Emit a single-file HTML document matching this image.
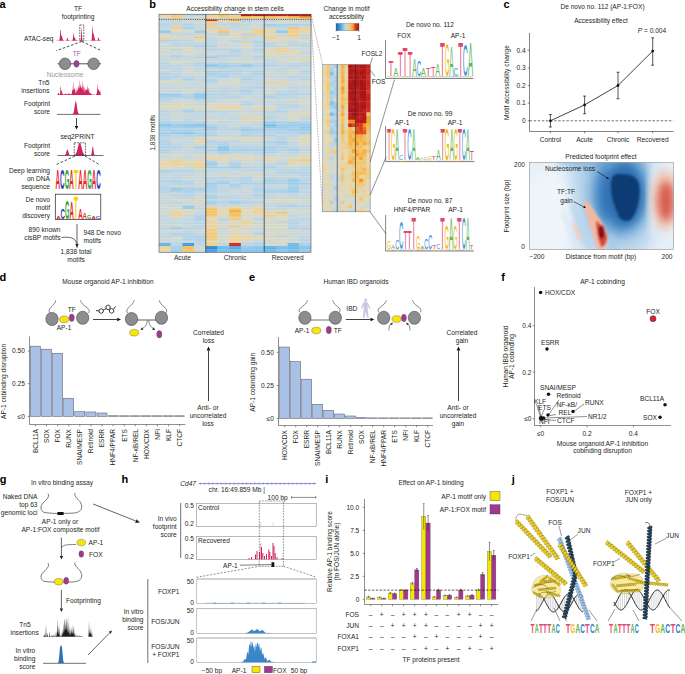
<!DOCTYPE html>
<html><head><meta charset="utf-8"><style>
html,body{margin:0;padding:0;background:#fff;}
body{width:685px;height:674px;overflow:hidden;}
svg{display:block;font-family:"Liberation Sans",sans-serif;}
</style></head><body>
<svg width="685" height="674" viewBox="0 0 685 674" font-size="6.6" fill="#231f20">
<rect width="685" height="674" fill="#fff"/>
<text x="-0.40" y="7.80" font-size="11" fill="#000" font-weight="bold">a</text>
<text x="78.00" y="10.50" text-anchor="middle">TF</text>
<text x="78.00" y="19.00" text-anchor="middle">footprinting</text>
<text x="53.50" y="40.50" text-anchor="end">ATAC-seq</text>
<path d="M56.50,40.80 L56.50,40.72 L56.75,40.29 L57.00,40.34 L57.25,40.65 L57.50,40.50 L57.75,40.53 L58.00,40.41 L58.25,40.33 L58.50,40.74 L58.75,40.77 L59.00,40.25 L59.25,40.30 L59.50,39.37 L59.75,37.93 L60.00,34.33 L60.25,30.51 L60.50,29.16 L60.75,30.38 L61.00,34.06 L61.25,36.02 L61.50,35.78 L61.75,35.71 L62.00,36.12 L62.25,37.35 L62.50,38.38 L62.75,39.07 L63.00,39.92 L63.25,40.21 L63.50,40.32 L63.75,40.41 L64.00,40.62 L64.25,40.65 L64.50,40.66 L64.75,40.52 L65.00,40.63 L65.25,40.79 L65.50,40.30 L65.75,40.47 L66.00,40.41 L66.25,40.64 L66.50,39.97 L66.75,39.48 L67.00,38.91 L67.25,37.80 L67.50,37.46 L67.75,38.33 L68.00,39.26 L68.25,40.23 L68.50,40.23 L68.75,40.39 L69.00,40.62 L69.25,40.45 L69.50,40.27 L69.75,40.29 L70.00,40.50 L70.25,40.45 L70.50,40.78 L70.75,40.65 L71.00,40.32 L71.25,40.55 L71.50,40.70 L71.75,40.47 L72.00,40.36 L72.25,40.31 L72.50,40.20 L72.75,39.28 L73.00,37.41 L73.25,34.79 L73.50,33.17 L73.75,33.47 L74.00,35.45 L74.25,37.94 L74.50,37.77 L74.75,37.54 L75.00,37.81 L75.25,38.62 L75.50,39.33 L75.75,39.95 L76.00,40.09 L76.25,40.01 L76.50,40.25 L76.75,40.44 L77.00,40.27 L77.25,40.66 L77.50,40.49 L77.75,40.23 L78.00,40.45 L78.25,40.52 L78.50,40.64 L78.75,40.47 L79.00,40.23 L79.25,40.80 L79.50,40.33 L79.75,40.31 L80.00,40.27 L80.25,40.35 L80.50,40.22 L80.75,39.78 L81.00,37.36 L81.25,32.36 L81.50,27.81 L81.75,27.96 L82.00,33.43 L82.25,38.27 L82.50,40.00 L82.75,40.45 L83.00,40.58 L83.25,40.59 L83.50,40.48 L83.75,40.43 L84.00,40.43 L84.25,40.53 L84.50,40.78 L84.75,40.66 L85.00,40.69 L85.25,40.45 L85.50,40.28 L85.75,40.32 L86.00,40.32 L86.25,40.31 L86.50,40.65 L86.75,40.29 L87.00,40.40 L87.25,40.75 L87.50,40.79 L87.75,40.79 L88.00,40.35 L88.25,40.65 L88.50,40.73 L88.75,40.43 L89.00,40.59 L89.25,40.76 L89.50,40.70 L89.75,40.48 L90.00,40.70 L90.25,40.64 L90.50,40.37 L90.75,40.52 L91.00,40.58 L91.25,40.44 L91.50,40.44 L91.75,39.00 L92.00,35.68 L92.25,30.46 L92.50,26.20 L92.75,26.28 L93.00,31.40 L93.25,34.05 L93.50,33.44 L93.75,33.69 L94.00,35.18 L94.25,36.54 L94.50,37.83 L94.75,38.62 L95.00,39.76 L95.25,39.92 L95.50,40.19 L95.75,40.40 L96.00,40.64 L96.25,40.21 L96.50,40.32 L96.75,40.49 L97.00,40.66 L97.25,40.38 L97.50,40.41 L97.75,39.85 L98.00,39.00 L98.25,37.54 L98.50,37.26 L98.75,37.74 L99.00,38.62 L99.25,39.67 L99.50,40.46 L99.75,40.26 L100.00,40.61 L100.25,40.24 L100.50,40.35 L100.75,40.55 L101.00,40.65 L101.25,40.79 L101.50,40.27 L101.50,40.80 Z" fill="#d0245a"/>
<rect x="79.80" y="25.00" width="4.00" height="16.00" fill="none" stroke="#222" stroke-width="0.7" stroke-dasharray="1.8,1"/>
<line x1="81.80" y1="41.50" x2="56.20" y2="50.70" stroke="#222" stroke-width="0.8" stroke-dasharray="2.6,1.8"/>
<line x1="81.80" y1="41.50" x2="101.50" y2="50.70" stroke="#222" stroke-width="0.8" stroke-dasharray="2.6,1.8"/>
<text x="76.70" y="56.00" text-anchor="middle" fill="#b24fb0">TF</text>
<line x1="57.50" y1="63.80" x2="101.00" y2="63.80" stroke="#444" stroke-width="0.9"/>
<ellipse cx="65.00" cy="63.80" rx="5.80" ry="5.80" fill="#8b8d91" stroke="#333" stroke-width="0.5"/>
<ellipse cx="93.60" cy="63.80" rx="5.80" ry="5.80" fill="#8b8d91" stroke="#333" stroke-width="0.5"/>
<ellipse cx="76.50" cy="63.80" rx="2.60" ry="3.40" fill="#a0409e" stroke="#333" stroke-width="0.4"/>
<text x="65.00" y="76.50" text-anchor="middle" fill="#9a9a9a">Nucleosome</text>
<text x="49.50" y="85.30" text-anchor="end">Tn5</text>
<text x="49.50" y="93.20" text-anchor="end">insertions</text>
<path d="M57.20,95.00 L57.20,94.04 L57.45,94.05 L57.70,94.89 L57.95,94.54 L58.20,92.94 L58.45,92.29 L58.70,92.74 L58.95,94.06 L59.20,94.27 L59.46,94.38 L59.71,94.37 L59.96,94.42 L60.21,92.24 L60.46,88.12 L60.71,85.28 L60.96,87.80 L61.21,90.49 L61.46,90.46 L61.71,90.79 L61.96,91.75 L62.21,92.98 L62.46,93.87 L62.71,94.02 L62.96,94.48 L63.21,94.55 L63.46,94.09 L63.71,94.44 L63.97,94.32 L64.22,94.47 L64.47,94.41 L64.72,93.82 L64.97,93.87 L65.22,93.58 L65.47,93.36 L65.72,93.97 L65.97,94.67 L66.22,94.06 L66.47,94.19 L66.72,94.26 L66.97,94.09 L67.22,94.23 L67.47,94.20 L67.72,94.60 L67.97,93.87 L68.23,93.68 L68.48,94.15 L68.73,93.21 L68.98,93.09 L69.23,93.46 L69.48,93.71 L69.73,94.10 L69.98,93.90 L70.23,94.44 L70.48,94.15 L70.73,94.64 L70.98,94.11 L71.23,94.07 L71.48,94.34 L71.73,93.64 L71.98,91.90 L72.23,90.26 L72.49,89.52 L72.74,90.57 L72.99,84.96 L73.24,80.45 L73.49,87.60 L73.74,90.33 L73.99,89.98 L74.24,88.44 L74.49,88.69 L74.74,88.34 L74.99,89.45 L75.24,90.81 L75.49,91.98 L75.74,92.83 L75.99,93.40 L76.24,92.78 L76.49,91.19 L76.74,89.22 L77.00,88.07 L77.25,89.06 L77.50,91.26 L77.75,90.63 L78.00,90.18 L78.25,86.71 L78.50,85.81 L78.75,86.85 L79.00,88.94 L79.25,87.92 L79.50,87.14 L79.75,79.56 L80.00,82.95 L80.25,87.44 L80.50,86.98 L80.75,83.27 L81.00,86.04 L81.26,87.70 L81.51,87.33 L81.76,88.16 L82.01,88.29 L82.26,82.22 L82.51,80.98 L82.76,89.47 L83.01,90.30 L83.26,87.66 L83.51,84.05 L83.76,88.12 L84.01,91.93 L84.26,92.52 L84.51,89.03 L84.76,86.23 L85.01,88.20 L85.26,91.50 L85.51,90.96 L85.77,89.56 L86.02,88.96 L86.27,89.12 L86.52,89.85 L86.77,90.11 L87.02,90.18 L87.27,90.47 L87.52,86.55 L87.77,85.27 L88.02,90.27 L88.27,92.05 L88.52,89.05 L88.77,87.25 L89.02,88.27 L89.27,90.62 L89.52,92.88 L89.77,93.61 L90.03,93.34 L90.28,93.17 L90.53,93.28 L90.78,93.05 L91.03,93.82 L91.28,94.45 L91.53,94.37 L91.78,94.07 L92.03,94.86 L92.28,94.41 L92.53,94.61 L92.78,94.49 L93.03,94.86 L93.28,94.04 L93.53,94.74 L93.78,94.39 L94.03,94.58 L94.29,94.98 L94.54,94.44 L94.79,94.86 L95.04,94.94 L95.29,94.96 L95.54,94.83 L95.79,94.89 L96.04,94.32 L96.29,94.38 L96.54,93.77 L96.79,93.56 L97.04,91.77 L97.29,86.28 L97.54,82.73 L97.79,88.71 L98.04,90.16 L98.29,89.54 L98.54,89.21 L98.80,89.62 L99.05,90.78 L99.30,91.53 L99.55,92.35 L99.80,91.01 L100.05,90.03 L100.30,91.55 L100.55,93.95 L100.80,94.13 L100.80,95.00 Z" fill="#d0245a"/>
<text x="50.00" y="106.00" text-anchor="end">Footprint</text>
<text x="50.00" y="114.00" text-anchor="end">score</text>
<line x1="57.00" y1="114.40" x2="100.40" y2="114.40" stroke="#333" stroke-width="0.7"/>
<path d="M70.00,114.20 L70.00,114.20 L70.25,114.20 L70.50,114.20 L70.75,114.20 L71.00,114.20 L71.25,114.20 L71.50,114.19 L71.75,114.19 L72.00,114.17 L72.25,114.13 L72.50,114.06 L72.75,113.92 L73.00,113.69 L73.25,113.31 L73.50,112.74 L73.75,111.91 L74.00,110.79 L74.25,109.38 L74.50,107.73 L74.75,105.96 L75.00,104.22 L75.25,102.73 L75.50,101.67 L75.75,101.21 L76.00,101.41 L76.25,102.24 L76.50,103.58 L76.75,105.25 L77.00,107.03 L77.25,108.75 L77.50,110.26 L77.75,111.50 L78.00,112.44 L78.25,113.11 L78.50,113.56 L78.75,113.84 L79.00,114.01 L79.25,114.10 L79.50,114.15 L79.75,114.18 L80.00,114.19 L80.25,114.20 L80.50,114.20 L80.75,114.20 L81.00,114.20 L81.25,114.20 L81.50,114.20 L81.75,114.20 L82.00,114.20 L82.00,114.20 Z" fill="#d0245a"/>
<line x1="76.50" y1="118.00" x2="76.50" y2="125.90" stroke="#111" stroke-width="0.8"/>
<path d="M76.50,129.50 L74.70,125.90 L78.30,125.90 Z" fill="#111"/>
<text x="77.50" y="138.50" text-anchor="middle">seq2PRINT</text>
<text x="50.00" y="148.00" text-anchor="end">Footprint</text>
<text x="50.00" y="155.70" text-anchor="end">score</text>
<line x1="57.40" y1="155.50" x2="103.50" y2="155.50" stroke="#333" stroke-width="0.7"/>
<path d="M62.00,155.30 L62.00,155.30 L62.25,155.30 L62.50,155.30 L62.75,155.30 L63.00,155.30 L63.25,155.30 L63.50,155.30 L63.75,155.29 L64.00,155.28 L64.25,155.26 L64.50,155.21 L64.75,155.13 L65.00,154.97 L65.25,154.73 L65.50,154.35 L65.75,153.81 L66.00,153.12 L66.25,152.31 L66.50,151.43 L66.75,150.60 L67.00,149.95 L67.25,149.56 L67.50,149.53 L67.75,149.84 L68.00,150.46 L68.25,151.26 L68.50,152.13 L68.75,152.97 L69.00,153.69 L69.25,154.25 L69.50,154.66 L69.75,154.93 L70.00,155.10 L70.25,155.20 L70.50,155.25 L70.75,155.28 L71.00,155.29 L71.25,155.30 L71.50,155.30 L71.75,155.30 L72.00,155.30 L72.25,155.29 L72.50,155.29 L72.75,155.28 L73.00,155.28 L73.25,155.26 L73.50,155.24 L73.75,155.21 L74.00,155.16 L74.25,155.10 L74.50,155.00 L74.75,154.88 L75.00,154.71 L75.25,154.50 L75.50,154.21 L75.75,153.86 L76.00,153.42 L76.25,152.90 L76.50,152.27 L76.75,151.56 L77.00,150.75 L77.25,149.86 L77.50,148.91 L77.75,147.92 L78.00,146.92 L78.25,145.96 L78.50,145.06 L78.75,144.27 L79.00,143.62 L79.25,143.15 L79.50,142.87 L79.75,142.80 L80.00,142.95 L80.25,143.31 L80.50,143.86 L80.75,144.57 L81.00,145.41 L81.25,146.34 L81.50,147.32 L81.75,148.32 L82.00,149.29 L82.25,150.22 L82.50,151.08 L82.75,151.85 L83.00,152.53 L83.25,153.12 L83.50,153.61 L83.75,154.01 L84.00,154.33 L84.25,154.59 L84.50,154.79 L84.75,154.93 L85.00,155.04 L85.25,155.12 L85.50,155.18 L85.75,155.22 L86.00,155.25 L86.25,155.27 L86.50,155.28 L86.75,155.29 L87.00,155.29 L87.25,155.30 L87.50,155.30 L87.75,155.30 L88.00,155.30 L88.25,155.30 L88.50,155.30 L88.75,155.30 L89.00,155.30 L89.25,155.30 L89.50,155.30 L89.75,155.30 L90.00,155.30 L90.25,155.29 L90.50,155.26 L90.75,155.18 L91.00,154.97 L91.25,154.52 L91.50,153.70 L91.75,152.38 L92.00,150.62 L92.25,148.69 L92.50,147.09 L92.75,146.32 L93.00,146.66 L93.25,147.98 L93.50,149.84 L93.75,151.72 L94.00,153.23 L94.25,154.25 L94.50,154.83 L94.75,155.11 L95.00,155.24 L95.25,155.28 L95.50,155.29 L95.75,155.30 L96.00,155.30 L96.25,155.30 L96.50,155.30 L96.75,155.30 L97.00,155.30 L97.25,155.30 L97.50,155.30 L97.75,155.30 L98.00,155.30 L98.00,155.30 Z" fill="#d0245a"/>
<rect x="74.30" y="142.80" width="11.10" height="12.40" fill="none" stroke="#222" stroke-width="0.7" stroke-dasharray="1.8,1"/>
<line x1="75.00" y1="156.00" x2="55.30" y2="165.00" stroke="#222" stroke-width="0.8" stroke-dasharray="2.6,1.8"/>
<line x1="85.00" y1="156.00" x2="100.00" y2="165.00" stroke="#222" stroke-width="0.8" stroke-dasharray="2.6,1.8"/>
<text x="50.00" y="173.00" text-anchor="end">Deep learning</text>
<text x="50.00" y="181.00" text-anchor="end">on DNA</text>
<text x="50.00" y="189.00" text-anchor="end">sequence</text>
<text x="50.00" y="201.50" text-anchor="end">De novo</text>
<text x="50.00" y="209.50" text-anchor="end">motif</text>
<text x="50.00" y="217.50" text-anchor="end">discovery</text>
<text transform="translate(55.60,188.50) scale(0.626,2.723)" font-size="10.0" font-weight="bold" fill="#e8262b">A</text>
<text transform="translate(60.12,188.50) scale(0.626,2.723)" font-size="10.0" font-weight="bold" fill="#2a3bbf">C</text>
<text transform="translate(64.64,188.50) scale(0.581,2.723)" font-size="10.0" font-weight="bold" fill="#2ea836">G</text>
<text transform="translate(69.16,188.50) scale(0.626,2.723)" font-size="10.0" font-weight="bold" fill="#e8262b">A</text>
<text transform="translate(73.68,188.50) scale(0.740,2.723)" font-size="10.0" font-weight="bold" fill="#f4d20a">T</text>
<text transform="translate(78.20,188.50) scale(0.626,2.723)" font-size="10.0" font-weight="bold" fill="#e8262b">A</text>
<text transform="translate(82.72,188.50) scale(0.626,2.723)" font-size="10.0" font-weight="bold" fill="#e8262b">A</text>
<text transform="translate(87.24,188.50) scale(0.581,2.723)" font-size="10.0" font-weight="bold" fill="#2ea836">G</text>
<text transform="translate(91.76,188.50) scale(0.626,2.723)" font-size="10.0" font-weight="bold" fill="#e8262b">A</text>
<text transform="translate(96.28,188.50) scale(0.626,2.723)" font-size="10.0" font-weight="bold" fill="#2a3bbf">C</text>
<rect x="55.30" y="194.20" width="45.50" height="25.30" fill="none" stroke="#222" stroke-width="0.7"/>
<text transform="translate(56.20,219.00) scale(0.609,0.349)" font-size="10.0" font-weight="bold" fill="#e8262b">A</text>
<text transform="translate(60.60,219.00) scale(0.609,1.536)" font-size="10.0" font-weight="bold" fill="#2a3bbf">C</text>
<text transform="translate(65.00,219.00) scale(0.566,2.654)" font-size="10.0" font-weight="bold" fill="#2ea836">G</text>
<text transform="translate(69.40,219.00) scale(0.609,2.374)" font-size="10.0" font-weight="bold" fill="#e8262b">A</text>
<text transform="translate(73.80,219.00) scale(0.720,3.212)" font-size="10.0" font-weight="bold" fill="#f4d20a">T</text>
<text transform="translate(78.20,219.00) scale(0.609,1.536)" font-size="10.0" font-weight="bold" fill="#e8262b">A</text>
<text transform="translate(82.60,219.00) scale(0.609,0.838)" font-size="10.0" font-weight="bold" fill="#e8262b">A</text>
<text transform="translate(87.00,219.00) scale(0.566,0.559)" font-size="10.0" font-weight="bold" fill="#2ea836">G</text>
<text transform="translate(91.40,219.00) scale(0.609,0.419)" font-size="10.0" font-weight="bold" fill="#e8262b">A</text>
<text transform="translate(95.80,219.00) scale(0.609,0.419)" font-size="10.0" font-weight="bold" fill="#2a3bbf">C</text>
<text x="60.50" y="231.50" text-anchor="end">890 known</text>
<text x="60.50" y="239.50" text-anchor="end">cisBP motifs</text>
<text x="83.50" y="234.50">948 De novo</text>
<text x="83.50" y="242.50">motifs</text>
<line x1="77.00" y1="224.00" x2="77.00" y2="244.00" stroke="#222" stroke-width="0.7"/>
<path d="M61.5,237.5 C70,236.5 75.5,238 76.3,243" fill="none" stroke="#222" stroke-width="0.7"/>
<path d="M77,248.5 L75.4,243.8 L78.6,243.8 Z" fill="#222"/>
<text x="76.00" y="253.50" text-anchor="middle">1,838 total</text>
<text x="76.00" y="261.50" text-anchor="middle">motifs</text>
<text x="149.20" y="7.70" font-size="11" fill="#000" font-weight="bold">b</text>
<text x="235.00" y="10.50" text-anchor="middle">Accessibility change in stem cells</text>
<rect x="159.00" y="14.20" width="11.74" height="1.85" fill="#ded8bc"/>
<rect x="170.69" y="14.20" width="11.74" height="1.85" fill="#eece8e"/>
<rect x="182.38" y="14.20" width="11.74" height="1.85" fill="#c8d8de"/>
<rect x="194.08" y="14.20" width="11.74" height="1.85" fill="#b1d3e7"/>
<rect x="205.77" y="14.20" width="11.74" height="1.85" fill="#e7d6ac"/>
<rect x="217.46" y="14.20" width="11.74" height="1.85" fill="#f3c56f"/>
<rect x="229.15" y="14.20" width="11.74" height="1.85" fill="#e7d6ac"/>
<rect x="240.85" y="14.20" width="11.74" height="1.85" fill="#b61b1a"/>
<rect x="252.54" y="14.20" width="11.74" height="1.85" fill="#b61b1a"/>
<rect x="264.23" y="14.20" width="11.74" height="1.85" fill="#c4211c"/>
<rect x="275.92" y="14.20" width="11.74" height="1.85" fill="#c4211c"/>
<rect x="287.62" y="14.20" width="11.74" height="1.85" fill="#b61b1a"/>
<rect x="299.31" y="14.20" width="11.74" height="1.85" fill="#b61b1a"/>
<rect x="159.00" y="16.00" width="11.74" height="1.85" fill="#ded8bc"/>
<rect x="170.69" y="16.00" width="11.74" height="1.85" fill="#f0ca7e"/>
<rect x="182.38" y="16.00" width="11.74" height="1.85" fill="#c1d6e2"/>
<rect x="194.08" y="16.00" width="11.74" height="1.85" fill="#d6d9cc"/>
<rect x="205.77" y="16.00" width="11.74" height="1.85" fill="#ebd39d"/>
<rect x="217.46" y="16.00" width="11.74" height="1.85" fill="#f0ca7e"/>
<rect x="229.15" y="16.00" width="11.74" height="1.85" fill="#eece8e"/>
<rect x="240.85" y="16.00" width="11.74" height="1.85" fill="#f5b850"/>
<rect x="252.54" y="16.00" width="11.74" height="1.85" fill="#f5c060"/>
<rect x="264.23" y="16.00" width="11.74" height="1.85" fill="#f5b850"/>
<rect x="275.92" y="16.00" width="11.74" height="1.85" fill="#f5c060"/>
<rect x="287.62" y="16.00" width="11.74" height="1.85" fill="#f5b040"/>
<rect x="299.31" y="16.00" width="11.74" height="1.85" fill="#ec8220"/>
<rect x="159.00" y="17.80" width="11.74" height="1.65" fill="#d9d8c6"/>
<rect x="170.69" y="17.80" width="11.74" height="1.65" fill="#ebd39d"/>
<rect x="182.38" y="17.80" width="11.74" height="1.65" fill="#cfd8d5"/>
<rect x="194.08" y="17.80" width="11.74" height="1.65" fill="#cfd8d5"/>
<rect x="205.77" y="17.80" width="11.74" height="1.65" fill="#e7d6ac"/>
<rect x="217.46" y="17.80" width="11.74" height="1.65" fill="#ebd39d"/>
<rect x="229.15" y="17.80" width="11.74" height="1.65" fill="#e7d6ac"/>
<rect x="240.85" y="17.80" width="11.74" height="1.65" fill="#ebd39d"/>
<rect x="252.54" y="17.80" width="11.74" height="1.65" fill="#e7d6ac"/>
<rect x="264.23" y="17.80" width="11.74" height="1.65" fill="#eece8e"/>
<rect x="275.92" y="17.80" width="11.74" height="1.65" fill="#e7d6ac"/>
<rect x="287.62" y="17.80" width="11.74" height="1.65" fill="#eece8e"/>
<rect x="299.31" y="17.80" width="11.74" height="1.65" fill="#f0ca7e"/>
<defs><clipPath id="hmc"><rect x="159" y="19.4" width="152" height="232.9"/></clipPath><filter id="vb" x="-5%" y="-5%" width="110%" height="110%"><feGaussianBlur stdDeviation="0.25 0.45"/></filter></defs>
<g clip-path="url(#hmc)"><g filter="url(#vb)">
<rect x="159.00" y="19.40" width="11.99" height="1.85" fill="#c2d7e1"/>
<rect x="170.69" y="19.40" width="11.99" height="1.85" fill="#d8d9c9"/>
<rect x="182.38" y="19.40" width="11.99" height="1.85" fill="#d5d9cd"/>
<rect x="194.08" y="19.40" width="11.99" height="1.85" fill="#d0d9d4"/>
<rect x="205.77" y="19.40" width="11.99" height="1.85" fill="#d2281e"/>
<rect x="217.46" y="19.40" width="11.99" height="1.85" fill="#cfd8d5"/>
<rect x="229.15" y="19.40" width="11.99" height="1.85" fill="#f5a830"/>
<rect x="240.85" y="19.40" width="11.99" height="1.85" fill="#bcd5e5"/>
<rect x="252.54" y="19.40" width="11.99" height="1.85" fill="#c9d8dd"/>
<rect x="264.23" y="19.40" width="11.99" height="1.85" fill="#c5d7e0"/>
<rect x="275.92" y="19.40" width="11.99" height="1.85" fill="#ccd8d9"/>
<rect x="287.62" y="19.40" width="11.99" height="1.85" fill="#cfd9d4"/>
<rect x="299.31" y="19.40" width="11.99" height="1.85" fill="#d4d9ce"/>
<rect x="159.00" y="20.95" width="11.99" height="1.85" fill="#c4d7e0"/>
<rect x="170.69" y="20.95" width="11.99" height="1.85" fill="#bbd5e5"/>
<rect x="182.38" y="20.95" width="11.99" height="1.85" fill="#ccd8d8"/>
<rect x="194.08" y="20.95" width="11.99" height="1.85" fill="#bfd6e3"/>
<rect x="205.77" y="20.95" width="11.99" height="1.85" fill="#eece8e"/>
<rect x="217.46" y="20.95" width="11.99" height="1.85" fill="#cfd8d5"/>
<rect x="229.15" y="20.95" width="11.99" height="1.85" fill="#e7d6ac"/>
<rect x="240.85" y="20.95" width="11.99" height="1.85" fill="#b4d3e7"/>
<rect x="252.54" y="20.95" width="11.99" height="1.85" fill="#c6d8df"/>
<rect x="264.23" y="20.95" width="11.99" height="1.85" fill="#c1d6e2"/>
<rect x="275.92" y="20.95" width="11.99" height="1.85" fill="#d1d9d2"/>
<rect x="287.62" y="20.95" width="11.99" height="1.85" fill="#ced8d7"/>
<rect x="299.31" y="20.95" width="11.99" height="1.85" fill="#bbd5e5"/>
<rect x="159.00" y="22.51" width="11.99" height="1.85" fill="#bbd5e6"/>
<rect x="170.69" y="22.51" width="11.99" height="1.85" fill="#c0d6e3"/>
<rect x="182.38" y="22.51" width="11.99" height="1.85" fill="#bdd6e4"/>
<rect x="194.08" y="22.51" width="11.99" height="1.85" fill="#d4d9cf"/>
<rect x="205.77" y="22.51" width="11.99" height="1.85" fill="#eece8e"/>
<rect x="217.46" y="22.51" width="11.99" height="1.85" fill="#c5d7e0"/>
<rect x="229.15" y="22.51" width="11.99" height="1.85" fill="#b8d5e6"/>
<rect x="240.85" y="22.51" width="11.99" height="1.85" fill="#ced8d6"/>
<rect x="252.54" y="22.51" width="11.99" height="1.85" fill="#d0d9d4"/>
<rect x="264.23" y="22.51" width="11.99" height="1.85" fill="#cfd8d5"/>
<rect x="275.92" y="22.51" width="11.99" height="1.85" fill="#cfd9d5"/>
<rect x="287.62" y="22.51" width="11.99" height="1.85" fill="#c6d8df"/>
<rect x="299.31" y="22.51" width="11.99" height="1.85" fill="#d1d9d3"/>
<rect x="159.00" y="24.06" width="11.99" height="1.85" fill="#b7d4e6"/>
<rect x="170.69" y="24.06" width="11.99" height="1.85" fill="#bfd6e3"/>
<rect x="182.38" y="24.06" width="11.99" height="1.85" fill="#afd2e8"/>
<rect x="194.08" y="24.06" width="11.99" height="1.85" fill="#c2d7e2"/>
<rect x="205.77" y="24.06" width="11.99" height="1.85" fill="#bfd6e3"/>
<rect x="217.46" y="24.06" width="11.99" height="1.85" fill="#b8d5e6"/>
<rect x="229.15" y="24.06" width="11.99" height="1.85" fill="#b9d5e6"/>
<rect x="240.85" y="24.06" width="11.99" height="1.85" fill="#c3d7e1"/>
<rect x="252.54" y="24.06" width="11.99" height="1.85" fill="#c9d8dd"/>
<rect x="264.23" y="24.06" width="11.99" height="1.85" fill="#9ecdea"/>
<rect x="275.92" y="24.06" width="11.99" height="1.85" fill="#a9d1e9"/>
<rect x="287.62" y="24.06" width="11.99" height="1.85" fill="#a5cfe9"/>
<rect x="299.31" y="24.06" width="11.99" height="1.85" fill="#aed2e8"/>
<rect x="159.00" y="25.61" width="11.99" height="1.85" fill="#bdd6e4"/>
<rect x="170.69" y="25.61" width="11.99" height="1.85" fill="#eece8e"/>
<rect x="182.38" y="25.61" width="11.99" height="1.85" fill="#bcd5e5"/>
<rect x="194.08" y="25.61" width="11.99" height="1.85" fill="#c5d7e0"/>
<rect x="205.77" y="25.61" width="11.99" height="1.85" fill="#edd094"/>
<rect x="217.46" y="25.61" width="11.99" height="1.85" fill="#d6d9cd"/>
<rect x="229.15" y="25.61" width="11.99" height="1.85" fill="#bbd5e5"/>
<rect x="240.85" y="25.61" width="11.99" height="1.85" fill="#cad8db"/>
<rect x="252.54" y="25.61" width="11.99" height="1.85" fill="#ced8d6"/>
<rect x="264.23" y="25.61" width="11.99" height="1.85" fill="#aad1e8"/>
<rect x="275.92" y="25.61" width="11.99" height="1.85" fill="#b3d3e7"/>
<rect x="287.62" y="25.61" width="11.99" height="1.85" fill="#c2d7e2"/>
<rect x="299.31" y="25.61" width="11.99" height="1.85" fill="#c4d7e0"/>
<rect x="159.00" y="27.16" width="11.99" height="1.85" fill="#bcd5e5"/>
<rect x="170.69" y="27.16" width="11.99" height="1.85" fill="#eece8e"/>
<rect x="182.38" y="27.16" width="11.99" height="1.85" fill="#a2cfea"/>
<rect x="194.08" y="27.16" width="11.99" height="1.85" fill="#c5d7e0"/>
<rect x="205.77" y="27.16" width="11.99" height="1.85" fill="#edd094"/>
<rect x="217.46" y="27.16" width="11.99" height="1.85" fill="#efcd89"/>
<rect x="229.15" y="27.16" width="11.99" height="1.85" fill="#c5d7e0"/>
<rect x="240.85" y="27.16" width="11.99" height="1.85" fill="#dbd8c3"/>
<rect x="252.54" y="27.16" width="11.99" height="1.85" fill="#ced8d6"/>
<rect x="264.23" y="27.16" width="11.99" height="1.85" fill="#c7d8de"/>
<rect x="275.92" y="27.16" width="11.99" height="1.85" fill="#bad5e6"/>
<rect x="287.62" y="27.16" width="11.99" height="1.85" fill="#f3c56f"/>
<rect x="299.31" y="27.16" width="11.99" height="1.85" fill="#ebd39d"/>
<rect x="159.00" y="28.72" width="11.99" height="1.85" fill="#cfd9d5"/>
<rect x="170.69" y="28.72" width="11.99" height="1.85" fill="#d7d9cb"/>
<rect x="182.38" y="28.72" width="11.99" height="1.85" fill="#c4d7e1"/>
<rect x="194.08" y="28.72" width="11.99" height="1.85" fill="#dcd8c0"/>
<rect x="205.77" y="28.72" width="11.99" height="1.85" fill="#e0d7b9"/>
<rect x="217.46" y="28.72" width="11.99" height="1.85" fill="#c8d8de"/>
<rect x="229.15" y="28.72" width="11.99" height="1.85" fill="#cad8db"/>
<rect x="240.85" y="28.72" width="11.99" height="1.85" fill="#c1d7e2"/>
<rect x="252.54" y="28.72" width="11.99" height="1.85" fill="#edd094"/>
<rect x="264.23" y="28.72" width="11.99" height="1.85" fill="#e6d7ae"/>
<rect x="275.92" y="28.72" width="11.99" height="1.85" fill="#ced8d6"/>
<rect x="287.62" y="28.72" width="11.99" height="1.85" fill="#eece8e"/>
<rect x="299.31" y="28.72" width="11.99" height="1.85" fill="#e0d7b8"/>
<rect x="159.00" y="30.27" width="11.99" height="1.85" fill="#94caea"/>
<rect x="170.69" y="30.27" width="11.99" height="1.85" fill="#e7d6ac"/>
<rect x="182.38" y="30.27" width="11.99" height="1.85" fill="#d1d9d3"/>
<rect x="194.08" y="30.27" width="11.99" height="1.85" fill="#a0ceea"/>
<rect x="205.77" y="30.27" width="11.99" height="1.85" fill="#d8d9c9"/>
<rect x="217.46" y="30.27" width="11.99" height="1.85" fill="#f3c56f"/>
<rect x="229.15" y="30.27" width="11.99" height="1.85" fill="#cbd8da"/>
<rect x="240.85" y="30.27" width="11.99" height="1.85" fill="#cfd9d5"/>
<rect x="252.54" y="30.27" width="11.99" height="1.85" fill="#eece8e"/>
<rect x="264.23" y="30.27" width="11.99" height="1.85" fill="#e9d6a7"/>
<rect x="275.92" y="30.27" width="11.99" height="1.85" fill="#94caea"/>
<rect x="287.62" y="30.27" width="11.99" height="1.85" fill="#eece8e"/>
<rect x="299.31" y="30.27" width="11.99" height="1.85" fill="#ebd49f"/>
<rect x="159.00" y="31.82" width="11.99" height="1.85" fill="#94caea"/>
<rect x="170.69" y="31.82" width="11.99" height="1.85" fill="#c6d8df"/>
<rect x="182.38" y="31.82" width="11.99" height="1.85" fill="#d3d9d0"/>
<rect x="194.08" y="31.82" width="11.99" height="1.85" fill="#a0ceea"/>
<rect x="205.77" y="31.82" width="11.99" height="1.85" fill="#dbd8c3"/>
<rect x="217.46" y="31.82" width="11.99" height="1.85" fill="#f3c56f"/>
<rect x="229.15" y="31.82" width="11.99" height="1.85" fill="#e3d7b3"/>
<rect x="240.85" y="31.82" width="11.99" height="1.85" fill="#e7d7ad"/>
<rect x="252.54" y="31.82" width="11.99" height="1.85" fill="#eece8e"/>
<rect x="264.23" y="31.82" width="11.99" height="1.85" fill="#e7d6ac"/>
<rect x="275.92" y="31.82" width="11.99" height="1.85" fill="#94caea"/>
<rect x="287.62" y="31.82" width="11.99" height="1.85" fill="#eece8d"/>
<rect x="299.31" y="31.82" width="11.99" height="1.85" fill="#e9d6a8"/>
<rect x="159.00" y="33.37" width="11.99" height="1.85" fill="#cad8dc"/>
<rect x="170.69" y="33.37" width="11.99" height="1.85" fill="#b9d5e6"/>
<rect x="182.38" y="33.37" width="11.99" height="1.85" fill="#b6d4e7"/>
<rect x="194.08" y="33.37" width="11.99" height="1.85" fill="#c3d7e1"/>
<rect x="205.77" y="33.37" width="11.99" height="1.85" fill="#bbd5e5"/>
<rect x="217.46" y="33.37" width="11.99" height="1.85" fill="#a9d1e9"/>
<rect x="229.15" y="33.37" width="11.99" height="1.85" fill="#d2d9d1"/>
<rect x="240.85" y="33.37" width="11.99" height="1.85" fill="#b1d3e7"/>
<rect x="252.54" y="33.37" width="11.99" height="1.85" fill="#eece8e"/>
<rect x="264.23" y="33.37" width="11.99" height="1.85" fill="#ded8bd"/>
<rect x="275.92" y="33.37" width="11.99" height="1.85" fill="#d5d9cd"/>
<rect x="287.62" y="33.37" width="11.99" height="1.85" fill="#ebd49f"/>
<rect x="299.31" y="33.37" width="11.99" height="1.85" fill="#c5d7e0"/>
<rect x="159.00" y="34.93" width="11.99" height="1.85" fill="#ddd8be"/>
<rect x="170.69" y="34.93" width="11.99" height="1.85" fill="#ebd39d"/>
<rect x="182.38" y="34.93" width="11.99" height="1.85" fill="#cdd8d8"/>
<rect x="194.08" y="34.93" width="11.99" height="1.85" fill="#e3d7b4"/>
<rect x="205.77" y="34.93" width="11.99" height="1.85" fill="#d1d9d3"/>
<rect x="217.46" y="34.93" width="11.99" height="1.85" fill="#c0d6e3"/>
<rect x="229.15" y="34.93" width="11.99" height="1.85" fill="#e0d7b9"/>
<rect x="240.85" y="34.93" width="11.99" height="1.85" fill="#c4d7e0"/>
<rect x="252.54" y="34.93" width="11.99" height="1.85" fill="#c2d7e1"/>
<rect x="264.23" y="34.93" width="11.99" height="1.85" fill="#ded8bd"/>
<rect x="275.92" y="34.93" width="11.99" height="1.85" fill="#c5d7e0"/>
<rect x="287.62" y="34.93" width="11.99" height="1.85" fill="#f1c879"/>
<rect x="299.31" y="34.93" width="11.99" height="1.85" fill="#c4d7e0"/>
<rect x="159.00" y="36.48" width="11.99" height="1.85" fill="#ebd5a2"/>
<rect x="170.69" y="36.48" width="11.99" height="1.85" fill="#d2d9d1"/>
<rect x="182.38" y="36.48" width="11.99" height="1.85" fill="#ccd8d9"/>
<rect x="194.08" y="36.48" width="11.99" height="1.85" fill="#f0ca7f"/>
<rect x="205.77" y="36.48" width="11.99" height="1.85" fill="#c8d8de"/>
<rect x="217.46" y="36.48" width="11.99" height="1.85" fill="#d8d9c9"/>
<rect x="229.15" y="36.48" width="11.99" height="1.85" fill="#d6d9cc"/>
<rect x="240.85" y="36.48" width="11.99" height="1.85" fill="#edd093"/>
<rect x="252.54" y="36.48" width="11.99" height="1.85" fill="#c2d7e2"/>
<rect x="264.23" y="36.48" width="11.99" height="1.85" fill="#eecf8f"/>
<rect x="275.92" y="36.48" width="11.99" height="1.85" fill="#ead6a5"/>
<rect x="287.62" y="36.48" width="11.99" height="1.85" fill="#e7d6ab"/>
<rect x="299.31" y="36.48" width="11.99" height="1.85" fill="#c4d7e0"/>
<rect x="159.00" y="38.03" width="11.99" height="1.85" fill="#e5d7b0"/>
<rect x="170.69" y="38.03" width="11.99" height="1.85" fill="#d3d9d0"/>
<rect x="182.38" y="38.03" width="11.99" height="1.85" fill="#d5d9cd"/>
<rect x="194.08" y="38.03" width="11.99" height="1.85" fill="#d9d9c6"/>
<rect x="205.77" y="38.03" width="11.99" height="1.85" fill="#c2d7e2"/>
<rect x="217.46" y="38.03" width="11.99" height="1.85" fill="#ccd8d9"/>
<rect x="229.15" y="38.03" width="11.99" height="1.85" fill="#d2d9d1"/>
<rect x="240.85" y="38.03" width="11.99" height="1.85" fill="#cad8dc"/>
<rect x="252.54" y="38.03" width="11.99" height="1.85" fill="#d2d9d1"/>
<rect x="264.23" y="38.03" width="11.99" height="1.85" fill="#ded8bd"/>
<rect x="275.92" y="38.03" width="11.99" height="1.85" fill="#d1d9d3"/>
<rect x="287.62" y="38.03" width="11.99" height="1.85" fill="#c9d8dd"/>
<rect x="299.31" y="38.03" width="11.99" height="1.85" fill="#c7d8de"/>
<rect x="159.00" y="39.58" width="11.99" height="1.85" fill="#acd1e8"/>
<rect x="170.69" y="39.58" width="11.99" height="1.85" fill="#b1d3e7"/>
<rect x="182.38" y="39.58" width="11.99" height="1.85" fill="#b8d4e6"/>
<rect x="194.08" y="39.58" width="11.99" height="1.85" fill="#cfd8d5"/>
<rect x="205.77" y="39.58" width="11.99" height="1.85" fill="#bbd5e6"/>
<rect x="217.46" y="39.58" width="11.99" height="1.85" fill="#d0d9d4"/>
<rect x="229.15" y="39.58" width="11.99" height="1.85" fill="#bed6e4"/>
<rect x="240.85" y="39.58" width="11.99" height="1.85" fill="#c6d8df"/>
<rect x="252.54" y="39.58" width="11.99" height="1.85" fill="#c1d7e2"/>
<rect x="264.23" y="39.58" width="11.99" height="1.85" fill="#e6d7ad"/>
<rect x="275.92" y="39.58" width="11.99" height="1.85" fill="#ead5a3"/>
<rect x="287.62" y="39.58" width="11.99" height="1.85" fill="#d2d9d1"/>
<rect x="299.31" y="39.58" width="11.99" height="1.85" fill="#ded8bd"/>
<rect x="159.00" y="41.14" width="11.99" height="1.85" fill="#bdd6e4"/>
<rect x="170.69" y="41.14" width="11.99" height="1.85" fill="#cad8dc"/>
<rect x="182.38" y="41.14" width="11.99" height="1.85" fill="#c9d8dd"/>
<rect x="194.08" y="41.14" width="11.99" height="1.85" fill="#d9d9c7"/>
<rect x="205.77" y="41.14" width="11.99" height="1.85" fill="#c4d7e0"/>
<rect x="217.46" y="41.14" width="11.99" height="1.85" fill="#d1d9d3"/>
<rect x="229.15" y="41.14" width="11.99" height="1.85" fill="#bfd6e3"/>
<rect x="240.85" y="41.14" width="11.99" height="1.85" fill="#bcd5e5"/>
<rect x="252.54" y="41.14" width="11.99" height="1.85" fill="#add1e8"/>
<rect x="264.23" y="41.14" width="11.99" height="1.85" fill="#d1d9d2"/>
<rect x="275.92" y="41.14" width="11.99" height="1.85" fill="#d0d9d3"/>
<rect x="287.62" y="41.14" width="11.99" height="1.85" fill="#bfd6e3"/>
<rect x="299.31" y="41.14" width="11.99" height="1.85" fill="#d8d9c8"/>
<rect x="159.00" y="42.69" width="11.99" height="1.85" fill="#d2d9d1"/>
<rect x="170.69" y="42.69" width="11.99" height="1.85" fill="#b8d4e6"/>
<rect x="182.38" y="42.69" width="11.99" height="1.85" fill="#c2d7e1"/>
<rect x="194.08" y="42.69" width="11.99" height="1.85" fill="#bcd5e5"/>
<rect x="205.77" y="42.69" width="11.99" height="1.85" fill="#bdd6e4"/>
<rect x="217.46" y="42.69" width="11.99" height="1.85" fill="#d4d9ce"/>
<rect x="229.15" y="42.69" width="11.99" height="1.85" fill="#d9d9c6"/>
<rect x="240.85" y="42.69" width="11.99" height="1.85" fill="#e9d6a8"/>
<rect x="252.54" y="42.69" width="11.99" height="1.85" fill="#bdd6e4"/>
<rect x="264.23" y="42.69" width="11.99" height="1.85" fill="#b7d4e6"/>
<rect x="275.92" y="42.69" width="11.99" height="1.85" fill="#cad8db"/>
<rect x="287.62" y="42.69" width="11.99" height="1.85" fill="#bed6e4"/>
<rect x="299.31" y="42.69" width="11.99" height="1.85" fill="#c3d7e1"/>
<rect x="159.00" y="44.24" width="11.99" height="1.85" fill="#cfd9d5"/>
<rect x="170.69" y="44.24" width="11.99" height="1.85" fill="#b5d4e7"/>
<rect x="182.38" y="44.24" width="11.99" height="1.85" fill="#b1d3e7"/>
<rect x="194.08" y="44.24" width="11.99" height="1.85" fill="#bcd6e5"/>
<rect x="205.77" y="44.24" width="11.99" height="1.85" fill="#bdd6e4"/>
<rect x="217.46" y="44.24" width="11.99" height="1.85" fill="#c2d7e1"/>
<rect x="229.15" y="44.24" width="11.99" height="1.85" fill="#c9d8dd"/>
<rect x="240.85" y="44.24" width="11.99" height="1.85" fill="#dcd8c0"/>
<rect x="252.54" y="44.24" width="11.99" height="1.85" fill="#bbd5e5"/>
<rect x="264.23" y="44.24" width="11.99" height="1.85" fill="#bcd6e5"/>
<rect x="275.92" y="44.24" width="11.99" height="1.85" fill="#ccd8d9"/>
<rect x="287.62" y="44.24" width="11.99" height="1.85" fill="#b2d3e7"/>
<rect x="299.31" y="44.24" width="11.99" height="1.85" fill="#b6d4e7"/>
<rect x="159.00" y="45.80" width="11.99" height="1.85" fill="#c3d7e1"/>
<rect x="170.69" y="45.80" width="11.99" height="1.85" fill="#c8d8de"/>
<rect x="182.38" y="45.80" width="11.99" height="1.85" fill="#cad8db"/>
<rect x="194.08" y="45.80" width="11.99" height="1.85" fill="#aad1e8"/>
<rect x="205.77" y="45.80" width="11.99" height="1.85" fill="#b0d2e8"/>
<rect x="217.46" y="45.80" width="11.99" height="1.85" fill="#dad8c5"/>
<rect x="229.15" y="45.80" width="11.99" height="1.85" fill="#ccd8d9"/>
<rect x="240.85" y="45.80" width="11.99" height="1.85" fill="#d3d9cf"/>
<rect x="252.54" y="45.80" width="11.99" height="1.85" fill="#bcd6e5"/>
<rect x="264.23" y="45.80" width="11.99" height="1.85" fill="#b5d4e7"/>
<rect x="275.92" y="45.80" width="11.99" height="1.85" fill="#c3d7e1"/>
<rect x="287.62" y="45.80" width="11.99" height="1.85" fill="#d0d9d4"/>
<rect x="299.31" y="45.80" width="11.99" height="1.85" fill="#b9d5e6"/>
<rect x="159.00" y="47.35" width="11.99" height="1.85" fill="#ddd8be"/>
<rect x="170.69" y="47.35" width="11.99" height="1.85" fill="#ded8bd"/>
<rect x="182.38" y="47.35" width="11.99" height="1.85" fill="#e2d7b5"/>
<rect x="194.08" y="47.35" width="11.99" height="1.85" fill="#cdd8d8"/>
<rect x="205.77" y="47.35" width="11.99" height="1.85" fill="#c4d7e0"/>
<rect x="217.46" y="47.35" width="11.99" height="1.85" fill="#cdd8d8"/>
<rect x="229.15" y="47.35" width="11.99" height="1.85" fill="#cad8db"/>
<rect x="240.85" y="47.35" width="11.99" height="1.85" fill="#dad8c4"/>
<rect x="252.54" y="47.35" width="11.99" height="1.85" fill="#c9d8dd"/>
<rect x="264.23" y="47.35" width="11.99" height="1.85" fill="#d1d9d3"/>
<rect x="275.92" y="47.35" width="11.99" height="1.85" fill="#ecd39c"/>
<rect x="287.62" y="47.35" width="11.99" height="1.85" fill="#dfd8bc"/>
<rect x="299.31" y="47.35" width="11.99" height="1.85" fill="#d2d9d2"/>
<rect x="159.00" y="48.90" width="11.99" height="1.85" fill="#ccd8d9"/>
<rect x="170.69" y="48.90" width="11.99" height="1.85" fill="#abd1e8"/>
<rect x="182.38" y="48.90" width="11.99" height="1.85" fill="#d7d9ca"/>
<rect x="194.08" y="48.90" width="11.99" height="1.85" fill="#c5d7df"/>
<rect x="205.77" y="48.90" width="11.99" height="1.85" fill="#add2e8"/>
<rect x="217.46" y="48.90" width="11.99" height="1.85" fill="#b1d2e7"/>
<rect x="229.15" y="48.90" width="11.99" height="1.85" fill="#b8d5e6"/>
<rect x="240.85" y="48.90" width="11.99" height="1.85" fill="#c5d7e0"/>
<rect x="252.54" y="48.90" width="11.99" height="1.85" fill="#add2e8"/>
<rect x="264.23" y="48.90" width="11.99" height="1.85" fill="#ddd8be"/>
<rect x="275.92" y="48.90" width="11.99" height="1.85" fill="#e6d7ae"/>
<rect x="287.62" y="48.90" width="11.99" height="1.85" fill="#c7d8df"/>
<rect x="299.31" y="48.90" width="11.99" height="1.85" fill="#c7d8df"/>
<rect x="159.00" y="50.45" width="11.99" height="1.85" fill="#d2d9d1"/>
<rect x="170.69" y="50.45" width="11.99" height="1.85" fill="#cdd8d8"/>
<rect x="182.38" y="50.45" width="11.99" height="1.85" fill="#d8d9c9"/>
<rect x="194.08" y="50.45" width="11.99" height="1.85" fill="#d3d9d0"/>
<rect x="205.77" y="50.45" width="11.99" height="1.85" fill="#c8d8de"/>
<rect x="217.46" y="50.45" width="11.99" height="1.85" fill="#d1d9d3"/>
<rect x="229.15" y="50.45" width="11.99" height="1.85" fill="#acd1e8"/>
<rect x="240.85" y="50.45" width="11.99" height="1.85" fill="#c6d8df"/>
<rect x="252.54" y="50.45" width="11.99" height="1.85" fill="#bdd6e4"/>
<rect x="264.23" y="50.45" width="11.99" height="1.85" fill="#ded8be"/>
<rect x="275.92" y="50.45" width="11.99" height="1.85" fill="#eecf8f"/>
<rect x="287.62" y="50.45" width="11.99" height="1.85" fill="#dfd8bb"/>
<rect x="299.31" y="50.45" width="11.99" height="1.85" fill="#ced8d7"/>
<rect x="159.00" y="52.01" width="11.99" height="1.85" fill="#cdd8d7"/>
<rect x="170.69" y="52.01" width="11.99" height="1.85" fill="#e0d7b8"/>
<rect x="182.38" y="52.01" width="11.99" height="1.85" fill="#d1d9d2"/>
<rect x="194.08" y="52.01" width="11.99" height="1.85" fill="#ddd8be"/>
<rect x="205.77" y="52.01" width="11.99" height="1.85" fill="#cbd8da"/>
<rect x="217.46" y="52.01" width="11.99" height="1.85" fill="#cdd8d8"/>
<rect x="229.15" y="52.01" width="11.99" height="1.85" fill="#c0d6e3"/>
<rect x="240.85" y="52.01" width="11.99" height="1.85" fill="#c8d8de"/>
<rect x="252.54" y="52.01" width="11.99" height="1.85" fill="#c7d8df"/>
<rect x="264.23" y="52.01" width="11.99" height="1.85" fill="#e1d7b6"/>
<rect x="275.92" y="52.01" width="11.99" height="1.85" fill="#dbd8c3"/>
<rect x="287.62" y="52.01" width="11.99" height="1.85" fill="#e7d6ac"/>
<rect x="299.31" y="52.01" width="11.99" height="1.85" fill="#c0d6e2"/>
<rect x="159.00" y="53.56" width="11.99" height="1.85" fill="#d6d9cc"/>
<rect x="170.69" y="53.56" width="11.99" height="1.85" fill="#c8d8de"/>
<rect x="182.38" y="53.56" width="11.99" height="1.85" fill="#d0d9d3"/>
<rect x="194.08" y="53.56" width="11.99" height="1.85" fill="#bad5e6"/>
<rect x="205.77" y="53.56" width="11.99" height="1.85" fill="#d4d9cf"/>
<rect x="217.46" y="53.56" width="11.99" height="1.85" fill="#c1d7e2"/>
<rect x="229.15" y="53.56" width="11.99" height="1.85" fill="#bdd6e4"/>
<rect x="240.85" y="53.56" width="11.99" height="1.85" fill="#d1d9d2"/>
<rect x="252.54" y="53.56" width="11.99" height="1.85" fill="#d0d9d3"/>
<rect x="264.23" y="53.56" width="11.99" height="1.85" fill="#d5d9cd"/>
<rect x="275.92" y="53.56" width="11.99" height="1.85" fill="#cdd8d7"/>
<rect x="287.62" y="53.56" width="11.99" height="1.85" fill="#ddd8bf"/>
<rect x="299.31" y="53.56" width="11.99" height="1.85" fill="#ccd8d9"/>
<rect x="159.00" y="55.11" width="11.99" height="1.85" fill="#c5d7e0"/>
<rect x="170.69" y="55.11" width="11.99" height="1.85" fill="#b3d3e7"/>
<rect x="182.38" y="55.11" width="11.99" height="1.85" fill="#cfd8d6"/>
<rect x="194.08" y="55.11" width="11.99" height="1.85" fill="#cbd8db"/>
<rect x="205.77" y="55.11" width="11.99" height="1.85" fill="#bdd6e4"/>
<rect x="217.46" y="55.11" width="11.99" height="1.85" fill="#b0d2e7"/>
<rect x="229.15" y="55.11" width="11.99" height="1.85" fill="#aed2e8"/>
<rect x="240.85" y="55.11" width="11.99" height="1.85" fill="#cad8db"/>
<rect x="252.54" y="55.11" width="11.99" height="1.85" fill="#bbd5e5"/>
<rect x="264.23" y="55.11" width="11.99" height="1.85" fill="#e5d7b0"/>
<rect x="275.92" y="55.11" width="11.99" height="1.85" fill="#dfd8bb"/>
<rect x="287.62" y="55.11" width="11.99" height="1.85" fill="#ccd8d9"/>
<rect x="299.31" y="55.11" width="11.99" height="1.85" fill="#d6d9cb"/>
<rect x="159.00" y="56.66" width="11.99" height="1.85" fill="#c9d8dc"/>
<rect x="170.69" y="56.66" width="11.99" height="1.85" fill="#b2d3e7"/>
<rect x="182.38" y="56.66" width="11.99" height="1.85" fill="#bfd6e3"/>
<rect x="194.08" y="56.66" width="11.99" height="1.85" fill="#b0d2e8"/>
<rect x="205.77" y="56.66" width="11.99" height="1.85" fill="#98cbea"/>
<rect x="217.46" y="56.66" width="11.99" height="1.85" fill="#c2d7e2"/>
<rect x="229.15" y="56.66" width="11.99" height="1.85" fill="#cfd8d5"/>
<rect x="240.85" y="56.66" width="11.99" height="1.85" fill="#c3d7e1"/>
<rect x="252.54" y="56.66" width="11.99" height="1.85" fill="#b3d3e7"/>
<rect x="264.23" y="56.66" width="11.99" height="1.85" fill="#ccd8d9"/>
<rect x="275.92" y="56.66" width="11.99" height="1.85" fill="#c6d8df"/>
<rect x="287.62" y="56.66" width="11.99" height="1.85" fill="#cdd8d8"/>
<rect x="299.31" y="56.66" width="11.99" height="1.85" fill="#cad8db"/>
<rect x="159.00" y="58.22" width="11.99" height="1.85" fill="#bdd6e4"/>
<rect x="170.69" y="58.22" width="11.99" height="1.85" fill="#ccd8d9"/>
<rect x="182.38" y="58.22" width="11.99" height="1.85" fill="#c8d8dd"/>
<rect x="194.08" y="58.22" width="11.99" height="1.85" fill="#d1d9d2"/>
<rect x="205.77" y="58.22" width="11.99" height="1.85" fill="#c1d7e2"/>
<rect x="217.46" y="58.22" width="11.99" height="1.85" fill="#c1d7e2"/>
<rect x="229.15" y="58.22" width="11.99" height="1.85" fill="#bed6e4"/>
<rect x="240.85" y="58.22" width="11.99" height="1.85" fill="#c9d8dd"/>
<rect x="252.54" y="58.22" width="11.99" height="1.85" fill="#c2d7e2"/>
<rect x="264.23" y="58.22" width="11.99" height="1.85" fill="#c4d7e0"/>
<rect x="275.92" y="58.22" width="11.99" height="1.85" fill="#d9d9c7"/>
<rect x="287.62" y="58.22" width="11.99" height="1.85" fill="#ded8bd"/>
<rect x="299.31" y="58.22" width="11.99" height="1.85" fill="#e9d6a8"/>
<rect x="159.00" y="59.77" width="11.99" height="1.85" fill="#cdd8d7"/>
<rect x="170.69" y="59.77" width="11.99" height="1.85" fill="#cdd8d7"/>
<rect x="182.38" y="59.77" width="11.99" height="1.85" fill="#ced8d6"/>
<rect x="194.08" y="59.77" width="11.99" height="1.85" fill="#dad8c5"/>
<rect x="205.77" y="59.77" width="11.99" height="1.85" fill="#ced8d7"/>
<rect x="217.46" y="59.77" width="11.99" height="1.85" fill="#c5d7e0"/>
<rect x="229.15" y="59.77" width="11.99" height="1.85" fill="#cfd9d5"/>
<rect x="240.85" y="59.77" width="11.99" height="1.85" fill="#c9d8dd"/>
<rect x="252.54" y="59.77" width="11.99" height="1.85" fill="#c8d8de"/>
<rect x="264.23" y="59.77" width="11.99" height="1.85" fill="#c4d7e0"/>
<rect x="275.92" y="59.77" width="11.99" height="1.85" fill="#d0d9d3"/>
<rect x="287.62" y="59.77" width="11.99" height="1.85" fill="#d2d9d2"/>
<rect x="299.31" y="59.77" width="11.99" height="1.85" fill="#e3d7b2"/>
<rect x="159.00" y="61.32" width="11.99" height="1.85" fill="#c4d7e0"/>
<rect x="170.69" y="61.32" width="11.99" height="1.85" fill="#dfd8ba"/>
<rect x="182.38" y="61.32" width="11.99" height="1.85" fill="#d6d9cc"/>
<rect x="194.08" y="61.32" width="11.99" height="1.85" fill="#c6d7df"/>
<rect x="205.77" y="61.32" width="11.99" height="1.85" fill="#cdd8d8"/>
<rect x="217.46" y="61.32" width="11.99" height="1.85" fill="#cbd8da"/>
<rect x="229.15" y="61.32" width="11.99" height="1.85" fill="#dad8c4"/>
<rect x="240.85" y="61.32" width="11.99" height="1.85" fill="#dad8c4"/>
<rect x="252.54" y="61.32" width="11.99" height="1.85" fill="#d2d9d1"/>
<rect x="264.23" y="61.32" width="11.99" height="1.85" fill="#bfd6e3"/>
<rect x="275.92" y="61.32" width="11.99" height="1.85" fill="#c8d8de"/>
<rect x="287.62" y="61.32" width="11.99" height="1.85" fill="#d6d9cc"/>
<rect x="299.31" y="61.32" width="11.99" height="1.85" fill="#c5d7e0"/>
<rect x="159.00" y="62.87" width="11.99" height="1.85" fill="#b9d5e6"/>
<rect x="170.69" y="62.87" width="11.99" height="1.85" fill="#d0d9d4"/>
<rect x="182.38" y="62.87" width="11.99" height="1.85" fill="#c2d7e1"/>
<rect x="194.08" y="62.87" width="11.99" height="1.85" fill="#b6d4e7"/>
<rect x="205.77" y="62.87" width="11.99" height="1.85" fill="#b1d2e7"/>
<rect x="217.46" y="62.87" width="11.99" height="1.85" fill="#b2d3e7"/>
<rect x="229.15" y="62.87" width="11.99" height="1.85" fill="#b7d4e6"/>
<rect x="240.85" y="62.87" width="11.99" height="1.85" fill="#bdd6e4"/>
<rect x="252.54" y="62.87" width="11.99" height="1.85" fill="#bed6e3"/>
<rect x="264.23" y="62.87" width="11.99" height="1.85" fill="#c1d6e2"/>
<rect x="275.92" y="62.87" width="11.99" height="1.85" fill="#cad8db"/>
<rect x="287.62" y="62.87" width="11.99" height="1.85" fill="#c0d6e3"/>
<rect x="299.31" y="62.87" width="11.99" height="1.85" fill="#b8d4e6"/>
<rect x="159.00" y="64.43" width="11.99" height="1.85" fill="#bcd5e5"/>
<rect x="170.69" y="64.43" width="11.99" height="1.85" fill="#bad5e6"/>
<rect x="182.38" y="64.43" width="11.99" height="1.85" fill="#c0d6e2"/>
<rect x="194.08" y="64.43" width="11.99" height="1.85" fill="#b5d4e7"/>
<rect x="205.77" y="64.43" width="11.99" height="1.85" fill="#84c4e9"/>
<rect x="217.46" y="64.43" width="11.99" height="1.85" fill="#a2ceea"/>
<rect x="229.15" y="64.43" width="11.99" height="1.85" fill="#add2e8"/>
<rect x="240.85" y="64.43" width="11.99" height="1.85" fill="#8fc8ea"/>
<rect x="252.54" y="64.43" width="11.99" height="1.85" fill="#aed2e8"/>
<rect x="264.23" y="64.43" width="11.99" height="1.85" fill="#b0d2e8"/>
<rect x="275.92" y="64.43" width="11.99" height="1.85" fill="#b9d5e6"/>
<rect x="287.62" y="64.43" width="11.99" height="1.85" fill="#b1d3e7"/>
<rect x="299.31" y="64.43" width="11.99" height="1.85" fill="#b4d3e7"/>
<rect x="159.00" y="65.98" width="11.99" height="1.85" fill="#bed6e4"/>
<rect x="170.69" y="65.98" width="11.99" height="1.85" fill="#c3d7e1"/>
<rect x="182.38" y="65.98" width="11.99" height="1.85" fill="#d4d9ce"/>
<rect x="194.08" y="65.98" width="11.99" height="1.85" fill="#c4d7e0"/>
<rect x="205.77" y="65.98" width="11.99" height="1.85" fill="#a0ceea"/>
<rect x="217.46" y="65.98" width="11.99" height="1.85" fill="#a3cfea"/>
<rect x="229.15" y="65.98" width="11.99" height="1.85" fill="#add2e8"/>
<rect x="240.85" y="65.98" width="11.99" height="1.85" fill="#a8d0e9"/>
<rect x="252.54" y="65.98" width="11.99" height="1.85" fill="#bed6e4"/>
<rect x="264.23" y="65.98" width="11.99" height="1.85" fill="#c1d7e2"/>
<rect x="275.92" y="65.98" width="11.99" height="1.85" fill="#c6d8df"/>
<rect x="287.62" y="65.98" width="11.99" height="1.85" fill="#bed6e4"/>
<rect x="299.31" y="65.98" width="11.99" height="1.85" fill="#cad8db"/>
<rect x="159.00" y="67.53" width="11.99" height="1.85" fill="#b8d5e6"/>
<rect x="170.69" y="67.53" width="11.99" height="1.85" fill="#b9d5e6"/>
<rect x="182.38" y="67.53" width="11.99" height="1.85" fill="#c6d8df"/>
<rect x="194.08" y="67.53" width="11.99" height="1.85" fill="#c3d7e1"/>
<rect x="205.77" y="67.53" width="11.99" height="1.85" fill="#b8d4e6"/>
<rect x="217.46" y="67.53" width="11.99" height="1.85" fill="#abd1e8"/>
<rect x="229.15" y="67.53" width="11.99" height="1.85" fill="#c0d6e3"/>
<rect x="240.85" y="67.53" width="11.99" height="1.85" fill="#bbd5e5"/>
<rect x="252.54" y="67.53" width="11.99" height="1.85" fill="#bdd6e4"/>
<rect x="264.23" y="67.53" width="11.99" height="1.85" fill="#c7d8df"/>
<rect x="275.92" y="67.53" width="11.99" height="1.85" fill="#c2d7e1"/>
<rect x="287.62" y="67.53" width="11.99" height="1.85" fill="#bcd6e5"/>
<rect x="299.31" y="67.53" width="11.99" height="1.85" fill="#ccd8d8"/>
<rect x="159.00" y="69.09" width="11.99" height="1.85" fill="#d6d9cc"/>
<rect x="170.69" y="69.09" width="11.99" height="1.85" fill="#c1d6e2"/>
<rect x="182.38" y="69.09" width="11.99" height="1.85" fill="#d6d9cd"/>
<rect x="194.08" y="69.09" width="11.99" height="1.85" fill="#c6d7df"/>
<rect x="205.77" y="69.09" width="11.99" height="1.85" fill="#d1d9d2"/>
<rect x="217.46" y="69.09" width="11.99" height="1.85" fill="#d6d9cc"/>
<rect x="229.15" y="69.09" width="11.99" height="1.85" fill="#bcd5e5"/>
<rect x="240.85" y="69.09" width="11.99" height="1.85" fill="#c9d8dc"/>
<rect x="252.54" y="69.09" width="11.99" height="1.85" fill="#d2d9d1"/>
<rect x="264.23" y="69.09" width="11.99" height="1.85" fill="#cbd8da"/>
<rect x="275.92" y="69.09" width="11.99" height="1.85" fill="#c3d7e1"/>
<rect x="287.62" y="69.09" width="11.99" height="1.85" fill="#d6d9cc"/>
<rect x="299.31" y="69.09" width="11.99" height="1.85" fill="#cfd9d4"/>
<rect x="159.00" y="70.64" width="11.99" height="1.85" fill="#c4d7e0"/>
<rect x="170.69" y="70.64" width="11.99" height="1.85" fill="#bdd6e5"/>
<rect x="182.38" y="70.64" width="11.99" height="1.85" fill="#d2d9d2"/>
<rect x="194.08" y="70.64" width="11.99" height="1.85" fill="#bfd6e3"/>
<rect x="205.77" y="70.64" width="11.99" height="1.85" fill="#a6d0e9"/>
<rect x="217.46" y="70.64" width="11.99" height="1.85" fill="#a7d0e9"/>
<rect x="229.15" y="70.64" width="11.99" height="1.85" fill="#afd2e8"/>
<rect x="240.85" y="70.64" width="11.99" height="1.85" fill="#b5d4e7"/>
<rect x="252.54" y="70.64" width="11.99" height="1.85" fill="#acd1e8"/>
<rect x="264.23" y="70.64" width="11.99" height="1.85" fill="#cad8db"/>
<rect x="275.92" y="70.64" width="11.99" height="1.85" fill="#c3d7e1"/>
<rect x="287.62" y="70.64" width="11.99" height="1.85" fill="#cfd9d5"/>
<rect x="299.31" y="70.64" width="11.99" height="1.85" fill="#b4d3e7"/>
<rect x="159.00" y="72.19" width="11.99" height="1.85" fill="#b4d3e7"/>
<rect x="170.69" y="72.19" width="11.99" height="1.85" fill="#c5d7e0"/>
<rect x="182.38" y="72.19" width="11.99" height="1.85" fill="#d4d9ce"/>
<rect x="194.08" y="72.19" width="11.99" height="1.85" fill="#dad8c5"/>
<rect x="205.77" y="72.19" width="11.99" height="1.85" fill="#afd2e8"/>
<rect x="217.46" y="72.19" width="11.99" height="1.85" fill="#b5d4e7"/>
<rect x="229.15" y="72.19" width="11.99" height="1.85" fill="#bdd6e4"/>
<rect x="240.85" y="72.19" width="11.99" height="1.85" fill="#c6d8df"/>
<rect x="252.54" y="72.19" width="11.99" height="1.85" fill="#b7d4e6"/>
<rect x="264.23" y="72.19" width="11.99" height="1.85" fill="#d5d9ce"/>
<rect x="275.92" y="72.19" width="11.99" height="1.85" fill="#c1d7e2"/>
<rect x="287.62" y="72.19" width="11.99" height="1.85" fill="#d1d9d3"/>
<rect x="299.31" y="72.19" width="11.99" height="1.85" fill="#bbd5e5"/>
<rect x="159.00" y="73.74" width="11.99" height="1.85" fill="#bbd5e5"/>
<rect x="170.69" y="73.74" width="11.99" height="1.85" fill="#bed6e4"/>
<rect x="182.38" y="73.74" width="11.99" height="1.85" fill="#cdd8d8"/>
<rect x="194.08" y="73.74" width="11.99" height="1.85" fill="#d6d9cc"/>
<rect x="205.77" y="73.74" width="11.99" height="1.85" fill="#a6d0e9"/>
<rect x="217.46" y="73.74" width="11.99" height="1.85" fill="#b2d3e7"/>
<rect x="229.15" y="73.74" width="11.99" height="1.85" fill="#bcd5e5"/>
<rect x="240.85" y="73.74" width="11.99" height="1.85" fill="#c2d7e2"/>
<rect x="252.54" y="73.74" width="11.99" height="1.85" fill="#b1d2e7"/>
<rect x="264.23" y="73.74" width="11.99" height="1.85" fill="#c7d8df"/>
<rect x="275.92" y="73.74" width="11.99" height="1.85" fill="#d5d9cd"/>
<rect x="287.62" y="73.74" width="11.99" height="1.85" fill="#d7d9c9"/>
<rect x="299.31" y="73.74" width="11.99" height="1.85" fill="#c8d8de"/>
<rect x="159.00" y="75.30" width="11.99" height="1.85" fill="#b9d5e6"/>
<rect x="170.69" y="75.30" width="11.99" height="1.85" fill="#bcd5e5"/>
<rect x="182.38" y="75.30" width="11.99" height="1.85" fill="#c5d7e0"/>
<rect x="194.08" y="75.30" width="11.99" height="1.85" fill="#c6d8df"/>
<rect x="205.77" y="75.30" width="11.99" height="1.85" fill="#b5d4e7"/>
<rect x="217.46" y="75.30" width="11.99" height="1.85" fill="#a9d0e9"/>
<rect x="229.15" y="75.30" width="11.99" height="1.85" fill="#c1d7e2"/>
<rect x="240.85" y="75.30" width="11.99" height="1.85" fill="#b7d4e6"/>
<rect x="252.54" y="75.30" width="11.99" height="1.85" fill="#b9d5e6"/>
<rect x="264.23" y="75.30" width="11.99" height="1.85" fill="#c8d8de"/>
<rect x="275.92" y="75.30" width="11.99" height="1.85" fill="#c7d8de"/>
<rect x="287.62" y="75.30" width="11.99" height="1.85" fill="#c2d7e2"/>
<rect x="299.31" y="75.30" width="11.99" height="1.85" fill="#bed6e4"/>
<rect x="159.00" y="76.85" width="11.99" height="1.85" fill="#afd2e8"/>
<rect x="170.69" y="76.85" width="11.99" height="1.85" fill="#b6d4e7"/>
<rect x="182.38" y="76.85" width="11.99" height="1.85" fill="#c1d7e2"/>
<rect x="194.08" y="76.85" width="11.99" height="1.85" fill="#c2d7e1"/>
<rect x="205.77" y="76.85" width="11.99" height="1.85" fill="#c1d7e2"/>
<rect x="217.46" y="76.85" width="11.99" height="1.85" fill="#b9d5e6"/>
<rect x="229.15" y="76.85" width="11.99" height="1.85" fill="#bfd6e3"/>
<rect x="240.85" y="76.85" width="11.99" height="1.85" fill="#bbd5e5"/>
<rect x="252.54" y="76.85" width="11.99" height="1.85" fill="#bad5e6"/>
<rect x="264.23" y="76.85" width="11.99" height="1.85" fill="#c7d8df"/>
<rect x="275.92" y="76.85" width="11.99" height="1.85" fill="#c8d8de"/>
<rect x="287.62" y="76.85" width="11.99" height="1.85" fill="#b8d4e6"/>
<rect x="299.31" y="76.85" width="11.99" height="1.85" fill="#c1d7e2"/>
<rect x="159.00" y="78.40" width="11.99" height="1.85" fill="#b1d2e7"/>
<rect x="170.69" y="78.40" width="11.99" height="1.85" fill="#c7d8de"/>
<rect x="182.38" y="78.40" width="11.99" height="1.85" fill="#a5cfe9"/>
<rect x="194.08" y="78.40" width="11.99" height="1.85" fill="#bcd6e5"/>
<rect x="205.77" y="78.40" width="11.99" height="1.85" fill="#b4d3e7"/>
<rect x="217.46" y="78.40" width="11.99" height="1.85" fill="#c6d8df"/>
<rect x="229.15" y="78.40" width="11.99" height="1.85" fill="#d6d9cc"/>
<rect x="240.85" y="78.40" width="11.99" height="1.85" fill="#a9d0e9"/>
<rect x="252.54" y="78.40" width="11.99" height="1.85" fill="#c0d6e3"/>
<rect x="264.23" y="78.40" width="11.99" height="1.85" fill="#ced8d7"/>
<rect x="275.92" y="78.40" width="11.99" height="1.85" fill="#c8d8de"/>
<rect x="287.62" y="78.40" width="11.99" height="1.85" fill="#c5d7e0"/>
<rect x="299.31" y="78.40" width="11.99" height="1.85" fill="#b4d3e7"/>
<rect x="159.00" y="79.95" width="11.99" height="1.85" fill="#c9d8dd"/>
<rect x="170.69" y="79.95" width="11.99" height="1.85" fill="#ccd8d8"/>
<rect x="182.38" y="79.95" width="11.99" height="1.85" fill="#c0d6e3"/>
<rect x="194.08" y="79.95" width="11.99" height="1.85" fill="#c6d8df"/>
<rect x="205.77" y="79.95" width="11.99" height="1.85" fill="#afd2e8"/>
<rect x="217.46" y="79.95" width="11.99" height="1.85" fill="#cdd8d8"/>
<rect x="229.15" y="79.95" width="11.99" height="1.85" fill="#d9d9c7"/>
<rect x="240.85" y="79.95" width="11.99" height="1.85" fill="#c3d7e1"/>
<rect x="252.54" y="79.95" width="11.99" height="1.85" fill="#c2d7e1"/>
<rect x="264.23" y="79.95" width="11.99" height="1.85" fill="#cdd8d8"/>
<rect x="275.92" y="79.95" width="11.99" height="1.85" fill="#ced8d6"/>
<rect x="287.62" y="79.95" width="11.99" height="1.85" fill="#c9d8dc"/>
<rect x="299.31" y="79.95" width="11.99" height="1.85" fill="#c8d8de"/>
<rect x="159.00" y="81.51" width="11.99" height="1.85" fill="#ded8bd"/>
<rect x="170.69" y="81.51" width="11.99" height="1.85" fill="#dbd8c2"/>
<rect x="182.38" y="81.51" width="11.99" height="1.85" fill="#d2d9d1"/>
<rect x="194.08" y="81.51" width="11.99" height="1.85" fill="#cbd8db"/>
<rect x="205.77" y="81.51" width="11.99" height="1.85" fill="#b7d4e7"/>
<rect x="217.46" y="81.51" width="11.99" height="1.85" fill="#d4d9cf"/>
<rect x="229.15" y="81.51" width="11.99" height="1.85" fill="#cdd8d8"/>
<rect x="240.85" y="81.51" width="11.99" height="1.85" fill="#b9d5e6"/>
<rect x="252.54" y="81.51" width="11.99" height="1.85" fill="#bfd6e3"/>
<rect x="264.23" y="81.51" width="11.99" height="1.85" fill="#eece8e"/>
<rect x="275.92" y="81.51" width="11.99" height="1.85" fill="#edd196"/>
<rect x="287.62" y="81.51" width="11.99" height="1.85" fill="#d7d9c9"/>
<rect x="299.31" y="81.51" width="11.99" height="1.85" fill="#d6d9cc"/>
<rect x="159.00" y="83.06" width="11.99" height="1.85" fill="#c8d8de"/>
<rect x="170.69" y="83.06" width="11.99" height="1.85" fill="#d9d8c6"/>
<rect x="182.38" y="83.06" width="11.99" height="1.85" fill="#c5d7e0"/>
<rect x="194.08" y="83.06" width="11.99" height="1.85" fill="#c7d8df"/>
<rect x="205.77" y="83.06" width="11.99" height="1.85" fill="#c7d8df"/>
<rect x="217.46" y="83.06" width="11.99" height="1.85" fill="#d6d9cd"/>
<rect x="229.15" y="83.06" width="11.99" height="1.85" fill="#d6d9cb"/>
<rect x="240.85" y="83.06" width="11.99" height="1.85" fill="#c3d7e1"/>
<rect x="252.54" y="83.06" width="11.99" height="1.85" fill="#bdd6e4"/>
<rect x="264.23" y="83.06" width="11.99" height="1.85" fill="#cfd9d4"/>
<rect x="275.92" y="83.06" width="11.99" height="1.85" fill="#d5d9ce"/>
<rect x="287.62" y="83.06" width="11.99" height="1.85" fill="#cbd8db"/>
<rect x="299.31" y="83.06" width="11.99" height="1.85" fill="#d0d9d4"/>
<rect x="159.00" y="84.61" width="11.99" height="1.85" fill="#c5d7e0"/>
<rect x="170.69" y="84.61" width="11.99" height="1.85" fill="#c5d7e0"/>
<rect x="182.38" y="84.61" width="11.99" height="1.85" fill="#c8d8de"/>
<rect x="194.08" y="84.61" width="11.99" height="1.85" fill="#ced8d6"/>
<rect x="205.77" y="84.61" width="11.99" height="1.85" fill="#cbd8da"/>
<rect x="217.46" y="84.61" width="11.99" height="1.85" fill="#cfd8d5"/>
<rect x="229.15" y="84.61" width="11.99" height="1.85" fill="#cfd8d5"/>
<rect x="240.85" y="84.61" width="11.99" height="1.85" fill="#ccd8d9"/>
<rect x="252.54" y="84.61" width="11.99" height="1.85" fill="#c1d7e2"/>
<rect x="264.23" y="84.61" width="11.99" height="1.85" fill="#ccd8d9"/>
<rect x="275.92" y="84.61" width="11.99" height="1.85" fill="#ced8d6"/>
<rect x="287.62" y="84.61" width="11.99" height="1.85" fill="#c5d7e0"/>
<rect x="299.31" y="84.61" width="11.99" height="1.85" fill="#d0d9d3"/>
<rect x="159.00" y="86.16" width="11.99" height="1.85" fill="#cbd8db"/>
<rect x="170.69" y="86.16" width="11.99" height="1.85" fill="#ccd8d9"/>
<rect x="182.38" y="86.16" width="11.99" height="1.85" fill="#c0d6e2"/>
<rect x="194.08" y="86.16" width="11.99" height="1.85" fill="#c8d8de"/>
<rect x="205.77" y="86.16" width="11.99" height="1.85" fill="#c8d8de"/>
<rect x="217.46" y="86.16" width="11.99" height="1.85" fill="#c8d8de"/>
<rect x="229.15" y="86.16" width="11.99" height="1.85" fill="#cbd8db"/>
<rect x="240.85" y="86.16" width="11.99" height="1.85" fill="#b5d4e7"/>
<rect x="252.54" y="86.16" width="11.99" height="1.85" fill="#b3d3e7"/>
<rect x="264.23" y="86.16" width="11.99" height="1.85" fill="#c3d7e1"/>
<rect x="275.92" y="86.16" width="11.99" height="1.85" fill="#ccd8d9"/>
<rect x="287.62" y="86.16" width="11.99" height="1.85" fill="#bdd6e5"/>
<rect x="299.31" y="86.16" width="11.99" height="1.85" fill="#bcd5e5"/>
<rect x="159.00" y="87.72" width="11.99" height="1.85" fill="#bdd6e4"/>
<rect x="170.69" y="87.72" width="11.99" height="1.85" fill="#c3d7e1"/>
<rect x="182.38" y="87.72" width="11.99" height="1.85" fill="#cdd8d8"/>
<rect x="194.08" y="87.72" width="11.99" height="1.85" fill="#cad8dc"/>
<rect x="205.77" y="87.72" width="11.99" height="1.85" fill="#c2d7e1"/>
<rect x="217.46" y="87.72" width="11.99" height="1.85" fill="#bad5e6"/>
<rect x="229.15" y="87.72" width="11.99" height="1.85" fill="#c4d7e0"/>
<rect x="240.85" y="87.72" width="11.99" height="1.85" fill="#c1d6e2"/>
<rect x="252.54" y="87.72" width="11.99" height="1.85" fill="#b8d4e6"/>
<rect x="264.23" y="87.72" width="11.99" height="1.85" fill="#d5d9cd"/>
<rect x="275.92" y="87.72" width="11.99" height="1.85" fill="#d2d9d2"/>
<rect x="287.62" y="87.72" width="11.99" height="1.85" fill="#cbd8da"/>
<rect x="299.31" y="87.72" width="11.99" height="1.85" fill="#c6d7df"/>
<rect x="159.00" y="89.27" width="11.99" height="1.85" fill="#ced8d6"/>
<rect x="170.69" y="89.27" width="11.99" height="1.85" fill="#ccd8d9"/>
<rect x="182.38" y="89.27" width="11.99" height="1.85" fill="#d3d9cf"/>
<rect x="194.08" y="89.27" width="11.99" height="1.85" fill="#dbd8c3"/>
<rect x="205.77" y="89.27" width="11.99" height="1.85" fill="#ced8d7"/>
<rect x="217.46" y="89.27" width="11.99" height="1.85" fill="#bfd6e3"/>
<rect x="229.15" y="89.27" width="11.99" height="1.85" fill="#c2d7e1"/>
<rect x="240.85" y="89.27" width="11.99" height="1.85" fill="#b0d2e8"/>
<rect x="252.54" y="89.27" width="11.99" height="1.85" fill="#c7d8de"/>
<rect x="264.23" y="89.27" width="11.99" height="1.85" fill="#d2d9d1"/>
<rect x="275.92" y="89.27" width="11.99" height="1.85" fill="#cfd9d5"/>
<rect x="287.62" y="89.27" width="11.99" height="1.85" fill="#c3d7e1"/>
<rect x="299.31" y="89.27" width="11.99" height="1.85" fill="#c8d8de"/>
<rect x="159.00" y="90.82" width="11.99" height="1.85" fill="#c5d7e0"/>
<rect x="170.69" y="90.82" width="11.99" height="1.85" fill="#bad5e6"/>
<rect x="182.38" y="90.82" width="11.99" height="1.85" fill="#d1d9d3"/>
<rect x="194.08" y="90.82" width="11.99" height="1.85" fill="#c5d7e0"/>
<rect x="205.77" y="90.82" width="11.99" height="1.85" fill="#b7d4e6"/>
<rect x="217.46" y="90.82" width="11.99" height="1.85" fill="#bbd5e5"/>
<rect x="229.15" y="90.82" width="11.99" height="1.85" fill="#b9d5e6"/>
<rect x="240.85" y="90.82" width="11.99" height="1.85" fill="#aad1e8"/>
<rect x="252.54" y="90.82" width="11.99" height="1.85" fill="#bfd6e3"/>
<rect x="264.23" y="90.82" width="11.99" height="1.85" fill="#c7d8de"/>
<rect x="275.92" y="90.82" width="11.99" height="1.85" fill="#bad5e6"/>
<rect x="287.62" y="90.82" width="11.99" height="1.85" fill="#bbd5e6"/>
<rect x="299.31" y="90.82" width="11.99" height="1.85" fill="#cad8dc"/>
<rect x="159.00" y="92.38" width="11.99" height="1.85" fill="#c9d8dc"/>
<rect x="170.69" y="92.38" width="11.99" height="1.85" fill="#c9d8dc"/>
<rect x="182.38" y="92.38" width="11.99" height="1.85" fill="#d0d9d3"/>
<rect x="194.08" y="92.38" width="11.99" height="1.85" fill="#b7d4e7"/>
<rect x="205.77" y="92.38" width="11.99" height="1.85" fill="#c4d7e0"/>
<rect x="217.46" y="92.38" width="11.99" height="1.85" fill="#bfd6e3"/>
<rect x="229.15" y="92.38" width="11.99" height="1.85" fill="#cad8dc"/>
<rect x="240.85" y="92.38" width="11.99" height="1.85" fill="#b9d5e6"/>
<rect x="252.54" y="92.38" width="11.99" height="1.85" fill="#cad8dc"/>
<rect x="264.23" y="92.38" width="11.99" height="1.85" fill="#ddd8be"/>
<rect x="275.92" y="92.38" width="11.99" height="1.85" fill="#bcd5e5"/>
<rect x="287.62" y="92.38" width="11.99" height="1.85" fill="#bbd5e5"/>
<rect x="299.31" y="92.38" width="11.99" height="1.85" fill="#c2d7e1"/>
<rect x="159.00" y="93.93" width="11.99" height="1.85" fill="#8fc8ea"/>
<rect x="170.69" y="93.93" width="11.99" height="1.85" fill="#94caea"/>
<rect x="182.38" y="93.93" width="11.99" height="1.85" fill="#b1d2e7"/>
<rect x="194.08" y="93.93" width="11.99" height="1.85" fill="#8ac7ea"/>
<rect x="205.77" y="93.93" width="11.99" height="1.85" fill="#b0d2e8"/>
<rect x="217.46" y="93.93" width="11.99" height="1.85" fill="#b3d3e7"/>
<rect x="229.15" y="93.93" width="11.99" height="1.85" fill="#c3d7e1"/>
<rect x="240.85" y="93.93" width="11.99" height="1.85" fill="#bdd6e4"/>
<rect x="252.54" y="93.93" width="11.99" height="1.85" fill="#c0d6e3"/>
<rect x="264.23" y="93.93" width="11.99" height="1.85" fill="#bed6e4"/>
<rect x="275.92" y="93.93" width="11.99" height="1.85" fill="#a7d0e9"/>
<rect x="287.62" y="93.93" width="11.99" height="1.85" fill="#b6d4e7"/>
<rect x="299.31" y="93.93" width="11.99" height="1.85" fill="#b8d4e6"/>
<rect x="159.00" y="95.48" width="11.99" height="1.85" fill="#a7d0e9"/>
<rect x="170.69" y="95.48" width="11.99" height="1.85" fill="#a1ceea"/>
<rect x="182.38" y="95.48" width="11.99" height="1.85" fill="#b8d4e6"/>
<rect x="194.08" y="95.48" width="11.99" height="1.85" fill="#99cbea"/>
<rect x="205.77" y="95.48" width="11.99" height="1.85" fill="#c3d7e1"/>
<rect x="217.46" y="95.48" width="11.99" height="1.85" fill="#c0d6e3"/>
<rect x="229.15" y="95.48" width="11.99" height="1.85" fill="#bbd5e6"/>
<rect x="240.85" y="95.48" width="11.99" height="1.85" fill="#ccd8d9"/>
<rect x="252.54" y="95.48" width="11.99" height="1.85" fill="#c9d8dc"/>
<rect x="264.23" y="95.48" width="11.99" height="1.85" fill="#afd2e8"/>
<rect x="275.92" y="95.48" width="11.99" height="1.85" fill="#c3d7e1"/>
<rect x="287.62" y="95.48" width="11.99" height="1.85" fill="#c2d7e1"/>
<rect x="299.31" y="95.48" width="11.99" height="1.85" fill="#cdd8d8"/>
<rect x="159.00" y="97.03" width="11.99" height="1.85" fill="#afd2e8"/>
<rect x="170.69" y="97.03" width="11.99" height="1.85" fill="#b4d3e7"/>
<rect x="182.38" y="97.03" width="11.99" height="1.85" fill="#aad1e9"/>
<rect x="194.08" y="97.03" width="11.99" height="1.85" fill="#98cbea"/>
<rect x="205.77" y="97.03" width="11.99" height="1.85" fill="#b2d3e7"/>
<rect x="217.46" y="97.03" width="11.99" height="1.85" fill="#b7d4e6"/>
<rect x="229.15" y="97.03" width="11.99" height="1.85" fill="#b3d3e7"/>
<rect x="240.85" y="97.03" width="11.99" height="1.85" fill="#c6d8df"/>
<rect x="252.54" y="97.03" width="11.99" height="1.85" fill="#c4d7e0"/>
<rect x="264.23" y="97.03" width="11.99" height="1.85" fill="#b1d2e7"/>
<rect x="275.92" y="97.03" width="11.99" height="1.85" fill="#b7d4e7"/>
<rect x="287.62" y="97.03" width="11.99" height="1.85" fill="#b8d5e6"/>
<rect x="299.31" y="97.03" width="11.99" height="1.85" fill="#cad8dc"/>
<rect x="159.00" y="98.59" width="11.99" height="1.85" fill="#bcd5e5"/>
<rect x="170.69" y="98.59" width="11.99" height="1.85" fill="#c8d8de"/>
<rect x="182.38" y="98.59" width="11.99" height="1.85" fill="#c7d8df"/>
<rect x="194.08" y="98.59" width="11.99" height="1.85" fill="#b4d3e7"/>
<rect x="205.77" y="98.59" width="11.99" height="1.85" fill="#d1d9d3"/>
<rect x="217.46" y="98.59" width="11.99" height="1.85" fill="#c4d7e0"/>
<rect x="229.15" y="98.59" width="11.99" height="1.85" fill="#d3d9d0"/>
<rect x="240.85" y="98.59" width="11.99" height="1.85" fill="#d7d9ca"/>
<rect x="252.54" y="98.59" width="11.99" height="1.85" fill="#c8d8de"/>
<rect x="264.23" y="98.59" width="11.99" height="1.85" fill="#d0d9d4"/>
<rect x="275.92" y="98.59" width="11.99" height="1.85" fill="#c7d8df"/>
<rect x="287.62" y="98.59" width="11.99" height="1.85" fill="#d9d9c7"/>
<rect x="299.31" y="98.59" width="11.99" height="1.85" fill="#d3d9cf"/>
<rect x="159.00" y="100.14" width="11.99" height="1.85" fill="#bcd6e5"/>
<rect x="170.69" y="100.14" width="11.99" height="1.85" fill="#cdd8d7"/>
<rect x="182.38" y="100.14" width="11.99" height="1.85" fill="#c7d8de"/>
<rect x="194.08" y="100.14" width="11.99" height="1.85" fill="#bed6e4"/>
<rect x="205.77" y="100.14" width="11.99" height="1.85" fill="#b8d4e6"/>
<rect x="217.46" y="100.14" width="11.99" height="1.85" fill="#cfd9d5"/>
<rect x="229.15" y="100.14" width="11.99" height="1.85" fill="#cfd9d5"/>
<rect x="240.85" y="100.14" width="11.99" height="1.85" fill="#c4d7e0"/>
<rect x="252.54" y="100.14" width="11.99" height="1.85" fill="#c9d8dc"/>
<rect x="264.23" y="100.14" width="11.99" height="1.85" fill="#cfd9d4"/>
<rect x="275.92" y="100.14" width="11.99" height="1.85" fill="#cfd8d5"/>
<rect x="287.62" y="100.14" width="11.99" height="1.85" fill="#c9d8dd"/>
<rect x="299.31" y="100.14" width="11.99" height="1.85" fill="#dbd8c3"/>
<rect x="159.00" y="101.69" width="11.99" height="1.85" fill="#cbd8da"/>
<rect x="170.69" y="101.69" width="11.99" height="1.85" fill="#cfd9d4"/>
<rect x="182.38" y="101.69" width="11.99" height="1.85" fill="#ded8bc"/>
<rect x="194.08" y="101.69" width="11.99" height="1.85" fill="#d6d9cc"/>
<rect x="205.77" y="101.69" width="11.99" height="1.85" fill="#ccd8d8"/>
<rect x="217.46" y="101.69" width="11.99" height="1.85" fill="#d5d9ce"/>
<rect x="229.15" y="101.69" width="11.99" height="1.85" fill="#cad8dc"/>
<rect x="240.85" y="101.69" width="11.99" height="1.85" fill="#bad5e6"/>
<rect x="252.54" y="101.69" width="11.99" height="1.85" fill="#c5d7df"/>
<rect x="264.23" y="101.69" width="11.99" height="1.85" fill="#c9d8dc"/>
<rect x="275.92" y="101.69" width="11.99" height="1.85" fill="#c8d8de"/>
<rect x="287.62" y="101.69" width="11.99" height="1.85" fill="#cfd8d5"/>
<rect x="299.31" y="101.69" width="11.99" height="1.85" fill="#d8d9c9"/>
<rect x="159.00" y="103.24" width="11.99" height="1.85" fill="#cdd8d7"/>
<rect x="170.69" y="103.24" width="11.99" height="1.85" fill="#d1d9d2"/>
<rect x="182.38" y="103.24" width="11.99" height="1.85" fill="#cdd8d8"/>
<rect x="194.08" y="103.24" width="11.99" height="1.85" fill="#c2d7e1"/>
<rect x="205.77" y="103.24" width="11.99" height="1.85" fill="#d7d9cb"/>
<rect x="217.46" y="103.24" width="11.99" height="1.85" fill="#d1d9d2"/>
<rect x="229.15" y="103.24" width="11.99" height="1.85" fill="#d2d9d1"/>
<rect x="240.85" y="103.24" width="11.99" height="1.85" fill="#b3d3e7"/>
<rect x="252.54" y="103.24" width="11.99" height="1.85" fill="#c5d7e0"/>
<rect x="264.23" y="103.24" width="11.99" height="1.85" fill="#c7d8de"/>
<rect x="275.92" y="103.24" width="11.99" height="1.85" fill="#bbd5e5"/>
<rect x="287.62" y="103.24" width="11.99" height="1.85" fill="#c6d8df"/>
<rect x="299.31" y="103.24" width="11.99" height="1.85" fill="#d5d9cd"/>
<rect x="159.00" y="104.80" width="11.99" height="1.85" fill="#e2d7b5"/>
<rect x="170.69" y="104.80" width="11.99" height="1.85" fill="#e9d6a8"/>
<rect x="182.38" y="104.80" width="11.99" height="1.85" fill="#dfd8bb"/>
<rect x="194.08" y="104.80" width="11.99" height="1.85" fill="#ccd8d9"/>
<rect x="205.77" y="104.80" width="11.99" height="1.85" fill="#dfd8bb"/>
<rect x="217.46" y="104.80" width="11.99" height="1.85" fill="#dbd8c2"/>
<rect x="229.15" y="104.80" width="11.99" height="1.85" fill="#dad8c5"/>
<rect x="240.85" y="104.80" width="11.99" height="1.85" fill="#bfd6e3"/>
<rect x="252.54" y="104.80" width="11.99" height="1.85" fill="#cfd9d5"/>
<rect x="264.23" y="104.80" width="11.99" height="1.85" fill="#ccd8d9"/>
<rect x="275.92" y="104.80" width="11.99" height="1.85" fill="#bad5e6"/>
<rect x="287.62" y="104.80" width="11.99" height="1.85" fill="#b7d4e7"/>
<rect x="299.31" y="104.80" width="11.99" height="1.85" fill="#d1d9d3"/>
<rect x="159.00" y="106.35" width="11.99" height="1.85" fill="#d8d9c8"/>
<rect x="170.69" y="106.35" width="11.99" height="1.85" fill="#dad8c4"/>
<rect x="182.38" y="106.35" width="11.99" height="1.85" fill="#dcd8c0"/>
<rect x="194.08" y="106.35" width="11.99" height="1.85" fill="#d9d9c7"/>
<rect x="205.77" y="106.35" width="11.99" height="1.85" fill="#e2d7b6"/>
<rect x="217.46" y="106.35" width="11.99" height="1.85" fill="#edd092"/>
<rect x="229.15" y="106.35" width="11.99" height="1.85" fill="#ebd39d"/>
<rect x="240.85" y="106.35" width="11.99" height="1.85" fill="#d6d9cc"/>
<rect x="252.54" y="106.35" width="11.99" height="1.85" fill="#dfd8ba"/>
<rect x="264.23" y="106.35" width="11.99" height="1.85" fill="#d7d9c9"/>
<rect x="275.92" y="106.35" width="11.99" height="1.85" fill="#bed6e4"/>
<rect x="287.62" y="106.35" width="11.99" height="1.85" fill="#bcd5e5"/>
<rect x="299.31" y="106.35" width="11.99" height="1.85" fill="#c4d7e0"/>
<rect x="159.00" y="107.90" width="11.99" height="1.85" fill="#dbd8c2"/>
<rect x="170.69" y="107.90" width="11.99" height="1.85" fill="#e0d8b9"/>
<rect x="182.38" y="107.90" width="11.99" height="1.85" fill="#d3d9d0"/>
<rect x="194.08" y="107.90" width="11.99" height="1.85" fill="#e7d6ab"/>
<rect x="205.77" y="107.90" width="11.99" height="1.85" fill="#dfd8bb"/>
<rect x="217.46" y="107.90" width="11.99" height="1.85" fill="#e4d7b2"/>
<rect x="229.15" y="107.90" width="11.99" height="1.85" fill="#e4d7b2"/>
<rect x="240.85" y="107.90" width="11.99" height="1.85" fill="#d4d9cf"/>
<rect x="252.54" y="107.90" width="11.99" height="1.85" fill="#e9d6a8"/>
<rect x="264.23" y="107.90" width="11.99" height="1.85" fill="#e0d7b8"/>
<rect x="275.92" y="107.90" width="11.99" height="1.85" fill="#bdd6e4"/>
<rect x="287.62" y="107.90" width="11.99" height="1.85" fill="#ced8d7"/>
<rect x="299.31" y="107.90" width="11.99" height="1.85" fill="#d2d9d1"/>
<rect x="159.00" y="109.45" width="11.99" height="1.85" fill="#c6d8df"/>
<rect x="170.69" y="109.45" width="11.99" height="1.85" fill="#c3d7e1"/>
<rect x="182.38" y="109.45" width="11.99" height="1.85" fill="#add1e8"/>
<rect x="194.08" y="109.45" width="11.99" height="1.85" fill="#cbd8da"/>
<rect x="205.77" y="109.45" width="11.99" height="1.85" fill="#c3d7e1"/>
<rect x="217.46" y="109.45" width="11.99" height="1.85" fill="#d9d9c7"/>
<rect x="229.15" y="109.45" width="11.99" height="1.85" fill="#c8d8de"/>
<rect x="240.85" y="109.45" width="11.99" height="1.85" fill="#c4d7e0"/>
<rect x="252.54" y="109.45" width="11.99" height="1.85" fill="#cdd8d7"/>
<rect x="264.23" y="109.45" width="11.99" height="1.85" fill="#c8d8de"/>
<rect x="275.92" y="109.45" width="11.99" height="1.85" fill="#c2d7e2"/>
<rect x="287.62" y="109.45" width="11.99" height="1.85" fill="#c8d8de"/>
<rect x="299.31" y="109.45" width="11.99" height="1.85" fill="#c9d8dd"/>
<rect x="159.00" y="111.01" width="11.99" height="1.85" fill="#b7d4e7"/>
<rect x="170.69" y="111.01" width="11.99" height="1.85" fill="#c1d6e2"/>
<rect x="182.38" y="111.01" width="11.99" height="1.85" fill="#a8d0e9"/>
<rect x="194.08" y="111.01" width="11.99" height="1.85" fill="#bcd6e5"/>
<rect x="205.77" y="111.01" width="11.99" height="1.85" fill="#b3d3e7"/>
<rect x="217.46" y="111.01" width="11.99" height="1.85" fill="#bad5e6"/>
<rect x="229.15" y="111.01" width="11.99" height="1.85" fill="#c4d7e0"/>
<rect x="240.85" y="111.01" width="11.99" height="1.85" fill="#c7d8de"/>
<rect x="252.54" y="111.01" width="11.99" height="1.85" fill="#c4d7e0"/>
<rect x="264.23" y="111.01" width="11.99" height="1.85" fill="#bfd6e3"/>
<rect x="275.92" y="111.01" width="11.99" height="1.85" fill="#abd1e8"/>
<rect x="287.62" y="111.01" width="11.99" height="1.85" fill="#c8d8de"/>
<rect x="299.31" y="111.01" width="11.99" height="1.85" fill="#d0d9d3"/>
<rect x="159.00" y="112.56" width="11.99" height="1.85" fill="#c2d7e1"/>
<rect x="170.69" y="112.56" width="11.99" height="1.85" fill="#d4d9cf"/>
<rect x="182.38" y="112.56" width="11.99" height="1.85" fill="#c5d7e0"/>
<rect x="194.08" y="112.56" width="11.99" height="1.85" fill="#bdd6e4"/>
<rect x="205.77" y="112.56" width="11.99" height="1.85" fill="#c4d7e0"/>
<rect x="217.46" y="112.56" width="11.99" height="1.85" fill="#bfd6e3"/>
<rect x="229.15" y="112.56" width="11.99" height="1.85" fill="#d0d9d4"/>
<rect x="240.85" y="112.56" width="11.99" height="1.85" fill="#d7d9ca"/>
<rect x="252.54" y="112.56" width="11.99" height="1.85" fill="#c8d8de"/>
<rect x="264.23" y="112.56" width="11.99" height="1.85" fill="#bbd5e5"/>
<rect x="275.92" y="112.56" width="11.99" height="1.85" fill="#cbd8da"/>
<rect x="287.62" y="112.56" width="11.99" height="1.85" fill="#d4d9cf"/>
<rect x="299.31" y="112.56" width="11.99" height="1.85" fill="#e3d7b3"/>
<rect x="159.00" y="114.11" width="11.99" height="1.85" fill="#bed6e3"/>
<rect x="170.69" y="114.11" width="11.99" height="1.85" fill="#ccd8d8"/>
<rect x="182.38" y="114.11" width="11.99" height="1.85" fill="#c0d6e2"/>
<rect x="194.08" y="114.11" width="11.99" height="1.85" fill="#c5d7e0"/>
<rect x="205.77" y="114.11" width="11.99" height="1.85" fill="#cfd9d5"/>
<rect x="217.46" y="114.11" width="11.99" height="1.85" fill="#c5d7e0"/>
<rect x="229.15" y="114.11" width="11.99" height="1.85" fill="#c4d7e0"/>
<rect x="240.85" y="114.11" width="11.99" height="1.85" fill="#d9d9c7"/>
<rect x="252.54" y="114.11" width="11.99" height="1.85" fill="#c6d8df"/>
<rect x="264.23" y="114.11" width="11.99" height="1.85" fill="#c7d8df"/>
<rect x="275.92" y="114.11" width="11.99" height="1.85" fill="#cdd8d8"/>
<rect x="287.62" y="114.11" width="11.99" height="1.85" fill="#ded8bd"/>
<rect x="299.31" y="114.11" width="11.99" height="1.85" fill="#e3d7b3"/>
<rect x="159.00" y="115.67" width="11.99" height="1.85" fill="#c4d7e1"/>
<rect x="170.69" y="115.67" width="11.99" height="1.85" fill="#d2d9d1"/>
<rect x="182.38" y="115.67" width="11.99" height="1.85" fill="#cbd8da"/>
<rect x="194.08" y="115.67" width="11.99" height="1.85" fill="#c8d8de"/>
<rect x="205.77" y="115.67" width="11.99" height="1.85" fill="#c9d8dd"/>
<rect x="217.46" y="115.67" width="11.99" height="1.85" fill="#c3d7e1"/>
<rect x="229.15" y="115.67" width="11.99" height="1.85" fill="#ced8d7"/>
<rect x="240.85" y="115.67" width="11.99" height="1.85" fill="#dcd8c0"/>
<rect x="252.54" y="115.67" width="11.99" height="1.85" fill="#e3d7b3"/>
<rect x="264.23" y="115.67" width="11.99" height="1.85" fill="#b8d4e6"/>
<rect x="275.92" y="115.67" width="11.99" height="1.85" fill="#ccd8d9"/>
<rect x="287.62" y="115.67" width="11.99" height="1.85" fill="#d2d9d1"/>
<rect x="299.31" y="115.67" width="11.99" height="1.85" fill="#c2d7e1"/>
<rect x="159.00" y="117.22" width="11.99" height="1.85" fill="#c3d7e1"/>
<rect x="170.69" y="117.22" width="11.99" height="1.85" fill="#c2d7e2"/>
<rect x="182.38" y="117.22" width="11.99" height="1.85" fill="#c7d8de"/>
<rect x="194.08" y="117.22" width="11.99" height="1.85" fill="#bdd6e4"/>
<rect x="205.77" y="117.22" width="11.99" height="1.85" fill="#b9d5e6"/>
<rect x="217.46" y="117.22" width="11.99" height="1.85" fill="#bed6e4"/>
<rect x="229.15" y="117.22" width="11.99" height="1.85" fill="#bcd5e5"/>
<rect x="240.85" y="117.22" width="11.99" height="1.85" fill="#cbd8da"/>
<rect x="252.54" y="117.22" width="11.99" height="1.85" fill="#d9d9c7"/>
<rect x="264.23" y="117.22" width="11.99" height="1.85" fill="#b6d4e7"/>
<rect x="275.92" y="117.22" width="11.99" height="1.85" fill="#c1d7e2"/>
<rect x="287.62" y="117.22" width="11.99" height="1.85" fill="#ccd8d9"/>
<rect x="299.31" y="117.22" width="11.99" height="1.85" fill="#bad5e6"/>
<rect x="159.00" y="118.77" width="11.99" height="1.85" fill="#bfd6e3"/>
<rect x="170.69" y="118.77" width="11.99" height="1.85" fill="#d2d9d2"/>
<rect x="182.38" y="118.77" width="11.99" height="1.85" fill="#c1d6e2"/>
<rect x="194.08" y="118.77" width="11.99" height="1.85" fill="#cfd8d5"/>
<rect x="205.77" y="118.77" width="11.99" height="1.85" fill="#d0d9d4"/>
<rect x="217.46" y="118.77" width="11.99" height="1.85" fill="#d9d8c6"/>
<rect x="229.15" y="118.77" width="11.99" height="1.85" fill="#c5d7e0"/>
<rect x="240.85" y="118.77" width="11.99" height="1.85" fill="#e0d7b9"/>
<rect x="252.54" y="118.77" width="11.99" height="1.85" fill="#ebd5a2"/>
<rect x="264.23" y="118.77" width="11.99" height="1.85" fill="#c2d7e2"/>
<rect x="275.92" y="118.77" width="11.99" height="1.85" fill="#c8d8de"/>
<rect x="287.62" y="118.77" width="11.99" height="1.85" fill="#e4d7b1"/>
<rect x="299.31" y="118.77" width="11.99" height="1.85" fill="#c6d7df"/>
<rect x="159.00" y="120.32" width="11.99" height="1.85" fill="#bcd5e5"/>
<rect x="170.69" y="120.32" width="11.99" height="1.85" fill="#d3d9d0"/>
<rect x="182.38" y="120.32" width="11.99" height="1.85" fill="#b9d5e6"/>
<rect x="194.08" y="120.32" width="11.99" height="1.85" fill="#c8d8de"/>
<rect x="205.77" y="120.32" width="11.99" height="1.85" fill="#d6d9cc"/>
<rect x="217.46" y="120.32" width="11.99" height="1.85" fill="#c9d8dd"/>
<rect x="229.15" y="120.32" width="11.99" height="1.85" fill="#ccd8d8"/>
<rect x="240.85" y="120.32" width="11.99" height="1.85" fill="#e4d7b1"/>
<rect x="252.54" y="120.32" width="11.99" height="1.85" fill="#cfd9d5"/>
<rect x="264.23" y="120.32" width="11.99" height="1.85" fill="#bad5e6"/>
<rect x="275.92" y="120.32" width="11.99" height="1.85" fill="#bed6e4"/>
<rect x="287.62" y="120.32" width="11.99" height="1.85" fill="#c7d8de"/>
<rect x="299.31" y="120.32" width="11.99" height="1.85" fill="#c8d8de"/>
<rect x="159.00" y="121.88" width="11.99" height="1.85" fill="#b1d3e7"/>
<rect x="170.69" y="121.88" width="11.99" height="1.85" fill="#b3d3e7"/>
<rect x="182.38" y="121.88" width="11.99" height="1.85" fill="#bad5e6"/>
<rect x="194.08" y="121.88" width="11.99" height="1.85" fill="#b6d4e7"/>
<rect x="205.77" y="121.88" width="11.99" height="1.85" fill="#c8d8de"/>
<rect x="217.46" y="121.88" width="11.99" height="1.85" fill="#c2d7e1"/>
<rect x="229.15" y="121.88" width="11.99" height="1.85" fill="#c9d8dd"/>
<rect x="240.85" y="121.88" width="11.99" height="1.85" fill="#cfd8d6"/>
<rect x="252.54" y="121.88" width="11.99" height="1.85" fill="#c6d8df"/>
<rect x="264.23" y="121.88" width="11.99" height="1.85" fill="#9bccea"/>
<rect x="275.92" y="121.88" width="11.99" height="1.85" fill="#a6cfe9"/>
<rect x="287.62" y="121.88" width="11.99" height="1.85" fill="#a0ceea"/>
<rect x="299.31" y="121.88" width="11.99" height="1.85" fill="#add1e8"/>
<rect x="159.00" y="123.43" width="11.99" height="1.85" fill="#96cbea"/>
<rect x="170.69" y="123.43" width="11.99" height="1.85" fill="#a9d0e9"/>
<rect x="182.38" y="123.43" width="11.99" height="1.85" fill="#a1ceea"/>
<rect x="194.08" y="123.43" width="11.99" height="1.85" fill="#95caea"/>
<rect x="205.77" y="123.43" width="11.99" height="1.85" fill="#bfd6e3"/>
<rect x="217.46" y="123.43" width="11.99" height="1.85" fill="#c7d8df"/>
<rect x="229.15" y="123.43" width="11.99" height="1.85" fill="#c8d8de"/>
<rect x="240.85" y="123.43" width="11.99" height="1.85" fill="#c8d8de"/>
<rect x="252.54" y="123.43" width="11.99" height="1.85" fill="#bcd5e5"/>
<rect x="264.23" y="123.43" width="11.99" height="1.85" fill="#8ec8ea"/>
<rect x="275.92" y="123.43" width="11.99" height="1.85" fill="#b0d2e7"/>
<rect x="287.62" y="123.43" width="11.99" height="1.85" fill="#a3cfea"/>
<rect x="299.31" y="123.43" width="11.99" height="1.85" fill="#9ecdea"/>
<rect x="159.00" y="124.98" width="11.99" height="1.85" fill="#87c5e9"/>
<rect x="170.69" y="124.98" width="11.99" height="1.85" fill="#98cbea"/>
<rect x="182.38" y="124.98" width="11.99" height="1.85" fill="#8cc7ea"/>
<rect x="194.08" y="124.98" width="11.99" height="1.85" fill="#83c4e9"/>
<rect x="205.77" y="124.98" width="11.99" height="1.85" fill="#b6d4e7"/>
<rect x="217.46" y="124.98" width="11.99" height="1.85" fill="#bed6e4"/>
<rect x="229.15" y="124.98" width="11.99" height="1.85" fill="#d4d9cf"/>
<rect x="240.85" y="124.98" width="11.99" height="1.85" fill="#c1d6e2"/>
<rect x="252.54" y="124.98" width="11.99" height="1.85" fill="#c6d8df"/>
<rect x="264.23" y="124.98" width="11.99" height="1.85" fill="#6ebde9"/>
<rect x="275.92" y="124.98" width="11.99" height="1.85" fill="#9accea"/>
<rect x="287.62" y="124.98" width="11.99" height="1.85" fill="#96cbea"/>
<rect x="299.31" y="124.98" width="11.99" height="1.85" fill="#9dcdea"/>
<rect x="159.00" y="126.53" width="11.99" height="1.85" fill="#a7d0e9"/>
<rect x="170.69" y="126.53" width="11.99" height="1.85" fill="#a1ceea"/>
<rect x="182.38" y="126.53" width="11.99" height="1.85" fill="#9cccea"/>
<rect x="194.08" y="126.53" width="11.99" height="1.85" fill="#a0ceea"/>
<rect x="205.77" y="126.53" width="11.99" height="1.85" fill="#9accea"/>
<rect x="217.46" y="126.53" width="11.99" height="1.85" fill="#bad5e6"/>
<rect x="229.15" y="126.53" width="11.99" height="1.85" fill="#c0d6e2"/>
<rect x="240.85" y="126.53" width="11.99" height="1.85" fill="#afd2e8"/>
<rect x="252.54" y="126.53" width="11.99" height="1.85" fill="#bdd6e4"/>
<rect x="264.23" y="126.53" width="11.99" height="1.85" fill="#90c8ea"/>
<rect x="275.92" y="126.53" width="11.99" height="1.85" fill="#9accea"/>
<rect x="287.62" y="126.53" width="11.99" height="1.85" fill="#aad1e8"/>
<rect x="299.31" y="126.53" width="11.99" height="1.85" fill="#92c9ea"/>
<rect x="159.00" y="128.09" width="11.99" height="1.85" fill="#aed2e8"/>
<rect x="170.69" y="128.09" width="11.99" height="1.85" fill="#bad5e6"/>
<rect x="182.38" y="128.09" width="11.99" height="1.85" fill="#b2d3e7"/>
<rect x="194.08" y="128.09" width="11.99" height="1.85" fill="#b8d4e6"/>
<rect x="205.77" y="128.09" width="11.99" height="1.85" fill="#a5cfe9"/>
<rect x="217.46" y="128.09" width="11.99" height="1.85" fill="#c1d6e2"/>
<rect x="229.15" y="128.09" width="11.99" height="1.85" fill="#b5d4e7"/>
<rect x="240.85" y="128.09" width="11.99" height="1.85" fill="#a7d0e9"/>
<rect x="252.54" y="128.09" width="11.99" height="1.85" fill="#abd1e8"/>
<rect x="264.23" y="128.09" width="11.99" height="1.85" fill="#b2d3e7"/>
<rect x="275.92" y="128.09" width="11.99" height="1.85" fill="#a4cfe9"/>
<rect x="287.62" y="128.09" width="11.99" height="1.85" fill="#a9d1e9"/>
<rect x="299.31" y="128.09" width="11.99" height="1.85" fill="#9ecdea"/>
<rect x="159.00" y="129.64" width="11.99" height="1.85" fill="#a6d0e9"/>
<rect x="170.69" y="129.64" width="11.99" height="1.85" fill="#a9d1e9"/>
<rect x="182.38" y="129.64" width="11.99" height="1.85" fill="#aed2e8"/>
<rect x="194.08" y="129.64" width="11.99" height="1.85" fill="#add2e8"/>
<rect x="205.77" y="129.64" width="11.99" height="1.85" fill="#afd2e8"/>
<rect x="217.46" y="129.64" width="11.99" height="1.85" fill="#c0d6e2"/>
<rect x="229.15" y="129.64" width="11.99" height="1.85" fill="#bbd5e6"/>
<rect x="240.85" y="129.64" width="11.99" height="1.85" fill="#97cbea"/>
<rect x="252.54" y="129.64" width="11.99" height="1.85" fill="#acd1e8"/>
<rect x="264.23" y="129.64" width="11.99" height="1.85" fill="#acd1e8"/>
<rect x="275.92" y="129.64" width="11.99" height="1.85" fill="#b2d3e7"/>
<rect x="287.62" y="129.64" width="11.99" height="1.85" fill="#9fceea"/>
<rect x="299.31" y="129.64" width="11.99" height="1.85" fill="#a1ceea"/>
<rect x="159.00" y="131.19" width="11.99" height="1.85" fill="#b9d5e6"/>
<rect x="170.69" y="131.19" width="11.99" height="1.85" fill="#a4cfe9"/>
<rect x="182.38" y="131.19" width="11.99" height="1.85" fill="#a3cfe9"/>
<rect x="194.08" y="131.19" width="11.99" height="1.85" fill="#bed6e3"/>
<rect x="205.77" y="131.19" width="11.99" height="1.85" fill="#c1d7e2"/>
<rect x="217.46" y="131.19" width="11.99" height="1.85" fill="#cbd8da"/>
<rect x="229.15" y="131.19" width="11.99" height="1.85" fill="#c5d7e0"/>
<rect x="240.85" y="131.19" width="11.99" height="1.85" fill="#b7d4e6"/>
<rect x="252.54" y="131.19" width="11.99" height="1.85" fill="#b2d3e7"/>
<rect x="264.23" y="131.19" width="11.99" height="1.85" fill="#bbd5e5"/>
<rect x="275.92" y="131.19" width="11.99" height="1.85" fill="#b1d3e7"/>
<rect x="287.62" y="131.19" width="11.99" height="1.85" fill="#b4d3e7"/>
<rect x="299.31" y="131.19" width="11.99" height="1.85" fill="#add1e8"/>
<rect x="159.00" y="132.74" width="11.99" height="1.85" fill="#9fceea"/>
<rect x="170.69" y="132.74" width="11.99" height="1.85" fill="#96cbea"/>
<rect x="182.38" y="132.74" width="11.99" height="1.85" fill="#8cc7ea"/>
<rect x="194.08" y="132.74" width="11.99" height="1.85" fill="#a2cfea"/>
<rect x="205.77" y="132.74" width="11.99" height="1.85" fill="#bcd5e5"/>
<rect x="217.46" y="132.74" width="11.99" height="1.85" fill="#c2d7e1"/>
<rect x="229.15" y="132.74" width="11.99" height="1.85" fill="#c9d8dd"/>
<rect x="240.85" y="132.74" width="11.99" height="1.85" fill="#b5d4e7"/>
<rect x="252.54" y="132.74" width="11.99" height="1.85" fill="#c1d7e2"/>
<rect x="264.23" y="132.74" width="11.99" height="1.85" fill="#bed6e4"/>
<rect x="275.92" y="132.74" width="11.99" height="1.85" fill="#b8d4e6"/>
<rect x="287.62" y="132.74" width="11.99" height="1.85" fill="#b4d3e7"/>
<rect x="299.31" y="132.74" width="11.99" height="1.85" fill="#a6d0e9"/>
<rect x="159.00" y="134.30" width="11.99" height="1.85" fill="#acd1e8"/>
<rect x="170.69" y="134.30" width="11.99" height="1.85" fill="#bdd6e4"/>
<rect x="182.38" y="134.30" width="11.99" height="1.85" fill="#afd2e8"/>
<rect x="194.08" y="134.30" width="11.99" height="1.85" fill="#afd2e8"/>
<rect x="205.77" y="134.30" width="11.99" height="1.85" fill="#abd1e8"/>
<rect x="217.46" y="134.30" width="11.99" height="1.85" fill="#c0d6e3"/>
<rect x="229.15" y="134.30" width="11.99" height="1.85" fill="#c1d7e2"/>
<rect x="240.85" y="134.30" width="11.99" height="1.85" fill="#afd2e8"/>
<rect x="252.54" y="134.30" width="11.99" height="1.85" fill="#b7d4e7"/>
<rect x="264.23" y="134.30" width="11.99" height="1.85" fill="#b0d2e8"/>
<rect x="275.92" y="134.30" width="11.99" height="1.85" fill="#c4d7e0"/>
<rect x="287.62" y="134.30" width="11.99" height="1.85" fill="#bdd6e4"/>
<rect x="299.31" y="134.30" width="11.99" height="1.85" fill="#cbd8da"/>
<rect x="159.00" y="135.85" width="11.99" height="1.85" fill="#b9d5e6"/>
<rect x="170.69" y="135.85" width="11.99" height="1.85" fill="#bdd6e4"/>
<rect x="182.38" y="135.85" width="11.99" height="1.85" fill="#b3d3e7"/>
<rect x="194.08" y="135.85" width="11.99" height="1.85" fill="#c5d7e0"/>
<rect x="205.77" y="135.85" width="11.99" height="1.85" fill="#c9d8dd"/>
<rect x="217.46" y="135.85" width="11.99" height="1.85" fill="#d9d8c5"/>
<rect x="229.15" y="135.85" width="11.99" height="1.85" fill="#cad8dc"/>
<rect x="240.85" y="135.85" width="11.99" height="1.85" fill="#c3d7e1"/>
<rect x="252.54" y="135.85" width="11.99" height="1.85" fill="#c0d6e3"/>
<rect x="264.23" y="135.85" width="11.99" height="1.85" fill="#c2d7e1"/>
<rect x="275.92" y="135.85" width="11.99" height="1.85" fill="#bbd5e5"/>
<rect x="287.62" y="135.85" width="11.99" height="1.85" fill="#c6d8df"/>
<rect x="299.31" y="135.85" width="11.99" height="1.85" fill="#d3d9d0"/>
<rect x="159.00" y="137.40" width="11.99" height="1.85" fill="#bed6e4"/>
<rect x="170.69" y="137.40" width="11.99" height="1.85" fill="#bcd5e5"/>
<rect x="182.38" y="137.40" width="11.99" height="1.85" fill="#cad8dc"/>
<rect x="194.08" y="137.40" width="11.99" height="1.85" fill="#d8d9c9"/>
<rect x="205.77" y="137.40" width="11.99" height="1.85" fill="#d4d9ce"/>
<rect x="217.46" y="137.40" width="11.99" height="1.85" fill="#ded8bc"/>
<rect x="229.15" y="137.40" width="11.99" height="1.85" fill="#d7d9c9"/>
<rect x="240.85" y="137.40" width="11.99" height="1.85" fill="#ebd5a2"/>
<rect x="252.54" y="137.40" width="11.99" height="1.85" fill="#dcd8c0"/>
<rect x="264.23" y="137.40" width="11.99" height="1.85" fill="#c6d8df"/>
<rect x="275.92" y="137.40" width="11.99" height="1.85" fill="#b8d4e6"/>
<rect x="287.62" y="137.40" width="11.99" height="1.85" fill="#c8d8de"/>
<rect x="299.31" y="137.40" width="11.99" height="1.85" fill="#dfd8bb"/>
<rect x="159.00" y="138.96" width="11.99" height="1.85" fill="#bfd6e3"/>
<rect x="170.69" y="138.96" width="11.99" height="1.85" fill="#d4d9cf"/>
<rect x="182.38" y="138.96" width="11.99" height="1.85" fill="#cdd8d8"/>
<rect x="194.08" y="138.96" width="11.99" height="1.85" fill="#e8d6a9"/>
<rect x="205.77" y="138.96" width="11.99" height="1.85" fill="#cbd8db"/>
<rect x="217.46" y="138.96" width="11.99" height="1.85" fill="#d3d9d0"/>
<rect x="229.15" y="138.96" width="11.99" height="1.85" fill="#ddd8c0"/>
<rect x="240.85" y="138.96" width="11.99" height="1.85" fill="#e0d8ba"/>
<rect x="252.54" y="138.96" width="11.99" height="1.85" fill="#e4d7b1"/>
<rect x="264.23" y="138.96" width="11.99" height="1.85" fill="#d1d9d2"/>
<rect x="275.92" y="138.96" width="11.99" height="1.85" fill="#c0d6e3"/>
<rect x="287.62" y="138.96" width="11.99" height="1.85" fill="#d7d9ca"/>
<rect x="299.31" y="138.96" width="11.99" height="1.85" fill="#e8d6a9"/>
<rect x="159.00" y="140.51" width="11.99" height="1.85" fill="#add2e8"/>
<rect x="170.69" y="140.51" width="11.99" height="1.85" fill="#c5d7e0"/>
<rect x="182.38" y="140.51" width="11.99" height="1.85" fill="#c3d7e1"/>
<rect x="194.08" y="140.51" width="11.99" height="1.85" fill="#dfd8bc"/>
<rect x="205.77" y="140.51" width="11.99" height="1.85" fill="#afd2e8"/>
<rect x="217.46" y="140.51" width="11.99" height="1.85" fill="#bad5e6"/>
<rect x="229.15" y="140.51" width="11.99" height="1.85" fill="#b6d4e7"/>
<rect x="240.85" y="140.51" width="11.99" height="1.85" fill="#c6d8df"/>
<rect x="252.54" y="140.51" width="11.99" height="1.85" fill="#cdd8d8"/>
<rect x="264.23" y="140.51" width="11.99" height="1.85" fill="#b4d3e7"/>
<rect x="275.92" y="140.51" width="11.99" height="1.85" fill="#b1d3e7"/>
<rect x="287.62" y="140.51" width="11.99" height="1.85" fill="#c9d8dc"/>
<rect x="299.31" y="140.51" width="11.99" height="1.85" fill="#dbd8c2"/>
<rect x="159.00" y="142.06" width="11.99" height="1.85" fill="#b6d4e7"/>
<rect x="170.69" y="142.06" width="11.99" height="1.85" fill="#c9d8dc"/>
<rect x="182.38" y="142.06" width="11.99" height="1.85" fill="#c7d8df"/>
<rect x="194.08" y="142.06" width="11.99" height="1.85" fill="#e6d7ad"/>
<rect x="205.77" y="142.06" width="11.99" height="1.85" fill="#b9d5e6"/>
<rect x="217.46" y="142.06" width="11.99" height="1.85" fill="#b3d3e7"/>
<rect x="229.15" y="142.06" width="11.99" height="1.85" fill="#c6d8df"/>
<rect x="240.85" y="142.06" width="11.99" height="1.85" fill="#cbd8da"/>
<rect x="252.54" y="142.06" width="11.99" height="1.85" fill="#c8d8dd"/>
<rect x="264.23" y="142.06" width="11.99" height="1.85" fill="#b5d4e7"/>
<rect x="275.92" y="142.06" width="11.99" height="1.85" fill="#a8d0e9"/>
<rect x="287.62" y="142.06" width="11.99" height="1.85" fill="#bfd6e3"/>
<rect x="299.31" y="142.06" width="11.99" height="1.85" fill="#d9d9c6"/>
<rect x="159.00" y="143.61" width="11.99" height="1.85" fill="#b1d3e7"/>
<rect x="170.69" y="143.61" width="11.99" height="1.85" fill="#bed6e4"/>
<rect x="182.38" y="143.61" width="11.99" height="1.85" fill="#c3d7e1"/>
<rect x="194.08" y="143.61" width="11.99" height="1.85" fill="#c3d7e1"/>
<rect x="205.77" y="143.61" width="11.99" height="1.85" fill="#c1d6e2"/>
<rect x="217.46" y="143.61" width="11.99" height="1.85" fill="#acd1e8"/>
<rect x="229.15" y="143.61" width="11.99" height="1.85" fill="#c7d8df"/>
<rect x="240.85" y="143.61" width="11.99" height="1.85" fill="#c5d7df"/>
<rect x="252.54" y="143.61" width="11.99" height="1.85" fill="#c4d7e0"/>
<rect x="264.23" y="143.61" width="11.99" height="1.85" fill="#bfd6e3"/>
<rect x="275.92" y="143.61" width="11.99" height="1.85" fill="#afd2e8"/>
<rect x="287.62" y="143.61" width="11.99" height="1.85" fill="#c6d8df"/>
<rect x="299.31" y="143.61" width="11.99" height="1.85" fill="#d3d9cf"/>
<rect x="159.00" y="145.17" width="11.99" height="1.85" fill="#b6d4e7"/>
<rect x="170.69" y="145.17" width="11.99" height="1.85" fill="#bfd6e3"/>
<rect x="182.38" y="145.17" width="11.99" height="1.85" fill="#dad8c5"/>
<rect x="194.08" y="145.17" width="11.99" height="1.85" fill="#c7d8df"/>
<rect x="205.77" y="145.17" width="11.99" height="1.85" fill="#c5d7df"/>
<rect x="217.46" y="145.17" width="11.99" height="1.85" fill="#abd1e8"/>
<rect x="229.15" y="145.17" width="11.99" height="1.85" fill="#bdd6e4"/>
<rect x="240.85" y="145.17" width="11.99" height="1.85" fill="#c0d6e3"/>
<rect x="252.54" y="145.17" width="11.99" height="1.85" fill="#c3d7e1"/>
<rect x="264.23" y="145.17" width="11.99" height="1.85" fill="#b7d4e6"/>
<rect x="275.92" y="145.17" width="11.99" height="1.85" fill="#c4d7e0"/>
<rect x="287.62" y="145.17" width="11.99" height="1.85" fill="#c0d6e3"/>
<rect x="299.31" y="145.17" width="11.99" height="1.85" fill="#d4d9ce"/>
<rect x="159.00" y="146.72" width="11.99" height="1.85" fill="#add2e8"/>
<rect x="170.69" y="146.72" width="11.99" height="1.85" fill="#b1d2e7"/>
<rect x="182.38" y="146.72" width="11.99" height="1.85" fill="#c1d7e2"/>
<rect x="194.08" y="146.72" width="11.99" height="1.85" fill="#a2ceea"/>
<rect x="205.77" y="146.72" width="11.99" height="1.85" fill="#aed2e8"/>
<rect x="217.46" y="146.72" width="11.99" height="1.85" fill="#85c5e9"/>
<rect x="229.15" y="146.72" width="11.99" height="1.85" fill="#b5d4e7"/>
<rect x="240.85" y="146.72" width="11.99" height="1.85" fill="#b3d3e7"/>
<rect x="252.54" y="146.72" width="11.99" height="1.85" fill="#b1d3e7"/>
<rect x="264.23" y="146.72" width="11.99" height="1.85" fill="#a2cfea"/>
<rect x="275.92" y="146.72" width="11.99" height="1.85" fill="#add2e8"/>
<rect x="287.62" y="146.72" width="11.99" height="1.85" fill="#c0d6e3"/>
<rect x="299.31" y="146.72" width="11.99" height="1.85" fill="#cbd8da"/>
<rect x="159.00" y="148.27" width="11.99" height="1.85" fill="#bed6e4"/>
<rect x="170.69" y="148.27" width="11.99" height="1.85" fill="#bcd5e5"/>
<rect x="182.38" y="148.27" width="11.99" height="1.85" fill="#c7d8de"/>
<rect x="194.08" y="148.27" width="11.99" height="1.85" fill="#bdd6e4"/>
<rect x="205.77" y="148.27" width="11.99" height="1.85" fill="#c7d8df"/>
<rect x="217.46" y="148.27" width="11.99" height="1.85" fill="#8dc8ea"/>
<rect x="229.15" y="148.27" width="11.99" height="1.85" fill="#b2d3e7"/>
<rect x="240.85" y="148.27" width="11.99" height="1.85" fill="#b3d3e7"/>
<rect x="252.54" y="148.27" width="11.99" height="1.85" fill="#afd2e8"/>
<rect x="264.23" y="148.27" width="11.99" height="1.85" fill="#acd1e8"/>
<rect x="275.92" y="148.27" width="11.99" height="1.85" fill="#bbd5e6"/>
<rect x="287.62" y="148.27" width="11.99" height="1.85" fill="#aad1e8"/>
<rect x="299.31" y="148.27" width="11.99" height="1.85" fill="#bfd6e3"/>
<rect x="159.00" y="149.82" width="11.99" height="1.85" fill="#add2e8"/>
<rect x="170.69" y="149.82" width="11.99" height="1.85" fill="#c5d7e0"/>
<rect x="182.38" y="149.82" width="11.99" height="1.85" fill="#c9d8dd"/>
<rect x="194.08" y="149.82" width="11.99" height="1.85" fill="#c2d7e2"/>
<rect x="205.77" y="149.82" width="11.99" height="1.85" fill="#a6d0e9"/>
<rect x="217.46" y="149.82" width="11.99" height="1.85" fill="#94caea"/>
<rect x="229.15" y="149.82" width="11.99" height="1.85" fill="#a6d0e9"/>
<rect x="240.85" y="149.82" width="11.99" height="1.85" fill="#a1ceea"/>
<rect x="252.54" y="149.82" width="11.99" height="1.85" fill="#a3cfea"/>
<rect x="264.23" y="149.82" width="11.99" height="1.85" fill="#afd2e8"/>
<rect x="275.92" y="149.82" width="11.99" height="1.85" fill="#b7d4e6"/>
<rect x="287.62" y="149.82" width="11.99" height="1.85" fill="#a7d0e9"/>
<rect x="299.31" y="149.82" width="11.99" height="1.85" fill="#bad5e6"/>
<rect x="159.00" y="151.38" width="11.99" height="1.85" fill="#b2d3e7"/>
<rect x="170.69" y="151.38" width="11.99" height="1.85" fill="#c0d6e3"/>
<rect x="182.38" y="151.38" width="11.99" height="1.85" fill="#c3d7e1"/>
<rect x="194.08" y="151.38" width="11.99" height="1.85" fill="#bad5e6"/>
<rect x="205.77" y="151.38" width="11.99" height="1.85" fill="#c3d7e1"/>
<rect x="217.46" y="151.38" width="11.99" height="1.85" fill="#acd1e8"/>
<rect x="229.15" y="151.38" width="11.99" height="1.85" fill="#b4d3e7"/>
<rect x="240.85" y="151.38" width="11.99" height="1.85" fill="#c1d7e2"/>
<rect x="252.54" y="151.38" width="11.99" height="1.85" fill="#bbd5e5"/>
<rect x="264.23" y="151.38" width="11.99" height="1.85" fill="#abd1e8"/>
<rect x="275.92" y="151.38" width="11.99" height="1.85" fill="#c3d7e1"/>
<rect x="287.62" y="151.38" width="11.99" height="1.85" fill="#bcd5e5"/>
<rect x="299.31" y="151.38" width="11.99" height="1.85" fill="#cdd8d7"/>
<rect x="159.00" y="152.93" width="11.99" height="1.85" fill="#ccd8d8"/>
<rect x="170.69" y="152.93" width="11.99" height="1.85" fill="#d5d9cd"/>
<rect x="182.38" y="152.93" width="11.99" height="1.85" fill="#cbd8da"/>
<rect x="194.08" y="152.93" width="11.99" height="1.85" fill="#cbd8da"/>
<rect x="205.77" y="152.93" width="11.99" height="1.85" fill="#c5d7e0"/>
<rect x="217.46" y="152.93" width="11.99" height="1.85" fill="#bcd5e5"/>
<rect x="229.15" y="152.93" width="11.99" height="1.85" fill="#c2d7e1"/>
<rect x="240.85" y="152.93" width="11.99" height="1.85" fill="#c4d7e0"/>
<rect x="252.54" y="152.93" width="11.99" height="1.85" fill="#b9d5e6"/>
<rect x="264.23" y="152.93" width="11.99" height="1.85" fill="#c6d8df"/>
<rect x="275.92" y="152.93" width="11.99" height="1.85" fill="#d6d9cc"/>
<rect x="287.62" y="152.93" width="11.99" height="1.85" fill="#c5d7e0"/>
<rect x="299.31" y="152.93" width="11.99" height="1.85" fill="#d8d9c8"/>
<rect x="159.00" y="154.48" width="11.99" height="1.85" fill="#d5d9cd"/>
<rect x="170.69" y="154.48" width="11.99" height="1.85" fill="#e0d8ba"/>
<rect x="182.38" y="154.48" width="11.99" height="1.85" fill="#c9d8dc"/>
<rect x="194.08" y="154.48" width="11.99" height="1.85" fill="#e1d7b7"/>
<rect x="205.77" y="154.48" width="11.99" height="1.85" fill="#ddd8be"/>
<rect x="217.46" y="154.48" width="11.99" height="1.85" fill="#d5d9cd"/>
<rect x="229.15" y="154.48" width="11.99" height="1.85" fill="#dad8c3"/>
<rect x="240.85" y="154.48" width="11.99" height="1.85" fill="#d2d9d2"/>
<rect x="252.54" y="154.48" width="11.99" height="1.85" fill="#c3d7e1"/>
<rect x="264.23" y="154.48" width="11.99" height="1.85" fill="#c0d6e2"/>
<rect x="275.92" y="154.48" width="11.99" height="1.85" fill="#c8d8de"/>
<rect x="287.62" y="154.48" width="11.99" height="1.85" fill="#c5d7e0"/>
<rect x="299.31" y="154.48" width="11.99" height="1.85" fill="#cfd9d5"/>
<rect x="159.00" y="156.03" width="11.99" height="1.85" fill="#c7d8df"/>
<rect x="170.69" y="156.03" width="11.99" height="1.85" fill="#d1d9d2"/>
<rect x="182.38" y="156.03" width="11.99" height="1.85" fill="#c3d7e1"/>
<rect x="194.08" y="156.03" width="11.99" height="1.85" fill="#cfd8d5"/>
<rect x="205.77" y="156.03" width="11.99" height="1.85" fill="#e8d6aa"/>
<rect x="217.46" y="156.03" width="11.99" height="1.85" fill="#e4d7b2"/>
<rect x="229.15" y="156.03" width="11.99" height="1.85" fill="#e1d7b7"/>
<rect x="240.85" y="156.03" width="11.99" height="1.85" fill="#e4d7b1"/>
<rect x="252.54" y="156.03" width="11.99" height="1.85" fill="#d8d9c9"/>
<rect x="264.23" y="156.03" width="11.99" height="1.85" fill="#d9d9c6"/>
<rect x="275.92" y="156.03" width="11.99" height="1.85" fill="#d4d9ce"/>
<rect x="287.62" y="156.03" width="11.99" height="1.85" fill="#dad8c5"/>
<rect x="299.31" y="156.03" width="11.99" height="1.85" fill="#e1d7b7"/>
<rect x="159.00" y="157.59" width="11.99" height="1.85" fill="#c9d8dd"/>
<rect x="170.69" y="157.59" width="11.99" height="1.85" fill="#c8d8de"/>
<rect x="182.38" y="157.59" width="11.99" height="1.85" fill="#bed6e3"/>
<rect x="194.08" y="157.59" width="11.99" height="1.85" fill="#c7d8de"/>
<rect x="205.77" y="157.59" width="11.99" height="1.85" fill="#e7d6ab"/>
<rect x="217.46" y="157.59" width="11.99" height="1.85" fill="#ebd5a2"/>
<rect x="229.15" y="157.59" width="11.99" height="1.85" fill="#dbd8c3"/>
<rect x="240.85" y="157.59" width="11.99" height="1.85" fill="#d8d9c8"/>
<rect x="252.54" y="157.59" width="11.99" height="1.85" fill="#dad8c4"/>
<rect x="264.23" y="157.59" width="11.99" height="1.85" fill="#ded8bd"/>
<rect x="275.92" y="157.59" width="11.99" height="1.85" fill="#d1d9d2"/>
<rect x="287.62" y="157.59" width="11.99" height="1.85" fill="#d6d9cc"/>
<rect x="299.31" y="157.59" width="11.99" height="1.85" fill="#e0d7b9"/>
<rect x="159.00" y="159.14" width="11.99" height="1.85" fill="#d8d9c7"/>
<rect x="170.69" y="159.14" width="11.99" height="1.85" fill="#e4d7b2"/>
<rect x="182.38" y="159.14" width="11.99" height="1.85" fill="#dfd8ba"/>
<rect x="194.08" y="159.14" width="11.99" height="1.85" fill="#e2d7b6"/>
<rect x="205.77" y="159.14" width="11.99" height="1.85" fill="#ced8d6"/>
<rect x="217.46" y="159.14" width="11.99" height="1.85" fill="#d9d9c7"/>
<rect x="229.15" y="159.14" width="11.99" height="1.85" fill="#cdd8d7"/>
<rect x="240.85" y="159.14" width="11.99" height="1.85" fill="#d1d9d2"/>
<rect x="252.54" y="159.14" width="11.99" height="1.85" fill="#c9d8dd"/>
<rect x="264.23" y="159.14" width="11.99" height="1.85" fill="#e6d7ae"/>
<rect x="275.92" y="159.14" width="11.99" height="1.85" fill="#c7d8de"/>
<rect x="287.62" y="159.14" width="11.99" height="1.85" fill="#ebd49e"/>
<rect x="299.31" y="159.14" width="11.99" height="1.85" fill="#edcf90"/>
<rect x="159.00" y="160.69" width="11.99" height="1.85" fill="#e8d6a9"/>
<rect x="170.69" y="160.69" width="11.99" height="1.85" fill="#eece8c"/>
<rect x="182.38" y="160.69" width="11.99" height="1.85" fill="#e2d7b5"/>
<rect x="194.08" y="160.69" width="11.99" height="1.85" fill="#ead5a4"/>
<rect x="205.77" y="160.69" width="11.99" height="1.85" fill="#b0d2e7"/>
<rect x="217.46" y="160.69" width="11.99" height="1.85" fill="#e5d7af"/>
<rect x="229.15" y="160.69" width="11.99" height="1.85" fill="#c2d7e1"/>
<rect x="240.85" y="160.69" width="11.99" height="1.85" fill="#d8d9c9"/>
<rect x="252.54" y="160.69" width="11.99" height="1.85" fill="#c9d8dc"/>
<rect x="264.23" y="160.69" width="11.99" height="1.85" fill="#dfd8bb"/>
<rect x="275.92" y="160.69" width="11.99" height="1.85" fill="#d2d9d1"/>
<rect x="287.62" y="160.69" width="11.99" height="1.85" fill="#edd093"/>
<rect x="299.31" y="160.69" width="11.99" height="1.85" fill="#eecf8f"/>
<rect x="159.00" y="162.25" width="11.99" height="1.85" fill="#dbd8c2"/>
<rect x="170.69" y="162.25" width="11.99" height="1.85" fill="#ead5a3"/>
<rect x="182.38" y="162.25" width="11.99" height="1.85" fill="#d4d9ce"/>
<rect x="194.08" y="162.25" width="11.99" height="1.85" fill="#ddd8bf"/>
<rect x="205.77" y="162.25" width="11.99" height="1.85" fill="#a2ceea"/>
<rect x="217.46" y="162.25" width="11.99" height="1.85" fill="#c8d8de"/>
<rect x="229.15" y="162.25" width="11.99" height="1.85" fill="#b0d2e8"/>
<rect x="240.85" y="162.25" width="11.99" height="1.85" fill="#c9d8dd"/>
<rect x="252.54" y="162.25" width="11.99" height="1.85" fill="#c2d7e2"/>
<rect x="264.23" y="162.25" width="11.99" height="1.85" fill="#c3d7e1"/>
<rect x="275.92" y="162.25" width="11.99" height="1.85" fill="#b5d4e7"/>
<rect x="287.62" y="162.25" width="11.99" height="1.85" fill="#d2d9d1"/>
<rect x="299.31" y="162.25" width="11.99" height="1.85" fill="#d5d9cd"/>
<rect x="159.00" y="163.80" width="11.99" height="1.85" fill="#ead5a3"/>
<rect x="170.69" y="163.80" width="11.99" height="1.85" fill="#ecd298"/>
<rect x="182.38" y="163.80" width="11.99" height="1.85" fill="#edcf91"/>
<rect x="194.08" y="163.80" width="11.99" height="1.85" fill="#ecd39b"/>
<rect x="205.77" y="163.80" width="11.99" height="1.85" fill="#9bccea"/>
<rect x="217.46" y="163.80" width="11.99" height="1.85" fill="#c5d7e0"/>
<rect x="229.15" y="163.80" width="11.99" height="1.85" fill="#aed2e8"/>
<rect x="240.85" y="163.80" width="11.99" height="1.85" fill="#c7d8df"/>
<rect x="252.54" y="163.80" width="11.99" height="1.85" fill="#ced8d6"/>
<rect x="264.23" y="163.80" width="11.99" height="1.85" fill="#bcd5e5"/>
<rect x="275.92" y="163.80" width="11.99" height="1.85" fill="#c1d7e2"/>
<rect x="287.62" y="163.80" width="11.99" height="1.85" fill="#d8d9c8"/>
<rect x="299.31" y="163.80" width="11.99" height="1.85" fill="#cfd9d4"/>
<rect x="159.00" y="165.35" width="11.99" height="1.85" fill="#ead5a4"/>
<rect x="170.69" y="165.35" width="11.99" height="1.85" fill="#ddd8bf"/>
<rect x="182.38" y="165.35" width="11.99" height="1.85" fill="#e4d7b1"/>
<rect x="194.08" y="165.35" width="11.99" height="1.85" fill="#ecd197"/>
<rect x="205.77" y="165.35" width="11.99" height="1.85" fill="#aed2e8"/>
<rect x="217.46" y="165.35" width="11.99" height="1.85" fill="#c9d8dd"/>
<rect x="229.15" y="165.35" width="11.99" height="1.85" fill="#a9d0e9"/>
<rect x="240.85" y="165.35" width="11.99" height="1.85" fill="#d2d9d1"/>
<rect x="252.54" y="165.35" width="11.99" height="1.85" fill="#bed6e4"/>
<rect x="264.23" y="165.35" width="11.99" height="1.85" fill="#b7d4e6"/>
<rect x="275.92" y="165.35" width="11.99" height="1.85" fill="#c6d8df"/>
<rect x="287.62" y="165.35" width="11.99" height="1.85" fill="#ddd8be"/>
<rect x="299.31" y="165.35" width="11.99" height="1.85" fill="#cad8db"/>
<rect x="159.00" y="166.90" width="11.99" height="1.85" fill="#e2d7b5"/>
<rect x="170.69" y="166.90" width="11.99" height="1.85" fill="#e1d7b6"/>
<rect x="182.38" y="166.90" width="11.99" height="1.85" fill="#c9d8dd"/>
<rect x="194.08" y="166.90" width="11.99" height="1.85" fill="#ecd29b"/>
<rect x="205.77" y="166.90" width="11.99" height="1.85" fill="#a1ceea"/>
<rect x="217.46" y="166.90" width="11.99" height="1.85" fill="#a6d0e9"/>
<rect x="229.15" y="166.90" width="11.99" height="1.85" fill="#9dcdea"/>
<rect x="240.85" y="166.90" width="11.99" height="1.85" fill="#b0d2e8"/>
<rect x="252.54" y="166.90" width="11.99" height="1.85" fill="#bcd5e5"/>
<rect x="264.23" y="166.90" width="11.99" height="1.85" fill="#aad1e9"/>
<rect x="275.92" y="166.90" width="11.99" height="1.85" fill="#c4d7e1"/>
<rect x="287.62" y="166.90" width="11.99" height="1.85" fill="#c3d7e1"/>
<rect x="299.31" y="166.90" width="11.99" height="1.85" fill="#bdd6e4"/>
<rect x="159.00" y="168.46" width="11.99" height="1.85" fill="#c9d8dd"/>
<rect x="170.69" y="168.46" width="11.99" height="1.85" fill="#c0d6e2"/>
<rect x="182.38" y="168.46" width="11.99" height="1.85" fill="#bfd6e3"/>
<rect x="194.08" y="168.46" width="11.99" height="1.85" fill="#d4d9ce"/>
<rect x="205.77" y="168.46" width="11.99" height="1.85" fill="#c8d8de"/>
<rect x="217.46" y="168.46" width="11.99" height="1.85" fill="#c6d8df"/>
<rect x="229.15" y="168.46" width="11.99" height="1.85" fill="#c4d7e1"/>
<rect x="240.85" y="168.46" width="11.99" height="1.85" fill="#c8d8de"/>
<rect x="252.54" y="168.46" width="11.99" height="1.85" fill="#c0d6e3"/>
<rect x="264.23" y="168.46" width="11.99" height="1.85" fill="#c4d7e1"/>
<rect x="275.92" y="168.46" width="11.99" height="1.85" fill="#bcd6e5"/>
<rect x="287.62" y="168.46" width="11.99" height="1.85" fill="#c0d6e3"/>
<rect x="299.31" y="168.46" width="11.99" height="1.85" fill="#b9d5e6"/>
<rect x="159.00" y="170.01" width="11.99" height="1.85" fill="#acd1e8"/>
<rect x="170.69" y="170.01" width="11.99" height="1.85" fill="#b5d4e7"/>
<rect x="182.38" y="170.01" width="11.99" height="1.85" fill="#b5d4e7"/>
<rect x="194.08" y="170.01" width="11.99" height="1.85" fill="#c3d7e1"/>
<rect x="205.77" y="170.01" width="11.99" height="1.85" fill="#b9d5e6"/>
<rect x="217.46" y="170.01" width="11.99" height="1.85" fill="#bfd6e3"/>
<rect x="229.15" y="170.01" width="11.99" height="1.85" fill="#c5d7e0"/>
<rect x="240.85" y="170.01" width="11.99" height="1.85" fill="#bfd6e3"/>
<rect x="252.54" y="170.01" width="11.99" height="1.85" fill="#b8d5e6"/>
<rect x="264.23" y="170.01" width="11.99" height="1.85" fill="#c7d8df"/>
<rect x="275.92" y="170.01" width="11.99" height="1.85" fill="#c0d6e3"/>
<rect x="287.62" y="170.01" width="11.99" height="1.85" fill="#c1d7e2"/>
<rect x="299.31" y="170.01" width="11.99" height="1.85" fill="#bfd6e3"/>
<rect x="159.00" y="171.56" width="11.99" height="1.85" fill="#b3d3e7"/>
<rect x="170.69" y="171.56" width="11.99" height="1.85" fill="#bcd6e5"/>
<rect x="182.38" y="171.56" width="11.99" height="1.85" fill="#bcd5e5"/>
<rect x="194.08" y="171.56" width="11.99" height="1.85" fill="#bfd6e3"/>
<rect x="205.77" y="171.56" width="11.99" height="1.85" fill="#cbd8db"/>
<rect x="217.46" y="171.56" width="11.99" height="1.85" fill="#c5d7e0"/>
<rect x="229.15" y="171.56" width="11.99" height="1.85" fill="#d0d9d4"/>
<rect x="240.85" y="171.56" width="11.99" height="1.85" fill="#cfd9d5"/>
<rect x="252.54" y="171.56" width="11.99" height="1.85" fill="#c8d8de"/>
<rect x="264.23" y="171.56" width="11.99" height="1.85" fill="#c7d8df"/>
<rect x="275.92" y="171.56" width="11.99" height="1.85" fill="#b2d3e7"/>
<rect x="287.62" y="171.56" width="11.99" height="1.85" fill="#b2d3e7"/>
<rect x="299.31" y="171.56" width="11.99" height="1.85" fill="#b7d4e6"/>
<rect x="159.00" y="173.11" width="11.99" height="1.85" fill="#c2d7e1"/>
<rect x="170.69" y="173.11" width="11.99" height="1.85" fill="#c8d8de"/>
<rect x="182.38" y="173.11" width="11.99" height="1.85" fill="#cbd8da"/>
<rect x="194.08" y="173.11" width="11.99" height="1.85" fill="#d5d9ce"/>
<rect x="205.77" y="173.11" width="11.99" height="1.85" fill="#c6d8df"/>
<rect x="217.46" y="173.11" width="11.99" height="1.85" fill="#cbd8db"/>
<rect x="229.15" y="173.11" width="11.99" height="1.85" fill="#c0d6e3"/>
<rect x="240.85" y="173.11" width="11.99" height="1.85" fill="#ced8d6"/>
<rect x="252.54" y="173.11" width="11.99" height="1.85" fill="#cad8db"/>
<rect x="264.23" y="173.11" width="11.99" height="1.85" fill="#cdd8d7"/>
<rect x="275.92" y="173.11" width="11.99" height="1.85" fill="#c5d7e0"/>
<rect x="287.62" y="173.11" width="11.99" height="1.85" fill="#bdd6e4"/>
<rect x="299.31" y="173.11" width="11.99" height="1.85" fill="#bbd5e5"/>
<rect x="159.00" y="174.67" width="11.99" height="1.85" fill="#c9d8dd"/>
<rect x="170.69" y="174.67" width="11.99" height="1.85" fill="#c1d7e2"/>
<rect x="182.38" y="174.67" width="11.99" height="1.85" fill="#c4d7e0"/>
<rect x="194.08" y="174.67" width="11.99" height="1.85" fill="#cdd8d8"/>
<rect x="205.77" y="174.67" width="11.99" height="1.85" fill="#cfd9d4"/>
<rect x="217.46" y="174.67" width="11.99" height="1.85" fill="#e1d7b8"/>
<rect x="229.15" y="174.67" width="11.99" height="1.85" fill="#d5d9ce"/>
<rect x="240.85" y="174.67" width="11.99" height="1.85" fill="#ced8d6"/>
<rect x="252.54" y="174.67" width="11.99" height="1.85" fill="#ded8be"/>
<rect x="264.23" y="174.67" width="11.99" height="1.85" fill="#c8d8dd"/>
<rect x="275.92" y="174.67" width="11.99" height="1.85" fill="#c3d7e1"/>
<rect x="287.62" y="174.67" width="11.99" height="1.85" fill="#c7d8df"/>
<rect x="299.31" y="174.67" width="11.99" height="1.85" fill="#b5d4e7"/>
<rect x="159.00" y="176.22" width="11.99" height="1.85" fill="#c5d7e0"/>
<rect x="170.69" y="176.22" width="11.99" height="1.85" fill="#c2d7e2"/>
<rect x="182.38" y="176.22" width="11.99" height="1.85" fill="#d1d9d2"/>
<rect x="194.08" y="176.22" width="11.99" height="1.85" fill="#cad8db"/>
<rect x="205.77" y="176.22" width="11.99" height="1.85" fill="#c8d8de"/>
<rect x="217.46" y="176.22" width="11.99" height="1.85" fill="#c6d8df"/>
<rect x="229.15" y="176.22" width="11.99" height="1.85" fill="#cdd8d8"/>
<rect x="240.85" y="176.22" width="11.99" height="1.85" fill="#c0d6e3"/>
<rect x="252.54" y="176.22" width="11.99" height="1.85" fill="#d4d9cf"/>
<rect x="264.23" y="176.22" width="11.99" height="1.85" fill="#c7d8de"/>
<rect x="275.92" y="176.22" width="11.99" height="1.85" fill="#d3d9cf"/>
<rect x="287.62" y="176.22" width="11.99" height="1.85" fill="#d0d9d4"/>
<rect x="299.31" y="176.22" width="11.99" height="1.85" fill="#c9d8dd"/>
<rect x="159.00" y="177.77" width="11.99" height="1.85" fill="#c6d8df"/>
<rect x="170.69" y="177.77" width="11.99" height="1.85" fill="#bcd5e5"/>
<rect x="182.38" y="177.77" width="11.99" height="1.85" fill="#c9d8dc"/>
<rect x="194.08" y="177.77" width="11.99" height="1.85" fill="#ccd8d9"/>
<rect x="205.77" y="177.77" width="11.99" height="1.85" fill="#acd1e8"/>
<rect x="217.46" y="177.77" width="11.99" height="1.85" fill="#b6d4e7"/>
<rect x="229.15" y="177.77" width="11.99" height="1.85" fill="#bcd5e5"/>
<rect x="240.85" y="177.77" width="11.99" height="1.85" fill="#afd2e8"/>
<rect x="252.54" y="177.77" width="11.99" height="1.85" fill="#c8d8de"/>
<rect x="264.23" y="177.77" width="11.99" height="1.85" fill="#b3d3e7"/>
<rect x="275.92" y="177.77" width="11.99" height="1.85" fill="#b6d4e7"/>
<rect x="287.62" y="177.77" width="11.99" height="1.85" fill="#b2d3e7"/>
<rect x="299.31" y="177.77" width="11.99" height="1.85" fill="#bdd6e4"/>
<rect x="159.00" y="179.32" width="11.99" height="1.85" fill="#bcd5e5"/>
<rect x="170.69" y="179.32" width="11.99" height="1.85" fill="#bed6e3"/>
<rect x="182.38" y="179.32" width="11.99" height="1.85" fill="#c9d8dd"/>
<rect x="194.08" y="179.32" width="11.99" height="1.85" fill="#ced8d6"/>
<rect x="205.77" y="179.32" width="11.99" height="1.85" fill="#bcd6e5"/>
<rect x="217.46" y="179.32" width="11.99" height="1.85" fill="#c3d7e1"/>
<rect x="229.15" y="179.32" width="11.99" height="1.85" fill="#bbd5e5"/>
<rect x="240.85" y="179.32" width="11.99" height="1.85" fill="#b5d4e7"/>
<rect x="252.54" y="179.32" width="11.99" height="1.85" fill="#cbd8da"/>
<rect x="264.23" y="179.32" width="11.99" height="1.85" fill="#a4cfe9"/>
<rect x="275.92" y="179.32" width="11.99" height="1.85" fill="#b3d3e7"/>
<rect x="287.62" y="179.32" width="11.99" height="1.85" fill="#94caea"/>
<rect x="299.31" y="179.32" width="11.99" height="1.85" fill="#b4d3e7"/>
<rect x="159.00" y="180.88" width="11.99" height="1.85" fill="#b0d2e7"/>
<rect x="170.69" y="180.88" width="11.99" height="1.85" fill="#a8d0e9"/>
<rect x="182.38" y="180.88" width="11.99" height="1.85" fill="#b6d4e7"/>
<rect x="194.08" y="180.88" width="11.99" height="1.85" fill="#c9d8dd"/>
<rect x="205.77" y="180.88" width="11.99" height="1.85" fill="#bfd6e3"/>
<rect x="217.46" y="180.88" width="11.99" height="1.85" fill="#acd1e8"/>
<rect x="229.15" y="180.88" width="11.99" height="1.85" fill="#bed6e4"/>
<rect x="240.85" y="180.88" width="11.99" height="1.85" fill="#b8d4e6"/>
<rect x="252.54" y="180.88" width="11.99" height="1.85" fill="#cdd8d8"/>
<rect x="264.23" y="180.88" width="11.99" height="1.85" fill="#b1d3e7"/>
<rect x="275.92" y="180.88" width="11.99" height="1.85" fill="#b5d4e7"/>
<rect x="287.62" y="180.88" width="11.99" height="1.85" fill="#a5cfe9"/>
<rect x="299.31" y="180.88" width="11.99" height="1.85" fill="#c6d8df"/>
<rect x="159.00" y="182.43" width="11.99" height="1.85" fill="#c2d7e1"/>
<rect x="170.69" y="182.43" width="11.99" height="1.85" fill="#bcd5e5"/>
<rect x="182.38" y="182.43" width="11.99" height="1.85" fill="#b6d4e7"/>
<rect x="194.08" y="182.43" width="11.99" height="1.85" fill="#cfd9d5"/>
<rect x="205.77" y="182.43" width="11.99" height="1.85" fill="#a0ceea"/>
<rect x="217.46" y="182.43" width="11.99" height="1.85" fill="#9bccea"/>
<rect x="229.15" y="182.43" width="11.99" height="1.85" fill="#bbd5e5"/>
<rect x="240.85" y="182.43" width="11.99" height="1.85" fill="#aad1e8"/>
<rect x="252.54" y="182.43" width="11.99" height="1.85" fill="#afd2e8"/>
<rect x="264.23" y="182.43" width="11.99" height="1.85" fill="#aad1e8"/>
<rect x="275.92" y="182.43" width="11.99" height="1.85" fill="#b0d2e7"/>
<rect x="287.62" y="182.43" width="11.99" height="1.85" fill="#9dcdea"/>
<rect x="299.31" y="182.43" width="11.99" height="1.85" fill="#a2cfea"/>
<rect x="159.00" y="183.98" width="11.99" height="1.85" fill="#c2d7e1"/>
<rect x="170.69" y="183.98" width="11.99" height="1.85" fill="#bdd6e4"/>
<rect x="182.38" y="183.98" width="11.99" height="1.85" fill="#bdd6e5"/>
<rect x="194.08" y="183.98" width="11.99" height="1.85" fill="#d5d9cd"/>
<rect x="205.77" y="183.98" width="11.99" height="1.85" fill="#abd1e8"/>
<rect x="217.46" y="183.98" width="11.99" height="1.85" fill="#bdd6e4"/>
<rect x="229.15" y="183.98" width="11.99" height="1.85" fill="#aad1e8"/>
<rect x="240.85" y="183.98" width="11.99" height="1.85" fill="#c0d6e3"/>
<rect x="252.54" y="183.98" width="11.99" height="1.85" fill="#b7d4e7"/>
<rect x="264.23" y="183.98" width="11.99" height="1.85" fill="#c5d7e0"/>
<rect x="275.92" y="183.98" width="11.99" height="1.85" fill="#cad8dc"/>
<rect x="287.62" y="183.98" width="11.99" height="1.85" fill="#b0d2e7"/>
<rect x="299.31" y="183.98" width="11.99" height="1.85" fill="#bdd6e4"/>
<rect x="159.00" y="185.54" width="11.99" height="1.85" fill="#bad5e6"/>
<rect x="170.69" y="185.54" width="11.99" height="1.85" fill="#dad8c4"/>
<rect x="182.38" y="185.54" width="11.99" height="1.85" fill="#c5d7e0"/>
<rect x="194.08" y="185.54" width="11.99" height="1.85" fill="#d3d9d0"/>
<rect x="205.77" y="185.54" width="11.99" height="1.85" fill="#a4cfe9"/>
<rect x="217.46" y="185.54" width="11.99" height="1.85" fill="#c4d7e0"/>
<rect x="229.15" y="185.54" width="11.99" height="1.85" fill="#add1e8"/>
<rect x="240.85" y="185.54" width="11.99" height="1.85" fill="#cad8dc"/>
<rect x="252.54" y="185.54" width="11.99" height="1.85" fill="#c0d6e3"/>
<rect x="264.23" y="185.54" width="11.99" height="1.85" fill="#c1d7e2"/>
<rect x="275.92" y="185.54" width="11.99" height="1.85" fill="#cad8dc"/>
<rect x="287.62" y="185.54" width="11.99" height="1.85" fill="#aad1e8"/>
<rect x="299.31" y="185.54" width="11.99" height="1.85" fill="#bad5e6"/>
<rect x="159.00" y="187.09" width="11.99" height="1.85" fill="#bdd6e4"/>
<rect x="170.69" y="187.09" width="11.99" height="1.85" fill="#a8d0e9"/>
<rect x="182.38" y="187.09" width="11.99" height="1.85" fill="#b2d3e7"/>
<rect x="194.08" y="187.09" width="11.99" height="1.85" fill="#bad5e6"/>
<rect x="205.77" y="187.09" width="11.99" height="1.85" fill="#a9d0e9"/>
<rect x="217.46" y="187.09" width="11.99" height="1.85" fill="#c4d7e0"/>
<rect x="229.15" y="187.09" width="11.99" height="1.85" fill="#b7d4e6"/>
<rect x="240.85" y="187.09" width="11.99" height="1.85" fill="#c4d7e0"/>
<rect x="252.54" y="187.09" width="11.99" height="1.85" fill="#bbd5e6"/>
<rect x="264.23" y="187.09" width="11.99" height="1.85" fill="#c2d7e1"/>
<rect x="275.92" y="187.09" width="11.99" height="1.85" fill="#c6d8df"/>
<rect x="287.62" y="187.09" width="11.99" height="1.85" fill="#9ecdea"/>
<rect x="299.31" y="187.09" width="11.99" height="1.85" fill="#b7d4e6"/>
<rect x="159.00" y="188.64" width="11.99" height="1.85" fill="#aed2e8"/>
<rect x="170.69" y="188.64" width="11.99" height="1.85" fill="#93caea"/>
<rect x="182.38" y="188.64" width="11.99" height="1.85" fill="#a3cfe9"/>
<rect x="194.08" y="188.64" width="11.99" height="1.85" fill="#a2ceea"/>
<rect x="205.77" y="188.64" width="11.99" height="1.85" fill="#aed2e8"/>
<rect x="217.46" y="188.64" width="11.99" height="1.85" fill="#c1d6e2"/>
<rect x="229.15" y="188.64" width="11.99" height="1.85" fill="#c1d7e2"/>
<rect x="240.85" y="188.64" width="11.99" height="1.85" fill="#c5d7df"/>
<rect x="252.54" y="188.64" width="11.99" height="1.85" fill="#add2e8"/>
<rect x="264.23" y="188.64" width="11.99" height="1.85" fill="#b5d4e7"/>
<rect x="275.92" y="188.64" width="11.99" height="1.85" fill="#b4d3e7"/>
<rect x="287.62" y="188.64" width="11.99" height="1.85" fill="#a6d0e9"/>
<rect x="299.31" y="188.64" width="11.99" height="1.85" fill="#c3d7e1"/>
<rect x="159.00" y="190.19" width="11.99" height="1.85" fill="#b5d4e7"/>
<rect x="170.69" y="190.19" width="11.99" height="1.85" fill="#a2cfea"/>
<rect x="182.38" y="190.19" width="11.99" height="1.85" fill="#acd1e8"/>
<rect x="194.08" y="190.19" width="11.99" height="1.85" fill="#b9d5e6"/>
<rect x="205.77" y="190.19" width="11.99" height="1.85" fill="#afd2e8"/>
<rect x="217.46" y="190.19" width="11.99" height="1.85" fill="#bbd5e6"/>
<rect x="229.15" y="190.19" width="11.99" height="1.85" fill="#d1d9d3"/>
<rect x="240.85" y="190.19" width="11.99" height="1.85" fill="#c7d8df"/>
<rect x="252.54" y="190.19" width="11.99" height="1.85" fill="#afd2e8"/>
<rect x="264.23" y="190.19" width="11.99" height="1.85" fill="#a7d0e9"/>
<rect x="275.92" y="190.19" width="11.99" height="1.85" fill="#abd1e8"/>
<rect x="287.62" y="190.19" width="11.99" height="1.85" fill="#98cbea"/>
<rect x="299.31" y="190.19" width="11.99" height="1.85" fill="#c3d7e1"/>
<rect x="159.00" y="191.75" width="11.99" height="1.85" fill="#bed6e4"/>
<rect x="170.69" y="191.75" width="11.99" height="1.85" fill="#c9d8dc"/>
<rect x="182.38" y="191.75" width="11.99" height="1.85" fill="#b0d2e7"/>
<rect x="194.08" y="191.75" width="11.99" height="1.85" fill="#c7d8de"/>
<rect x="205.77" y="191.75" width="11.99" height="1.85" fill="#b9d5e6"/>
<rect x="217.46" y="191.75" width="11.99" height="1.85" fill="#c4d7e0"/>
<rect x="229.15" y="191.75" width="11.99" height="1.85" fill="#c9d8dc"/>
<rect x="240.85" y="191.75" width="11.99" height="1.85" fill="#cad8db"/>
<rect x="252.54" y="191.75" width="11.99" height="1.85" fill="#c0d6e3"/>
<rect x="264.23" y="191.75" width="11.99" height="1.85" fill="#afd2e8"/>
<rect x="275.92" y="191.75" width="11.99" height="1.85" fill="#aed2e8"/>
<rect x="287.62" y="191.75" width="11.99" height="1.85" fill="#a7d0e9"/>
<rect x="299.31" y="191.75" width="11.99" height="1.85" fill="#b9d5e6"/>
<rect x="159.00" y="193.30" width="11.99" height="1.85" fill="#c8d8de"/>
<rect x="170.69" y="193.30" width="11.99" height="1.85" fill="#c1d7e2"/>
<rect x="182.38" y="193.30" width="11.99" height="1.85" fill="#bbd5e5"/>
<rect x="194.08" y="193.30" width="11.99" height="1.85" fill="#c6d8df"/>
<rect x="205.77" y="193.30" width="11.99" height="1.85" fill="#c4d7e0"/>
<rect x="217.46" y="193.30" width="11.99" height="1.85" fill="#c5d7e0"/>
<rect x="229.15" y="193.30" width="11.99" height="1.85" fill="#cad8db"/>
<rect x="240.85" y="193.30" width="11.99" height="1.85" fill="#c5d7e0"/>
<rect x="252.54" y="193.30" width="11.99" height="1.85" fill="#bcd5e5"/>
<rect x="264.23" y="193.30" width="11.99" height="1.85" fill="#c7d8de"/>
<rect x="275.92" y="193.30" width="11.99" height="1.85" fill="#cad8db"/>
<rect x="287.62" y="193.30" width="11.99" height="1.85" fill="#c2d7e1"/>
<rect x="299.31" y="193.30" width="11.99" height="1.85" fill="#c9d8dd"/>
<rect x="159.00" y="194.85" width="11.99" height="1.85" fill="#c8d8de"/>
<rect x="170.69" y="194.85" width="11.99" height="1.85" fill="#bed6e3"/>
<rect x="182.38" y="194.85" width="11.99" height="1.85" fill="#b7d4e6"/>
<rect x="194.08" y="194.85" width="11.99" height="1.85" fill="#cfd9d5"/>
<rect x="205.77" y="194.85" width="11.99" height="1.85" fill="#abd1e8"/>
<rect x="217.46" y="194.85" width="11.99" height="1.85" fill="#cad8dc"/>
<rect x="229.15" y="194.85" width="11.99" height="1.85" fill="#c4d7e0"/>
<rect x="240.85" y="194.85" width="11.99" height="1.85" fill="#cfd8d6"/>
<rect x="252.54" y="194.85" width="11.99" height="1.85" fill="#afd2e8"/>
<rect x="264.23" y="194.85" width="11.99" height="1.85" fill="#cdd8d8"/>
<rect x="275.92" y="194.85" width="11.99" height="1.85" fill="#cbd8da"/>
<rect x="287.62" y="194.85" width="11.99" height="1.85" fill="#cbd8da"/>
<rect x="299.31" y="194.85" width="11.99" height="1.85" fill="#ccd8d9"/>
<rect x="159.00" y="196.40" width="11.99" height="1.85" fill="#cdd8d8"/>
<rect x="170.69" y="196.40" width="11.99" height="1.85" fill="#bed6e3"/>
<rect x="182.38" y="196.40" width="11.99" height="1.85" fill="#bbd5e5"/>
<rect x="194.08" y="196.40" width="11.99" height="1.85" fill="#cfd9d4"/>
<rect x="205.77" y="196.40" width="11.99" height="1.85" fill="#a7d0e9"/>
<rect x="217.46" y="196.40" width="11.99" height="1.85" fill="#b3d3e7"/>
<rect x="229.15" y="196.40" width="11.99" height="1.85" fill="#bad5e6"/>
<rect x="240.85" y="196.40" width="11.99" height="1.85" fill="#bfd6e3"/>
<rect x="252.54" y="196.40" width="11.99" height="1.85" fill="#bdd6e5"/>
<rect x="264.23" y="196.40" width="11.99" height="1.85" fill="#b8d4e6"/>
<rect x="275.92" y="196.40" width="11.99" height="1.85" fill="#c7d8df"/>
<rect x="287.62" y="196.40" width="11.99" height="1.85" fill="#b9d5e6"/>
<rect x="299.31" y="196.40" width="11.99" height="1.85" fill="#bed6e4"/>
<rect x="159.00" y="197.96" width="11.99" height="1.85" fill="#c4d7e0"/>
<rect x="170.69" y="197.96" width="11.99" height="1.85" fill="#cbd8da"/>
<rect x="182.38" y="197.96" width="11.99" height="1.85" fill="#c6d8df"/>
<rect x="194.08" y="197.96" width="11.99" height="1.85" fill="#d1d9d2"/>
<rect x="205.77" y="197.96" width="11.99" height="1.85" fill="#b2d3e7"/>
<rect x="217.46" y="197.96" width="11.99" height="1.85" fill="#c6d8df"/>
<rect x="229.15" y="197.96" width="11.99" height="1.85" fill="#c2d7e2"/>
<rect x="240.85" y="197.96" width="11.99" height="1.85" fill="#c8d8de"/>
<rect x="252.54" y="197.96" width="11.99" height="1.85" fill="#c2d7e1"/>
<rect x="264.23" y="197.96" width="11.99" height="1.85" fill="#ccd8d9"/>
<rect x="275.92" y="197.96" width="11.99" height="1.85" fill="#d8d9c8"/>
<rect x="287.62" y="197.96" width="11.99" height="1.85" fill="#d0d9d4"/>
<rect x="299.31" y="197.96" width="11.99" height="1.85" fill="#c8d8de"/>
<rect x="159.00" y="199.51" width="11.99" height="1.85" fill="#ccd8d9"/>
<rect x="170.69" y="199.51" width="11.99" height="1.85" fill="#e0d8ba"/>
<rect x="182.38" y="199.51" width="11.99" height="1.85" fill="#ddd8bf"/>
<rect x="194.08" y="199.51" width="11.99" height="1.85" fill="#ebd5a1"/>
<rect x="205.77" y="199.51" width="11.99" height="1.85" fill="#bfd6e3"/>
<rect x="217.46" y="199.51" width="11.99" height="1.85" fill="#c4d7e0"/>
<rect x="229.15" y="199.51" width="11.99" height="1.85" fill="#bfd6e3"/>
<rect x="240.85" y="199.51" width="11.99" height="1.85" fill="#c0d6e3"/>
<rect x="252.54" y="199.51" width="11.99" height="1.85" fill="#ccd8d9"/>
<rect x="264.23" y="199.51" width="11.99" height="1.85" fill="#d9d9c7"/>
<rect x="275.92" y="199.51" width="11.99" height="1.85" fill="#ddd8bf"/>
<rect x="287.62" y="199.51" width="11.99" height="1.85" fill="#e3d7b4"/>
<rect x="299.31" y="199.51" width="11.99" height="1.85" fill="#d2d9d1"/>
<rect x="159.00" y="201.06" width="11.99" height="1.85" fill="#c1d7e2"/>
<rect x="170.69" y="201.06" width="11.99" height="1.85" fill="#c1d7e2"/>
<rect x="182.38" y="201.06" width="11.99" height="1.85" fill="#ced8d6"/>
<rect x="194.08" y="201.06" width="11.99" height="1.85" fill="#d4d9ce"/>
<rect x="205.77" y="201.06" width="11.99" height="1.85" fill="#a5cfe9"/>
<rect x="217.46" y="201.06" width="11.99" height="1.85" fill="#b7d4e7"/>
<rect x="229.15" y="201.06" width="11.99" height="1.85" fill="#a5cfe9"/>
<rect x="240.85" y="201.06" width="11.99" height="1.85" fill="#b7d4e7"/>
<rect x="252.54" y="201.06" width="11.99" height="1.85" fill="#b7d4e7"/>
<rect x="264.23" y="201.06" width="11.99" height="1.85" fill="#d8d9c9"/>
<rect x="275.92" y="201.06" width="11.99" height="1.85" fill="#d5d9ce"/>
<rect x="287.62" y="201.06" width="11.99" height="1.85" fill="#d7d9c9"/>
<rect x="299.31" y="201.06" width="11.99" height="1.85" fill="#d8d9c9"/>
<rect x="159.00" y="202.61" width="11.99" height="1.85" fill="#bed6e4"/>
<rect x="170.69" y="202.61" width="11.99" height="1.85" fill="#b9d5e6"/>
<rect x="182.38" y="202.61" width="11.99" height="1.85" fill="#c1d7e2"/>
<rect x="194.08" y="202.61" width="11.99" height="1.85" fill="#ccd8d9"/>
<rect x="205.77" y="202.61" width="11.99" height="1.85" fill="#a5cfe9"/>
<rect x="217.46" y="202.61" width="11.99" height="1.85" fill="#b7d4e7"/>
<rect x="229.15" y="202.61" width="11.99" height="1.85" fill="#a5cfe9"/>
<rect x="240.85" y="202.61" width="11.99" height="1.85" fill="#b7d4e7"/>
<rect x="252.54" y="202.61" width="11.99" height="1.85" fill="#b7d4e7"/>
<rect x="264.23" y="202.61" width="11.99" height="1.85" fill="#c4d7e0"/>
<rect x="275.92" y="202.61" width="11.99" height="1.85" fill="#bed6e3"/>
<rect x="287.62" y="202.61" width="11.99" height="1.85" fill="#c9d8dd"/>
<rect x="299.31" y="202.61" width="11.99" height="1.85" fill="#c7d8df"/>
<rect x="159.00" y="204.17" width="11.99" height="1.85" fill="#d1d9d3"/>
<rect x="170.69" y="204.17" width="11.99" height="1.85" fill="#c9d8dc"/>
<rect x="182.38" y="204.17" width="11.99" height="1.85" fill="#d5d9cd"/>
<rect x="194.08" y="204.17" width="11.99" height="1.85" fill="#cdd8d7"/>
<rect x="205.77" y="204.17" width="11.99" height="1.85" fill="#bdd6e4"/>
<rect x="217.46" y="204.17" width="11.99" height="1.85" fill="#c9d8dc"/>
<rect x="229.15" y="204.17" width="11.99" height="1.85" fill="#ccd8d9"/>
<rect x="240.85" y="204.17" width="11.99" height="1.85" fill="#c8d8de"/>
<rect x="252.54" y="204.17" width="11.99" height="1.85" fill="#ced8d6"/>
<rect x="264.23" y="204.17" width="11.99" height="1.85" fill="#c2d7e2"/>
<rect x="275.92" y="204.17" width="11.99" height="1.85" fill="#c2d7e1"/>
<rect x="287.62" y="204.17" width="11.99" height="1.85" fill="#bbd5e5"/>
<rect x="299.31" y="204.17" width="11.99" height="1.85" fill="#c3d7e1"/>
<rect x="159.00" y="205.72" width="11.99" height="1.85" fill="#d3d9d0"/>
<rect x="170.69" y="205.72" width="11.99" height="1.85" fill="#ced8d6"/>
<rect x="182.38" y="205.72" width="11.99" height="1.85" fill="#94caea"/>
<rect x="194.08" y="205.72" width="11.99" height="1.85" fill="#cdd8d8"/>
<rect x="205.77" y="205.72" width="11.99" height="1.85" fill="#ded8bc"/>
<rect x="217.46" y="205.72" width="11.99" height="1.85" fill="#c9d8dc"/>
<rect x="229.15" y="205.72" width="11.99" height="1.85" fill="#dcd8c1"/>
<rect x="240.85" y="205.72" width="11.99" height="1.85" fill="#ccd8d9"/>
<rect x="252.54" y="205.72" width="11.99" height="1.85" fill="#dbd8c2"/>
<rect x="264.23" y="205.72" width="11.99" height="1.85" fill="#c1d7e2"/>
<rect x="275.92" y="205.72" width="11.99" height="1.85" fill="#b4d3e7"/>
<rect x="287.62" y="205.72" width="11.99" height="1.85" fill="#aad1e8"/>
<rect x="299.31" y="205.72" width="11.99" height="1.85" fill="#b5d4e7"/>
<rect x="159.00" y="207.27" width="11.99" height="1.85" fill="#d5d9ce"/>
<rect x="170.69" y="207.27" width="11.99" height="1.85" fill="#d7d9ca"/>
<rect x="182.38" y="207.27" width="11.99" height="1.85" fill="#94caea"/>
<rect x="194.08" y="207.27" width="11.99" height="1.85" fill="#c7d8de"/>
<rect x="205.77" y="207.27" width="11.99" height="1.85" fill="#efcc85"/>
<rect x="217.46" y="207.27" width="11.99" height="1.85" fill="#d4d9ce"/>
<rect x="229.15" y="207.27" width="11.99" height="1.85" fill="#ecd39b"/>
<rect x="240.85" y="207.27" width="11.99" height="1.85" fill="#cfd9d5"/>
<rect x="252.54" y="207.27" width="11.99" height="1.85" fill="#e1d7b7"/>
<rect x="264.23" y="207.27" width="11.99" height="1.85" fill="#cad8db"/>
<rect x="275.92" y="207.27" width="11.99" height="1.85" fill="#c1d6e2"/>
<rect x="287.62" y="207.27" width="11.99" height="1.85" fill="#d0d9d4"/>
<rect x="299.31" y="207.27" width="11.99" height="1.85" fill="#ccd8d9"/>
<rect x="159.00" y="208.83" width="11.99" height="1.85" fill="#ccd8d9"/>
<rect x="170.69" y="208.83" width="11.99" height="1.85" fill="#d7d9ca"/>
<rect x="182.38" y="208.83" width="11.99" height="1.85" fill="#d8d9c8"/>
<rect x="194.08" y="208.83" width="11.99" height="1.85" fill="#c1d7e2"/>
<rect x="205.77" y="208.83" width="11.99" height="1.85" fill="#f4c268"/>
<rect x="217.46" y="208.83" width="11.99" height="1.85" fill="#e8d6aa"/>
<rect x="229.15" y="208.83" width="11.99" height="1.85" fill="#f5c060"/>
<rect x="240.85" y="208.83" width="11.99" height="1.85" fill="#e8d6a9"/>
<rect x="252.54" y="208.83" width="11.99" height="1.85" fill="#edd195"/>
<rect x="264.23" y="208.83" width="11.99" height="1.85" fill="#c3d7e1"/>
<rect x="275.92" y="208.83" width="11.99" height="1.85" fill="#c4d7e0"/>
<rect x="287.62" y="208.83" width="11.99" height="1.85" fill="#cfd9d5"/>
<rect x="299.31" y="208.83" width="11.99" height="1.85" fill="#c9d8dc"/>
<rect x="159.00" y="210.38" width="11.99" height="1.85" fill="#d2d9d1"/>
<rect x="170.69" y="210.38" width="11.99" height="1.85" fill="#e7d6ab"/>
<rect x="182.38" y="210.38" width="11.99" height="1.85" fill="#dbd8c2"/>
<rect x="194.08" y="210.38" width="11.99" height="1.85" fill="#d3d9d0"/>
<rect x="205.77" y="210.38" width="11.99" height="1.85" fill="#f3c56f"/>
<rect x="217.46" y="210.38" width="11.99" height="1.85" fill="#ded8bd"/>
<rect x="229.15" y="210.38" width="11.99" height="1.85" fill="#f5a830"/>
<rect x="240.85" y="210.38" width="11.99" height="1.85" fill="#ddd8bf"/>
<rect x="252.54" y="210.38" width="11.99" height="1.85" fill="#ecd29a"/>
<rect x="264.23" y="210.38" width="11.99" height="1.85" fill="#d9d8c6"/>
<rect x="275.92" y="210.38" width="11.99" height="1.85" fill="#e2d7b6"/>
<rect x="287.62" y="210.38" width="11.99" height="1.85" fill="#cfd9d5"/>
<rect x="299.31" y="210.38" width="11.99" height="1.85" fill="#d4d9cf"/>
<rect x="159.00" y="211.93" width="11.99" height="1.85" fill="#ced8d6"/>
<rect x="170.69" y="211.93" width="11.99" height="1.85" fill="#e5d7af"/>
<rect x="182.38" y="211.93" width="11.99" height="1.85" fill="#ced8d7"/>
<rect x="194.08" y="211.93" width="11.99" height="1.85" fill="#c2d7e1"/>
<rect x="205.77" y="211.93" width="11.99" height="1.85" fill="#f3c56f"/>
<rect x="217.46" y="211.93" width="11.99" height="1.85" fill="#dbd8c2"/>
<rect x="229.15" y="211.93" width="11.99" height="1.85" fill="#f3c56e"/>
<rect x="240.85" y="211.93" width="11.99" height="1.85" fill="#ded8bc"/>
<rect x="252.54" y="211.93" width="11.99" height="1.85" fill="#ebd39d"/>
<rect x="264.23" y="211.93" width="11.99" height="1.85" fill="#eece8e"/>
<rect x="275.92" y="211.93" width="11.99" height="1.85" fill="#f4c369"/>
<rect x="287.62" y="211.93" width="11.99" height="1.85" fill="#d4d9cf"/>
<rect x="299.31" y="211.93" width="11.99" height="1.85" fill="#ced8d7"/>
<rect x="159.00" y="213.48" width="11.99" height="1.85" fill="#dfd8bb"/>
<rect x="170.69" y="213.48" width="11.99" height="1.85" fill="#edd094"/>
<rect x="182.38" y="213.48" width="11.99" height="1.85" fill="#ded8bd"/>
<rect x="194.08" y="213.48" width="11.99" height="1.85" fill="#c5d7e0"/>
<rect x="205.77" y="213.48" width="11.99" height="1.85" fill="#f3c56f"/>
<rect x="217.46" y="213.48" width="11.99" height="1.85" fill="#e9d6a9"/>
<rect x="229.15" y="213.48" width="11.99" height="1.85" fill="#f5c060"/>
<rect x="240.85" y="213.48" width="11.99" height="1.85" fill="#ded8bc"/>
<rect x="252.54" y="213.48" width="11.99" height="1.85" fill="#e8d6ab"/>
<rect x="264.23" y="213.48" width="11.99" height="1.85" fill="#e2d7b6"/>
<rect x="275.92" y="213.48" width="11.99" height="1.85" fill="#d2d9d1"/>
<rect x="287.62" y="213.48" width="11.99" height="1.85" fill="#d1d9d3"/>
<rect x="299.31" y="213.48" width="11.99" height="1.85" fill="#c3d7e1"/>
<rect x="159.00" y="215.04" width="11.99" height="1.85" fill="#c2d7e1"/>
<rect x="170.69" y="215.04" width="11.99" height="1.85" fill="#ead6a5"/>
<rect x="182.38" y="215.04" width="11.99" height="1.85" fill="#c2d7e1"/>
<rect x="194.08" y="215.04" width="11.99" height="1.85" fill="#b4d3e7"/>
<rect x="205.77" y="215.04" width="11.99" height="1.85" fill="#f1c879"/>
<rect x="217.46" y="215.04" width="11.99" height="1.85" fill="#dfd8bb"/>
<rect x="229.15" y="215.04" width="11.99" height="1.85" fill="#f5c060"/>
<rect x="240.85" y="215.04" width="11.99" height="1.85" fill="#d2d9d1"/>
<rect x="252.54" y="215.04" width="11.99" height="1.85" fill="#d8d9c8"/>
<rect x="264.23" y="215.04" width="11.99" height="1.85" fill="#eecf8f"/>
<rect x="275.92" y="215.04" width="11.99" height="1.85" fill="#e4d7b1"/>
<rect x="287.62" y="215.04" width="11.99" height="1.85" fill="#c0d6e3"/>
<rect x="299.31" y="215.04" width="11.99" height="1.85" fill="#d2d9d2"/>
<rect x="159.00" y="216.59" width="11.99" height="1.85" fill="#c6d8df"/>
<rect x="170.69" y="216.59" width="11.99" height="1.85" fill="#ddd8bf"/>
<rect x="182.38" y="216.59" width="11.99" height="1.85" fill="#cfd8d6"/>
<rect x="194.08" y="216.59" width="11.99" height="1.85" fill="#b0d2e8"/>
<rect x="205.77" y="216.59" width="11.99" height="1.85" fill="#ebd5a2"/>
<rect x="217.46" y="216.59" width="11.99" height="1.85" fill="#cdd8d7"/>
<rect x="229.15" y="216.59" width="11.99" height="1.85" fill="#ecd39b"/>
<rect x="240.85" y="216.59" width="11.99" height="1.85" fill="#dad8c5"/>
<rect x="252.54" y="216.59" width="11.99" height="1.85" fill="#cad8dc"/>
<rect x="264.23" y="216.59" width="11.99" height="1.85" fill="#d9d8c6"/>
<rect x="275.92" y="216.59" width="11.99" height="1.85" fill="#e2d7b6"/>
<rect x="287.62" y="216.59" width="11.99" height="1.85" fill="#cdd8d8"/>
<rect x="299.31" y="216.59" width="11.99" height="1.85" fill="#c9d8dd"/>
<rect x="159.00" y="218.14" width="11.99" height="1.85" fill="#c4d7e0"/>
<rect x="170.69" y="218.14" width="11.99" height="1.85" fill="#c3d7e1"/>
<rect x="182.38" y="218.14" width="11.99" height="1.85" fill="#bfd6e3"/>
<rect x="194.08" y="218.14" width="11.99" height="1.85" fill="#afd2e8"/>
<rect x="205.77" y="218.14" width="11.99" height="1.85" fill="#ded8bd"/>
<rect x="217.46" y="218.14" width="11.99" height="1.85" fill="#bbd5e5"/>
<rect x="229.15" y="218.14" width="11.99" height="1.85" fill="#f3c56f"/>
<rect x="240.85" y="218.14" width="11.99" height="1.85" fill="#d7d9cb"/>
<rect x="252.54" y="218.14" width="11.99" height="1.85" fill="#bad5e6"/>
<rect x="264.23" y="218.14" width="11.99" height="1.85" fill="#d2d9d1"/>
<rect x="275.92" y="218.14" width="11.99" height="1.85" fill="#d9d8c6"/>
<rect x="287.62" y="218.14" width="11.99" height="1.85" fill="#c6d7df"/>
<rect x="299.31" y="218.14" width="11.99" height="1.85" fill="#b6d4e7"/>
<rect x="159.00" y="219.69" width="11.99" height="1.85" fill="#c1d7e2"/>
<rect x="170.69" y="219.69" width="11.99" height="1.85" fill="#cdd8d8"/>
<rect x="182.38" y="219.69" width="11.99" height="1.85" fill="#c9d8dc"/>
<rect x="194.08" y="219.69" width="11.99" height="1.85" fill="#b5d4e7"/>
<rect x="205.77" y="219.69" width="11.99" height="1.85" fill="#dcd8c1"/>
<rect x="217.46" y="219.69" width="11.99" height="1.85" fill="#bbd5e5"/>
<rect x="229.15" y="219.69" width="11.99" height="1.85" fill="#dad8c4"/>
<rect x="240.85" y="219.69" width="11.99" height="1.85" fill="#e0d7b9"/>
<rect x="252.54" y="219.69" width="11.99" height="1.85" fill="#c5d7e0"/>
<rect x="264.23" y="219.69" width="11.99" height="1.85" fill="#e2d7b6"/>
<rect x="275.92" y="219.69" width="11.99" height="1.85" fill="#d2d9d1"/>
<rect x="287.62" y="219.69" width="11.99" height="1.85" fill="#b8d4e6"/>
<rect x="299.31" y="219.69" width="11.99" height="1.85" fill="#c0d6e2"/>
<rect x="159.00" y="221.25" width="11.99" height="1.85" fill="#c8d8de"/>
<rect x="170.69" y="221.25" width="11.99" height="1.85" fill="#c3d7e1"/>
<rect x="182.38" y="221.25" width="11.99" height="1.85" fill="#c5d7e0"/>
<rect x="194.08" y="221.25" width="11.99" height="1.85" fill="#c0d6e2"/>
<rect x="205.77" y="221.25" width="11.99" height="1.85" fill="#edd093"/>
<rect x="217.46" y="221.25" width="11.99" height="1.85" fill="#d7d9cb"/>
<rect x="229.15" y="221.25" width="11.99" height="1.85" fill="#e8d6a9"/>
<rect x="240.85" y="221.25" width="11.99" height="1.85" fill="#edd092"/>
<rect x="252.54" y="221.25" width="11.99" height="1.85" fill="#e0d7b8"/>
<rect x="264.23" y="221.25" width="11.99" height="1.85" fill="#c4d7e0"/>
<rect x="275.92" y="221.25" width="11.99" height="1.85" fill="#b7d4e6"/>
<rect x="287.62" y="221.25" width="11.99" height="1.85" fill="#b7d4e6"/>
<rect x="299.31" y="221.25" width="11.99" height="1.85" fill="#c1d7e2"/>
<rect x="159.00" y="222.80" width="11.99" height="1.85" fill="#c5d7e0"/>
<rect x="170.69" y="222.80" width="11.99" height="1.85" fill="#c1d7e2"/>
<rect x="182.38" y="222.80" width="11.99" height="1.85" fill="#bad5e6"/>
<rect x="194.08" y="222.80" width="11.99" height="1.85" fill="#b7d4e6"/>
<rect x="205.77" y="222.80" width="11.99" height="1.85" fill="#e3d7b4"/>
<rect x="217.46" y="222.80" width="11.99" height="1.85" fill="#ccd8d9"/>
<rect x="229.15" y="222.80" width="11.99" height="1.85" fill="#cfd9d5"/>
<rect x="240.85" y="222.80" width="11.99" height="1.85" fill="#e1d7b7"/>
<rect x="252.54" y="222.80" width="11.99" height="1.85" fill="#c4d7e0"/>
<rect x="264.23" y="222.80" width="11.99" height="1.85" fill="#d9d8c6"/>
<rect x="275.92" y="222.80" width="11.99" height="1.85" fill="#e2d7b6"/>
<rect x="287.62" y="222.80" width="11.99" height="1.85" fill="#b8d4e6"/>
<rect x="299.31" y="222.80" width="11.99" height="1.85" fill="#ced8d6"/>
<rect x="159.00" y="224.35" width="11.99" height="1.85" fill="#d2d9d1"/>
<rect x="170.69" y="224.35" width="11.99" height="1.85" fill="#d6d9cc"/>
<rect x="182.38" y="224.35" width="11.99" height="1.85" fill="#c5d7df"/>
<rect x="194.08" y="224.35" width="11.99" height="1.85" fill="#c7d8de"/>
<rect x="205.77" y="224.35" width="11.99" height="1.85" fill="#e9d6a8"/>
<rect x="217.46" y="224.35" width="11.99" height="1.85" fill="#d4d9cf"/>
<rect x="229.15" y="224.35" width="11.99" height="1.85" fill="#ded8bd"/>
<rect x="240.85" y="224.35" width="11.99" height="1.85" fill="#e2d7b6"/>
<rect x="252.54" y="224.35" width="11.99" height="1.85" fill="#d6d9cc"/>
<rect x="264.23" y="224.35" width="11.99" height="1.85" fill="#d2d9d1"/>
<rect x="275.92" y="224.35" width="11.99" height="1.85" fill="#d9d8c6"/>
<rect x="287.62" y="224.35" width="11.99" height="1.85" fill="#bcd5e5"/>
<rect x="299.31" y="224.35" width="11.99" height="1.85" fill="#ced8d7"/>
<rect x="159.00" y="225.90" width="11.99" height="1.85" fill="#cbd8da"/>
<rect x="170.69" y="225.90" width="11.99" height="1.85" fill="#c0d6e3"/>
<rect x="182.38" y="225.90" width="11.99" height="1.85" fill="#cad8db"/>
<rect x="194.08" y="225.90" width="11.99" height="1.85" fill="#b6d4e7"/>
<rect x="205.77" y="225.90" width="11.99" height="1.85" fill="#eecf8f"/>
<rect x="217.46" y="225.90" width="11.99" height="1.85" fill="#e3d7b3"/>
<rect x="229.15" y="225.90" width="11.99" height="1.85" fill="#f0ca7e"/>
<rect x="240.85" y="225.90" width="11.99" height="1.85" fill="#ead5a3"/>
<rect x="252.54" y="225.90" width="11.99" height="1.85" fill="#d1d9d2"/>
<rect x="264.23" y="225.90" width="11.99" height="1.85" fill="#e2d7b6"/>
<rect x="275.92" y="225.90" width="11.99" height="1.85" fill="#d2d9d1"/>
<rect x="287.62" y="225.90" width="11.99" height="1.85" fill="#bed6e4"/>
<rect x="299.31" y="225.90" width="11.99" height="1.85" fill="#c2d7e2"/>
<rect x="159.00" y="227.46" width="11.99" height="1.85" fill="#b3d3e7"/>
<rect x="170.69" y="227.46" width="11.99" height="1.85" fill="#9bccea"/>
<rect x="182.38" y="227.46" width="11.99" height="1.85" fill="#b0d2e8"/>
<rect x="194.08" y="227.46" width="11.99" height="1.85" fill="#b7d4e7"/>
<rect x="205.77" y="227.46" width="11.99" height="1.85" fill="#e7d7ac"/>
<rect x="217.46" y="227.46" width="11.99" height="1.85" fill="#c2d7e1"/>
<rect x="229.15" y="227.46" width="11.99" height="1.85" fill="#c8d8de"/>
<rect x="240.85" y="227.46" width="11.99" height="1.85" fill="#ccd8d9"/>
<rect x="252.54" y="227.46" width="11.99" height="1.85" fill="#c3d7e1"/>
<rect x="264.23" y="227.46" width="11.99" height="1.85" fill="#d9d8c6"/>
<rect x="275.92" y="227.46" width="11.99" height="1.85" fill="#e2d7b6"/>
<rect x="287.62" y="227.46" width="11.99" height="1.85" fill="#abd1e8"/>
<rect x="299.31" y="227.46" width="11.99" height="1.85" fill="#aed2e8"/>
<rect x="159.00" y="229.01" width="11.99" height="1.85" fill="#cbd8da"/>
<rect x="170.69" y="229.01" width="11.99" height="1.85" fill="#cfd8d5"/>
<rect x="182.38" y="229.01" width="11.99" height="1.85" fill="#cad8dc"/>
<rect x="194.08" y="229.01" width="11.99" height="1.85" fill="#d3d9d0"/>
<rect x="205.77" y="229.01" width="11.99" height="1.85" fill="#f1c87b"/>
<rect x="217.46" y="229.01" width="11.99" height="1.85" fill="#cfd8d5"/>
<rect x="229.15" y="229.01" width="11.99" height="1.85" fill="#e0d8ba"/>
<rect x="240.85" y="229.01" width="11.99" height="1.85" fill="#cfd8d6"/>
<rect x="252.54" y="229.01" width="11.99" height="1.85" fill="#d8d9c9"/>
<rect x="264.23" y="229.01" width="11.99" height="1.85" fill="#c9d8dd"/>
<rect x="275.92" y="229.01" width="11.99" height="1.85" fill="#c3d7e1"/>
<rect x="287.62" y="229.01" width="11.99" height="1.85" fill="#ced8d6"/>
<rect x="299.31" y="229.01" width="11.99" height="1.85" fill="#bcd6e5"/>
<rect x="159.00" y="230.56" width="11.99" height="1.85" fill="#d6d9cb"/>
<rect x="170.69" y="230.56" width="11.99" height="1.85" fill="#c8d8de"/>
<rect x="182.38" y="230.56" width="11.99" height="1.85" fill="#c1d7e2"/>
<rect x="194.08" y="230.56" width="11.99" height="1.85" fill="#c9d8dc"/>
<rect x="205.77" y="230.56" width="11.99" height="1.85" fill="#eecf8e"/>
<rect x="217.46" y="230.56" width="11.99" height="1.85" fill="#d1d9d2"/>
<rect x="229.15" y="230.56" width="11.99" height="1.85" fill="#dad8c4"/>
<rect x="240.85" y="230.56" width="11.99" height="1.85" fill="#d4d9cf"/>
<rect x="252.54" y="230.56" width="11.99" height="1.85" fill="#cad8db"/>
<rect x="264.23" y="230.56" width="11.99" height="1.85" fill="#d2d9d1"/>
<rect x="275.92" y="230.56" width="11.99" height="1.85" fill="#d9d8c6"/>
<rect x="287.62" y="230.56" width="11.99" height="1.85" fill="#d3d9d0"/>
<rect x="299.31" y="230.56" width="11.99" height="1.85" fill="#d5d9ce"/>
<rect x="159.00" y="232.12" width="11.99" height="1.85" fill="#c3d7e1"/>
<rect x="170.69" y="232.12" width="11.99" height="1.85" fill="#c6d8df"/>
<rect x="182.38" y="232.12" width="11.99" height="1.85" fill="#bbd5e6"/>
<rect x="194.08" y="232.12" width="11.99" height="1.85" fill="#cad8dc"/>
<rect x="205.77" y="232.12" width="11.99" height="1.85" fill="#f0ca7f"/>
<rect x="217.46" y="232.12" width="11.99" height="1.85" fill="#d1d9d2"/>
<rect x="229.15" y="232.12" width="11.99" height="1.85" fill="#e1d7b7"/>
<rect x="240.85" y="232.12" width="11.99" height="1.85" fill="#d4d9cf"/>
<rect x="252.54" y="232.12" width="11.99" height="1.85" fill="#b6d4e7"/>
<rect x="264.23" y="232.12" width="11.99" height="1.85" fill="#e2d7b6"/>
<rect x="275.92" y="232.12" width="11.99" height="1.85" fill="#d2d9d1"/>
<rect x="287.62" y="232.12" width="11.99" height="1.85" fill="#d2d9d1"/>
<rect x="299.31" y="232.12" width="11.99" height="1.85" fill="#cfd8d5"/>
<rect x="159.00" y="233.67" width="11.99" height="1.85" fill="#c8d8de"/>
<rect x="170.69" y="233.67" width="11.99" height="1.85" fill="#a9d1e9"/>
<rect x="182.38" y="233.67" width="11.99" height="1.85" fill="#b4d3e7"/>
<rect x="194.08" y="233.67" width="11.99" height="1.85" fill="#c4d7e0"/>
<rect x="205.77" y="233.67" width="11.99" height="1.85" fill="#eecd8a"/>
<rect x="217.46" y="233.67" width="11.99" height="1.85" fill="#c6d7df"/>
<rect x="229.15" y="233.67" width="11.99" height="1.85" fill="#e1d7b7"/>
<rect x="240.85" y="233.67" width="11.99" height="1.85" fill="#ded8bd"/>
<rect x="252.54" y="233.67" width="11.99" height="1.85" fill="#b8d5e6"/>
<rect x="264.23" y="233.67" width="11.99" height="1.85" fill="#d9d8c6"/>
<rect x="275.92" y="233.67" width="11.99" height="1.85" fill="#e2d7b6"/>
<rect x="287.62" y="233.67" width="11.99" height="1.85" fill="#c3d7e1"/>
<rect x="299.31" y="233.67" width="11.99" height="1.85" fill="#cad8dc"/>
<rect x="159.00" y="235.22" width="11.99" height="1.85" fill="#bbd5e5"/>
<rect x="170.69" y="235.22" width="11.99" height="1.85" fill="#bcd5e5"/>
<rect x="182.38" y="235.22" width="11.99" height="1.85" fill="#b2d3e7"/>
<rect x="194.08" y="235.22" width="11.99" height="1.85" fill="#b2d3e7"/>
<rect x="205.77" y="235.22" width="11.99" height="1.85" fill="#f0cb83"/>
<rect x="217.46" y="235.22" width="11.99" height="1.85" fill="#d1d9d3"/>
<rect x="229.15" y="235.22" width="11.99" height="1.85" fill="#ebd5a3"/>
<rect x="240.85" y="235.22" width="11.99" height="1.85" fill="#e4d7b2"/>
<rect x="252.54" y="235.22" width="11.99" height="1.85" fill="#d5d9cd"/>
<rect x="264.23" y="235.22" width="11.99" height="1.85" fill="#c7d8df"/>
<rect x="275.92" y="235.22" width="11.99" height="1.85" fill="#b7d4e6"/>
<rect x="287.62" y="235.22" width="11.99" height="1.85" fill="#dad8c4"/>
<rect x="299.31" y="235.22" width="11.99" height="1.85" fill="#c2d7e2"/>
<rect x="159.00" y="236.77" width="11.99" height="1.85" fill="#c4d7e0"/>
<rect x="170.69" y="236.77" width="11.99" height="1.85" fill="#d1d9d3"/>
<rect x="182.38" y="236.77" width="11.99" height="1.85" fill="#bdd6e4"/>
<rect x="194.08" y="236.77" width="11.99" height="1.85" fill="#b3d3e7"/>
<rect x="205.77" y="236.77" width="11.99" height="1.85" fill="#f0ca81"/>
<rect x="217.46" y="236.77" width="11.99" height="1.85" fill="#cfd8d6"/>
<rect x="229.15" y="236.77" width="11.99" height="1.85" fill="#ebd49f"/>
<rect x="240.85" y="236.77" width="11.99" height="1.85" fill="#e2d7b5"/>
<rect x="252.54" y="236.77" width="11.99" height="1.85" fill="#dad8c4"/>
<rect x="264.23" y="236.77" width="11.99" height="1.85" fill="#d2d9d1"/>
<rect x="275.92" y="236.77" width="11.99" height="1.85" fill="#d9d8c6"/>
<rect x="287.62" y="236.77" width="11.99" height="1.85" fill="#cfd9d5"/>
<rect x="299.31" y="236.77" width="11.99" height="1.85" fill="#b8d5e6"/>
<rect x="159.00" y="238.33" width="11.99" height="1.85" fill="#ced8d7"/>
<rect x="170.69" y="238.33" width="11.99" height="1.85" fill="#d3d9cf"/>
<rect x="182.38" y="238.33" width="11.99" height="1.85" fill="#afd2e8"/>
<rect x="194.08" y="238.33" width="11.99" height="1.85" fill="#b4d3e7"/>
<rect x="205.77" y="238.33" width="11.99" height="1.85" fill="#efcb84"/>
<rect x="217.46" y="238.33" width="11.99" height="1.85" fill="#dfd8bb"/>
<rect x="229.15" y="238.33" width="11.99" height="1.85" fill="#ead5a3"/>
<rect x="240.85" y="238.33" width="11.99" height="1.85" fill="#e7d6ab"/>
<rect x="252.54" y="238.33" width="11.99" height="1.85" fill="#e4d7b1"/>
<rect x="264.23" y="238.33" width="11.99" height="1.85" fill="#e2d7b6"/>
<rect x="275.92" y="238.33" width="11.99" height="1.85" fill="#d2d9d1"/>
<rect x="287.62" y="238.33" width="11.99" height="1.85" fill="#cad8db"/>
<rect x="299.31" y="238.33" width="11.99" height="1.85" fill="#c0d6e2"/>
<rect x="159.00" y="239.88" width="11.99" height="1.85" fill="#cad8dc"/>
<rect x="170.69" y="239.88" width="11.99" height="1.85" fill="#ced8d6"/>
<rect x="182.38" y="239.88" width="11.99" height="1.85" fill="#c1d6e2"/>
<rect x="194.08" y="239.88" width="11.99" height="1.85" fill="#b2d3e7"/>
<rect x="205.77" y="239.88" width="11.99" height="1.85" fill="#ecd29b"/>
<rect x="217.46" y="239.88" width="11.99" height="1.85" fill="#d6d9cc"/>
<rect x="229.15" y="239.88" width="11.99" height="1.85" fill="#ebd5a2"/>
<rect x="240.85" y="239.88" width="11.99" height="1.85" fill="#dcd8c0"/>
<rect x="252.54" y="239.88" width="11.99" height="1.85" fill="#c8d8de"/>
<rect x="264.23" y="239.88" width="11.99" height="1.85" fill="#d9d8c6"/>
<rect x="275.92" y="239.88" width="11.99" height="1.85" fill="#e2d7b6"/>
<rect x="287.62" y="239.88" width="11.99" height="1.85" fill="#cfd8d5"/>
<rect x="299.31" y="239.88" width="11.99" height="1.85" fill="#b3d3e7"/>
<rect x="159.00" y="241.43" width="11.99" height="1.85" fill="#d0d9d3"/>
<rect x="170.69" y="241.43" width="11.99" height="1.85" fill="#c3d7e1"/>
<rect x="182.38" y="241.43" width="11.99" height="1.85" fill="#c8d8de"/>
<rect x="194.08" y="241.43" width="11.99" height="1.85" fill="#b9d5e6"/>
<rect x="205.77" y="241.43" width="11.99" height="1.85" fill="#e7d6ac"/>
<rect x="217.46" y="241.43" width="11.99" height="1.85" fill="#dcd8c1"/>
<rect x="229.15" y="241.43" width="11.99" height="1.85" fill="#e6d7ae"/>
<rect x="240.85" y="241.43" width="11.99" height="1.85" fill="#ccd8d9"/>
<rect x="252.54" y="241.43" width="11.99" height="1.85" fill="#c4d7e0"/>
<rect x="264.23" y="241.43" width="11.99" height="1.85" fill="#c5d7e0"/>
<rect x="275.92" y="241.43" width="11.99" height="1.85" fill="#d3d9cf"/>
<rect x="287.62" y="241.43" width="11.99" height="1.85" fill="#d3d9d0"/>
<rect x="299.31" y="241.43" width="11.99" height="1.85" fill="#cbd8db"/>
<rect x="159.00" y="242.98" width="11.99" height="1.85" fill="#64b4e6"/>
<rect x="170.69" y="242.98" width="11.99" height="1.85" fill="#bad5e6"/>
<rect x="182.38" y="242.98" width="11.99" height="1.85" fill="#4499db"/>
<rect x="194.08" y="242.98" width="11.99" height="1.85" fill="#c1d6e2"/>
<rect x="205.77" y="242.98" width="11.99" height="1.85" fill="#eece8e"/>
<rect x="217.46" y="242.98" width="11.99" height="1.85" fill="#bad5e6"/>
<rect x="229.15" y="242.98" width="11.99" height="1.85" fill="#d2281e"/>
<rect x="240.85" y="242.98" width="11.99" height="1.85" fill="#bad5e6"/>
<rect x="252.54" y="242.98" width="11.99" height="1.85" fill="#b1d3e7"/>
<rect x="264.23" y="242.98" width="11.99" height="1.85" fill="#d2d9d1"/>
<rect x="275.92" y="242.98" width="11.99" height="1.85" fill="#d9d8c6"/>
<rect x="287.62" y="242.98" width="11.99" height="1.85" fill="#6ebde9"/>
<rect x="299.31" y="242.98" width="11.99" height="1.85" fill="#a9d0e9"/>
<rect x="159.00" y="244.54" width="11.99" height="1.85" fill="#64b4e6"/>
<rect x="170.69" y="244.54" width="11.99" height="1.85" fill="#bad5e6"/>
<rect x="182.38" y="244.54" width="11.99" height="1.85" fill="#4499db"/>
<rect x="194.08" y="244.54" width="11.99" height="1.85" fill="#c1d6e2"/>
<rect x="205.77" y="244.54" width="11.99" height="1.85" fill="#eece8e"/>
<rect x="217.46" y="244.54" width="11.99" height="1.85" fill="#bad5e6"/>
<rect x="229.15" y="244.54" width="11.99" height="1.85" fill="#d2281e"/>
<rect x="240.85" y="244.54" width="11.99" height="1.85" fill="#bad5e6"/>
<rect x="252.54" y="244.54" width="11.99" height="1.85" fill="#b1d3e7"/>
<rect x="264.23" y="244.54" width="11.99" height="1.85" fill="#d6d9cc"/>
<rect x="275.92" y="244.54" width="11.99" height="1.85" fill="#c8d8de"/>
<rect x="287.62" y="244.54" width="11.99" height="1.85" fill="#6ebde9"/>
<rect x="299.31" y="244.54" width="11.99" height="1.85" fill="#a9d0e9"/>
<rect x="159.00" y="246.09" width="11.99" height="1.85" fill="#ebd39d"/>
<rect x="170.69" y="246.09" width="11.99" height="1.85" fill="#a9d0e9"/>
<rect x="182.38" y="246.09" width="11.99" height="1.85" fill="#f5c060"/>
<rect x="194.08" y="246.09" width="11.99" height="1.85" fill="#cfd8d5"/>
<rect x="205.77" y="246.09" width="11.99" height="1.85" fill="#3787d0"/>
<rect x="217.46" y="246.09" width="11.99" height="1.85" fill="#6ebde9"/>
<rect x="229.15" y="246.09" width="11.99" height="1.85" fill="#59abe2"/>
<rect x="240.85" y="246.09" width="11.99" height="1.85" fill="#94caea"/>
<rect x="252.54" y="246.09" width="11.99" height="1.85" fill="#87c6ea"/>
<rect x="264.23" y="246.09" width="11.99" height="1.85" fill="#64b4e6"/>
<rect x="275.92" y="246.09" width="11.99" height="1.85" fill="#7ac1e9"/>
<rect x="287.62" y="246.09" width="11.99" height="1.85" fill="#6ebde9"/>
<rect x="299.31" y="246.09" width="11.99" height="1.85" fill="#87c6ea"/>
<rect x="159.00" y="247.64" width="11.99" height="1.85" fill="#ebd39d"/>
<rect x="170.69" y="247.64" width="11.99" height="1.85" fill="#a9d0e9"/>
<rect x="182.38" y="247.64" width="11.99" height="1.85" fill="#f5c060"/>
<rect x="194.08" y="247.64" width="11.99" height="1.85" fill="#cfd8d5"/>
<rect x="205.77" y="247.64" width="11.99" height="1.85" fill="#3787d0"/>
<rect x="217.46" y="247.64" width="11.99" height="1.85" fill="#6ebde9"/>
<rect x="229.15" y="247.64" width="11.99" height="1.85" fill="#59abe2"/>
<rect x="240.85" y="247.64" width="11.99" height="1.85" fill="#94caea"/>
<rect x="252.54" y="247.64" width="11.99" height="1.85" fill="#87c6ea"/>
<rect x="264.23" y="247.64" width="11.99" height="1.85" fill="#64b4e6"/>
<rect x="275.92" y="247.64" width="11.99" height="1.85" fill="#7ac1e9"/>
<rect x="287.62" y="247.64" width="11.99" height="1.85" fill="#6ebde9"/>
<rect x="299.31" y="247.64" width="11.99" height="1.85" fill="#87c6ea"/>
<rect x="159.00" y="249.19" width="11.99" height="1.85" fill="#e7d6ac"/>
<rect x="170.69" y="249.19" width="11.99" height="1.85" fill="#a0ceea"/>
<rect x="182.38" y="249.19" width="11.99" height="1.85" fill="#f3c56f"/>
<rect x="194.08" y="249.19" width="11.99" height="1.85" fill="#c8d8de"/>
<rect x="205.77" y="249.19" width="11.99" height="1.85" fill="#4fa2df"/>
<rect x="217.46" y="249.19" width="11.99" height="1.85" fill="#7ac1e9"/>
<rect x="229.15" y="249.19" width="11.99" height="1.85" fill="#6ebde9"/>
<rect x="240.85" y="249.19" width="11.99" height="1.85" fill="#87c6ea"/>
<rect x="252.54" y="249.19" width="11.99" height="1.85" fill="#87c6ea"/>
<rect x="264.23" y="249.19" width="11.99" height="1.85" fill="#6ebde9"/>
<rect x="275.92" y="249.19" width="11.99" height="1.85" fill="#87c6ea"/>
<rect x="287.62" y="249.19" width="11.99" height="1.85" fill="#7ac1e9"/>
<rect x="299.31" y="249.19" width="11.99" height="1.85" fill="#94caea"/>
<rect x="159.00" y="250.75" width="11.99" height="1.85" fill="#e7d6ac"/>
<rect x="170.69" y="250.75" width="11.99" height="1.85" fill="#a0ceea"/>
<rect x="182.38" y="250.75" width="11.99" height="1.85" fill="#f3c56f"/>
<rect x="194.08" y="250.75" width="11.99" height="1.85" fill="#c8d8de"/>
<rect x="205.77" y="250.75" width="11.99" height="1.85" fill="#4fa2df"/>
<rect x="217.46" y="250.75" width="11.99" height="1.85" fill="#7ac1e9"/>
<rect x="229.15" y="250.75" width="11.99" height="1.85" fill="#6ebde9"/>
<rect x="240.85" y="250.75" width="11.99" height="1.85" fill="#87c6ea"/>
<rect x="252.54" y="250.75" width="11.99" height="1.85" fill="#87c6ea"/>
<rect x="264.23" y="250.75" width="11.99" height="1.85" fill="#6ebde9"/>
<rect x="275.92" y="250.75" width="11.99" height="1.85" fill="#87c6ea"/>
<rect x="287.62" y="250.75" width="11.99" height="1.85" fill="#7ac1e9"/>
<rect x="299.31" y="250.75" width="11.99" height="1.85" fill="#94caea"/>
</g></g>
<rect x="159.00" y="14.20" width="152.00" height="238.10" fill="none" stroke="#333" stroke-width="0.5"/>
<line x1="205.77" y1="14.20" x2="205.77" y2="252.30" stroke="#222" stroke-width="0.7"/>
<line x1="264.23" y1="14.20" x2="264.23" y2="252.30" stroke="#222" stroke-width="0.7"/>
<line x1="159.00" y1="19.40" x2="311.00" y2="19.40" stroke="#111" stroke-width="0.7" stroke-dasharray="1,0.8"/>
<text x="182.38" y="260.00" text-anchor="middle">Acute</text>
<text x="235.00" y="260.00" text-anchor="middle">Chronic</text>
<text x="287.62" y="260.00" text-anchor="middle">Recovered</text>
<text x="154.80" y="132.80" text-anchor="middle" transform="rotate(-90 154.80 132.80)">1,838 motifs</text>
<line x1="311.00" y1="14.50" x2="322.60" y2="64.50" stroke="#444" stroke-width="0.5" stroke-dasharray="0.8,0.8"/>
<line x1="311.00" y1="19.40" x2="322.60" y2="211.80" stroke="#444" stroke-width="0.5" stroke-dasharray="0.8,0.8"/>
<text x="346.50" y="11.00" text-anchor="middle">Change in motif</text>
<text x="346.50" y="18.50" text-anchor="middle">accessibility</text>
<defs><linearGradient id="cb" x1="0" x2="1" y1="0" y2="0"><stop offset="0.000" stop-color="rgb(42, 92, 170)"/><stop offset="0.150" stop-color="rgb(58, 144, 216)"/><stop offset="0.275" stop-color="rgb(110, 189, 233)"/><stop offset="0.425" stop-color="rgb(205, 214, 216)"/><stop offset="0.600" stop-color="rgb(236, 200, 130)"/><stop offset="0.725" stop-color="rgb(245, 170, 50)"/><stop offset="0.850" stop-color="rgb(225, 50, 35)"/><stop offset="1.000" stop-color="rgb(160, 24, 24)"/></linearGradient></defs>
<rect x="336.00" y="23.40" width="23.00" height="7.30" fill="url(#cb)" stroke="#555" stroke-width="0.3"/>
<line x1="336.00" y1="30.70" x2="336.00" y2="32.00" stroke="#555" stroke-width="0.4"/>
<line x1="359.00" y1="30.70" x2="359.00" y2="32.00" stroke="#555" stroke-width="0.4"/>
<text x="335.80" y="39.50" text-anchor="middle">−1</text>
<text x="359.00" y="39.50" text-anchor="middle">1</text>
<rect x="322.60" y="64.50" width="4.00" height="4.03" fill="#dcd8c0"/>
<rect x="326.25" y="64.50" width="4.00" height="4.03" fill="#f2c674"/>
<rect x="329.91" y="64.50" width="4.00" height="4.03" fill="#bad5e6"/>
<rect x="333.56" y="64.50" width="4.00" height="4.03" fill="#a8d0e9"/>
<rect x="337.22" y="64.50" width="4.00" height="4.03" fill="#ced8d7"/>
<rect x="340.87" y="64.50" width="4.00" height="4.03" fill="#f5b141"/>
<rect x="344.52" y="64.50" width="4.00" height="4.03" fill="#f0cb82"/>
<rect x="348.18" y="64.50" width="4.00" height="4.03" fill="#aa1518"/>
<rect x="351.83" y="64.50" width="4.00" height="4.03" fill="#bd1e1b"/>
<rect x="355.48" y="64.50" width="4.00" height="4.03" fill="#be1f1b"/>
<rect x="359.14" y="64.50" width="4.00" height="4.03" fill="#ad1719"/>
<rect x="362.79" y="64.50" width="4.00" height="4.03" fill="#af1719"/>
<rect x="366.45" y="64.50" width="4.00" height="4.03" fill="#c4211c"/>
<rect x="322.60" y="68.18" width="4.00" height="4.03" fill="#ebd39e"/>
<rect x="326.25" y="68.18" width="4.00" height="4.03" fill="#f0ca7f"/>
<rect x="329.91" y="68.18" width="4.00" height="4.03" fill="#a4cfe9"/>
<rect x="333.56" y="68.18" width="4.00" height="4.03" fill="#d7d9ca"/>
<rect x="337.22" y="68.18" width="4.00" height="4.03" fill="#d6d9cc"/>
<rect x="340.87" y="68.18" width="4.00" height="4.03" fill="#f5ba54"/>
<rect x="344.52" y="68.18" width="4.00" height="4.03" fill="#e8d6ab"/>
<rect x="348.18" y="68.18" width="4.00" height="4.03" fill="#b21919"/>
<rect x="351.83" y="68.18" width="4.00" height="4.03" fill="#b21919"/>
<rect x="355.48" y="68.18" width="4.00" height="4.03" fill="#b61b1a"/>
<rect x="359.14" y="68.18" width="4.00" height="4.03" fill="#b41a1a"/>
<rect x="362.79" y="68.18" width="4.00" height="4.03" fill="#b11819"/>
<rect x="366.45" y="68.18" width="4.00" height="4.03" fill="#cd261d"/>
<rect x="322.60" y="71.86" width="4.00" height="4.03" fill="#ebd39d"/>
<rect x="326.25" y="71.86" width="4.00" height="4.03" fill="#f1c87b"/>
<rect x="329.91" y="71.86" width="4.00" height="4.03" fill="#80c3e9"/>
<rect x="333.56" y="71.86" width="4.00" height="4.03" fill="#bdd6e4"/>
<rect x="337.22" y="71.86" width="4.00" height="4.03" fill="#cdd8d8"/>
<rect x="340.87" y="71.86" width="4.00" height="4.03" fill="#f5b449"/>
<rect x="344.52" y="71.86" width="4.00" height="4.03" fill="#e2d7b4"/>
<rect x="348.18" y="71.86" width="4.00" height="4.03" fill="#b3191a"/>
<rect x="351.83" y="71.86" width="4.00" height="4.03" fill="#ba1c1b"/>
<rect x="355.48" y="71.86" width="4.00" height="4.03" fill="#b11819"/>
<rect x="359.14" y="71.86" width="4.00" height="4.03" fill="#a81418"/>
<rect x="362.79" y="71.86" width="4.00" height="4.03" fill="#b41a1a"/>
<rect x="366.45" y="71.86" width="4.00" height="4.03" fill="#cb251d"/>
<rect x="322.60" y="75.55" width="4.00" height="4.03" fill="#dbd8c3"/>
<rect x="326.25" y="75.55" width="4.00" height="4.03" fill="#efcc86"/>
<rect x="329.91" y="75.55" width="4.00" height="4.03" fill="#b4d3e7"/>
<rect x="333.56" y="75.55" width="4.00" height="4.03" fill="#b0d2e8"/>
<rect x="337.22" y="75.55" width="4.00" height="4.03" fill="#dcd8c0"/>
<rect x="340.87" y="75.55" width="4.00" height="4.03" fill="#f5b345"/>
<rect x="344.52" y="75.55" width="4.00" height="4.03" fill="#e8d6aa"/>
<rect x="348.18" y="75.55" width="4.00" height="4.03" fill="#ae1719"/>
<rect x="351.83" y="75.55" width="4.00" height="4.03" fill="#ba1d1b"/>
<rect x="355.48" y="75.55" width="4.00" height="4.03" fill="#a81418"/>
<rect x="359.14" y="75.55" width="4.00" height="4.03" fill="#b71b1a"/>
<rect x="362.79" y="75.55" width="4.00" height="4.03" fill="#ad1719"/>
<rect x="366.45" y="75.55" width="4.00" height="4.03" fill="#d42e1e"/>
<rect x="322.60" y="79.23" width="4.00" height="4.03" fill="#ebd4a0"/>
<rect x="326.25" y="79.23" width="4.00" height="4.03" fill="#eece8d"/>
<rect x="329.91" y="79.23" width="4.00" height="4.03" fill="#bad5e6"/>
<rect x="333.56" y="79.23" width="4.00" height="4.03" fill="#afd2e8"/>
<rect x="337.22" y="79.23" width="4.00" height="4.03" fill="#e5d7af"/>
<rect x="340.87" y="79.23" width="4.00" height="4.03" fill="#f5ae3c"/>
<rect x="344.52" y="79.23" width="4.00" height="4.03" fill="#eecf8f"/>
<rect x="348.18" y="79.23" width="4.00" height="4.03" fill="#ba1c1b"/>
<rect x="351.83" y="79.23" width="4.00" height="4.03" fill="#ad1619"/>
<rect x="355.48" y="79.23" width="4.00" height="4.03" fill="#af1719"/>
<rect x="359.14" y="79.23" width="4.00" height="4.03" fill="#a81418"/>
<rect x="362.79" y="79.23" width="4.00" height="4.03" fill="#b61b1a"/>
<rect x="366.45" y="79.23" width="4.00" height="4.03" fill="#cf261e"/>
<rect x="322.60" y="82.91" width="4.00" height="4.03" fill="#e9d6a8"/>
<rect x="326.25" y="82.91" width="4.00" height="4.03" fill="#f0ca7f"/>
<rect x="329.91" y="82.91" width="4.00" height="4.03" fill="#acd1e8"/>
<rect x="333.56" y="82.91" width="4.00" height="4.03" fill="#b4d4e7"/>
<rect x="337.22" y="82.91" width="4.00" height="4.03" fill="#d3d9d0"/>
<rect x="340.87" y="82.91" width="4.00" height="4.03" fill="#f5c163"/>
<rect x="344.52" y="82.91" width="4.00" height="4.03" fill="#ebd39d"/>
<rect x="348.18" y="82.91" width="4.00" height="4.03" fill="#ae1719"/>
<rect x="351.83" y="82.91" width="4.00" height="4.03" fill="#a81418"/>
<rect x="355.48" y="82.91" width="4.00" height="4.03" fill="#ab1518"/>
<rect x="359.14" y="82.91" width="4.00" height="4.03" fill="#aa1518"/>
<rect x="362.79" y="82.91" width="4.00" height="4.03" fill="#ad1619"/>
<rect x="366.45" y="82.91" width="4.00" height="4.03" fill="#cd261d"/>
<rect x="322.60" y="86.59" width="4.00" height="4.03" fill="#e6d7ad"/>
<rect x="326.25" y="86.59" width="4.00" height="4.03" fill="#f1c778"/>
<rect x="329.91" y="86.59" width="4.00" height="4.03" fill="#c5d7e0"/>
<rect x="333.56" y="86.59" width="4.00" height="4.03" fill="#acd1e8"/>
<rect x="337.22" y="86.59" width="4.00" height="4.03" fill="#d2d9d1"/>
<rect x="340.87" y="86.59" width="4.00" height="4.03" fill="#f5a123"/>
<rect x="344.52" y="86.59" width="4.00" height="4.03" fill="#eecf8f"/>
<rect x="348.18" y="86.59" width="4.00" height="4.03" fill="#ab1518"/>
<rect x="351.83" y="86.59" width="4.00" height="4.03" fill="#ac1619"/>
<rect x="355.48" y="86.59" width="4.00" height="4.03" fill="#bd1e1b"/>
<rect x="359.14" y="86.59" width="4.00" height="4.03" fill="#a81418"/>
<rect x="362.79" y="86.59" width="4.00" height="4.03" fill="#a81418"/>
<rect x="366.45" y="86.59" width="4.00" height="4.03" fill="#d32a1e"/>
<rect x="322.60" y="90.28" width="4.00" height="4.03" fill="#ead6a5"/>
<rect x="326.25" y="90.28" width="4.00" height="4.03" fill="#efcc85"/>
<rect x="329.91" y="90.28" width="4.00" height="4.03" fill="#96cbea"/>
<rect x="333.56" y="90.28" width="4.00" height="4.03" fill="#afd2e8"/>
<rect x="337.22" y="90.28" width="4.00" height="4.03" fill="#dcd8c1"/>
<rect x="340.87" y="90.28" width="4.00" height="4.03" fill="#f5ac38"/>
<rect x="344.52" y="90.28" width="4.00" height="4.03" fill="#efcb85"/>
<rect x="348.18" y="90.28" width="4.00" height="4.03" fill="#b3191a"/>
<rect x="351.83" y="90.28" width="4.00" height="4.03" fill="#a81418"/>
<rect x="355.48" y="90.28" width="4.00" height="4.03" fill="#ba1c1b"/>
<rect x="359.14" y="90.28" width="4.00" height="4.03" fill="#ad1619"/>
<rect x="362.79" y="90.28" width="4.00" height="4.03" fill="#aa1518"/>
<rect x="366.45" y="90.28" width="4.00" height="4.03" fill="#d6351e"/>
<rect x="322.60" y="93.96" width="4.00" height="4.03" fill="#d5d9cd"/>
<rect x="326.25" y="93.96" width="4.00" height="4.03" fill="#ecd29a"/>
<rect x="329.91" y="93.96" width="4.00" height="4.03" fill="#add1e8"/>
<rect x="333.56" y="93.96" width="4.00" height="4.03" fill="#bad5e6"/>
<rect x="337.22" y="93.96" width="4.00" height="4.03" fill="#e7d6ab"/>
<rect x="340.87" y="93.96" width="4.00" height="4.03" fill="#f3c36a"/>
<rect x="344.52" y="93.96" width="4.00" height="4.03" fill="#ecd197"/>
<rect x="348.18" y="93.96" width="4.00" height="4.03" fill="#ae1719"/>
<rect x="351.83" y="93.96" width="4.00" height="4.03" fill="#b51a1a"/>
<rect x="355.48" y="93.96" width="4.00" height="4.03" fill="#c7231c"/>
<rect x="359.14" y="93.96" width="4.00" height="4.03" fill="#ac1619"/>
<rect x="362.79" y="93.96" width="4.00" height="4.03" fill="#a81418"/>
<rect x="366.45" y="93.96" width="4.00" height="4.03" fill="#ca241d"/>
<rect x="322.60" y="97.64" width="4.00" height="4.03" fill="#dcd8c1"/>
<rect x="326.25" y="97.64" width="4.00" height="4.03" fill="#edd092"/>
<rect x="329.91" y="97.64" width="4.00" height="4.03" fill="#add1e8"/>
<rect x="333.56" y="97.64" width="4.00" height="4.03" fill="#d6d9cc"/>
<rect x="337.22" y="97.64" width="4.00" height="4.03" fill="#ded8be"/>
<rect x="340.87" y="97.64" width="4.00" height="4.03" fill="#f5ba54"/>
<rect x="344.52" y="97.64" width="4.00" height="4.03" fill="#f2c672"/>
<rect x="348.18" y="97.64" width="4.00" height="4.03" fill="#b41a1a"/>
<rect x="351.83" y="97.64" width="4.00" height="4.03" fill="#a81418"/>
<rect x="355.48" y="97.64" width="4.00" height="4.03" fill="#b91c1a"/>
<rect x="359.14" y="97.64" width="4.00" height="4.03" fill="#b71b1a"/>
<rect x="362.79" y="97.64" width="4.00" height="4.03" fill="#ad1619"/>
<rect x="366.45" y="97.64" width="4.00" height="4.03" fill="#c5221c"/>
<rect x="322.60" y="101.33" width="4.00" height="4.03" fill="#e9d6a8"/>
<rect x="326.25" y="101.33" width="4.00" height="4.03" fill="#efcc87"/>
<rect x="329.91" y="101.33" width="4.00" height="4.03" fill="#7fc3e9"/>
<rect x="333.56" y="101.33" width="4.00" height="4.03" fill="#a5cfe9"/>
<rect x="337.22" y="101.33" width="4.00" height="4.03" fill="#d2d9d1"/>
<rect x="340.87" y="101.33" width="4.00" height="4.03" fill="#f4c164"/>
<rect x="344.52" y="101.33" width="4.00" height="4.03" fill="#eece8b"/>
<rect x="348.18" y="101.33" width="4.00" height="4.03" fill="#b61b1a"/>
<rect x="351.83" y="101.33" width="4.00" height="4.03" fill="#ad1619"/>
<rect x="355.48" y="101.33" width="4.00" height="4.03" fill="#b3191a"/>
<rect x="359.14" y="101.33" width="4.00" height="4.03" fill="#b61b1a"/>
<rect x="362.79" y="101.33" width="4.00" height="4.03" fill="#b21919"/>
<rect x="366.45" y="101.33" width="4.00" height="4.03" fill="#d0271e"/>
<rect x="322.60" y="105.01" width="4.00" height="4.03" fill="#ead6a6"/>
<rect x="326.25" y="105.01" width="4.00" height="4.03" fill="#ecd197"/>
<rect x="329.91" y="105.01" width="4.00" height="4.03" fill="#a5cfe9"/>
<rect x="333.56" y="105.01" width="4.00" height="4.03" fill="#97cbea"/>
<rect x="337.22" y="105.01" width="4.00" height="4.03" fill="#e7d6ac"/>
<rect x="340.87" y="105.01" width="4.00" height="4.03" fill="#f5ad3b"/>
<rect x="344.52" y="105.01" width="4.00" height="4.03" fill="#ebd49f"/>
<rect x="348.18" y="105.01" width="4.00" height="4.03" fill="#b71b1a"/>
<rect x="351.83" y="105.01" width="4.00" height="4.03" fill="#be1e1b"/>
<rect x="355.48" y="105.01" width="4.00" height="4.03" fill="#b21919"/>
<rect x="359.14" y="105.01" width="4.00" height="4.03" fill="#b11919"/>
<rect x="362.79" y="105.01" width="4.00" height="4.03" fill="#a81418"/>
<rect x="366.45" y="105.01" width="4.00" height="4.03" fill="#d2281e"/>
<rect x="322.60" y="108.69" width="4.00" height="4.03" fill="#dcd8c0"/>
<rect x="326.25" y="108.69" width="4.00" height="4.03" fill="#ded8be"/>
<rect x="329.91" y="108.69" width="4.00" height="4.03" fill="#c0d6e3"/>
<rect x="333.56" y="108.69" width="4.00" height="4.03" fill="#b5d4e7"/>
<rect x="337.22" y="108.69" width="4.00" height="4.03" fill="#c9d8dd"/>
<rect x="340.87" y="108.69" width="4.00" height="4.03" fill="#f5bd59"/>
<rect x="344.52" y="108.69" width="4.00" height="4.03" fill="#dad8c4"/>
<rect x="348.18" y="108.69" width="4.00" height="4.03" fill="#a81418"/>
<rect x="351.83" y="108.69" width="4.00" height="4.03" fill="#aa1518"/>
<rect x="355.48" y="108.69" width="4.00" height="4.03" fill="#ae1719"/>
<rect x="359.14" y="108.69" width="4.00" height="4.03" fill="#b51a1a"/>
<rect x="362.79" y="108.69" width="4.00" height="4.03" fill="#c5221c"/>
<rect x="366.45" y="108.69" width="4.00" height="4.03" fill="#d5311e"/>
<rect x="322.60" y="112.37" width="4.00" height="4.03" fill="#d5d9cd"/>
<rect x="326.25" y="112.37" width="4.00" height="4.03" fill="#efcc87"/>
<rect x="329.91" y="112.37" width="4.00" height="4.03" fill="#77c0e9"/>
<rect x="333.56" y="112.37" width="4.00" height="4.03" fill="#a2ceea"/>
<rect x="337.22" y="112.37" width="4.00" height="4.03" fill="#e3d7b4"/>
<rect x="340.87" y="112.37" width="4.00" height="4.03" fill="#f5ae3b"/>
<rect x="344.52" y="112.37" width="4.00" height="4.03" fill="#dfd8ba"/>
<rect x="348.18" y="112.37" width="4.00" height="4.03" fill="#c01f1b"/>
<rect x="351.83" y="112.37" width="4.00" height="4.03" fill="#ac1619"/>
<rect x="355.48" y="112.37" width="4.00" height="4.03" fill="#ac1619"/>
<rect x="359.14" y="112.37" width="4.00" height="4.03" fill="#bb1d1b"/>
<rect x="362.79" y="112.37" width="4.00" height="4.03" fill="#b91c1a"/>
<rect x="366.45" y="112.37" width="4.00" height="4.03" fill="#f4c267"/>
<rect x="322.60" y="116.06" width="4.00" height="4.03" fill="#d8d9c8"/>
<rect x="326.25" y="116.06" width="4.00" height="4.03" fill="#ebd4a0"/>
<rect x="329.91" y="116.06" width="4.00" height="4.03" fill="#bed6e4"/>
<rect x="333.56" y="116.06" width="4.00" height="4.03" fill="#bdd6e4"/>
<rect x="337.22" y="116.06" width="4.00" height="4.03" fill="#ead5a4"/>
<rect x="340.87" y="116.06" width="4.00" height="4.03" fill="#f4c164"/>
<rect x="344.52" y="116.06" width="4.00" height="4.03" fill="#ebd5a1"/>
<rect x="348.18" y="116.06" width="4.00" height="4.03" fill="#bb1d1b"/>
<rect x="351.83" y="116.06" width="4.00" height="4.03" fill="#b41a1a"/>
<rect x="355.48" y="116.06" width="4.00" height="4.03" fill="#be1f1b"/>
<rect x="359.14" y="116.06" width="4.00" height="4.03" fill="#c2201c"/>
<rect x="362.79" y="116.06" width="4.00" height="4.03" fill="#ad1719"/>
<rect x="366.45" y="116.06" width="4.00" height="4.03" fill="#f5a427"/>
<rect x="322.60" y="119.74" width="4.00" height="4.03" fill="#e9d6a9"/>
<rect x="326.25" y="119.74" width="4.00" height="4.03" fill="#f0c97d"/>
<rect x="329.91" y="119.74" width="4.00" height="4.03" fill="#add2e8"/>
<rect x="333.56" y="119.74" width="4.00" height="4.03" fill="#a5cfe9"/>
<rect x="337.22" y="119.74" width="4.00" height="4.03" fill="#d7d9ca"/>
<rect x="340.87" y="119.74" width="4.00" height="4.03" fill="#f3c46d"/>
<rect x="344.52" y="119.74" width="4.00" height="4.03" fill="#dfd8bb"/>
<rect x="348.18" y="119.74" width="4.00" height="4.03" fill="#f08f20"/>
<rect x="351.83" y="119.74" width="4.00" height="4.03" fill="#ee8720"/>
<rect x="355.48" y="119.74" width="4.00" height="4.03" fill="#b3191a"/>
<rect x="359.14" y="119.74" width="4.00" height="4.03" fill="#b21919"/>
<rect x="362.79" y="119.74" width="4.00" height="4.03" fill="#b71b1a"/>
<rect x="366.45" y="119.74" width="4.00" height="4.03" fill="#f5a62d"/>
<rect x="322.60" y="123.42" width="4.00" height="4.03" fill="#e3d7b4"/>
<rect x="326.25" y="123.42" width="4.00" height="4.03" fill="#eece8c"/>
<rect x="329.91" y="123.42" width="4.00" height="4.03" fill="#bdd6e4"/>
<rect x="333.56" y="123.42" width="4.00" height="4.03" fill="#a3cfea"/>
<rect x="337.22" y="123.42" width="4.00" height="4.03" fill="#c5d7df"/>
<rect x="340.87" y="123.42" width="4.00" height="4.03" fill="#f5bb57"/>
<rect x="344.52" y="123.42" width="4.00" height="4.03" fill="#e4d7b2"/>
<rect x="348.18" y="123.42" width="4.00" height="4.03" fill="#d0271e"/>
<rect x="351.83" y="123.42" width="4.00" height="4.03" fill="#db461e"/>
<rect x="355.48" y="123.42" width="4.00" height="4.03" fill="#d42e1e"/>
<rect x="359.14" y="123.42" width="4.00" height="4.03" fill="#d6371e"/>
<rect x="362.79" y="123.42" width="4.00" height="4.03" fill="#f49d20"/>
<rect x="366.45" y="123.42" width="4.00" height="4.03" fill="#f5b448"/>
<rect x="322.60" y="127.10" width="4.00" height="4.03" fill="#dbd8c2"/>
<rect x="326.25" y="127.10" width="4.00" height="4.03" fill="#ead6a6"/>
<rect x="329.91" y="127.10" width="4.00" height="4.03" fill="#a1ceea"/>
<rect x="333.56" y="127.10" width="4.00" height="4.03" fill="#bed6e4"/>
<rect x="337.22" y="127.10" width="4.00" height="4.03" fill="#dfd8bc"/>
<rect x="340.87" y="127.10" width="4.00" height="4.03" fill="#f5ba53"/>
<rect x="344.52" y="127.10" width="4.00" height="4.03" fill="#d6d9cb"/>
<rect x="348.18" y="127.10" width="4.00" height="4.03" fill="#f5ba54"/>
<rect x="351.83" y="127.10" width="4.00" height="4.03" fill="#eecd8a"/>
<rect x="355.48" y="127.10" width="4.00" height="4.03" fill="#df561f"/>
<rect x="359.14" y="127.10" width="4.00" height="4.03" fill="#d83c1e"/>
<rect x="362.79" y="127.10" width="4.00" height="4.03" fill="#e66e1f"/>
<rect x="366.45" y="127.10" width="4.00" height="4.03" fill="#f5be5c"/>
<rect x="322.60" y="130.78" width="4.00" height="4.03" fill="#e2d7b4"/>
<rect x="326.25" y="130.78" width="4.00" height="4.03" fill="#efcd88"/>
<rect x="329.91" y="130.78" width="4.00" height="4.03" fill="#98cbea"/>
<rect x="333.56" y="130.78" width="4.00" height="4.03" fill="#a3cfea"/>
<rect x="337.22" y="130.78" width="4.00" height="4.03" fill="#cfd9d5"/>
<rect x="340.87" y="130.78" width="4.00" height="4.03" fill="#f5b345"/>
<rect x="344.52" y="130.78" width="4.00" height="4.03" fill="#efcd88"/>
<rect x="348.18" y="130.78" width="4.00" height="4.03" fill="#f5b54b"/>
<rect x="351.83" y="130.78" width="4.00" height="4.03" fill="#f5b040"/>
<rect x="355.48" y="130.78" width="4.00" height="4.03" fill="#dd4e1f"/>
<rect x="359.14" y="130.78" width="4.00" height="4.03" fill="#dc4b1f"/>
<rect x="362.79" y="130.78" width="4.00" height="4.03" fill="#e05a1f"/>
<rect x="366.45" y="130.78" width="4.00" height="4.03" fill="#f2c673"/>
<rect x="322.60" y="134.47" width="4.00" height="4.03" fill="#d6d9cc"/>
<rect x="326.25" y="134.47" width="4.00" height="4.03" fill="#e9d6a8"/>
<rect x="329.91" y="134.47" width="4.00" height="4.03" fill="#c3d7e1"/>
<rect x="333.56" y="134.47" width="4.00" height="4.03" fill="#bbd5e6"/>
<rect x="337.22" y="134.47" width="4.00" height="4.03" fill="#d6d9cc"/>
<rect x="340.87" y="134.47" width="4.00" height="4.03" fill="#f2c673"/>
<rect x="344.52" y="134.47" width="4.00" height="4.03" fill="#ebd5a2"/>
<rect x="348.18" y="134.47" width="4.00" height="4.03" fill="#f5b142"/>
<rect x="351.83" y="134.47" width="4.00" height="4.03" fill="#f5c062"/>
<rect x="355.48" y="134.47" width="4.00" height="4.03" fill="#f5ad3b"/>
<rect x="359.14" y="134.47" width="4.00" height="4.03" fill="#f5ad39"/>
<rect x="362.79" y="134.47" width="4.00" height="4.03" fill="#f5bc59"/>
<rect x="366.45" y="134.47" width="4.00" height="4.03" fill="#efcc85"/>
<rect x="322.60" y="138.15" width="4.00" height="4.03" fill="#d8d9c9"/>
<rect x="326.25" y="138.15" width="4.00" height="4.03" fill="#e4d7b2"/>
<rect x="329.91" y="138.15" width="4.00" height="4.03" fill="#dfd8ba"/>
<rect x="333.56" y="138.15" width="4.00" height="4.03" fill="#98cbea"/>
<rect x="337.22" y="138.15" width="4.00" height="4.03" fill="#d3d9d0"/>
<rect x="340.87" y="138.15" width="4.00" height="4.03" fill="#f0c97d"/>
<rect x="344.52" y="138.15" width="4.00" height="4.03" fill="#e2d7b5"/>
<rect x="348.18" y="138.15" width="4.00" height="4.03" fill="#f5b850"/>
<rect x="351.83" y="138.15" width="4.00" height="4.03" fill="#f5a72f"/>
<rect x="355.48" y="138.15" width="4.00" height="4.03" fill="#f5b245"/>
<rect x="359.14" y="138.15" width="4.00" height="4.03" fill="#f5b64c"/>
<rect x="362.79" y="138.15" width="4.00" height="4.03" fill="#f5bd5b"/>
<rect x="366.45" y="138.15" width="4.00" height="4.03" fill="#f2c776"/>
<rect x="322.60" y="141.83" width="4.00" height="4.03" fill="#e7d6ac"/>
<rect x="326.25" y="141.83" width="4.00" height="4.03" fill="#ead6a7"/>
<rect x="329.91" y="141.83" width="4.00" height="4.03" fill="#bcd5e5"/>
<rect x="333.56" y="141.83" width="4.00" height="4.03" fill="#b1d3e7"/>
<rect x="337.22" y="141.83" width="4.00" height="4.03" fill="#ccd8d9"/>
<rect x="340.87" y="141.83" width="4.00" height="4.03" fill="#edcf90"/>
<rect x="344.52" y="141.83" width="4.00" height="4.03" fill="#eece8b"/>
<rect x="348.18" y="141.83" width="4.00" height="4.03" fill="#f5b74e"/>
<rect x="351.83" y="141.83" width="4.00" height="4.03" fill="#f5c061"/>
<rect x="355.48" y="141.83" width="4.00" height="4.03" fill="#f49d20"/>
<rect x="359.14" y="141.83" width="4.00" height="4.03" fill="#f5c162"/>
<rect x="362.79" y="141.83" width="4.00" height="4.03" fill="#f5ab35"/>
<rect x="366.45" y="141.83" width="4.00" height="4.03" fill="#f5bf5e"/>
<rect x="322.60" y="145.51" width="4.00" height="4.03" fill="#d3d9d0"/>
<rect x="326.25" y="145.51" width="4.00" height="4.03" fill="#ddd8bf"/>
<rect x="329.91" y="145.51" width="4.00" height="4.03" fill="#bfd6e3"/>
<rect x="333.56" y="145.51" width="4.00" height="4.03" fill="#d7d9c9"/>
<rect x="337.22" y="145.51" width="4.00" height="4.03" fill="#e2d7b6"/>
<rect x="340.87" y="145.51" width="4.00" height="4.03" fill="#eecf8f"/>
<rect x="344.52" y="145.51" width="4.00" height="4.03" fill="#eece8e"/>
<rect x="348.18" y="145.51" width="4.00" height="4.03" fill="#f3c36b"/>
<rect x="351.83" y="145.51" width="4.00" height="4.03" fill="#f3c46b"/>
<rect x="355.48" y="145.51" width="4.00" height="4.03" fill="#f4c265"/>
<rect x="359.14" y="145.51" width="4.00" height="4.03" fill="#f5bf5e"/>
<rect x="362.79" y="145.51" width="4.00" height="4.03" fill="#eece8b"/>
<rect x="366.45" y="145.51" width="4.00" height="4.03" fill="#ecd29a"/>
<rect x="322.60" y="149.20" width="4.00" height="4.03" fill="#d5d9ce"/>
<rect x="326.25" y="149.20" width="4.00" height="4.03" fill="#ecd29a"/>
<rect x="329.91" y="149.20" width="4.00" height="4.03" fill="#eece8d"/>
<rect x="333.56" y="149.20" width="4.00" height="4.03" fill="#efcc85"/>
<rect x="337.22" y="149.20" width="4.00" height="4.03" fill="#d2d9d1"/>
<rect x="340.87" y="149.20" width="4.00" height="4.03" fill="#ecd39c"/>
<rect x="344.52" y="149.20" width="4.00" height="4.03" fill="#e3d7b3"/>
<rect x="348.18" y="149.20" width="4.00" height="4.03" fill="#f0cb82"/>
<rect x="351.83" y="149.20" width="4.00" height="4.03" fill="#f5a326"/>
<rect x="355.48" y="149.20" width="4.00" height="4.03" fill="#f5b447"/>
<rect x="359.14" y="149.20" width="4.00" height="4.03" fill="#f2c570"/>
<rect x="362.79" y="149.20" width="4.00" height="4.03" fill="#f5ae3c"/>
<rect x="366.45" y="149.20" width="4.00" height="4.03" fill="#f3c570"/>
<rect x="322.60" y="152.88" width="4.00" height="4.03" fill="#d2d9d1"/>
<rect x="326.25" y="152.88" width="4.00" height="4.03" fill="#e5d7af"/>
<rect x="329.91" y="152.88" width="4.00" height="4.03" fill="#cbd8da"/>
<rect x="333.56" y="152.88" width="4.00" height="4.03" fill="#c8d8de"/>
<rect x="337.22" y="152.88" width="4.00" height="4.03" fill="#d6d9cd"/>
<rect x="340.87" y="152.88" width="4.00" height="4.03" fill="#f0ca81"/>
<rect x="344.52" y="152.88" width="4.00" height="4.03" fill="#ead6a5"/>
<rect x="348.18" y="152.88" width="4.00" height="4.03" fill="#f0c97d"/>
<rect x="351.83" y="152.88" width="4.00" height="4.03" fill="#efcc86"/>
<rect x="355.48" y="152.88" width="4.00" height="4.03" fill="#f5a82f"/>
<rect x="359.14" y="152.88" width="4.00" height="4.03" fill="#f5ba54"/>
<rect x="362.79" y="152.88" width="4.00" height="4.03" fill="#f5b952"/>
<rect x="366.45" y="152.88" width="4.00" height="4.03" fill="#e2d7b6"/>
<rect x="322.60" y="156.56" width="4.00" height="4.03" fill="#ddd8bf"/>
<rect x="326.25" y="156.56" width="4.00" height="4.03" fill="#ecd197"/>
<rect x="329.91" y="156.56" width="4.00" height="4.03" fill="#b9d5e6"/>
<rect x="333.56" y="156.56" width="4.00" height="4.03" fill="#dbd8c2"/>
<rect x="337.22" y="156.56" width="4.00" height="4.03" fill="#d1d9d2"/>
<rect x="340.87" y="156.56" width="4.00" height="4.03" fill="#f2c674"/>
<rect x="344.52" y="156.56" width="4.00" height="4.03" fill="#e6d7ae"/>
<rect x="348.18" y="156.56" width="4.00" height="4.03" fill="#f3c36a"/>
<rect x="351.83" y="156.56" width="4.00" height="4.03" fill="#f5b64b"/>
<rect x="355.48" y="156.56" width="4.00" height="4.03" fill="#f2c672"/>
<rect x="359.14" y="156.56" width="4.00" height="4.03" fill="#f5aa34"/>
<rect x="362.79" y="156.56" width="4.00" height="4.03" fill="#f0c97d"/>
<rect x="366.45" y="156.56" width="4.00" height="4.03" fill="#ead6a6"/>
<rect x="322.60" y="160.25" width="4.00" height="4.03" fill="#e4d7b2"/>
<rect x="326.25" y="160.25" width="4.00" height="4.03" fill="#ded8bc"/>
<rect x="329.91" y="160.25" width="4.00" height="4.03" fill="#c9d8dd"/>
<rect x="333.56" y="160.25" width="4.00" height="4.03" fill="#d7d9c9"/>
<rect x="337.22" y="160.25" width="4.00" height="4.03" fill="#e0d8b9"/>
<rect x="340.87" y="160.25" width="4.00" height="4.03" fill="#ead5a4"/>
<rect x="344.52" y="160.25" width="4.00" height="4.03" fill="#ebd4a0"/>
<rect x="348.18" y="160.25" width="4.00" height="4.03" fill="#f5ae3c"/>
<rect x="351.83" y="160.25" width="4.00" height="4.03" fill="#f5b952"/>
<rect x="355.48" y="160.25" width="4.00" height="4.03" fill="#f2c673"/>
<rect x="359.14" y="160.25" width="4.00" height="4.03" fill="#f0c97e"/>
<rect x="362.79" y="160.25" width="4.00" height="4.03" fill="#f2c674"/>
<rect x="366.45" y="160.25" width="4.00" height="4.03" fill="#e4d7b2"/>
<rect x="322.60" y="163.93" width="4.00" height="4.03" fill="#dbd8c2"/>
<rect x="326.25" y="163.93" width="4.00" height="4.03" fill="#e6d7ad"/>
<rect x="329.91" y="163.93" width="4.00" height="4.03" fill="#cdd8d8"/>
<rect x="333.56" y="163.93" width="4.00" height="4.03" fill="#ddd8bf"/>
<rect x="337.22" y="163.93" width="4.00" height="4.03" fill="#d2d9d1"/>
<rect x="340.87" y="163.93" width="4.00" height="4.03" fill="#ebd4a0"/>
<rect x="344.52" y="163.93" width="4.00" height="4.03" fill="#edd094"/>
<rect x="348.18" y="163.93" width="4.00" height="4.03" fill="#ebd39d"/>
<rect x="351.83" y="163.93" width="4.00" height="4.03" fill="#eecd8a"/>
<rect x="355.48" y="163.93" width="4.00" height="4.03" fill="#f2c775"/>
<rect x="359.14" y="163.93" width="4.00" height="4.03" fill="#f1c97c"/>
<rect x="362.79" y="163.93" width="4.00" height="4.03" fill="#edcf90"/>
<rect x="366.45" y="163.93" width="4.00" height="4.03" fill="#ecd29b"/>
<rect x="322.60" y="167.61" width="4.00" height="4.03" fill="#ecd39c"/>
<rect x="326.25" y="167.61" width="4.00" height="4.03" fill="#e1d7b7"/>
<rect x="329.91" y="167.61" width="4.00" height="4.03" fill="#cdd8d8"/>
<rect x="333.56" y="167.61" width="4.00" height="4.03" fill="#dcd8c1"/>
<rect x="337.22" y="167.61" width="4.00" height="4.03" fill="#dbd8c3"/>
<rect x="340.87" y="167.61" width="4.00" height="4.03" fill="#f2c673"/>
<rect x="344.52" y="167.61" width="4.00" height="4.03" fill="#ecd299"/>
<rect x="348.18" y="167.61" width="4.00" height="4.03" fill="#ddd8bf"/>
<rect x="351.83" y="167.61" width="4.00" height="4.03" fill="#ebd39d"/>
<rect x="355.48" y="167.61" width="4.00" height="4.03" fill="#f2c673"/>
<rect x="359.14" y="167.61" width="4.00" height="4.03" fill="#f4c268"/>
<rect x="362.79" y="167.61" width="4.00" height="4.03" fill="#f5b74f"/>
<rect x="366.45" y="167.61" width="4.00" height="4.03" fill="#efcd89"/>
<rect x="322.60" y="171.29" width="4.00" height="4.03" fill="#dbd8c3"/>
<rect x="326.25" y="171.29" width="4.00" height="4.03" fill="#e6d7ad"/>
<rect x="329.91" y="171.29" width="4.00" height="4.03" fill="#cbd8da"/>
<rect x="333.56" y="171.29" width="4.00" height="4.03" fill="#ccd8d9"/>
<rect x="337.22" y="171.29" width="4.00" height="4.03" fill="#dad8c5"/>
<rect x="340.87" y="171.29" width="4.00" height="4.03" fill="#eece8d"/>
<rect x="344.52" y="171.29" width="4.00" height="4.03" fill="#dad8c5"/>
<rect x="348.18" y="171.29" width="4.00" height="4.03" fill="#ebd5a2"/>
<rect x="351.83" y="171.29" width="4.00" height="4.03" fill="#f4c267"/>
<rect x="355.48" y="171.29" width="4.00" height="4.03" fill="#f5bb55"/>
<rect x="359.14" y="171.29" width="4.00" height="4.03" fill="#f5bf5f"/>
<rect x="362.79" y="171.29" width="4.00" height="4.03" fill="#f5c163"/>
<rect x="366.45" y="171.29" width="4.00" height="4.03" fill="#f0cb83"/>
<rect x="322.60" y="174.98" width="4.00" height="4.03" fill="#dcd8c0"/>
<rect x="326.25" y="174.98" width="4.00" height="4.03" fill="#ebd5a3"/>
<rect x="329.91" y="174.98" width="4.00" height="4.03" fill="#bdd6e4"/>
<rect x="333.56" y="174.98" width="4.00" height="4.03" fill="#c5d7e0"/>
<rect x="337.22" y="174.98" width="4.00" height="4.03" fill="#cdd8d7"/>
<rect x="340.87" y="174.98" width="4.00" height="4.03" fill="#f1c878"/>
<rect x="344.52" y="174.98" width="4.00" height="4.03" fill="#dcd8c0"/>
<rect x="348.18" y="174.98" width="4.00" height="4.03" fill="#edd092"/>
<rect x="351.83" y="174.98" width="4.00" height="4.03" fill="#f0cb82"/>
<rect x="355.48" y="174.98" width="4.00" height="4.03" fill="#f5bd59"/>
<rect x="359.14" y="174.98" width="4.00" height="4.03" fill="#ecd39b"/>
<rect x="362.79" y="174.98" width="4.00" height="4.03" fill="#ebd49f"/>
<rect x="366.45" y="174.98" width="4.00" height="4.03" fill="#efcd88"/>
<rect x="322.60" y="178.66" width="4.00" height="4.03" fill="#d3d9cf"/>
<rect x="326.25" y="178.66" width="4.00" height="4.03" fill="#e9d6a8"/>
<rect x="329.91" y="178.66" width="4.00" height="4.03" fill="#c5d7df"/>
<rect x="333.56" y="178.66" width="4.00" height="4.03" fill="#c6d8df"/>
<rect x="337.22" y="178.66" width="4.00" height="4.03" fill="#c4d7e0"/>
<rect x="340.87" y="178.66" width="4.00" height="4.03" fill="#f1c87b"/>
<rect x="344.52" y="178.66" width="4.00" height="4.03" fill="#ddd8bf"/>
<rect x="348.18" y="178.66" width="4.00" height="4.03" fill="#e5d7b0"/>
<rect x="351.83" y="178.66" width="4.00" height="4.03" fill="#f5ba54"/>
<rect x="355.48" y="178.66" width="4.00" height="4.03" fill="#f2c673"/>
<rect x="359.14" y="178.66" width="4.00" height="4.03" fill="#f29620"/>
<rect x="362.79" y="178.66" width="4.00" height="4.03" fill="#f1c97c"/>
<rect x="366.45" y="178.66" width="4.00" height="4.03" fill="#e4d7b1"/>
<rect x="322.60" y="182.34" width="4.00" height="4.03" fill="#ddd8bf"/>
<rect x="326.25" y="182.34" width="4.00" height="4.03" fill="#edd195"/>
<rect x="329.91" y="182.34" width="4.00" height="4.03" fill="#cfd8d6"/>
<rect x="333.56" y="182.34" width="4.00" height="4.03" fill="#d0d9d4"/>
<rect x="337.22" y="182.34" width="4.00" height="4.03" fill="#d8d9c9"/>
<rect x="340.87" y="182.34" width="4.00" height="4.03" fill="#ebd4a0"/>
<rect x="344.52" y="182.34" width="4.00" height="4.03" fill="#e5d7b0"/>
<rect x="348.18" y="182.34" width="4.00" height="4.03" fill="#e8d6a9"/>
<rect x="351.83" y="182.34" width="4.00" height="4.03" fill="#dcd8c1"/>
<rect x="355.48" y="182.34" width="4.00" height="4.03" fill="#f2c674"/>
<rect x="359.14" y="182.34" width="4.00" height="4.03" fill="#f1c87a"/>
<rect x="362.79" y="182.34" width="4.00" height="4.03" fill="#eece8c"/>
<rect x="366.45" y="182.34" width="4.00" height="4.03" fill="#d8d9c7"/>
<rect x="322.60" y="186.02" width="4.00" height="4.03" fill="#ccd8d8"/>
<rect x="326.25" y="186.02" width="4.00" height="4.03" fill="#e7d6ab"/>
<rect x="329.91" y="186.02" width="4.00" height="4.03" fill="#cdd8d7"/>
<rect x="333.56" y="186.02" width="4.00" height="4.03" fill="#a8d0e9"/>
<rect x="337.22" y="186.02" width="4.00" height="4.03" fill="#d2d9d1"/>
<rect x="340.87" y="186.02" width="4.00" height="4.03" fill="#e5d7b0"/>
<rect x="344.52" y="186.02" width="4.00" height="4.03" fill="#e2d7b6"/>
<rect x="348.18" y="186.02" width="4.00" height="4.03" fill="#ecd39b"/>
<rect x="351.83" y="186.02" width="4.00" height="4.03" fill="#edd195"/>
<rect x="355.48" y="186.02" width="4.00" height="4.03" fill="#eece8e"/>
<rect x="359.14" y="186.02" width="4.00" height="4.03" fill="#eecf8f"/>
<rect x="362.79" y="186.02" width="4.00" height="4.03" fill="#e1d7b8"/>
<rect x="366.45" y="186.02" width="4.00" height="4.03" fill="#dfd8bc"/>
<rect x="322.60" y="189.70" width="4.00" height="4.03" fill="#d7d9cb"/>
<rect x="326.25" y="189.70" width="4.00" height="4.03" fill="#dfd8bb"/>
<rect x="329.91" y="189.70" width="4.00" height="4.03" fill="#d4d9cf"/>
<rect x="333.56" y="189.70" width="4.00" height="4.03" fill="#d2d9d1"/>
<rect x="337.22" y="189.70" width="4.00" height="4.03" fill="#e2d7b4"/>
<rect x="340.87" y="189.70" width="4.00" height="4.03" fill="#d7d9c9"/>
<rect x="344.52" y="189.70" width="4.00" height="4.03" fill="#e7d6ac"/>
<rect x="348.18" y="189.70" width="4.00" height="4.03" fill="#e7d6ac"/>
<rect x="351.83" y="189.70" width="4.00" height="4.03" fill="#f5c060"/>
<rect x="355.48" y="189.70" width="4.00" height="4.03" fill="#f0c97e"/>
<rect x="359.14" y="189.70" width="4.00" height="4.03" fill="#d5d9cd"/>
<rect x="362.79" y="189.70" width="4.00" height="4.03" fill="#eece8e"/>
<rect x="366.45" y="189.70" width="4.00" height="4.03" fill="#dad8c5"/>
<rect x="322.60" y="193.39" width="4.00" height="4.03" fill="#e3d7b3"/>
<rect x="326.25" y="193.39" width="4.00" height="4.03" fill="#d6d9cc"/>
<rect x="329.91" y="193.39" width="4.00" height="4.03" fill="#cdd8d7"/>
<rect x="333.56" y="193.39" width="4.00" height="4.03" fill="#c6d8df"/>
<rect x="337.22" y="193.39" width="4.00" height="4.03" fill="#d2d9d2"/>
<rect x="340.87" y="193.39" width="4.00" height="4.03" fill="#ebd4a0"/>
<rect x="344.52" y="193.39" width="4.00" height="4.03" fill="#cbd8db"/>
<rect x="348.18" y="193.39" width="4.00" height="4.03" fill="#ebd39d"/>
<rect x="351.83" y="193.39" width="4.00" height="4.03" fill="#eece8d"/>
<rect x="355.48" y="193.39" width="4.00" height="4.03" fill="#ebd5a2"/>
<rect x="359.14" y="193.39" width="4.00" height="4.03" fill="#dcd8c0"/>
<rect x="362.79" y="193.39" width="4.00" height="4.03" fill="#ecd29a"/>
<rect x="366.45" y="193.39" width="4.00" height="4.03" fill="#e9d6a7"/>
<rect x="322.60" y="197.07" width="4.00" height="4.03" fill="#d9d9c7"/>
<rect x="326.25" y="197.07" width="4.00" height="4.03" fill="#dfd8ba"/>
<rect x="329.91" y="197.07" width="4.00" height="4.03" fill="#ead6a6"/>
<rect x="333.56" y="197.07" width="4.00" height="4.03" fill="#b4d3e7"/>
<rect x="337.22" y="197.07" width="4.00" height="4.03" fill="#ced8d7"/>
<rect x="340.87" y="197.07" width="4.00" height="4.03" fill="#ddd8bf"/>
<rect x="344.52" y="197.07" width="4.00" height="4.03" fill="#d7d9ca"/>
<rect x="348.18" y="197.07" width="4.00" height="4.03" fill="#d7d9c9"/>
<rect x="351.83" y="197.07" width="4.00" height="4.03" fill="#d4d9ce"/>
<rect x="355.48" y="197.07" width="4.00" height="4.03" fill="#ded8bc"/>
<rect x="359.14" y="197.07" width="4.00" height="4.03" fill="#f3c56f"/>
<rect x="362.79" y="197.07" width="4.00" height="4.03" fill="#e7d6ac"/>
<rect x="366.45" y="197.07" width="4.00" height="4.03" fill="#dbd8c2"/>
<rect x="322.60" y="200.75" width="4.00" height="4.03" fill="#ebd5a2"/>
<rect x="326.25" y="200.75" width="4.00" height="4.03" fill="#ded8bd"/>
<rect x="329.91" y="200.75" width="4.00" height="4.03" fill="#b0d2e8"/>
<rect x="333.56" y="200.75" width="4.00" height="4.03" fill="#cfd8d5"/>
<rect x="337.22" y="200.75" width="4.00" height="4.03" fill="#cad8db"/>
<rect x="340.87" y="200.75" width="4.00" height="4.03" fill="#f2c775"/>
<rect x="344.52" y="200.75" width="4.00" height="4.03" fill="#d0d9d4"/>
<rect x="348.18" y="200.75" width="4.00" height="4.03" fill="#d7d9ca"/>
<rect x="351.83" y="200.75" width="4.00" height="4.03" fill="#c8d8dd"/>
<rect x="355.48" y="200.75" width="4.00" height="4.03" fill="#e8d6a9"/>
<rect x="359.14" y="200.75" width="4.00" height="4.03" fill="#d6d9cc"/>
<rect x="362.79" y="200.75" width="4.00" height="4.03" fill="#e6d7ae"/>
<rect x="366.45" y="200.75" width="4.00" height="4.03" fill="#d5d9ce"/>
<rect x="322.60" y="204.44" width="4.00" height="4.03" fill="#d5d9ce"/>
<rect x="326.25" y="204.44" width="4.00" height="4.03" fill="#e7d6ac"/>
<rect x="329.91" y="204.44" width="4.00" height="4.03" fill="#e0d7b8"/>
<rect x="333.56" y="204.44" width="4.00" height="4.03" fill="#c9d8dd"/>
<rect x="337.22" y="204.44" width="4.00" height="4.03" fill="#cad8db"/>
<rect x="340.87" y="204.44" width="4.00" height="4.03" fill="#e4d7b2"/>
<rect x="344.52" y="204.44" width="4.00" height="4.03" fill="#e3d7b4"/>
<rect x="348.18" y="204.44" width="4.00" height="4.03" fill="#f2c674"/>
<rect x="351.83" y="204.44" width="4.00" height="4.03" fill="#d6d9cc"/>
<rect x="355.48" y="204.44" width="4.00" height="4.03" fill="#d7d9cb"/>
<rect x="359.14" y="204.44" width="4.00" height="4.03" fill="#d8d9c8"/>
<rect x="362.79" y="204.44" width="4.00" height="4.03" fill="#d2d9d1"/>
<rect x="366.45" y="204.44" width="4.00" height="4.03" fill="#cad8db"/>
<rect x="322.60" y="208.12" width="4.00" height="4.03" fill="#d8d9c9"/>
<rect x="326.25" y="208.12" width="4.00" height="4.03" fill="#ead5a4"/>
<rect x="329.91" y="208.12" width="4.00" height="4.03" fill="#cfd8d5"/>
<rect x="333.56" y="208.12" width="4.00" height="4.03" fill="#bfd6e3"/>
<rect x="337.22" y="208.12" width="4.00" height="4.03" fill="#c4d7e0"/>
<rect x="340.87" y="208.12" width="4.00" height="4.03" fill="#ecd298"/>
<rect x="344.52" y="208.12" width="4.00" height="4.03" fill="#ded8bd"/>
<rect x="348.18" y="208.12" width="4.00" height="4.03" fill="#c8d8de"/>
<rect x="351.83" y="208.12" width="4.00" height="4.03" fill="#cad8db"/>
<rect x="355.48" y="208.12" width="4.00" height="4.03" fill="#e0d8ba"/>
<rect x="359.14" y="208.12" width="4.00" height="4.03" fill="#ecd299"/>
<rect x="362.79" y="208.12" width="4.00" height="4.03" fill="#ead6a4"/>
<rect x="366.45" y="208.12" width="4.00" height="4.03" fill="#d9d9c6"/>
<rect x="322.60" y="64.50" width="47.50" height="147.30" fill="none" stroke="#666" stroke-width="0.4"/>
<line x1="337.22" y1="64.50" x2="337.22" y2="211.80" stroke="#222" stroke-width="0.6"/>
<line x1="355.48" y1="64.50" x2="355.48" y2="211.80" stroke="#222" stroke-width="0.6"/>
<text x="372.00" y="55.50" text-anchor="middle">FOSL2</text>
<line x1="370.10" y1="64.50" x2="372.50" y2="57.50" stroke="#222" stroke-width="0.5"/>
<text x="378.50" y="83.50" text-anchor="middle">FOS</text>
<line x1="370.10" y1="70.00" x2="375.00" y2="76.50" stroke="#222" stroke-width="0.5"/>
<line x1="370.10" y1="162.00" x2="394.50" y2="79.50" stroke="#222" stroke-width="0.5"/>
<line x1="370.10" y1="195.00" x2="386.00" y2="157.50" stroke="#222" stroke-width="0.5"/>
<line x1="370.10" y1="211.80" x2="386.00" y2="233.80" stroke="#222" stroke-width="0.5"/>
<text x="430.00" y="26.50" text-anchor="middle">De novo no. 112</text>
<text x="404.00" y="37.50" text-anchor="middle">FOX</text>
<text x="458.00" y="37.50" text-anchor="middle">AP-1</text>
<line x1="385.50" y1="39.80" x2="385.50" y2="78.50" stroke="#333" stroke-width="0.6"/>
<line x1="385.50" y1="78.50" x2="473.40" y2="78.50" stroke="#333" stroke-width="0.6"/>
<text transform="translate(388.55,75.80) scale(0.801,2.165)" font-size="10.0" fill="#e2466e">T</text>
<text transform="translate(393.45,75.80) scale(0.703,1.159)" font-size="10.0" fill="#5cb85c">A</text>
<text transform="translate(398.00,75.80) scale(0.785,3.492)" font-size="10.0" fill="#e2466e">T</text>
<text transform="translate(402.60,75.80) scale(0.818,4.008)" font-size="10.0" fill="#e2466e">T</text>
<text transform="translate(407.65,75.80) scale(0.768,3.534)" font-size="10.0" fill="#e2466e">T</text>
<text transform="translate(412.31,75.80) scale(0.688,2.374)" font-size="10.0" fill="#5cb85c">A</text>
<text transform="translate(416.86,75.80) scale(0.622,2.277)" font-size="10.0" fill="#3d8fd8">C</text>
<text transform="translate(421.10,75.80) scale(0.719,1.159)" font-size="10.0" fill="#5cb85c">A</text>
<text transform="translate(425.65,75.80) scale(0.835,1.047)" font-size="10.0" fill="#e2466e">T</text>
<text transform="translate(431.06,75.80) scale(0.735,1.369)" font-size="10.0" fill="#e2466e">T</text>
<text transform="translate(435.25,75.80) scale(0.734,1.662)" font-size="10.0" fill="#5cb85c">A</text>
<text transform="translate(440.10,75.80) scale(0.785,4.721)" font-size="10.0" fill="#e2466e">T</text>
<text transform="translate(445.01,75.80) scale(0.564,4.623)" font-size="10.0" fill="#f2b705">G</text>
<text transform="translate(449.26,75.80) scale(0.673,4.302)" font-size="10.0" fill="#5cb85c">A</text>
<text transform="translate(453.50,75.80) scale(0.664,1.047)" font-size="10.0" fill="#3d8fd8">C</text>
<text transform="translate(458.15,75.80) scale(0.801,4.721)" font-size="10.0" fill="#e2466e">T</text>
<text transform="translate(462.85,75.80) scale(0.706,4.511)" font-size="10.0" fill="#3d8fd8">C</text>
<text transform="translate(467.95,75.80) scale(0.765,4.721)" font-size="10.0" fill="#5cb85c">A</text>
<rect x="387.00" y="76.20" width="2.00" height="0.70" fill="#f2b705" opacity="0.55"/>
<rect x="387.00" y="76.90" width="2.00" height="0.60" fill="#5cb85c" opacity="0.45"/>
<rect x="389.20" y="76.20" width="2.00" height="0.70" fill="#f2b705" opacity="0.55"/>
<rect x="389.20" y="76.90" width="2.00" height="0.60" fill="#5cb85c" opacity="0.45"/>
<rect x="391.40" y="76.20" width="2.00" height="0.70" fill="#f2b705" opacity="0.55"/>
<rect x="391.40" y="76.90" width="2.00" height="0.60" fill="#3d8fd8" opacity="0.45"/>
<rect x="393.60" y="76.20" width="2.00" height="0.70" fill="#5cb85c" opacity="0.55"/>
<rect x="393.60" y="76.90" width="2.00" height="0.60" fill="#e2466e" opacity="0.45"/>
<rect x="395.80" y="76.20" width="2.00" height="0.70" fill="#3d8fd8" opacity="0.55"/>
<rect x="395.80" y="76.90" width="2.00" height="0.60" fill="#f2b705" opacity="0.45"/>
<rect x="398.00" y="76.20" width="2.00" height="0.70" fill="#f2b705" opacity="0.55"/>
<rect x="398.00" y="76.90" width="2.00" height="0.60" fill="#f2b705" opacity="0.45"/>
<rect x="400.20" y="76.20" width="2.00" height="0.70" fill="#f2b705" opacity="0.55"/>
<rect x="400.20" y="76.90" width="2.00" height="0.60" fill="#5cb85c" opacity="0.45"/>
<rect x="402.40" y="76.20" width="2.00" height="0.70" fill="#e2466e" opacity="0.55"/>
<rect x="402.40" y="76.90" width="2.00" height="0.60" fill="#3d8fd8" opacity="0.45"/>
<rect x="404.60" y="76.20" width="2.00" height="0.70" fill="#e2466e" opacity="0.55"/>
<rect x="404.60" y="76.90" width="2.00" height="0.60" fill="#5cb85c" opacity="0.45"/>
<rect x="406.80" y="76.20" width="2.00" height="0.70" fill="#e2466e" opacity="0.55"/>
<rect x="406.80" y="76.90" width="2.00" height="0.60" fill="#5cb85c" opacity="0.45"/>
<rect x="409.00" y="76.20" width="2.00" height="0.70" fill="#5cb85c" opacity="0.55"/>
<rect x="409.00" y="76.90" width="2.00" height="0.60" fill="#3d8fd8" opacity="0.45"/>
<rect x="411.20" y="76.20" width="2.00" height="0.70" fill="#3d8fd8" opacity="0.55"/>
<rect x="411.20" y="76.90" width="2.00" height="0.60" fill="#5cb85c" opacity="0.45"/>
<rect x="413.40" y="76.20" width="2.00" height="0.70" fill="#e2466e" opacity="0.55"/>
<rect x="413.40" y="76.90" width="2.00" height="0.60" fill="#f2b705" opacity="0.45"/>
<rect x="415.60" y="76.20" width="2.00" height="0.70" fill="#5cb85c" opacity="0.55"/>
<rect x="415.60" y="76.90" width="2.00" height="0.60" fill="#3d8fd8" opacity="0.45"/>
<rect x="417.80" y="76.20" width="2.00" height="0.70" fill="#f2b705" opacity="0.55"/>
<rect x="417.80" y="76.90" width="2.00" height="0.60" fill="#5cb85c" opacity="0.45"/>
<rect x="420.00" y="76.20" width="2.00" height="0.70" fill="#3d8fd8" opacity="0.55"/>
<rect x="420.00" y="76.90" width="2.00" height="0.60" fill="#f2b705" opacity="0.45"/>
<rect x="422.20" y="76.20" width="2.00" height="0.70" fill="#5cb85c" opacity="0.55"/>
<rect x="422.20" y="76.90" width="2.00" height="0.60" fill="#3d8fd8" opacity="0.45"/>
<rect x="424.40" y="76.20" width="2.00" height="0.70" fill="#e2466e" opacity="0.55"/>
<rect x="424.40" y="76.90" width="2.00" height="0.60" fill="#5cb85c" opacity="0.45"/>
<rect x="426.60" y="76.20" width="2.00" height="0.70" fill="#e2466e" opacity="0.55"/>
<rect x="426.60" y="76.90" width="2.00" height="0.60" fill="#f2b705" opacity="0.45"/>
<rect x="428.80" y="76.20" width="2.00" height="0.70" fill="#e2466e" opacity="0.55"/>
<rect x="428.80" y="76.90" width="2.00" height="0.60" fill="#f2b705" opacity="0.45"/>
<rect x="431.00" y="76.20" width="2.00" height="0.70" fill="#e2466e" opacity="0.55"/>
<rect x="431.00" y="76.90" width="2.00" height="0.60" fill="#5cb85c" opacity="0.45"/>
<rect x="433.20" y="76.20" width="2.00" height="0.70" fill="#3d8fd8" opacity="0.55"/>
<rect x="433.20" y="76.90" width="2.00" height="0.60" fill="#5cb85c" opacity="0.45"/>
<rect x="435.40" y="76.20" width="2.00" height="0.70" fill="#5cb85c" opacity="0.55"/>
<rect x="435.40" y="76.90" width="2.00" height="0.60" fill="#3d8fd8" opacity="0.45"/>
<rect x="437.60" y="76.20" width="2.00" height="0.70" fill="#f2b705" opacity="0.55"/>
<rect x="437.60" y="76.90" width="2.00" height="0.60" fill="#e2466e" opacity="0.45"/>
<rect x="439.80" y="76.20" width="2.00" height="0.70" fill="#5cb85c" opacity="0.55"/>
<rect x="439.80" y="76.90" width="2.00" height="0.60" fill="#e2466e" opacity="0.45"/>
<rect x="442.00" y="76.20" width="2.00" height="0.70" fill="#e2466e" opacity="0.55"/>
<rect x="442.00" y="76.90" width="2.00" height="0.60" fill="#5cb85c" opacity="0.45"/>
<rect x="444.20" y="76.20" width="2.00" height="0.70" fill="#5cb85c" opacity="0.55"/>
<rect x="444.20" y="76.90" width="2.00" height="0.60" fill="#5cb85c" opacity="0.45"/>
<rect x="446.40" y="76.20" width="2.00" height="0.70" fill="#3d8fd8" opacity="0.55"/>
<rect x="446.40" y="76.90" width="2.00" height="0.60" fill="#3d8fd8" opacity="0.45"/>
<rect x="448.60" y="76.20" width="2.00" height="0.70" fill="#3d8fd8" opacity="0.55"/>
<rect x="448.60" y="76.90" width="2.00" height="0.60" fill="#f2b705" opacity="0.45"/>
<rect x="450.80" y="76.20" width="2.00" height="0.70" fill="#e2466e" opacity="0.55"/>
<rect x="450.80" y="76.90" width="2.00" height="0.60" fill="#5cb85c" opacity="0.45"/>
<rect x="453.00" y="76.20" width="2.00" height="0.70" fill="#3d8fd8" opacity="0.55"/>
<rect x="453.00" y="76.90" width="2.00" height="0.60" fill="#e2466e" opacity="0.45"/>
<rect x="455.20" y="76.20" width="2.00" height="0.70" fill="#3d8fd8" opacity="0.55"/>
<rect x="455.20" y="76.90" width="2.00" height="0.60" fill="#5cb85c" opacity="0.45"/>
<rect x="457.40" y="76.20" width="2.00" height="0.70" fill="#5cb85c" opacity="0.55"/>
<rect x="457.40" y="76.90" width="2.00" height="0.60" fill="#3d8fd8" opacity="0.45"/>
<rect x="459.60" y="76.20" width="2.00" height="0.70" fill="#3d8fd8" opacity="0.55"/>
<rect x="459.60" y="76.90" width="2.00" height="0.60" fill="#3d8fd8" opacity="0.45"/>
<rect x="461.80" y="76.20" width="2.00" height="0.70" fill="#3d8fd8" opacity="0.55"/>
<rect x="461.80" y="76.90" width="2.00" height="0.60" fill="#e2466e" opacity="0.45"/>
<rect x="464.00" y="76.20" width="2.00" height="0.70" fill="#f2b705" opacity="0.55"/>
<rect x="464.00" y="76.90" width="2.00" height="0.60" fill="#3d8fd8" opacity="0.45"/>
<rect x="466.20" y="76.20" width="2.00" height="0.70" fill="#5cb85c" opacity="0.55"/>
<rect x="466.20" y="76.90" width="2.00" height="0.60" fill="#5cb85c" opacity="0.45"/>
<rect x="468.40" y="76.20" width="2.00" height="0.70" fill="#f2b705" opacity="0.55"/>
<rect x="468.40" y="76.90" width="2.00" height="0.60" fill="#5cb85c" opacity="0.45"/>
<rect x="470.60" y="76.20" width="2.00" height="0.70" fill="#e2466e" opacity="0.55"/>
<rect x="470.60" y="76.90" width="2.00" height="0.60" fill="#f2b705" opacity="0.45"/>
<text x="430.00" y="116.00" text-anchor="middle">De novo no. 99</text>
<text x="402.00" y="124.50" text-anchor="middle">AP-1</text>
<text x="455.00" y="124.50" text-anchor="middle">AP-1</text>
<line x1="385.60" y1="126.00" x2="385.60" y2="161.60" stroke="#333" stroke-width="0.6"/>
<line x1="385.60" y1="161.60" x2="474.50" y2="161.60" stroke="#333" stroke-width="0.6"/>
<text transform="translate(387.06,160.30) scale(0.668,4.469)" font-size="10.0" fill="#e2466e">T</text>
<text transform="translate(391.01,160.30) scale(0.538,4.413)" font-size="10.0" fill="#f2b705">G</text>
<text transform="translate(395.11,160.30) scale(0.627,4.469)" font-size="10.0" fill="#5cb85c">A</text>
<text transform="translate(399.36,160.30) scale(0.537,0.670)" font-size="10.0" fill="#3d8fd8">C</text>
<text transform="translate(402.86,160.30) scale(0.735,4.469)" font-size="10.0" fill="#e2466e">T</text>
<text transform="translate(407.31,160.30) scale(0.607,4.469)" font-size="10.0" fill="#3d8fd8">C</text>
<text transform="translate(411.76,160.30) scale(0.612,4.469)" font-size="10.0" fill="#5cb85c">A</text>
<text transform="translate(415.76,160.30) scale(0.612,0.321)" font-size="10.0" fill="#5cb85c">A</text>
<text transform="translate(419.76,160.30) scale(0.524,0.391)" font-size="10.0" fill="#f2b705">G</text>
<text transform="translate(423.76,160.30) scale(0.565,0.391)" font-size="10.0" fill="#3d8fd8">C</text>
<text transform="translate(427.76,160.30) scale(0.524,0.461)" font-size="10.0" fill="#f2b705">G</text>
<text transform="translate(431.45,160.30) scale(0.768,0.461)" font-size="10.0" fill="#e2466e">T</text>
<text transform="translate(436.21,160.30) scale(0.658,1.439)" font-size="10.0" fill="#5cb85c">A</text>
<text transform="translate(440.51,160.30) scale(0.718,4.469)" font-size="10.0" fill="#e2466e">T</text>
<text transform="translate(444.55,160.30) scale(0.629,4.469)" font-size="10.0" fill="#f2b705">G</text>
<text transform="translate(449.76,160.30) scale(0.612,4.469)" font-size="10.0" fill="#5cb85c">A</text>
<text transform="translate(453.76,160.30) scale(0.524,4.469)" font-size="10.0" fill="#f2b705">G</text>
<text transform="translate(457.71,160.30) scale(0.684,4.469)" font-size="10.0" fill="#e2466e">T</text>
<text transform="translate(461.86,160.30) scale(0.565,4.469)" font-size="10.0" fill="#3d8fd8">C</text>
<text transform="translate(465.86,160.30) scale(0.612,4.469)" font-size="10.0" fill="#5cb85c">A</text>
<text transform="translate(469.86,160.30) scale(0.668,1.299)" font-size="10.0" fill="#e2466e">T</text>
<rect x="387.10" y="160.70" width="2.00" height="0.70" fill="#5cb85c" opacity="0.55"/>
<rect x="387.10" y="161.40" width="2.00" height="0.60" fill="#e2466e" opacity="0.45"/>
<rect x="389.30" y="160.70" width="2.00" height="0.70" fill="#e2466e" opacity="0.55"/>
<rect x="389.30" y="161.40" width="2.00" height="0.60" fill="#3d8fd8" opacity="0.45"/>
<rect x="391.50" y="160.70" width="2.00" height="0.70" fill="#5cb85c" opacity="0.55"/>
<rect x="391.50" y="161.40" width="2.00" height="0.60" fill="#e2466e" opacity="0.45"/>
<rect x="393.70" y="160.70" width="2.00" height="0.70" fill="#5cb85c" opacity="0.55"/>
<rect x="393.70" y="161.40" width="2.00" height="0.60" fill="#f2b705" opacity="0.45"/>
<rect x="395.90" y="160.70" width="2.00" height="0.70" fill="#5cb85c" opacity="0.55"/>
<rect x="395.90" y="161.40" width="2.00" height="0.60" fill="#3d8fd8" opacity="0.45"/>
<rect x="398.10" y="160.70" width="2.00" height="0.70" fill="#f2b705" opacity="0.55"/>
<rect x="398.10" y="161.40" width="2.00" height="0.60" fill="#e2466e" opacity="0.45"/>
<rect x="400.30" y="160.70" width="2.00" height="0.70" fill="#f2b705" opacity="0.55"/>
<rect x="400.30" y="161.40" width="2.00" height="0.60" fill="#f2b705" opacity="0.45"/>
<rect x="402.50" y="160.70" width="2.00" height="0.70" fill="#5cb85c" opacity="0.55"/>
<rect x="402.50" y="161.40" width="2.00" height="0.60" fill="#f2b705" opacity="0.45"/>
<rect x="404.70" y="160.70" width="2.00" height="0.70" fill="#f2b705" opacity="0.55"/>
<rect x="404.70" y="161.40" width="2.00" height="0.60" fill="#e2466e" opacity="0.45"/>
<rect x="406.90" y="160.70" width="2.00" height="0.70" fill="#5cb85c" opacity="0.55"/>
<rect x="406.90" y="161.40" width="2.00" height="0.60" fill="#e2466e" opacity="0.45"/>
<rect x="409.10" y="160.70" width="2.00" height="0.70" fill="#f2b705" opacity="0.55"/>
<rect x="409.10" y="161.40" width="2.00" height="0.60" fill="#e2466e" opacity="0.45"/>
<rect x="411.30" y="160.70" width="2.00" height="0.70" fill="#5cb85c" opacity="0.55"/>
<rect x="411.30" y="161.40" width="2.00" height="0.60" fill="#e2466e" opacity="0.45"/>
<rect x="413.50" y="160.70" width="2.00" height="0.70" fill="#3d8fd8" opacity="0.55"/>
<rect x="413.50" y="161.40" width="2.00" height="0.60" fill="#5cb85c" opacity="0.45"/>
<rect x="415.70" y="160.70" width="2.00" height="0.70" fill="#f2b705" opacity="0.55"/>
<rect x="415.70" y="161.40" width="2.00" height="0.60" fill="#5cb85c" opacity="0.45"/>
<rect x="417.90" y="160.70" width="2.00" height="0.70" fill="#3d8fd8" opacity="0.55"/>
<rect x="417.90" y="161.40" width="2.00" height="0.60" fill="#f2b705" opacity="0.45"/>
<rect x="420.10" y="160.70" width="2.00" height="0.70" fill="#3d8fd8" opacity="0.55"/>
<rect x="420.10" y="161.40" width="2.00" height="0.60" fill="#e2466e" opacity="0.45"/>
<rect x="422.30" y="160.70" width="2.00" height="0.70" fill="#5cb85c" opacity="0.55"/>
<rect x="422.30" y="161.40" width="2.00" height="0.60" fill="#f2b705" opacity="0.45"/>
<rect x="424.50" y="160.70" width="2.00" height="0.70" fill="#e2466e" opacity="0.55"/>
<rect x="424.50" y="161.40" width="2.00" height="0.60" fill="#3d8fd8" opacity="0.45"/>
<rect x="426.70" y="160.70" width="2.00" height="0.70" fill="#e2466e" opacity="0.55"/>
<rect x="426.70" y="161.40" width="2.00" height="0.60" fill="#f2b705" opacity="0.45"/>
<rect x="428.90" y="160.70" width="2.00" height="0.70" fill="#e2466e" opacity="0.55"/>
<rect x="428.90" y="161.40" width="2.00" height="0.60" fill="#f2b705" opacity="0.45"/>
<rect x="431.10" y="160.70" width="2.00" height="0.70" fill="#5cb85c" opacity="0.55"/>
<rect x="431.10" y="161.40" width="2.00" height="0.60" fill="#3d8fd8" opacity="0.45"/>
<rect x="433.30" y="160.70" width="2.00" height="0.70" fill="#f2b705" opacity="0.55"/>
<rect x="433.30" y="161.40" width="2.00" height="0.60" fill="#f2b705" opacity="0.45"/>
<rect x="435.50" y="160.70" width="2.00" height="0.70" fill="#e2466e" opacity="0.55"/>
<rect x="435.50" y="161.40" width="2.00" height="0.60" fill="#f2b705" opacity="0.45"/>
<rect x="437.70" y="160.70" width="2.00" height="0.70" fill="#e2466e" opacity="0.55"/>
<rect x="437.70" y="161.40" width="2.00" height="0.60" fill="#3d8fd8" opacity="0.45"/>
<rect x="439.90" y="160.70" width="2.00" height="0.70" fill="#3d8fd8" opacity="0.55"/>
<rect x="439.90" y="161.40" width="2.00" height="0.60" fill="#3d8fd8" opacity="0.45"/>
<rect x="442.10" y="160.70" width="2.00" height="0.70" fill="#3d8fd8" opacity="0.55"/>
<rect x="442.10" y="161.40" width="2.00" height="0.60" fill="#3d8fd8" opacity="0.45"/>
<rect x="444.30" y="160.70" width="2.00" height="0.70" fill="#e2466e" opacity="0.55"/>
<rect x="444.30" y="161.40" width="2.00" height="0.60" fill="#5cb85c" opacity="0.45"/>
<rect x="446.50" y="160.70" width="2.00" height="0.70" fill="#e2466e" opacity="0.55"/>
<rect x="446.50" y="161.40" width="2.00" height="0.60" fill="#f2b705" opacity="0.45"/>
<rect x="448.70" y="160.70" width="2.00" height="0.70" fill="#f2b705" opacity="0.55"/>
<rect x="448.70" y="161.40" width="2.00" height="0.60" fill="#e2466e" opacity="0.45"/>
<rect x="450.90" y="160.70" width="2.00" height="0.70" fill="#3d8fd8" opacity="0.55"/>
<rect x="450.90" y="161.40" width="2.00" height="0.60" fill="#f2b705" opacity="0.45"/>
<rect x="453.10" y="160.70" width="2.00" height="0.70" fill="#5cb85c" opacity="0.55"/>
<rect x="453.10" y="161.40" width="2.00" height="0.60" fill="#e2466e" opacity="0.45"/>
<rect x="455.30" y="160.70" width="2.00" height="0.70" fill="#e2466e" opacity="0.55"/>
<rect x="455.30" y="161.40" width="2.00" height="0.60" fill="#f2b705" opacity="0.45"/>
<rect x="457.50" y="160.70" width="2.00" height="0.70" fill="#f2b705" opacity="0.55"/>
<rect x="457.50" y="161.40" width="2.00" height="0.60" fill="#5cb85c" opacity="0.45"/>
<rect x="459.70" y="160.70" width="2.00" height="0.70" fill="#e2466e" opacity="0.55"/>
<rect x="459.70" y="161.40" width="2.00" height="0.60" fill="#e2466e" opacity="0.45"/>
<rect x="461.90" y="160.70" width="2.00" height="0.70" fill="#e2466e" opacity="0.55"/>
<rect x="461.90" y="161.40" width="2.00" height="0.60" fill="#e2466e" opacity="0.45"/>
<rect x="464.10" y="160.70" width="2.00" height="0.70" fill="#5cb85c" opacity="0.55"/>
<rect x="464.10" y="161.40" width="2.00" height="0.60" fill="#e2466e" opacity="0.45"/>
<rect x="466.30" y="160.70" width="2.00" height="0.70" fill="#3d8fd8" opacity="0.55"/>
<rect x="466.30" y="161.40" width="2.00" height="0.60" fill="#e2466e" opacity="0.45"/>
<rect x="468.50" y="160.70" width="2.00" height="0.70" fill="#e2466e" opacity="0.55"/>
<rect x="468.50" y="161.40" width="2.00" height="0.60" fill="#5cb85c" opacity="0.45"/>
<rect x="470.70" y="160.70" width="2.00" height="0.70" fill="#5cb85c" opacity="0.55"/>
<rect x="470.70" y="161.40" width="2.00" height="0.60" fill="#3d8fd8" opacity="0.45"/>
<text x="430.00" y="202.50" text-anchor="middle">De novo no. 87</text>
<text x="412.00" y="212.00" text-anchor="middle">HNF4/PPAR</text>
<text x="455.50" y="212.00" text-anchor="middle">AP-1</text>
<line x1="385.60" y1="215.00" x2="385.60" y2="251.00" stroke="#333" stroke-width="0.6"/>
<line x1="385.60" y1="251.00" x2="474.00" y2="251.00" stroke="#333" stroke-width="0.6"/>
<text transform="translate(387.06,249.20) scale(0.524,1.159)" font-size="10.0" fill="#f2b705">G</text>
<text transform="translate(391.01,249.20) scale(0.627,0.559)" font-size="10.0" fill="#5cb85c">A</text>
<text transform="translate(395.16,249.20) scale(0.565,1.313)" font-size="10.0" fill="#3d8fd8">C</text>
<text transform="translate(399.01,249.20) scale(0.607,3.883)" font-size="10.0" fill="#3d8fd8">C</text>
<text transform="translate(403.46,249.20) scale(0.668,2.668)" font-size="10.0" fill="#e2466e">T</text>
<text transform="translate(407.31,249.20) scale(0.718,2.668)" font-size="10.0" fill="#e2466e">T</text>
<text transform="translate(411.56,249.20) scale(0.735,4.358)" font-size="10.0" fill="#e2466e">T</text>
<text transform="translate(416.11,249.20) scale(0.538,1.816)" font-size="10.0" fill="#f2b705">G</text>
<text transform="translate(420.26,249.20) scale(0.612,0.419)" font-size="10.0" fill="#5cb85c">A</text>
<text transform="translate(424.26,249.20) scale(0.565,1.439)" font-size="10.0" fill="#3d8fd8">C</text>
<text transform="translate(428.26,249.20) scale(0.565,2.095)" font-size="10.0" fill="#3d8fd8">C</text>
<text transform="translate(432.21,249.20) scale(0.684,0.447)" font-size="10.0" fill="#e2466e">T</text>
<text transform="translate(436.36,249.20) scale(0.565,0.698)" font-size="10.0" fill="#3d8fd8">C</text>
<text transform="translate(440.16,249.20) scale(0.735,4.358)" font-size="10.0" fill="#e2466e">T</text>
<text transform="translate(444.61,249.20) scale(0.564,3.408)" font-size="10.0" fill="#f2b705">G</text>
<text transform="translate(448.91,249.20) scale(0.658,4.358)" font-size="10.0" fill="#5cb85c">A</text>
<text transform="translate(453.36,249.20) scale(0.524,3.408)" font-size="10.0" fill="#f2b705">G</text>
<text transform="translate(457.10,249.20) scale(0.751,4.358)" font-size="10.0" fill="#e2466e">T</text>
<text transform="translate(461.86,249.20) scale(0.565,4.358)" font-size="10.0" fill="#3d8fd8">C</text>
<text transform="translate(466.06,249.20) scale(0.551,4.358)" font-size="10.0" fill="#5cb85c">A</text>
<text transform="translate(469.66,249.20) scale(0.601,0.559)" font-size="10.0" fill="#e2466e">T</text>
<rect x="387.10" y="249.60" width="2.00" height="0.70" fill="#5cb85c" opacity="0.55"/>
<rect x="387.10" y="250.30" width="2.00" height="0.60" fill="#3d8fd8" opacity="0.45"/>
<rect x="389.30" y="249.60" width="2.00" height="0.70" fill="#5cb85c" opacity="0.55"/>
<rect x="389.30" y="250.30" width="2.00" height="0.60" fill="#f2b705" opacity="0.45"/>
<rect x="391.50" y="249.60" width="2.00" height="0.70" fill="#e2466e" opacity="0.55"/>
<rect x="391.50" y="250.30" width="2.00" height="0.60" fill="#e2466e" opacity="0.45"/>
<rect x="393.70" y="249.60" width="2.00" height="0.70" fill="#f2b705" opacity="0.55"/>
<rect x="393.70" y="250.30" width="2.00" height="0.60" fill="#3d8fd8" opacity="0.45"/>
<rect x="395.90" y="249.60" width="2.00" height="0.70" fill="#f2b705" opacity="0.55"/>
<rect x="395.90" y="250.30" width="2.00" height="0.60" fill="#5cb85c" opacity="0.45"/>
<rect x="398.10" y="249.60" width="2.00" height="0.70" fill="#3d8fd8" opacity="0.55"/>
<rect x="398.10" y="250.30" width="2.00" height="0.60" fill="#f2b705" opacity="0.45"/>
<rect x="400.30" y="249.60" width="2.00" height="0.70" fill="#3d8fd8" opacity="0.55"/>
<rect x="400.30" y="250.30" width="2.00" height="0.60" fill="#e2466e" opacity="0.45"/>
<rect x="402.50" y="249.60" width="2.00" height="0.70" fill="#3d8fd8" opacity="0.55"/>
<rect x="402.50" y="250.30" width="2.00" height="0.60" fill="#3d8fd8" opacity="0.45"/>
<rect x="404.70" y="249.60" width="2.00" height="0.70" fill="#5cb85c" opacity="0.55"/>
<rect x="404.70" y="250.30" width="2.00" height="0.60" fill="#e2466e" opacity="0.45"/>
<rect x="406.90" y="249.60" width="2.00" height="0.70" fill="#5cb85c" opacity="0.55"/>
<rect x="406.90" y="250.30" width="2.00" height="0.60" fill="#f2b705" opacity="0.45"/>
<rect x="409.10" y="249.60" width="2.00" height="0.70" fill="#3d8fd8" opacity="0.55"/>
<rect x="409.10" y="250.30" width="2.00" height="0.60" fill="#e2466e" opacity="0.45"/>
<rect x="411.30" y="249.60" width="2.00" height="0.70" fill="#3d8fd8" opacity="0.55"/>
<rect x="411.30" y="250.30" width="2.00" height="0.60" fill="#3d8fd8" opacity="0.45"/>
<rect x="413.50" y="249.60" width="2.00" height="0.70" fill="#5cb85c" opacity="0.55"/>
<rect x="413.50" y="250.30" width="2.00" height="0.60" fill="#f2b705" opacity="0.45"/>
<rect x="415.70" y="249.60" width="2.00" height="0.70" fill="#e2466e" opacity="0.55"/>
<rect x="415.70" y="250.30" width="2.00" height="0.60" fill="#e2466e" opacity="0.45"/>
<rect x="417.90" y="249.60" width="2.00" height="0.70" fill="#e2466e" opacity="0.55"/>
<rect x="417.90" y="250.30" width="2.00" height="0.60" fill="#3d8fd8" opacity="0.45"/>
<rect x="420.10" y="249.60" width="2.00" height="0.70" fill="#e2466e" opacity="0.55"/>
<rect x="420.10" y="250.30" width="2.00" height="0.60" fill="#e2466e" opacity="0.45"/>
<rect x="422.30" y="249.60" width="2.00" height="0.70" fill="#e2466e" opacity="0.55"/>
<rect x="422.30" y="250.30" width="2.00" height="0.60" fill="#e2466e" opacity="0.45"/>
<rect x="424.50" y="249.60" width="2.00" height="0.70" fill="#3d8fd8" opacity="0.55"/>
<rect x="424.50" y="250.30" width="2.00" height="0.60" fill="#f2b705" opacity="0.45"/>
<rect x="426.70" y="249.60" width="2.00" height="0.70" fill="#e2466e" opacity="0.55"/>
<rect x="426.70" y="250.30" width="2.00" height="0.60" fill="#f2b705" opacity="0.45"/>
<rect x="428.90" y="249.60" width="2.00" height="0.70" fill="#5cb85c" opacity="0.55"/>
<rect x="428.90" y="250.30" width="2.00" height="0.60" fill="#e2466e" opacity="0.45"/>
<rect x="431.10" y="249.60" width="2.00" height="0.70" fill="#f2b705" opacity="0.55"/>
<rect x="431.10" y="250.30" width="2.00" height="0.60" fill="#3d8fd8" opacity="0.45"/>
<rect x="433.30" y="249.60" width="2.00" height="0.70" fill="#f2b705" opacity="0.55"/>
<rect x="433.30" y="250.30" width="2.00" height="0.60" fill="#f2b705" opacity="0.45"/>
<rect x="435.50" y="249.60" width="2.00" height="0.70" fill="#f2b705" opacity="0.55"/>
<rect x="435.50" y="250.30" width="2.00" height="0.60" fill="#5cb85c" opacity="0.45"/>
<rect x="437.70" y="249.60" width="2.00" height="0.70" fill="#f2b705" opacity="0.55"/>
<rect x="437.70" y="250.30" width="2.00" height="0.60" fill="#f2b705" opacity="0.45"/>
<rect x="439.90" y="249.60" width="2.00" height="0.70" fill="#5cb85c" opacity="0.55"/>
<rect x="439.90" y="250.30" width="2.00" height="0.60" fill="#5cb85c" opacity="0.45"/>
<rect x="442.10" y="249.60" width="2.00" height="0.70" fill="#e2466e" opacity="0.55"/>
<rect x="442.10" y="250.30" width="2.00" height="0.60" fill="#f2b705" opacity="0.45"/>
<rect x="444.30" y="249.60" width="2.00" height="0.70" fill="#f2b705" opacity="0.55"/>
<rect x="444.30" y="250.30" width="2.00" height="0.60" fill="#e2466e" opacity="0.45"/>
<rect x="446.50" y="249.60" width="2.00" height="0.70" fill="#5cb85c" opacity="0.55"/>
<rect x="446.50" y="250.30" width="2.00" height="0.60" fill="#e2466e" opacity="0.45"/>
<rect x="448.70" y="249.60" width="2.00" height="0.70" fill="#e2466e" opacity="0.55"/>
<rect x="448.70" y="250.30" width="2.00" height="0.60" fill="#3d8fd8" opacity="0.45"/>
<rect x="450.90" y="249.60" width="2.00" height="0.70" fill="#3d8fd8" opacity="0.55"/>
<rect x="450.90" y="250.30" width="2.00" height="0.60" fill="#5cb85c" opacity="0.45"/>
<rect x="453.10" y="249.60" width="2.00" height="0.70" fill="#5cb85c" opacity="0.55"/>
<rect x="453.10" y="250.30" width="2.00" height="0.60" fill="#f2b705" opacity="0.45"/>
<rect x="455.30" y="249.60" width="2.00" height="0.70" fill="#e2466e" opacity="0.55"/>
<rect x="455.30" y="250.30" width="2.00" height="0.60" fill="#3d8fd8" opacity="0.45"/>
<rect x="457.50" y="249.60" width="2.00" height="0.70" fill="#5cb85c" opacity="0.55"/>
<rect x="457.50" y="250.30" width="2.00" height="0.60" fill="#e2466e" opacity="0.45"/>
<rect x="459.70" y="249.60" width="2.00" height="0.70" fill="#5cb85c" opacity="0.55"/>
<rect x="459.70" y="250.30" width="2.00" height="0.60" fill="#3d8fd8" opacity="0.45"/>
<rect x="461.90" y="249.60" width="2.00" height="0.70" fill="#e2466e" opacity="0.55"/>
<rect x="461.90" y="250.30" width="2.00" height="0.60" fill="#e2466e" opacity="0.45"/>
<rect x="464.10" y="249.60" width="2.00" height="0.70" fill="#f2b705" opacity="0.55"/>
<rect x="464.10" y="250.30" width="2.00" height="0.60" fill="#5cb85c" opacity="0.45"/>
<rect x="466.30" y="249.60" width="2.00" height="0.70" fill="#5cb85c" opacity="0.55"/>
<rect x="466.30" y="250.30" width="2.00" height="0.60" fill="#5cb85c" opacity="0.45"/>
<rect x="468.50" y="249.60" width="2.00" height="0.70" fill="#5cb85c" opacity="0.55"/>
<rect x="468.50" y="250.30" width="2.00" height="0.60" fill="#5cb85c" opacity="0.45"/>
<rect x="470.70" y="249.60" width="2.00" height="0.70" fill="#3d8fd8" opacity="0.55"/>
<rect x="470.70" y="250.30" width="2.00" height="0.60" fill="#f2b705" opacity="0.45"/>
<text x="503.60" y="7.80" font-size="11" fill="#000" font-weight="bold">c</text>
<text x="602.50" y="8.50" text-anchor="middle">De novo no. 112 (AP-1:FOX)</text>
<text x="601.00" y="22.50" text-anchor="middle">Accessibility effect</text>
<line x1="529.50" y1="33.00" x2="529.50" y2="131.50" stroke="#333" stroke-width="0.6"/>
<line x1="529.50" y1="131.50" x2="673.40" y2="131.50" stroke="#333" stroke-width="0.6"/>
<line x1="527.70" y1="50.20" x2="529.50" y2="50.20" stroke="#333" stroke-width="0.6"/>
<text x="525.70" y="52.50" text-anchor="end">0.4</text>
<line x1="527.70" y1="67.85" x2="529.50" y2="67.85" stroke="#333" stroke-width="0.6"/>
<text x="525.70" y="70.15" text-anchor="end">0.3</text>
<line x1="527.70" y1="85.50" x2="529.50" y2="85.50" stroke="#333" stroke-width="0.6"/>
<text x="525.70" y="87.80" text-anchor="end">0.2</text>
<line x1="527.70" y1="103.15" x2="529.50" y2="103.15" stroke="#333" stroke-width="0.6"/>
<text x="525.70" y="105.45" text-anchor="end">0.1</text>
<line x1="527.70" y1="120.80" x2="529.50" y2="120.80" stroke="#333" stroke-width="0.6"/>
<text x="525.70" y="123.10" text-anchor="end">0</text>
<line x1="529.50" y1="120.80" x2="673.40" y2="120.80" stroke="#333" stroke-width="0.7" stroke-dasharray="2.5,1.6"/>
<polyline points="550.40,120.80 584.60,104.91 618.00,85.50 652.70,51.08" fill="none" stroke="#111" stroke-width="0.8"/>
<line x1="550.40" y1="126.98" x2="550.40" y2="114.62" stroke="#111" stroke-width="0.7"/>
<line x1="548.90" y1="126.98" x2="551.90" y2="126.98" stroke="#111" stroke-width="0.7"/>
<line x1="548.90" y1="114.62" x2="551.90" y2="114.62" stroke="#111" stroke-width="0.7"/>
<ellipse cx="550.40" cy="120.80" rx="1.40" ry="1.40" fill="#111"/>
<line x1="550.40" y1="131.50" x2="550.40" y2="133.30" stroke="#333" stroke-width="0.6"/>
<line x1="584.60" y1="113.74" x2="584.60" y2="96.09" stroke="#111" stroke-width="0.7"/>
<line x1="583.10" y1="113.74" x2="586.10" y2="113.74" stroke="#111" stroke-width="0.7"/>
<line x1="583.10" y1="96.09" x2="586.10" y2="96.09" stroke="#111" stroke-width="0.7"/>
<ellipse cx="584.60" cy="104.91" rx="1.40" ry="1.40" fill="#111"/>
<line x1="584.60" y1="131.50" x2="584.60" y2="133.30" stroke="#333" stroke-width="0.6"/>
<line x1="618.00" y1="98.74" x2="618.00" y2="72.26" stroke="#111" stroke-width="0.7"/>
<line x1="616.50" y1="98.74" x2="619.50" y2="98.74" stroke="#111" stroke-width="0.7"/>
<line x1="616.50" y1="72.26" x2="619.50" y2="72.26" stroke="#111" stroke-width="0.7"/>
<ellipse cx="618.00" cy="85.50" rx="1.40" ry="1.40" fill="#111"/>
<line x1="618.00" y1="131.50" x2="618.00" y2="133.30" stroke="#333" stroke-width="0.6"/>
<line x1="652.70" y1="65.20" x2="652.70" y2="37.84" stroke="#111" stroke-width="0.7"/>
<line x1="651.20" y1="65.20" x2="654.20" y2="65.20" stroke="#111" stroke-width="0.7"/>
<line x1="651.20" y1="37.84" x2="654.20" y2="37.84" stroke="#111" stroke-width="0.7"/>
<ellipse cx="652.70" cy="51.08" rx="1.40" ry="1.40" fill="#111"/>
<line x1="652.70" y1="131.50" x2="652.70" y2="133.30" stroke="#333" stroke-width="0.6"/>
<text x="550.40" y="142.00" text-anchor="middle">Control</text>
<text x="584.60" y="142.00" text-anchor="middle">Acute</text>
<text x="618.00" y="142.00" text-anchor="middle">Chronic</text>
<text x="652.70" y="142.00" text-anchor="middle">Recovered</text>
<text x="652" y="33" text-anchor="middle"><tspan font-style="italic">P</tspan> = 0.004</text>
<text x="509.00" y="82.50" text-anchor="middle" transform="rotate(-90 509.00 82.50)">Motif accessibility change</text>
<text x="601.00" y="158.50" text-anchor="middle">Predicted footprint effect</text>
<defs>
<clipPath id="hc"><rect x="529.6" y="162.7" width="143.79999999999995" height="86.9"/></clipPath>
<filter id="bl2" x="-50%" y="-50%" width="200%" height="200%"><feGaussianBlur stdDeviation="2"/></filter>
<filter id="bl2s" x="-50%" y="-50%" width="200%" height="200%"><feGaussianBlur stdDeviation="1.2"/></filter>
<filter id="bl4" x="-50%" y="-50%" width="200%" height="200%"><feGaussianBlur stdDeviation="4"/></filter>
<filter id="bl7" x="-50%" y="-50%" width="200%" height="200%"><feGaussianBlur stdDeviation="7"/></filter>
<linearGradient id="hbg" x1="0" x2="1" y1="0" y2="0">
<stop offset="0" stop-color="#d6e6f2"/><stop offset="0.3" stop-color="#e4eef6"/><stop offset="0.45" stop-color="#c4dcee"/><stop offset="0.62" stop-color="#8ab8dc"/><stop offset="0.85" stop-color="#d8e6f0"/><stop offset="1" stop-color="#f4f0ee"/></linearGradient>
</defs>
<g clip-path="url(#hc)">
<rect x="529.60" y="162.70" width="143.80" height="86.90" fill="#e6eff7"/>
<ellipse cx="615.00" cy="200.00" rx="50.00" ry="60.00" fill="#b9d5ec" filter="url(#bl7)"/>
<ellipse cx="600.00" cy="160.00" rx="45.00" ry="9.00" fill="#8fbce0" filter="url(#bl4)"/>
<ellipse cx="620.00" cy="193.00" rx="30.00" ry="44.00" fill="#5d9bd0" filter="url(#bl7)"/>
<ellipse cx="606.00" cy="195.00" rx="8.00" ry="25.00" fill="#3f7fc0" filter="url(#bl4)"/>
<ellipse cx="624.00" cy="195.00" rx="20.00" ry="32.00" fill="#2f6fb0" filter="url(#bl4)"/>
<path d="M611,185 C611,172 618,174 626,174.5 C635,175 640,180 639.5,192 C639,205 636,215 630,220 C624,223 619,219 617,212 C613,203 611,195 611,185 Z" fill="#0c3b73" filter="url(#bl2s)"/>
<ellipse cx="655.00" cy="200.00" rx="5.00" ry="40.00" fill="#eef2f6" filter="url(#bl4)"/>
<ellipse cx="665.00" cy="200.00" rx="13.00" ry="30.00" fill="#f4c8b4" filter="url(#bl4)"/>
<ellipse cx="666.00" cy="201.00" rx="8.00" ry="20.00" fill="#d65a4c" filter="url(#bl4)"/>
<ellipse cx="548.00" cy="215.00" rx="25.00" ry="45.00" fill="#f0f5fa" filter="url(#bl7)"/>
<g filter="url(#bl2)">
<path d="M574,203 L592,248 L587,249 L570,206 Z" fill="#b8d6ee"/>
<path d="M564,210 L578,248 L575,249 L561,212 Z" fill="#d8e8f4"/>
<path d="M612,232 L618,249 L609,249 Z" fill="#a8cce6"/>
</g>
<g filter="url(#bl2s)">
<path d="M584,200 C590,201 596,214 603,224 C609,233 609,244 604,249 L597,249 C594,240 590,225 586,213 C584,207 583,202 584,200 Z" fill="#f2b8a2"/>
<path d="M596,220 C600,224 606,230 607,237 C607,243 604,247 601,247 C598,239 596,229 596,220 Z" fill="#d4443a"/>
<ellipse cx="601.50" cy="232.00" rx="3.30" ry="7.00" fill="#8a0a1e"/>
<path d="M572,222 C576,224 580,232 582,240 L579,241 C576,234 573,228 572,222 Z" fill="#f4cdbd"/>
</g>
</g>
<rect x="529.60" y="162.70" width="143.80" height="86.90" fill="none" stroke="#555" stroke-width="0.4"/>
<text x="525.00" y="167.20" text-anchor="end">200</text>
<text x="525.00" y="249.20" text-anchor="end">0</text>
<text x="537.00" y="258.80" text-anchor="middle">−200</text>
<text x="601.00" y="258.80" text-anchor="middle">Distance from motif (bp)</text>
<text x="667.00" y="258.80" text-anchor="middle">200</text>
<text x="509.00" y="206.00" text-anchor="middle" transform="rotate(-90 509.00 206.00)">Footprint size (bp)</text>
<text x="570.00" y="171.00" text-anchor="middle">Nucleosome loss</text>
<line x1="597.00" y1="171.50" x2="606.88" y2="177.68" stroke="#111" stroke-width="0.6"/>
<path d="M609.00,179.00 L606.24,178.69 L607.52,176.66 Z" fill="#111"/>
<text x="566.00" y="194.00" text-anchor="middle">TF:TF</text>
<text x="566.50" y="202.50" text-anchor="middle">gain</text>
<line x1="573.50" y1="201.50" x2="583.78" y2="206.85" stroke="#111" stroke-width="0.6"/>
<path d="M586.00,208.00 L583.23,207.91 L584.34,205.78 Z" fill="#111"/>
<text x="-0.40" y="280.70" font-size="11" fill="#000" font-weight="bold">d</text>
<text x="108.00" y="283.50" text-anchor="middle">Mouse organoid AP-1 inhibition</text>
<path d="M49.90,313.00 C46.40,308.00 54.80,306.30 55.80,300.30" fill="none" stroke="#333" stroke-width="0.6"/>
<path d="M88.60,313.00 C92.10,308.00 81.50,306.30 80.50,300.30" fill="none" stroke="#333" stroke-width="0.6"/>
<ellipse cx="52.00" cy="319.00" rx="6.20" ry="6.57" fill="#8b8d91" stroke="#333" stroke-width="0.5"/>
<ellipse cx="82.70" cy="317.80" rx="6.20" ry="6.57" fill="#8b8d91" stroke="#333" stroke-width="0.5"/>
<ellipse cx="64.10" cy="319.40" rx="4.60" ry="3.30" fill="#f7e600" stroke="#555" stroke-width="0.4"/>
<ellipse cx="71.70" cy="317.80" rx="2.60" ry="3.70" fill="#a0388e" stroke="#555" stroke-width="0.4"/>
<text x="71.80" y="312.00" text-anchor="middle">TF</text>
<text x="64.00" y="329.50" text-anchor="middle">AP-1</text>
<line x1="93.00" y1="319.50" x2="117.20" y2="319.50" stroke="#111" stroke-width="0.8"/>
<path d="M121.00,319.50 L117.20,321.30 L117.20,317.70 Z" fill="#111"/>
<polygon points="103.28,312.20 101.20,313.40 99.12,312.20 99.12,309.80 101.20,308.60 103.28,309.80" fill="none" stroke="#1a1a1a" stroke-width="0.85"/>
<polygon points="110.18,308.60 108.10,309.80 106.02,308.60 106.02,306.20 108.10,305.00 110.18,306.20" fill="none" stroke="#1a1a1a" stroke-width="0.85"/>
<polygon points="113.68,312.10 111.60,313.30 109.52,312.10 109.52,309.70 111.60,308.50 113.68,309.70" fill="none" stroke="#1a1a1a" stroke-width="0.85"/>
<path d="M96,310.6 L98.9,310.9 M103.4,309.8 L106,308.6 M113.6,309 L115.6,306.3" fill="none" stroke="#1a1a1a" stroke-width="0.85"/>
<path d="M127.60,313.00 C124.10,308.00 133.20,306.30 134.20,300.30" fill="none" stroke="#333" stroke-width="0.6"/>
<path d="M165.90,313.00 C169.40,308.00 160.30,306.30 159.30,300.30" fill="none" stroke="#333" stroke-width="0.6"/>
<line x1="137.00" y1="320.00" x2="156.00" y2="320.00" stroke="#333" stroke-width="0.8"/>
<ellipse cx="131.50" cy="319.00" rx="6.20" ry="6.57" fill="#8b8d91" stroke="#333" stroke-width="0.5"/>
<ellipse cx="161.50" cy="317.80" rx="6.20" ry="6.57" fill="#8b8d91" stroke="#333" stroke-width="0.5"/>
<ellipse cx="134.20" cy="332.70" rx="4.60" ry="3.30" fill="#f7e600" stroke="#555" stroke-width="0.4"/>
<ellipse cx="159.30" cy="334.30" rx="2.60" ry="3.70" fill="#a0388e" stroke="#555" stroke-width="0.4"/>
<path d="M147.3,320.5 C147,325 145,327.5 141.5,329" fill="none" stroke="#333" stroke-width="0.6"/>
<path d="M140.3,329.9 L142,327.2 L143.3,329.8 Z" fill="#333"/>
<path d="M148.8,320.5 C149,325 151,327.5 154,329" fill="none" stroke="#333" stroke-width="0.6"/>
<path d="M155.2,329.9 L152.3,329.9 L153.6,327.2 Z" fill="#333"/>
<text x="208.50" y="334.50" text-anchor="middle">Correlated</text>
<text x="208.50" y="342.50" text-anchor="middle">loss</text>
<line x1="208.50" y1="401.00" x2="208.50" y2="350.50" stroke="#111" stroke-width="0.8"/>
<path d="M208.50,346.50 L210.40,350.50 L206.60,350.50 Z" fill="#111"/>
<text x="208.00" y="410.00" text-anchor="middle">Anti- or</text>
<text x="208.00" y="418.00" text-anchor="middle">uncorrelated</text>
<text x="208.00" y="426.00" text-anchor="middle">loss</text>
<line x1="29.50" y1="336.40" x2="29.50" y2="424.50" stroke="#444" stroke-width="0.6"/>
<line x1="29.50" y1="424.50" x2="185.40" y2="424.50" stroke="#444" stroke-width="0.6"/>
<line x1="27.70" y1="351.00" x2="29.50" y2="351.00" stroke="#444" stroke-width="0.6"/>
<text x="24.90" y="353.30" text-anchor="end">0.50</text>
<line x1="27.70" y1="383.70" x2="29.50" y2="383.70" stroke="#444" stroke-width="0.6"/>
<text x="24.90" y="386.00" text-anchor="end">0.25</text>
<line x1="27.70" y1="416.40" x2="29.50" y2="416.40" stroke="#444" stroke-width="0.6"/>
<text x="24.90" y="418.70" text-anchor="end">≤0</text>
<rect x="30.40" y="346.16" width="10.00" height="70.24" fill="#a9c1e6" stroke="#555" stroke-width="0.5"/>
<line x1="35.40" y1="424.50" x2="35.40" y2="426.30" stroke="#444" stroke-width="0.6"/>
<text x="37.70" y="429.00" text-anchor="end" transform="rotate(-90 37.70 429.00)">BCL11A</text>
<rect x="41.50" y="349.17" width="10.00" height="67.23" fill="#a9c1e6" stroke="#555" stroke-width="0.5"/>
<line x1="46.50" y1="424.50" x2="46.50" y2="426.30" stroke="#444" stroke-width="0.6"/>
<text x="48.80" y="429.00" text-anchor="end" transform="rotate(-90 48.80 429.00)">SOX</text>
<rect x="52.60" y="353.22" width="10.00" height="63.18" fill="#a9c1e6" stroke="#555" stroke-width="0.5"/>
<line x1="57.60" y1="424.50" x2="57.60" y2="426.30" stroke="#444" stroke-width="0.6"/>
<text x="59.90" y="429.00" text-anchor="end" transform="rotate(-90 59.90 429.00)">FOX</text>
<rect x="63.70" y="398.22" width="10.00" height="18.18" fill="#a9c1e6" stroke="#555" stroke-width="0.5"/>
<line x1="68.70" y1="424.50" x2="68.70" y2="426.30" stroke="#444" stroke-width="0.6"/>
<text x="71.00" y="429.00" text-anchor="end" transform="rotate(-90 71.00 429.00)">RUNX</text>
<rect x="74.80" y="411.69" width="10.00" height="4.71" fill="#a9c1e6" stroke="#555" stroke-width="0.5"/>
<line x1="79.80" y1="424.50" x2="79.80" y2="426.30" stroke="#444" stroke-width="0.6"/>
<text x="82.10" y="429.00" text-anchor="end" transform="rotate(-90 82.10 429.00)">SNAI/MESP</text>
<rect x="85.90" y="411.95" width="10.00" height="4.45" fill="#a9c1e6" stroke="#555" stroke-width="0.5"/>
<line x1="90.90" y1="424.50" x2="90.90" y2="426.30" stroke="#444" stroke-width="0.6"/>
<text x="93.20" y="429.00" text-anchor="end" transform="rotate(-90 93.20 429.00)">Retinoid</text>
<rect x="97.00" y="413.00" width="10.00" height="3.40" fill="#a9c1e6" stroke="#555" stroke-width="0.5"/>
<line x1="102.00" y1="424.50" x2="102.00" y2="426.30" stroke="#444" stroke-width="0.6"/>
<text x="104.30" y="429.00" text-anchor="end" transform="rotate(-90 104.30 429.00)">ESRR</text>
<rect x="108.10" y="415.75" width="10.00" height="0.65" fill="#a9c1e6" stroke="#555" stroke-width="0.5"/>
<line x1="113.10" y1="424.50" x2="113.10" y2="426.30" stroke="#444" stroke-width="0.6"/>
<text x="115.40" y="429.00" text-anchor="end" transform="rotate(-90 115.40 429.00)">HNF4/PPAR</text>
<rect x="119.20" y="415.80" width="10.00" height="0.60" fill="#a9c1e6" stroke="#555" stroke-width="0.5"/>
<line x1="124.20" y1="424.50" x2="124.20" y2="426.30" stroke="#444" stroke-width="0.6"/>
<text x="126.50" y="429.00" text-anchor="end" transform="rotate(-90 126.50 429.00)">ETS</text>
<rect x="130.30" y="415.80" width="10.00" height="0.60" fill="#a9c1e6" stroke="#555" stroke-width="0.5"/>
<line x1="135.30" y1="424.50" x2="135.30" y2="426.30" stroke="#444" stroke-width="0.6"/>
<text x="137.60" y="429.00" text-anchor="end" transform="rotate(-90 137.60 429.00)">NF-κB/REL</text>
<rect x="141.40" y="415.80" width="10.00" height="0.60" fill="#a9c1e6" stroke="#555" stroke-width="0.5"/>
<line x1="146.40" y1="424.50" x2="146.40" y2="426.30" stroke="#444" stroke-width="0.6"/>
<text x="148.70" y="429.00" text-anchor="end" transform="rotate(-90 148.70 429.00)">HOX/CDX</text>
<rect x="152.50" y="415.80" width="10.00" height="0.60" fill="#a9c1e6" stroke="#555" stroke-width="0.5"/>
<line x1="157.50" y1="424.50" x2="157.50" y2="426.30" stroke="#444" stroke-width="0.6"/>
<text x="159.80" y="429.00" text-anchor="end" transform="rotate(-90 159.80 429.00)">NFI</text>
<rect x="163.60" y="415.80" width="10.00" height="0.60" fill="#a9c1e6" stroke="#555" stroke-width="0.5"/>
<line x1="168.60" y1="424.50" x2="168.60" y2="426.30" stroke="#444" stroke-width="0.6"/>
<text x="170.90" y="429.00" text-anchor="end" transform="rotate(-90 170.90 429.00)">KLF</text>
<rect x="174.70" y="415.80" width="10.00" height="0.60" fill="#a9c1e6" stroke="#555" stroke-width="0.5"/>
<line x1="179.70" y1="424.50" x2="179.70" y2="426.30" stroke="#444" stroke-width="0.6"/>
<text x="182.00" y="429.00" text-anchor="end" transform="rotate(-90 182.00 429.00)">CTCF</text>
<text x="6.10" y="381.45" text-anchor="middle" transform="rotate(-90 6.10 381.45)">AP-1 cobinding disruption</text>
<text x="249.00" y="281.00" font-size="11" fill="#000" font-weight="bold">e</text>
<text x="356.00" y="283.50" text-anchor="middle">Human IBD organoids</text>
<path d="M299.90,312.40 C296.40,307.40 306.50,306.30 307.50,300.30" fill="none" stroke="#333" stroke-width="0.6"/>
<path d="M339.30,312.40 C342.80,307.40 333.70,306.30 332.70,300.30" fill="none" stroke="#333" stroke-width="0.6"/>
<line x1="310.00" y1="320.00" x2="330.00" y2="320.00" stroke="#333" stroke-width="0.7"/>
<ellipse cx="304.90" cy="317.80" rx="6.20" ry="6.57" fill="#8b8d91" stroke="#333" stroke-width="0.5"/>
<ellipse cx="335.30" cy="317.80" rx="6.20" ry="6.57" fill="#8b8d91" stroke="#333" stroke-width="0.5"/>
<text x="302.00" y="333.00" text-anchor="middle">AP-1</text>
<ellipse cx="316.30" cy="330.50" rx="4.60" ry="3.30" fill="#f7e600" stroke="#555" stroke-width="0.4"/>
<ellipse cx="328.80" cy="330.00" rx="2.60" ry="3.70" fill="#a0388e" stroke="#555" stroke-width="0.4"/>
<text x="333.80" y="333.00">TF</text>
<line x1="345.80" y1="319.50" x2="370.50" y2="319.50" stroke="#111" stroke-width="0.8"/>
<path d="M374.30,319.50 L370.50,321.30 L370.50,317.70 Z" fill="#111"/>
<text x="346.30" y="310.80">IBD</text>
<ellipse cx="365.60" cy="300.20" rx="1.50" ry="1.70" fill="#cdc8e0"/>
<path d="M363.3,302.3 L367.9,302.3 L370.3,308.5 L369.2,309 L367.6,305.5 L367.8,310.5 L368.8,317.8 L367,317.8 L365.8,311.5 L364.6,317.8 L362.8,317.8 L363.6,310.5 L363.6,305.5 L361.8,309 L360.8,308.5 Z" fill="#cdc8e0"/>
<path d="M378.70,312.40 C375.20,307.40 385.30,306.30 386.30,300.30" fill="none" stroke="#333" stroke-width="0.6"/>
<path d="M420.30,312.40 C423.80,307.40 413.60,306.30 412.60,300.30" fill="none" stroke="#333" stroke-width="0.6"/>
<ellipse cx="383.70" cy="317.80" rx="6.20" ry="6.57" fill="#8b8d91" stroke="#333" stroke-width="0.5"/>
<ellipse cx="414.40" cy="317.80" rx="6.20" ry="6.57" fill="#8b8d91" stroke="#333" stroke-width="0.5"/>
<ellipse cx="396.60" cy="319.00" rx="4.60" ry="3.30" fill="#f7e600" stroke="#555" stroke-width="0.4"/>
<ellipse cx="403.90" cy="318.00" rx="2.50" ry="3.70" fill="#a0388e" stroke="#555" stroke-width="0.4"/>
<path d="M389,330.5 C388.8,327 389.5,325 391.5,323.5" fill="none" stroke="#333" stroke-width="0.6"/>
<path d="M392.8,322.6 L392,325.4 L390.2,323.6 Z" fill="#333"/>
<path d="M410,330.5 C410.2,327 409.5,325 407.5,323.5" fill="none" stroke="#333" stroke-width="0.6"/>
<path d="M406.2,322.6 L408.8,323.6 L407,325.4 Z" fill="#333"/>
<text x="462.00" y="334.50" text-anchor="middle">Correlated</text>
<text x="462.00" y="342.50" text-anchor="middle">gain</text>
<line x1="458.50" y1="401.00" x2="458.50" y2="350.50" stroke="#111" stroke-width="0.8"/>
<path d="M458.50,346.50 L460.40,350.50 L456.60,350.50 Z" fill="#111"/>
<text x="458.00" y="410.00" text-anchor="middle">Anti- or</text>
<text x="458.00" y="418.00" text-anchor="middle">uncorrelated</text>
<text x="458.00" y="426.00" text-anchor="middle">gain</text>
<line x1="278.50" y1="337.00" x2="278.50" y2="425.50" stroke="#444" stroke-width="0.6"/>
<line x1="278.50" y1="425.50" x2="433.00" y2="425.50" stroke="#444" stroke-width="0.6"/>
<line x1="276.70" y1="352.30" x2="278.50" y2="352.30" stroke="#444" stroke-width="0.6"/>
<text x="273.90" y="354.60" text-anchor="end">0.50</text>
<line x1="276.70" y1="385.40" x2="278.50" y2="385.40" stroke="#444" stroke-width="0.6"/>
<text x="273.90" y="387.70" text-anchor="end">0.25</text>
<line x1="276.70" y1="418.50" x2="278.50" y2="418.50" stroke="#444" stroke-width="0.6"/>
<text x="273.90" y="420.80" text-anchor="end">≤0</text>
<rect x="279.70" y="347.00" width="10.00" height="71.50" fill="#a9c1e6" stroke="#555" stroke-width="0.5"/>
<line x1="284.70" y1="425.50" x2="284.70" y2="427.30" stroke="#444" stroke-width="0.6"/>
<text x="287.00" y="430.00" text-anchor="end" transform="rotate(-90 287.00 430.00)">HOX/CDX</text>
<rect x="290.70" y="361.57" width="10.00" height="56.93" fill="#a9c1e6" stroke="#555" stroke-width="0.5"/>
<line x1="295.70" y1="425.50" x2="295.70" y2="427.30" stroke="#444" stroke-width="0.6"/>
<text x="298.00" y="430.00" text-anchor="end" transform="rotate(-90 298.00 430.00)">FOX</text>
<rect x="301.70" y="379.18" width="10.00" height="39.32" fill="#a9c1e6" stroke="#555" stroke-width="0.5"/>
<line x1="306.70" y1="425.50" x2="306.70" y2="427.30" stroke="#444" stroke-width="0.6"/>
<text x="309.00" y="430.00" text-anchor="end" transform="rotate(-90 309.00 430.00)">ESRR</text>
<rect x="312.70" y="404.33" width="10.00" height="14.17" fill="#a9c1e6" stroke="#555" stroke-width="0.5"/>
<line x1="317.70" y1="425.50" x2="317.70" y2="427.30" stroke="#444" stroke-width="0.6"/>
<text x="320.00" y="430.00" text-anchor="end" transform="rotate(-90 320.00 430.00)">SNAI/MESP</text>
<rect x="323.70" y="410.42" width="10.00" height="8.08" fill="#a9c1e6" stroke="#555" stroke-width="0.5"/>
<line x1="328.70" y1="425.50" x2="328.70" y2="427.30" stroke="#444" stroke-width="0.6"/>
<text x="331.00" y="430.00" text-anchor="end" transform="rotate(-90 331.00 430.00)">BCL11A</text>
<rect x="334.70" y="414.00" width="10.00" height="4.50" fill="#a9c1e6" stroke="#555" stroke-width="0.5"/>
<line x1="339.70" y1="425.50" x2="339.70" y2="427.30" stroke="#444" stroke-width="0.6"/>
<text x="342.00" y="430.00" text-anchor="end" transform="rotate(-90 342.00 430.00)">RUNX</text>
<rect x="345.70" y="415.98" width="10.00" height="2.52" fill="#a9c1e6" stroke="#555" stroke-width="0.5"/>
<line x1="350.70" y1="425.50" x2="350.70" y2="427.30" stroke="#444" stroke-width="0.6"/>
<text x="353.00" y="430.00" text-anchor="end" transform="rotate(-90 353.00 430.00)">Retinoid</text>
<rect x="356.70" y="417.57" width="10.00" height="0.93" fill="#a9c1e6" stroke="#555" stroke-width="0.5"/>
<line x1="361.70" y1="425.50" x2="361.70" y2="427.30" stroke="#444" stroke-width="0.6"/>
<text x="364.00" y="430.00" text-anchor="end" transform="rotate(-90 364.00 430.00)">SOX</text>
<rect x="367.70" y="417.90" width="10.00" height="0.60" fill="#a9c1e6" stroke="#555" stroke-width="0.5"/>
<line x1="372.70" y1="425.50" x2="372.70" y2="427.30" stroke="#444" stroke-width="0.6"/>
<text x="375.00" y="430.00" text-anchor="end" transform="rotate(-90 375.00 430.00)">NF-κB/REL</text>
<rect x="378.70" y="417.90" width="10.00" height="0.60" fill="#a9c1e6" stroke="#555" stroke-width="0.5"/>
<line x1="383.70" y1="425.50" x2="383.70" y2="427.30" stroke="#444" stroke-width="0.6"/>
<text x="386.00" y="430.00" text-anchor="end" transform="rotate(-90 386.00 430.00)">HNF4/PPAR</text>
<rect x="389.70" y="417.90" width="10.00" height="0.60" fill="#a9c1e6" stroke="#555" stroke-width="0.5"/>
<line x1="394.70" y1="425.50" x2="394.70" y2="427.30" stroke="#444" stroke-width="0.6"/>
<text x="397.00" y="430.00" text-anchor="end" transform="rotate(-90 397.00 430.00)">ETS</text>
<rect x="400.70" y="417.90" width="10.00" height="0.60" fill="#a9c1e6" stroke="#555" stroke-width="0.5"/>
<line x1="405.70" y1="425.50" x2="405.70" y2="427.30" stroke="#444" stroke-width="0.6"/>
<text x="408.00" y="430.00" text-anchor="end" transform="rotate(-90 408.00 430.00)">NFI</text>
<rect x="411.70" y="417.90" width="10.00" height="0.60" fill="#a9c1e6" stroke="#555" stroke-width="0.5"/>
<line x1="416.70" y1="425.50" x2="416.70" y2="427.30" stroke="#444" stroke-width="0.6"/>
<text x="419.00" y="430.00" text-anchor="end" transform="rotate(-90 419.00 430.00)">KLF</text>
<rect x="422.70" y="417.90" width="10.00" height="0.60" fill="#a9c1e6" stroke="#555" stroke-width="0.5"/>
<line x1="427.70" y1="425.50" x2="427.70" y2="427.30" stroke="#444" stroke-width="0.6"/>
<text x="430.00" y="430.00" text-anchor="end" transform="rotate(-90 430.00 430.00)">CTCF</text>
<text x="255.10" y="382.25" text-anchor="middle" transform="rotate(-90 255.10 382.25)">AP-1 cobinding gain</text>
<text x="501.20" y="280.80" font-size="11" fill="#000" font-weight="bold">f</text>
<text x="602.50" y="283.50" text-anchor="middle">AP-1 cobinding</text>
<line x1="534.50" y1="287.00" x2="534.50" y2="425.50" stroke="#444" stroke-width="0.6"/>
<line x1="534.50" y1="425.50" x2="671.00" y2="425.50" stroke="#444" stroke-width="0.6"/>
<line x1="532.70" y1="325.60" x2="534.50" y2="325.60" stroke="#444" stroke-width="0.6"/>
<text x="531.50" y="327.90" text-anchor="end">0.4</text>
<line x1="633.40" y1="425.50" x2="633.40" y2="427.30" stroke="#444" stroke-width="0.6"/>
<text x="633.40" y="436.00" text-anchor="middle">0.4</text>
<line x1="532.70" y1="372.20" x2="534.50" y2="372.20" stroke="#444" stroke-width="0.6"/>
<text x="531.50" y="374.50" text-anchor="end">0.2</text>
<line x1="587.00" y1="425.50" x2="587.00" y2="427.30" stroke="#444" stroke-width="0.6"/>
<text x="587.00" y="436.00" text-anchor="middle">0.2</text>
<line x1="532.70" y1="418.80" x2="534.50" y2="418.80" stroke="#444" stroke-width="0.6"/>
<text x="531.50" y="421.10" text-anchor="end">≤0</text>
<line x1="540.60" y1="425.50" x2="540.60" y2="427.30" stroke="#444" stroke-width="0.6"/>
<text x="540.60" y="436.00" text-anchor="middle">≤0</text>
<text x="602.50" y="445.50" text-anchor="middle">Mouse organoid AP-1 inhibition</text>
<text x="602.50" y="453.30" text-anchor="middle">cobinding disruption</text>
<text x="507.60" y="356.50" text-anchor="middle" transform="rotate(-90 507.60 356.50)">Human IBD organoid</text>
<text x="514.40" y="356.50" text-anchor="middle" transform="rotate(-90 514.40 356.50)">AP-1 cobinding</text>
<line x1="548.50" y1="415.00" x2="559.00" y2="399.70" stroke="#222" stroke-width="0.5"/>
<line x1="550.00" y1="415.50" x2="556.00" y2="414.50" stroke="#222" stroke-width="0.5"/>
<line x1="574.00" y1="411.30" x2="584.00" y2="404.00" stroke="#222" stroke-width="0.5"/>
<line x1="544.00" y1="418.00" x2="587.00" y2="416.50" stroke="#222" stroke-width="0.5"/>
<line x1="544.00" y1="419.50" x2="556.00" y2="420.50" stroke="#222" stroke-width="0.5"/>
<line x1="540.50" y1="417.00" x2="536.50" y2="404.00" stroke="#222" stroke-width="0.5"/>
<line x1="540.80" y1="416.00" x2="538.60" y2="405.50" stroke="#222" stroke-width="0.5"/>
<line x1="541.50" y1="416.00" x2="543.80" y2="410.00" stroke="#222" stroke-width="0.5"/>
<ellipse cx="540.60" cy="292.60" rx="1.75" ry="1.75" fill="#111"/>
<ellipse cx="547.00" cy="349.00" rx="1.75" ry="1.75" fill="#111"/>
<ellipse cx="548.50" cy="394.30" rx="1.75" ry="1.75" fill="#111"/>
<ellipse cx="665.00" cy="404.70" rx="1.75" ry="1.75" fill="#111"/>
<ellipse cx="660.00" cy="417.20" rx="1.75" ry="1.75" fill="#111"/>
<ellipse cx="573.00" cy="411.60" rx="1.75" ry="1.75" fill="#111"/>
<ellipse cx="548.00" cy="415.00" rx="1.75" ry="1.75" fill="#111"/>
<ellipse cx="540.60" cy="418.30" rx="1.75" ry="1.75" fill="#111"/>
<ellipse cx="542.00" cy="418.50" rx="1.75" ry="1.75" fill="#111"/>
<ellipse cx="541.00" cy="417.50" rx="1.75" ry="1.75" fill="#111"/>
<ellipse cx="543.50" cy="418.00" rx="1.75" ry="1.75" fill="#111"/>
<ellipse cx="541.50" cy="419.20" rx="1.75" ry="1.75" fill="#111"/>
<ellipse cx="653.00" cy="318.70" rx="3.00" ry="3.00" fill="#e0242b" stroke="#222" stroke-width="0.5"/>
<text x="545.00" y="295.00">HOX/CDX</text>
<text x="653.00" y="313.50" text-anchor="middle">FOX</text>
<text x="541.00" y="344.50">ESRR</text>
<text x="540.00" y="390.30">SNAI/MESP</text>
<text x="556.50" y="397.50">Retinoid</text>
<text x="585.00" y="404.50">RUNX</text>
<text x="556.50" y="407.00">NF-κB/</text>
<text x="558.50" y="414.50">REL</text>
<text x="588.00" y="419.00">NR1/2</text>
<text x="557.00" y="423.00">CTCF</text>
<text x="534.00" y="404.00">KLF</text>
<text x="538.00" y="410.00">ETS</text>
<text x="539.00" y="423.50">NFI</text>
<text x="640.00" y="400.50">BCL11A</text>
<text x="643.00" y="419.50">SOX</text>
<text x="-0.30" y="482.80" font-size="11" fill="#000" font-weight="bold">g</text>
<text x="62.00" y="484.50" text-anchor="middle">In vitro binding assay</text>
<text x="37.50" y="499.00" text-anchor="end">Naked DNA</text>
<text x="37.50" y="507.00" text-anchor="end">top 63</text>
<text x="37.50" y="515.00" text-anchor="end">genomic loci</text>
<path d="M48,493.5 C50,497 46,500 43,503 C40,506 40.5,510.5 43.5,512.2 C50,513.8 62,513.5 72,513.2 C77,513 80.5,511.5 81.5,508.5 C82.5,504.5 80,501 77,498.5 C75,496.5 74.5,494.5 75,493" fill="none" stroke="#222" stroke-width="0.6"/>
<rect x="57.40" y="512.00" width="6.20" height="3.00" fill="#111"/>
<text x="60.00" y="524.00" text-anchor="middle">AP-1 only or</text>
<text x="60.50" y="532.00" text-anchor="middle">AP-1:FOX composite motif</text>
<line x1="61.40" y1="537.60" x2="61.40" y2="556.10" stroke="#222" stroke-width="0.7"/>
<path d="M61.40,559.50 L59.70,556.10 L63.10,556.10 Z" fill="#222"/>
<path d="M61.5,548 C62,545 66,544.5 76,544.5" fill="none" stroke="#333" stroke-width="0.6"/>
<ellipse cx="81.30" cy="542.60" rx="4.30" ry="3.20" fill="#f7e600" stroke="#555" stroke-width="0.4"/>
<ellipse cx="81.30" cy="554.00" rx="2.40" ry="3.30" fill="#a0388e" stroke="#555" stroke-width="0.4"/>
<text x="88.50" y="545.30">AP-1</text>
<text x="89.00" y="556.50">FOX</text>
<path d="M48,563 C50,566.5 46,569.5 43,572.5 C40,575.5 40.5,579.5 43.5,581.2 C50,582.5 62,582.2 72,582 C77,581.8 80.5,580.5 81.5,577.5 C82.5,573.5 80,570 77,567.5 C75,565.5 74.5,564 75,562.5" fill="none" stroke="#222" stroke-width="0.6"/>
<ellipse cx="58.70" cy="581.70" rx="4.50" ry="3.30" fill="#f7e600" stroke="#555" stroke-width="0.4"/>
<ellipse cx="66.20" cy="580.70" rx="2.50" ry="3.50" fill="#a0388e" stroke="#555" stroke-width="0.4"/>
<line x1="61.40" y1="590.00" x2="61.40" y2="608.60" stroke="#222" stroke-width="0.7"/>
<path d="M61.40,612.00 L59.70,608.60 L63.10,608.60 Z" fill="#222"/>
<text x="66.00" y="603.30">Footprinting</text>
<text x="25.00" y="626.50" text-anchor="middle">Tn5</text>
<text x="38.70" y="634.50" text-anchor="end">insertions</text>
<path d="M43.00,636.80 L43.00,636.43 L43.25,636.35 L43.50,636.32 L43.75,636.23 L44.00,636.30 L44.25,635.15 L44.50,633.78 L44.75,635.46 L45.00,636.19 L45.25,636.41 L45.50,636.03 L45.75,631.91 L46.00,623.52 L46.25,632.12 L46.50,636.27 L46.75,636.45 L47.01,636.72 L47.26,635.16 L47.51,632.63 L47.76,634.88 L48.01,636.28 L48.26,636.70 L48.51,636.32 L48.76,636.72 L49.01,636.43 L49.26,636.52 L49.51,634.06 L49.76,631.55 L50.01,635.62 L50.26,636.64 L50.51,636.21 L50.76,636.28 L51.01,636.63 L51.26,636.22 L51.51,636.44 L51.76,635.61 L52.01,634.68 L52.26,635.58 L52.51,636.36 L52.76,636.22 L53.01,636.26 L53.26,636.62 L53.51,636.52 L53.76,635.50 L54.01,633.72 L54.26,635.80 L54.51,636.58 L54.76,636.44 L55.02,636.80 L55.27,636.39 L55.52,636.47 L55.77,634.16 L56.02,630.34 L56.27,634.63 L56.52,636.42 L56.77,636.03 L57.02,631.21 L57.27,618.08 L57.52,627.48 L57.77,633.07 L58.02,632.35 L58.27,624.48 L58.52,631.32 L58.77,634.57 L59.02,633.80 L59.27,626.59 L59.52,632.28 L59.77,636.50 L60.02,636.67 L60.27,636.19 L60.52,636.59 L60.77,634.63 L61.02,632.28 L61.27,635.05 L61.52,636.33 L61.77,636.21 L62.02,635.96 L62.27,632.85 L62.52,628.81 L62.77,634.02 L63.03,634.67 L63.28,629.70 L63.53,621.94 L63.78,631.91 L64.03,633.04 L64.28,619.43 L64.53,619.53 L64.78,630.77 L65.03,630.60 L65.28,618.39 L65.53,628.79 L65.78,629.67 L66.03,622.97 L66.28,616.84 L66.53,630.07 L66.78,629.46 L67.03,620.62 L67.28,630.85 L67.53,631.93 L67.78,627.16 L68.03,615.54 L68.28,630.73 L68.53,634.10 L68.78,630.20 L69.03,622.69 L69.28,632.52 L69.53,635.61 L69.78,631.89 L70.03,626.95 L70.28,633.58 L70.53,635.41 L70.78,632.75 L71.04,628.46 L71.29,633.62 L71.54,632.77 L71.79,630.54 L72.04,624.68 L72.29,632.49 L72.54,633.27 L72.79,633.61 L73.04,628.90 L73.29,625.72 L73.54,634.77 L73.79,632.67 L74.04,628.40 L74.29,634.25 L74.54,636.06 L74.79,634.58 L75.04,632.61 L75.29,635.35 L75.54,636.48 L75.79,636.62 L76.04,636.56 L76.29,636.71 L76.54,636.51 L76.79,635.22 L77.04,634.28 L77.29,635.93 L77.54,636.48 L77.79,636.60 L78.04,636.75 L78.29,636.64 L78.54,636.28 L78.79,635.52 L79.05,635.13 L79.30,635.97 L79.55,636.32 L79.80,636.38 L80.05,636.40 L80.30,636.34 L80.55,636.55 L80.80,635.87 L81.05,635.67 L81.30,636.27 L81.55,636.33 L81.80,636.39 L82.05,636.62 L82.30,636.23 L82.55,636.41 L82.80,636.45 L82.80,636.80 Z" fill="#1e1e1e"/>
<path d="M88.00,636.80 L88.00,636.78 L88.25,636.74 L88.50,636.52 L88.75,630.85 L89.00,620.30 L89.25,630.85 L89.50,633.97 L89.75,633.13 L90.00,628.80 L90.25,633.13 L90.50,633.97 L90.75,633.20 L91.00,626.80 L91.25,633.20 L91.50,636.62 L91.75,635.00 L92.00,631.80 L92.25,635.00 L92.50,636.72 L92.50,636.80 Z" fill="#1e1e1e"/>
<text x="35.30" y="652.80" text-anchor="end">In vitro</text>
<text x="35.30" y="660.80" text-anchor="end">binding</text>
<text x="35.30" y="668.60" text-anchor="end">score</text>
<line x1="43.00" y1="663.30" x2="86.00" y2="663.30" stroke="#333" stroke-width="0.7"/>
<path d="M55.00,663.10 L55.00,663.10 L55.25,663.10 L55.50,663.10 L55.75,663.10 L56.00,663.10 L56.25,663.10 L56.50,663.10 L56.75,663.10 L57.00,663.10 L57.25,663.09 L57.50,663.06 L57.75,662.99 L58.00,662.83 L58.25,662.46 L58.50,661.75 L58.75,660.50 L59.00,658.56 L59.25,655.92 L59.50,652.79 L59.75,649.68 L60.00,647.25 L60.25,646.13 L60.50,646.62 L60.75,645.79 L61.00,644.80 L61.25,645.79 L61.50,646.62 L61.75,646.13 L62.00,647.25 L62.25,649.68 L62.50,652.79 L62.75,655.92 L63.00,658.56 L63.25,660.50 L63.50,661.75 L63.75,662.46 L64.00,662.83 L64.25,662.99 L64.50,663.06 L64.75,663.09 L65.00,663.10 L65.25,663.10 L65.50,663.10 L65.75,663.10 L66.00,663.10 L66.25,663.10 L66.50,663.10 L66.75,663.10 L67.00,663.10 L67.00,663.10 Z" fill="#2a72b5"/>
<line x1="93.20" y1="504.00" x2="135.90" y2="521.04" stroke="#222" stroke-width="0.7"/>
<path d="M139.80,522.60 L135.16,522.90 L136.64,519.19 Z" fill="#222"/>
<line x1="88.00" y1="655.00" x2="109.76" y2="632.79" stroke="#222" stroke-width="0.7"/>
<path d="M112.00,630.50 L110.83,633.84 L108.69,631.74 Z" fill="#222"/>
<text x="121.50" y="483.00" font-size="11" fill="#000" font-weight="bold">h</text>
<text x="196.00" y="486.00" text-anchor="end" font-style="italic">Cd47</text>
<line x1="198.60" y1="483.60" x2="316.20" y2="483.60" stroke="#6b6fcf" stroke-width="0.8"/>
<path d="M200.00,482.3 L201.30,483.6 L200.00,484.9" fill="none" stroke="#6b6fcf" stroke-width="0.5"/>
<path d="M204.20,482.3 L205.50,483.6 L204.20,484.9" fill="none" stroke="#6b6fcf" stroke-width="0.5"/>
<path d="M208.40,482.3 L209.70,483.6 L208.40,484.9" fill="none" stroke="#6b6fcf" stroke-width="0.5"/>
<path d="M212.60,482.3 L213.90,483.6 L212.60,484.9" fill="none" stroke="#6b6fcf" stroke-width="0.5"/>
<path d="M216.80,482.3 L218.10,483.6 L216.80,484.9" fill="none" stroke="#6b6fcf" stroke-width="0.5"/>
<path d="M221.00,482.3 L222.30,483.6 L221.00,484.9" fill="none" stroke="#6b6fcf" stroke-width="0.5"/>
<path d="M225.20,482.3 L226.50,483.6 L225.20,484.9" fill="none" stroke="#6b6fcf" stroke-width="0.5"/>
<path d="M229.40,482.3 L230.70,483.6 L229.40,484.9" fill="none" stroke="#6b6fcf" stroke-width="0.5"/>
<path d="M233.60,482.3 L234.90,483.6 L233.60,484.9" fill="none" stroke="#6b6fcf" stroke-width="0.5"/>
<path d="M237.80,482.3 L239.10,483.6 L237.80,484.9" fill="none" stroke="#6b6fcf" stroke-width="0.5"/>
<path d="M242.00,482.3 L243.30,483.6 L242.00,484.9" fill="none" stroke="#6b6fcf" stroke-width="0.5"/>
<path d="M246.20,482.3 L247.50,483.6 L246.20,484.9" fill="none" stroke="#6b6fcf" stroke-width="0.5"/>
<path d="M250.40,482.3 L251.70,483.6 L250.40,484.9" fill="none" stroke="#6b6fcf" stroke-width="0.5"/>
<path d="M254.60,482.3 L255.90,483.6 L254.60,484.9" fill="none" stroke="#6b6fcf" stroke-width="0.5"/>
<path d="M258.80,482.3 L260.10,483.6 L258.80,484.9" fill="none" stroke="#6b6fcf" stroke-width="0.5"/>
<path d="M263.00,482.3 L264.30,483.6 L263.00,484.9" fill="none" stroke="#6b6fcf" stroke-width="0.5"/>
<path d="M267.20,482.3 L268.50,483.6 L267.20,484.9" fill="none" stroke="#6b6fcf" stroke-width="0.5"/>
<path d="M271.40,482.3 L272.70,483.6 L271.40,484.9" fill="none" stroke="#6b6fcf" stroke-width="0.5"/>
<path d="M275.60,482.3 L276.90,483.6 L275.60,484.9" fill="none" stroke="#6b6fcf" stroke-width="0.5"/>
<path d="M279.80,482.3 L281.10,483.6 L279.80,484.9" fill="none" stroke="#6b6fcf" stroke-width="0.5"/>
<path d="M284.00,482.3 L285.30,483.6 L284.00,484.9" fill="none" stroke="#6b6fcf" stroke-width="0.5"/>
<path d="M288.20,482.3 L289.50,483.6 L288.20,484.9" fill="none" stroke="#6b6fcf" stroke-width="0.5"/>
<path d="M292.40,482.3 L293.70,483.6 L292.40,484.9" fill="none" stroke="#6b6fcf" stroke-width="0.5"/>
<path d="M296.60,482.3 L297.90,483.6 L296.60,484.9" fill="none" stroke="#6b6fcf" stroke-width="0.5"/>
<path d="M300.80,482.3 L302.10,483.6 L300.80,484.9" fill="none" stroke="#6b6fcf" stroke-width="0.5"/>
<path d="M305.00,482.3 L306.30,483.6 L305.00,484.9" fill="none" stroke="#6b6fcf" stroke-width="0.5"/>
<path d="M309.20,482.3 L310.50,483.6 L309.20,484.9" fill="none" stroke="#6b6fcf" stroke-width="0.5"/>
<path d="M313.40,482.3 L314.70,483.6 L313.40,484.9" fill="none" stroke="#6b6fcf" stroke-width="0.5"/>
<text x="208.60" y="492.30">chr. 16:49.859 Mb |</text>
<text x="267.60" y="499.70">100 bp</text>
<line x1="291.70" y1="497.40" x2="315.80" y2="497.40" stroke="#444" stroke-width="0.6"/>
<line x1="291.70" y1="496.00" x2="291.70" y2="498.80" stroke="#444" stroke-width="0.6"/>
<line x1="315.80" y1="496.00" x2="315.80" y2="498.80" stroke="#444" stroke-width="0.6"/>
<rect x="196.40" y="503.30" width="119.80" height="23.00" fill="none" stroke="#777" stroke-width="0.5"/>
<rect x="196.40" y="536.30" width="119.80" height="23.00" fill="none" stroke="#777" stroke-width="0.5"/>
<text x="198.00" y="510.00">Control</text>
<text x="198.00" y="543.00">Recovered</text>
<text x="194.00" y="507.50" text-anchor="end">0.5</text>
<text x="194.00" y="525.50" text-anchor="end">0.2</text>
<text x="194.00" y="540.50" text-anchor="end">0.5</text>
<text x="194.00" y="558.50" text-anchor="end">0.2</text>
<line x1="180.70" y1="503.00" x2="180.70" y2="558.00" stroke="#333" stroke-width="0.7"/>
<text x="176.70" y="520.50" text-anchor="end">In vivo</text>
<text x="176.70" y="528.60" text-anchor="end">footprint</text>
<text x="176.70" y="536.60" text-anchor="end">score</text>
<line x1="260.60" y1="522.00" x2="260.60" y2="526.00" stroke="#e8b0c0" stroke-width="0.6"/>
<line x1="273.00" y1="522.50" x2="273.00" y2="526.00" stroke="#cccccc" stroke-width="0.6"/>
<rect x="248.50" y="558.00" width="1.00" height="1.30" fill="#d0245a"/>
<rect x="251.00" y="557.00" width="1.00" height="2.30" fill="#d0245a"/>
<rect x="255.00" y="554.50" width="1.00" height="4.80" fill="#d0245a"/>
<rect x="256.50" y="551.00" width="1.00" height="8.30" fill="#d0245a"/>
<rect x="259.00" y="552.00" width="1.00" height="7.30" fill="#d0245a"/>
<rect x="260.10" y="543.00" width="1.00" height="16.30" fill="#f0a8bc"/>
<rect x="261.00" y="547.00" width="1.00" height="12.30" fill="#d0245a"/>
<rect x="262.30" y="553.00" width="1.00" height="6.30" fill="#d0245a"/>
<rect x="264.00" y="556.00" width="1.00" height="3.30" fill="#d0245a"/>
<rect x="266.00" y="554.00" width="1.00" height="5.30" fill="#d0245a"/>
<rect x="268.30" y="549.50" width="1.00" height="9.80" fill="#d0245a"/>
<rect x="269.30" y="552.00" width="1.00" height="7.30" fill="#d0245a"/>
<rect x="271.00" y="556.00" width="1.00" height="3.30" fill="#d0245a"/>
<rect x="272.50" y="543.00" width="1.00" height="16.30" fill="#d0245a"/>
<rect x="273.50" y="546.00" width="1.00" height="13.30" fill="#d0245a"/>
<rect x="274.70" y="553.00" width="1.00" height="6.30" fill="#d0245a"/>
<rect x="276.50" y="557.00" width="1.00" height="2.30" fill="#d0245a"/>
<rect x="281.50" y="558.00" width="1.00" height="1.30" fill="#d0245a"/>
<rect x="259.30" y="501.00" width="24.10" height="65.30" fill="none" stroke="#444" stroke-width="0.6" stroke-dasharray="1.6,1.2"/>
<text x="223.00" y="567.50">AP-1</text>
<line x1="240.00" y1="565.20" x2="271.50" y2="564.60" stroke="#222" stroke-width="0.6"/>
<rect x="271.50" y="562.20" width="2.80" height="4.80" fill="#111"/>
<line x1="196.40" y1="577.30" x2="259.30" y2="566.30" stroke="#444" stroke-width="0.6" stroke-dasharray="2,1.5"/>
<line x1="283.40" y1="566.30" x2="316.00" y2="577.00" stroke="#444" stroke-width="0.6" stroke-dasharray="2,1.5"/>
<rect x="196.80" y="579.00" width="119.40" height="24.60" fill="none" stroke="#888" stroke-width="0.5"/>
<line x1="196.80" y1="579.00" x2="316.20" y2="579.00" stroke="#bbb" stroke-width="0.8"/>
<text x="194.00" y="583.80" text-anchor="end">50</text>
<text x="194.00" y="605.10" text-anchor="end">0</text>
<text x="179.50" y="593.80" text-anchor="end">FOXP1</text>
<rect x="196.80" y="608.60" width="119.40" height="24.80" fill="none" stroke="#888" stroke-width="0.5"/>
<line x1="196.80" y1="608.60" x2="316.20" y2="608.60" stroke="#bbb" stroke-width="0.8"/>
<text x="194.00" y="613.40" text-anchor="end">50</text>
<text x="194.00" y="634.90" text-anchor="end">0</text>
<text x="179.50" y="623.50" text-anchor="end">FOS/JUN</text>
<rect x="196.80" y="638.00" width="119.40" height="24.50" fill="none" stroke="#888" stroke-width="0.5"/>
<line x1="196.80" y1="638.00" x2="316.20" y2="638.00" stroke="#bbb" stroke-width="0.8"/>
<text x="194.00" y="642.80" text-anchor="end">50</text>
<text x="194.00" y="664.00" text-anchor="end">0</text>
<text x="179.50" y="649.25" text-anchor="end">FOS/JUN</text>
<text x="179.50" y="656.75" text-anchor="end">+ FOXP1</text>
<line x1="147.80" y1="579.00" x2="147.80" y2="663.00" stroke="#333" stroke-width="0.7"/>
<text x="143.50" y="614.00" text-anchor="end">In vitro</text>
<text x="143.50" y="621.70" text-anchor="end">binding</text>
<text x="143.50" y="629.50" text-anchor="end">score</text>
<line x1="205.00" y1="603.20" x2="305.00" y2="603.20" stroke="#3a86c8" stroke-width="0.5" opacity="0.6"/>
<rect x="213.00" y="602.60" width="3.00" height="0.80" fill="#3a86c8" opacity="0.7"/>
<rect x="231.00" y="602.60" width="3.00" height="0.80" fill="#3a86c8" opacity="0.7"/>
<rect x="247.00" y="602.60" width="3.00" height="0.80" fill="#3a86c8" opacity="0.7"/>
<rect x="262.00" y="602.60" width="3.00" height="0.80" fill="#3a86c8" opacity="0.7"/>
<rect x="278.00" y="602.60" width="3.00" height="0.80" fill="#3a86c8" opacity="0.7"/>
<path d="M244.00,633.20 L244.00,633.10 L244.25,632.97 L244.50,633.04 L244.75,632.94 L245.00,632.92 L245.25,633.14 L245.50,633.15 L245.75,632.80 L246.00,633.00 L246.25,632.98 L246.50,632.64 L246.75,632.80 L247.00,632.59 L247.25,632.66 L247.50,632.51 L247.75,632.60 L248.00,632.29 L248.25,632.05 L248.50,632.04 L248.75,631.78 L249.00,631.62 L249.25,631.66 L249.50,631.17 L249.75,631.02 L250.00,630.92 L250.25,630.82 L250.50,630.29 L250.75,630.27 L251.00,630.01 L251.25,629.82 L251.50,629.79 L251.75,629.65 L252.00,629.84 L252.25,629.70 L252.50,629.90 L252.75,629.80 L253.00,629.95 L253.25,630.42 L253.50,630.58 L253.75,630.75 L254.00,630.66 L254.25,631.08 L254.50,631.01 L254.75,630.90 L255.00,630.57 L255.25,630.39 L255.50,630.18 L255.75,629.88 L256.00,629.70 L256.25,629.43 L256.50,629.42 L256.75,629.25 L257.00,629.26 L257.25,629.23 L257.50,629.42 L257.75,629.73 L258.00,629.59 L258.25,629.73 L258.50,629.96 L258.75,630.31 L259.00,630.49 L259.25,630.93 L259.50,630.93 L259.75,631.26 L260.00,631.52 L260.25,631.36 L260.50,630.78 L260.75,630.48 L261.00,630.62 L261.25,630.14 L261.50,630.16 L261.75,630.17 L262.00,630.08 L262.25,629.92 L262.50,629.97 L262.75,630.45 L263.00,630.41 L263.25,630.86 L263.50,630.83 L263.75,631.25 L264.00,631.29 L264.25,631.50 L264.50,631.92 L264.75,631.93 L265.00,632.39 L265.25,632.63 L265.50,632.55 L265.75,632.89 L266.00,632.90 L266.25,632.88 L266.50,632.85 L266.75,633.06 L267.00,633.13 L267.25,632.82 L267.50,633.05 L267.75,632.80 L268.00,632.83 L268.25,633.04 L268.50,633.01 L268.75,632.99 L269.00,632.94 L269.25,632.96 L269.50,632.98 L269.75,632.95 L270.00,632.82 L270.25,633.00 L270.50,633.03 L270.75,632.91 L271.00,633.10 L271.00,633.20 Z" fill="#3a86c8"/>
<path d="M241.00,662.30 L241.00,662.11 L241.25,662.21 L241.50,661.98 L241.75,662.16 L242.00,662.21 L242.25,661.91 L242.50,661.43 L242.75,661.42 L243.00,661.28 L243.25,661.47 L243.50,660.90 L243.75,660.71 L244.00,660.34 L244.25,659.95 L244.50,659.48 L244.75,658.65 L245.00,658.64 L245.25,658.75 L245.50,659.01 L245.75,659.88 L246.00,659.56 L246.25,657.99 L246.50,656.32 L246.75,654.55 L247.00,653.03 L247.25,652.61 L247.50,651.82 L247.75,652.14 L248.00,653.33 L248.25,655.09 L248.50,652.21 L248.75,649.51 L249.00,646.13 L249.25,644.29 L249.50,643.86 L249.75,644.74 L250.00,646.15 L250.25,647.00 L250.50,643.60 L250.75,641.42 L251.00,640.89 L251.25,641.76 L251.50,643.82 L251.75,647.12 L252.00,645.03 L252.25,642.81 L252.50,641.65 L252.75,643.02 L253.00,645.12 L253.25,647.67 L253.50,647.94 L253.75,646.00 L254.00,645.42 L254.25,646.15 L254.50,647.36 L254.75,650.48 L255.00,651.99 L255.25,649.06 L255.50,645.94 L255.75,644.28 L256.00,643.52 L256.25,643.90 L256.50,646.19 L256.75,647.72 L257.00,644.44 L257.25,642.98 L257.50,642.25 L257.75,642.87 L258.00,644.55 L258.25,647.67 L258.50,645.83 L258.75,643.75 L259.00,643.16 L259.25,643.65 L259.50,645.98 L259.75,648.32 L260.00,651.33 L260.25,650.94 L260.50,648.86 L260.75,647.10 L261.00,647.29 L261.25,647.64 L261.50,648.67 L261.75,651.08 L262.00,653.88 L262.25,654.75 L262.50,653.86 L262.75,652.92 L263.00,653.07 L263.25,653.42 L263.50,654.00 L263.75,655.40 L264.00,656.54 L264.25,657.41 L264.50,659.06 L264.75,658.73 L265.00,658.21 L265.25,657.78 L265.50,657.17 L265.75,657.62 L266.00,658.01 L266.25,658.66 L266.50,658.54 L266.75,659.60 L267.00,660.36 L267.25,660.98 L267.50,661.28 L267.75,660.95 L268.00,660.31 L268.25,660.51 L268.50,660.42 L268.75,659.95 L269.00,660.10 L269.25,659.54 L269.50,660.36 L269.75,660.21 L270.00,660.23 L270.25,660.76 L270.50,660.54 L270.75,661.17 L271.00,661.55 L271.25,661.58 L271.50,662.00 L271.75,661.79 L272.00,661.99 L272.25,661.52 L272.50,661.60 L272.75,661.88 L273.00,662.26 L273.25,662.09 L273.50,662.10 L273.75,662.13 L274.00,662.11 L274.25,661.60 L274.50,662.19 L274.75,662.26 L275.00,661.56 L275.00,662.30 Z" fill="#3a86c8"/>
<rect x="312.00" y="661.50" width="4.00" height="1.00" fill="#3a86c8"/>
<text x="212.00" y="672.50" text-anchor="middle">−50 bp</text>
<text x="239.00" y="672.50" text-anchor="middle">AP-1</text>
<rect x="252.00" y="666.30" width="8.00" height="6.50" fill="#f7e600" stroke="#444" stroke-width="0.4"/>
<rect x="264.40" y="666.30" width="8.00" height="6.50" fill="#a0388e" stroke="#444" stroke-width="0.4"/>
<text x="273.00" y="672.50">FOX</text>
<text x="299.00" y="672.50" text-anchor="middle">50 bp</text>
<text x="325.30" y="483.00" font-size="11" fill="#000" font-weight="bold">i</text>
<text x="431.00" y="484.50" text-anchor="middle">Effect on AP-1 binding</text>
<line x1="364.50" y1="499.00" x2="364.50" y2="604.50" stroke="#444" stroke-width="0.6"/>
<line x1="364.50" y1="604.50" x2="498.30" y2="604.50" stroke="#444" stroke-width="0.6"/>
<line x1="362.70" y1="507.40" x2="364.50" y2="507.40" stroke="#444" stroke-width="0.6"/>
<text x="359.30" y="509.70" text-anchor="end">10.0</text>
<line x1="362.70" y1="530.38" x2="364.50" y2="530.38" stroke="#444" stroke-width="0.6"/>
<text x="359.30" y="532.67" text-anchor="end">7.5</text>
<line x1="362.70" y1="553.35" x2="364.50" y2="553.35" stroke="#444" stroke-width="0.6"/>
<text x="359.30" y="555.65" text-anchor="end">5.0</text>
<line x1="362.70" y1="576.32" x2="364.50" y2="576.32" stroke="#444" stroke-width="0.6"/>
<text x="359.30" y="578.62" text-anchor="end">2.5</text>
<line x1="362.70" y1="599.30" x2="364.50" y2="599.30" stroke="#444" stroke-width="0.6"/>
<text x="359.30" y="601.60" text-anchor="end">0</text>
<rect x="366.40" y="597.00" width="4.30" height="2.30" fill="#f7e600" stroke="#555" stroke-width="0.3"/>
<line x1="368.55" y1="597.74" x2="368.55" y2="596.27" stroke="#222" stroke-width="0.5"/>
<line x1="367.60" y1="596.27" x2="369.50" y2="596.27" stroke="#222" stroke-width="0.5"/>
<rect x="370.70" y="598.38" width="4.30" height="0.92" fill="#a0388e" stroke="#555" stroke-width="0.3"/>
<line x1="372.85" y1="598.66" x2="372.85" y2="598.11" stroke="#222" stroke-width="0.5"/>
<line x1="371.90" y1="598.11" x2="373.80" y2="598.11" stroke="#222" stroke-width="0.5"/>
<line x1="370.70" y1="604.50" x2="370.70" y2="606.30" stroke="#444" stroke-width="0.6"/>
<rect x="377.50" y="597.46" width="4.30" height="1.84" fill="#f7e600" stroke="#555" stroke-width="0.3"/>
<line x1="379.65" y1="597.92" x2="379.65" y2="597.00" stroke="#222" stroke-width="0.5"/>
<line x1="378.70" y1="597.00" x2="380.60" y2="597.00" stroke="#222" stroke-width="0.5"/>
<rect x="381.80" y="598.38" width="4.30" height="0.92" fill="#a0388e" stroke="#555" stroke-width="0.3"/>
<line x1="383.95" y1="598.66" x2="383.95" y2="598.11" stroke="#222" stroke-width="0.5"/>
<line x1="383.00" y1="598.11" x2="384.90" y2="598.11" stroke="#222" stroke-width="0.5"/>
<line x1="381.80" y1="604.50" x2="381.80" y2="606.30" stroke="#444" stroke-width="0.6"/>
<rect x="388.20" y="593.33" width="4.30" height="5.97" fill="#f7e600" stroke="#555" stroke-width="0.3"/>
<line x1="390.35" y1="594.25" x2="390.35" y2="592.41" stroke="#222" stroke-width="0.5"/>
<line x1="389.40" y1="592.41" x2="391.30" y2="592.41" stroke="#222" stroke-width="0.5"/>
<rect x="392.50" y="593.79" width="4.30" height="5.51" fill="#a0388e" stroke="#555" stroke-width="0.3"/>
<line x1="394.65" y1="594.52" x2="394.65" y2="593.05" stroke="#222" stroke-width="0.5"/>
<line x1="393.70" y1="593.05" x2="395.60" y2="593.05" stroke="#222" stroke-width="0.5"/>
<line x1="392.50" y1="604.50" x2="392.50" y2="606.30" stroke="#444" stroke-width="0.6"/>
<rect x="399.30" y="590.11" width="4.30" height="9.19" fill="#f7e600" stroke="#555" stroke-width="0.3"/>
<line x1="401.45" y1="590.57" x2="401.45" y2="589.65" stroke="#222" stroke-width="0.5"/>
<line x1="400.50" y1="589.65" x2="402.40" y2="589.65" stroke="#222" stroke-width="0.5"/>
<rect x="403.60" y="590.11" width="4.30" height="9.19" fill="#a0388e" stroke="#555" stroke-width="0.3"/>
<line x1="405.75" y1="590.57" x2="405.75" y2="589.65" stroke="#222" stroke-width="0.5"/>
<line x1="404.80" y1="589.65" x2="406.70" y2="589.65" stroke="#222" stroke-width="0.5"/>
<line x1="403.60" y1="604.50" x2="403.60" y2="606.30" stroke="#444" stroke-width="0.6"/>
<rect x="410.30" y="583.68" width="4.30" height="15.62" fill="#f7e600" stroke="#555" stroke-width="0.3"/>
<line x1="412.45" y1="585.06" x2="412.45" y2="582.30" stroke="#222" stroke-width="0.5"/>
<line x1="411.50" y1="582.30" x2="413.40" y2="582.30" stroke="#222" stroke-width="0.5"/>
<rect x="414.60" y="569.89" width="4.30" height="29.41" fill="#a0388e" stroke="#555" stroke-width="0.3"/>
<line x1="416.75" y1="571.27" x2="416.75" y2="568.51" stroke="#222" stroke-width="0.5"/>
<line x1="415.80" y1="568.51" x2="417.70" y2="568.51" stroke="#222" stroke-width="0.5"/>
<line x1="414.60" y1="604.50" x2="414.60" y2="606.30" stroke="#444" stroke-width="0.6"/>
<rect x="421.60" y="516.59" width="4.30" height="82.71" fill="#f7e600" stroke="#555" stroke-width="0.3"/>
<line x1="423.75" y1="529.46" x2="423.75" y2="503.72" stroke="#222" stroke-width="0.5"/>
<line x1="422.80" y1="503.72" x2="424.70" y2="503.72" stroke="#222" stroke-width="0.5"/>
<rect x="425.90" y="523.02" width="4.30" height="76.28" fill="#a0388e" stroke="#555" stroke-width="0.3"/>
<line x1="428.05" y1="530.38" x2="428.05" y2="515.67" stroke="#222" stroke-width="0.5"/>
<line x1="427.10" y1="515.67" x2="429.00" y2="515.67" stroke="#222" stroke-width="0.5"/>
<line x1="425.90" y1="604.50" x2="425.90" y2="606.30" stroke="#444" stroke-width="0.6"/>
<rect x="432.10" y="597.00" width="4.30" height="2.30" fill="#f7e600" stroke="#555" stroke-width="0.3"/>
<line x1="434.25" y1="597.46" x2="434.25" y2="596.54" stroke="#222" stroke-width="0.5"/>
<line x1="433.30" y1="596.54" x2="435.20" y2="596.54" stroke="#222" stroke-width="0.5"/>
<rect x="436.40" y="590.11" width="4.30" height="9.19" fill="#a0388e" stroke="#555" stroke-width="0.3"/>
<line x1="438.55" y1="591.03" x2="438.55" y2="589.19" stroke="#222" stroke-width="0.5"/>
<line x1="437.60" y1="589.19" x2="439.50" y2="589.19" stroke="#222" stroke-width="0.5"/>
<line x1="436.40" y1="604.50" x2="436.40" y2="606.30" stroke="#444" stroke-width="0.6"/>
<rect x="443.10" y="595.62" width="4.30" height="3.68" fill="#f7e600" stroke="#555" stroke-width="0.3"/>
<line x1="445.25" y1="596.08" x2="445.25" y2="595.16" stroke="#222" stroke-width="0.5"/>
<line x1="444.30" y1="595.16" x2="446.20" y2="595.16" stroke="#222" stroke-width="0.5"/>
<rect x="447.40" y="595.16" width="4.30" height="4.14" fill="#a0388e" stroke="#555" stroke-width="0.3"/>
<line x1="449.55" y1="595.62" x2="449.55" y2="594.70" stroke="#222" stroke-width="0.5"/>
<line x1="448.60" y1="594.70" x2="450.50" y2="594.70" stroke="#222" stroke-width="0.5"/>
<line x1="447.40" y1="604.50" x2="447.40" y2="606.30" stroke="#444" stroke-width="0.6"/>
<rect x="454.40" y="597.46" width="4.30" height="1.84" fill="#f7e600" stroke="#555" stroke-width="0.3"/>
<line x1="456.55" y1="597.92" x2="456.55" y2="597.00" stroke="#222" stroke-width="0.5"/>
<line x1="455.60" y1="597.00" x2="457.50" y2="597.00" stroke="#222" stroke-width="0.5"/>
<rect x="458.70" y="590.11" width="4.30" height="9.19" fill="#a0388e" stroke="#555" stroke-width="0.3"/>
<line x1="460.85" y1="591.03" x2="460.85" y2="589.19" stroke="#222" stroke-width="0.5"/>
<line x1="459.90" y1="589.19" x2="461.80" y2="589.19" stroke="#222" stroke-width="0.5"/>
<line x1="458.70" y1="604.50" x2="458.70" y2="606.30" stroke="#444" stroke-width="0.6"/>
<rect x="465.50" y="596.08" width="4.30" height="3.22" fill="#f7e600" stroke="#555" stroke-width="0.3"/>
<line x1="467.65" y1="596.54" x2="467.65" y2="595.62" stroke="#222" stroke-width="0.5"/>
<line x1="466.70" y1="595.62" x2="468.60" y2="595.62" stroke="#222" stroke-width="0.5"/>
<rect x="469.80" y="595.16" width="4.30" height="4.14" fill="#a0388e" stroke="#555" stroke-width="0.3"/>
<line x1="471.95" y1="595.62" x2="471.95" y2="594.70" stroke="#222" stroke-width="0.5"/>
<line x1="471.00" y1="594.70" x2="472.90" y2="594.70" stroke="#222" stroke-width="0.5"/>
<line x1="469.80" y1="604.50" x2="469.80" y2="606.30" stroke="#444" stroke-width="0.6"/>
<rect x="476.20" y="590.11" width="4.30" height="9.19" fill="#f7e600" stroke="#555" stroke-width="0.3"/>
<line x1="478.35" y1="591.03" x2="478.35" y2="589.19" stroke="#222" stroke-width="0.5"/>
<line x1="477.40" y1="589.19" x2="479.30" y2="589.19" stroke="#222" stroke-width="0.5"/>
<rect x="480.50" y="574.49" width="4.30" height="24.81" fill="#a0388e" stroke="#555" stroke-width="0.3"/>
<line x1="482.65" y1="576.32" x2="482.65" y2="572.65" stroke="#222" stroke-width="0.5"/>
<line x1="481.70" y1="572.65" x2="483.60" y2="572.65" stroke="#222" stroke-width="0.5"/>
<line x1="480.50" y1="604.50" x2="480.50" y2="606.30" stroke="#444" stroke-width="0.6"/>
<rect x="487.30" y="551.51" width="4.30" height="47.79" fill="#f7e600" stroke="#555" stroke-width="0.3"/>
<line x1="489.45" y1="560.70" x2="489.45" y2="542.32" stroke="#222" stroke-width="0.5"/>
<line x1="488.50" y1="542.32" x2="490.40" y2="542.32" stroke="#222" stroke-width="0.5"/>
<rect x="491.60" y="555.19" width="4.30" height="44.11" fill="#a0388e" stroke="#555" stroke-width="0.3"/>
<line x1="493.75" y1="559.78" x2="493.75" y2="550.59" stroke="#222" stroke-width="0.5"/>
<line x1="492.80" y1="550.59" x2="494.70" y2="550.59" stroke="#222" stroke-width="0.5"/>
<line x1="491.60" y1="604.50" x2="491.60" y2="606.30" stroke="#444" stroke-width="0.6"/>
<line x1="364.50" y1="590.11" x2="498.30" y2="590.11" stroke="#111" stroke-width="0.7" stroke-dasharray="2.3,1.5"/>
<text x="486.00" y="498.50" text-anchor="end">AP-1 motif only</text>
<rect x="490.00" y="491.40" width="10.00" height="9.30" fill="#f7e600" stroke="#444" stroke-width="0.4"/>
<text x="486.00" y="511.80" text-anchor="end">AP-1:FOX motif</text>
<rect x="490.00" y="504.70" width="10.00" height="9.30" fill="#a0388e" stroke="#444" stroke-width="0.4"/>
<text x="331.60" y="551.50" text-anchor="middle" transform="rotate(-90 331.60 551.50)">Relative AP-1 binding score</text>
<text x="339.40" y="551.50" text-anchor="middle" transform="rotate(-90 339.40 551.50)">(to FOS/JUN alone)</text>
<text x="359.00" y="617.00" text-anchor="end">FOS</text>
<text x="370.70" y="617.00" text-anchor="middle">–</text>
<text x="381.80" y="617.00" text-anchor="middle">+</text>
<text x="392.50" y="617.00" text-anchor="middle">–</text>
<text x="403.60" y="617.00" text-anchor="middle">+</text>
<text x="414.60" y="617.00" text-anchor="middle">+</text>
<text x="425.90" y="617.00" text-anchor="middle">+</text>
<text x="436.40" y="617.00" text-anchor="middle">–</text>
<text x="447.40" y="617.00" text-anchor="middle">–</text>
<text x="458.70" y="617.00" text-anchor="middle">+</text>
<text x="469.80" y="617.00" text-anchor="middle">+</text>
<text x="480.50" y="617.00" text-anchor="middle">–</text>
<text x="491.60" y="617.00" text-anchor="middle">–</text>
<text x="359.00" y="628.30" text-anchor="end">JUN</text>
<text x="370.70" y="628.30" text-anchor="middle">–</text>
<text x="381.80" y="628.30" text-anchor="middle">–</text>
<text x="392.50" y="628.30" text-anchor="middle">+</text>
<text x="403.60" y="628.30" text-anchor="middle">+</text>
<text x="414.60" y="628.30" text-anchor="middle">+</text>
<text x="425.90" y="628.30" text-anchor="middle">+</text>
<text x="436.40" y="628.30" text-anchor="middle">–</text>
<text x="447.40" y="628.30" text-anchor="middle">–</text>
<text x="458.70" y="628.30" text-anchor="middle">–</text>
<text x="469.80" y="628.30" text-anchor="middle">–</text>
<text x="480.50" y="628.30" text-anchor="middle">+</text>
<text x="491.60" y="628.30" text-anchor="middle">+</text>
<text x="359.00" y="639.30" text-anchor="end">FOXA1</text>
<text x="370.70" y="639.30" text-anchor="middle">–</text>
<text x="381.80" y="639.30" text-anchor="middle">–</text>
<text x="392.50" y="639.30" text-anchor="middle">–</text>
<text x="403.60" y="639.30" text-anchor="middle">–</text>
<text x="414.60" y="639.30" text-anchor="middle">+</text>
<text x="425.90" y="639.30" text-anchor="middle">–</text>
<text x="436.40" y="639.30" text-anchor="middle">+</text>
<text x="447.40" y="639.30" text-anchor="middle">–</text>
<text x="458.70" y="639.30" text-anchor="middle">–</text>
<text x="469.80" y="639.30" text-anchor="middle">–</text>
<text x="480.50" y="639.30" text-anchor="middle">+</text>
<text x="491.60" y="639.30" text-anchor="middle">–</text>
<text x="359.00" y="651.20" text-anchor="end">FOXP1</text>
<text x="370.70" y="651.20" text-anchor="middle">–</text>
<text x="381.80" y="651.20" text-anchor="middle">–</text>
<text x="392.50" y="651.20" text-anchor="middle">–</text>
<text x="403.60" y="651.20" text-anchor="middle">–</text>
<text x="414.60" y="651.20" text-anchor="middle">–</text>
<text x="425.90" y="651.20" text-anchor="middle">+</text>
<text x="436.40" y="651.20" text-anchor="middle">–</text>
<text x="447.40" y="651.20" text-anchor="middle">+</text>
<text x="458.70" y="651.20" text-anchor="middle">–</text>
<text x="469.80" y="651.20" text-anchor="middle">+</text>
<text x="480.50" y="651.20" text-anchor="middle">–</text>
<text x="491.60" y="651.20" text-anchor="middle">+</text>
<text x="431.00" y="661.80" text-anchor="middle">TF proteins present</text>
<text x="511.80" y="483.00" font-size="11" fill="#000" font-weight="bold">j</text>
<text x="560.00" y="493.80" text-anchor="middle">FOXP1 +</text>
<text x="560.00" y="501.50" text-anchor="middle">FOS/JUN</text>
<text x="638.50" y="494.50" text-anchor="middle">FOXP1 +</text>
<text x="638.50" y="502.30" text-anchor="middle">JUN only</text>
<path d="M536.50,611.18 L536.50,594.75 M538.24,609.31 L538.24,594.01 M539.99,606.60 L539.99,594.45 M541.73,603.41 L541.73,596.02 M543.48,600.18 L543.48,598.51 M545.22,597.31 L545.22,601.59 M546.96,595.19 L546.96,604.86 M548.71,594.11 L548.71,607.88 M550.45,594.20 L550.45,610.26 M552.19,595.44 L552.19,611.68 M553.94,597.69 L553.94,611.96 M555.68,600.64 L555.68,611.05 M557.42,603.89 L557.42,609.08 M559.17,607.03 L559.17,606.31 M560.91,609.64 L560.91,603.11 M562.66,611.37 L562.66,599.89 M564.40,612.00 L564.40,597.08 M566.14,611.44 L566.14,595.05 M567.89,609.77 L567.89,594.07 M569.63,607.20 L569.63,594.27 M571.38,604.08 L571.38,595.62 M573.12,600.82 L573.12,597.94 M574.86,597.85 L574.86,600.93 M576.61,595.55 L576.61,604.20 M578.35,594.24 L578.35,607.30 M580.09,594.08 L580.09,609.84 M581.84,595.10 L581.84,611.48 " stroke="#8a8a8a" stroke-width="0.35" fill="none"/>
<polyline points="536.50,611.18 537.08,610.67 537.66,610.04 538.24,609.31 538.83,608.48 539.41,607.57 539.99,606.60 540.57,605.57 541.15,604.50 541.73,603.41 542.31,602.32 542.89,601.23 543.48,600.18 544.06,599.16 544.64,598.20 545.22,597.31 545.80,596.51 546.38,595.80 546.96,595.19 547.54,594.71 548.12,594.34 548.71,594.11 549.29,594.01 549.87,594.03 550.45,594.20 551.03,594.49 551.61,594.91 552.19,595.44 552.77,596.09 553.36,596.85 553.94,597.69 554.52,598.61 555.10,599.60 555.68,600.64 556.26,601.71 556.84,602.80 557.42,603.89 558.01,604.97 558.59,606.03 559.17,607.03 559.75,607.98 560.33,608.85 560.91,609.64 561.49,610.33 562.08,610.91 562.66,611.37 563.24,611.71 563.82,611.92 564.40,612.00 564.98,611.94 565.56,611.76 566.14,611.44 566.73,611.00 567.31,610.44 567.89,609.77 568.47,609.00 569.05,608.14 569.63,607.20 570.21,606.20 570.79,605.16 571.38,604.08 571.96,602.99 572.54,601.90 573.12,600.82 573.70,599.78 574.28,598.78 574.86,597.85 575.44,596.99 576.02,596.22 576.61,595.55 577.19,594.99 577.77,594.55 578.35,594.24 578.93,594.05 579.51,594.00 580.09,594.08 580.67,594.29 581.26,594.64 581.84,595.10 582.42,595.68 583.00,596.37" fill="none" stroke="#2a2a2a" stroke-width="1.0"/>
<polyline points="536.50,594.75 537.08,594.38 537.66,594.13 538.24,594.01 538.83,594.03 539.41,594.17 539.99,594.45 540.57,594.86 541.15,595.38 541.73,596.02 542.31,596.76 542.89,597.60 543.48,598.51 544.06,599.49 544.64,600.52 545.22,601.59 545.80,602.68 546.38,603.78 546.96,604.86 547.54,605.91 548.12,606.93 548.71,607.88 549.29,608.76 549.87,609.56 550.45,610.26 551.03,610.85 551.61,611.33 552.19,611.68 552.77,611.91 553.36,612.00 553.94,611.96 554.52,611.78 555.10,611.48 555.68,611.05 556.26,610.50 556.84,609.84 557.42,609.08 558.01,608.23 558.59,607.31 559.17,606.31 559.75,605.27 560.33,604.20 560.91,603.11 561.49,602.01 562.08,600.93 562.66,599.89 563.24,598.88 563.82,597.94 564.40,597.08 564.98,596.30 565.56,595.62 566.14,595.05 566.73,594.59 567.31,594.27 567.89,594.07 568.47,594.00 569.05,594.07 569.63,594.27 570.21,594.59 570.79,595.05 571.38,595.62 571.96,596.30 572.54,597.07 573.12,597.94 573.70,598.88 574.28,599.88 574.86,600.93 575.44,602.01 576.02,603.11 576.61,604.20 577.19,605.27 577.77,606.31 578.35,607.30 578.93,608.23 579.51,609.08 580.09,609.84 580.67,610.50 581.26,611.05 581.84,611.48 582.42,611.78 583.00,611.96" fill="none" stroke="#2a2a2a" stroke-width="1.0"/>
<path d="M533,584 C534,577 542,574 549,576 C555,575 561,580 560,587 C562,593 558,598 551,597 C545,599 538,598 534,594 C531,591 531,587 533,584 Z" fill="#f0d850" stroke="#5e4c06" stroke-width="0.3" fill-opacity="0.5" stroke-opacity="0.5"/>
<line x1="535.45" y1="586.75" x2="535.52" y2="584.26" stroke="#b89a12" stroke-width="0.66"/><line x1="537.25" y1="586.15" x2="537.32" y2="583.66" stroke="#b89a12" stroke-width="0.66"/><line x1="539.05" y1="585.55" x2="539.12" y2="583.06" stroke="#b89a12" stroke-width="0.66"/><line x1="540.85" y1="584.95" x2="540.92" y2="582.46" stroke="#b89a12" stroke-width="0.66"/><line x1="542.65" y1="584.35" x2="542.72" y2="581.86" stroke="#b89a12" stroke-width="0.66"/><line x1="544.45" y1="583.75" x2="544.52" y2="581.26" stroke="#b89a12" stroke-width="0.66"/><line x1="546.25" y1="583.15" x2="546.32" y2="580.66" stroke="#b89a12" stroke-width="0.66"/><line x1="548.05" y1="582.55" x2="548.12" y2="580.06" stroke="#b89a12" stroke-width="0.66"/><line x1="549.85" y1="581.95" x2="549.92" y2="579.46" stroke="#b89a12" stroke-width="0.66"/><line x1="551.65" y1="581.35" x2="551.72" y2="578.86" stroke="#b89a12" stroke-width="0.66"/><ellipse cx="534.90" cy="585.70" rx="0.80" ry="1.43" transform="rotate(-40.4 534.90 585.70)" fill="#f0d21e" stroke="#5e4c06" stroke-width="0.25"/><ellipse cx="536.70" cy="585.10" rx="0.80" ry="1.43" transform="rotate(-40.4 536.70 585.10)" fill="#f0d21e" stroke="#5e4c06" stroke-width="0.25"/><ellipse cx="538.50" cy="584.50" rx="0.80" ry="1.43" transform="rotate(-40.4 538.50 584.50)" fill="#f0d21e" stroke="#5e4c06" stroke-width="0.25"/><ellipse cx="540.30" cy="583.90" rx="0.80" ry="1.43" transform="rotate(-40.4 540.30 583.90)" fill="#f0d21e" stroke="#5e4c06" stroke-width="0.25"/><ellipse cx="542.10" cy="583.30" rx="0.80" ry="1.43" transform="rotate(-40.4 542.10 583.30)" fill="#f0d21e" stroke="#5e4c06" stroke-width="0.25"/><ellipse cx="543.90" cy="582.70" rx="0.80" ry="1.43" transform="rotate(-40.4 543.90 582.70)" fill="#f0d21e" stroke="#5e4c06" stroke-width="0.25"/><ellipse cx="545.70" cy="582.10" rx="0.80" ry="1.43" transform="rotate(-40.4 545.70 582.10)" fill="#f0d21e" stroke="#5e4c06" stroke-width="0.25"/><ellipse cx="547.50" cy="581.50" rx="0.80" ry="1.43" transform="rotate(-40.4 547.50 581.50)" fill="#f0d21e" stroke="#5e4c06" stroke-width="0.25"/><ellipse cx="549.30" cy="580.90" rx="0.80" ry="1.43" transform="rotate(-40.4 549.30 580.90)" fill="#f0d21e" stroke="#5e4c06" stroke-width="0.25"/><ellipse cx="551.10" cy="580.30" rx="0.80" ry="1.43" transform="rotate(-40.4 551.10 580.30)" fill="#f0d21e" stroke="#5e4c06" stroke-width="0.25"/>
<line x1="539.20" y1="590.95" x2="539.77" y2="588.72" stroke="#b89a12" stroke-width="0.63"/><line x1="541.00" y1="590.75" x2="541.57" y2="588.52" stroke="#b89a12" stroke-width="0.63"/><line x1="542.80" y1="590.55" x2="543.37" y2="588.32" stroke="#b89a12" stroke-width="0.63"/><line x1="544.60" y1="590.35" x2="545.17" y2="588.12" stroke="#b89a12" stroke-width="0.63"/><line x1="546.40" y1="590.15" x2="546.97" y2="587.92" stroke="#b89a12" stroke-width="0.63"/><line x1="548.20" y1="589.95" x2="548.77" y2="587.72" stroke="#b89a12" stroke-width="0.63"/><line x1="550.00" y1="589.75" x2="550.57" y2="587.52" stroke="#b89a12" stroke-width="0.63"/><line x1="551.80" y1="589.55" x2="552.37" y2="587.32" stroke="#b89a12" stroke-width="0.63"/><line x1="553.60" y1="589.35" x2="554.17" y2="587.12" stroke="#b89a12" stroke-width="0.63"/><line x1="555.40" y1="589.15" x2="555.97" y2="586.92" stroke="#b89a12" stroke-width="0.63"/><ellipse cx="538.90" cy="589.90" rx="0.76" ry="1.32" transform="rotate(-28.3 538.90 589.90)" fill="#f0d21e" stroke="#5e4c06" stroke-width="0.25"/><ellipse cx="540.70" cy="589.70" rx="0.76" ry="1.32" transform="rotate(-28.3 540.70 589.70)" fill="#f0d21e" stroke="#5e4c06" stroke-width="0.25"/><ellipse cx="542.50" cy="589.50" rx="0.76" ry="1.32" transform="rotate(-28.3 542.50 589.50)" fill="#f0d21e" stroke="#5e4c06" stroke-width="0.25"/><ellipse cx="544.30" cy="589.30" rx="0.76" ry="1.32" transform="rotate(-28.3 544.30 589.30)" fill="#f0d21e" stroke="#5e4c06" stroke-width="0.25"/><ellipse cx="546.10" cy="589.10" rx="0.76" ry="1.32" transform="rotate(-28.3 546.10 589.10)" fill="#f0d21e" stroke="#5e4c06" stroke-width="0.25"/><ellipse cx="547.90" cy="588.90" rx="0.76" ry="1.32" transform="rotate(-28.3 547.90 588.90)" fill="#f0d21e" stroke="#5e4c06" stroke-width="0.25"/><ellipse cx="549.70" cy="588.70" rx="0.76" ry="1.32" transform="rotate(-28.3 549.70 588.70)" fill="#f0d21e" stroke="#5e4c06" stroke-width="0.25"/><ellipse cx="551.50" cy="588.50" rx="0.76" ry="1.32" transform="rotate(-28.3 551.50 588.50)" fill="#f0d21e" stroke="#5e4c06" stroke-width="0.25"/><ellipse cx="553.30" cy="588.30" rx="0.76" ry="1.32" transform="rotate(-28.3 553.30 588.30)" fill="#f0d21e" stroke="#5e4c06" stroke-width="0.25"/><ellipse cx="555.10" cy="588.10" rx="0.76" ry="1.32" transform="rotate(-28.3 555.10 588.10)" fill="#f0d21e" stroke="#5e4c06" stroke-width="0.25"/>
<line x1="541.61" y1="582.14" x2="541.03" y2="579.88" stroke="#b89a12" stroke-width="0.70"/><line x1="543.21" y1="580.94" x2="542.63" y2="578.68" stroke="#b89a12" stroke-width="0.70"/><line x1="544.81" y1="579.74" x2="544.23" y2="577.48" stroke="#b89a12" stroke-width="0.70"/><line x1="546.41" y1="578.54" x2="545.83" y2="576.28" stroke="#b89a12" stroke-width="0.70"/><line x1="548.01" y1="577.34" x2="547.43" y2="575.08" stroke="#b89a12" stroke-width="0.70"/><ellipse cx="540.80" cy="581.40" rx="0.84" ry="1.32" transform="rotate(-58.9 540.80 581.40)" fill="#f0d21e" stroke="#5e4c06" stroke-width="0.25"/><ellipse cx="542.40" cy="580.20" rx="0.84" ry="1.32" transform="rotate(-58.9 542.40 580.20)" fill="#f0d21e" stroke="#5e4c06" stroke-width="0.25"/><ellipse cx="544.00" cy="579.00" rx="0.84" ry="1.32" transform="rotate(-58.9 544.00 579.00)" fill="#f0d21e" stroke="#5e4c06" stroke-width="0.25"/><ellipse cx="545.60" cy="577.80" rx="0.84" ry="1.32" transform="rotate(-58.9 545.60 577.80)" fill="#f0d21e" stroke="#5e4c06" stroke-width="0.25"/><ellipse cx="547.20" cy="576.60" rx="0.84" ry="1.32" transform="rotate(-58.9 547.20 576.60)" fill="#f0d21e" stroke="#5e4c06" stroke-width="0.25"/>
<line x1="546.78" y1="593.25" x2="548.11" y2="591.57" stroke="#b89a12" stroke-width="0.64"/><line x1="548.53" y1="593.75" x2="549.86" y2="592.07" stroke="#b89a12" stroke-width="0.64"/><line x1="550.28" y1="594.25" x2="551.61" y2="592.57" stroke="#b89a12" stroke-width="0.64"/><line x1="552.03" y1="594.75" x2="553.36" y2="593.07" stroke="#b89a12" stroke-width="0.64"/><line x1="553.78" y1="595.25" x2="555.11" y2="593.57" stroke="#b89a12" stroke-width="0.64"/><line x1="555.53" y1="595.75" x2="556.86" y2="594.07" stroke="#b89a12" stroke-width="0.64"/><line x1="557.28" y1="596.25" x2="558.61" y2="594.57" stroke="#b89a12" stroke-width="0.64"/><line x1="559.03" y1="596.75" x2="560.36" y2="595.07" stroke="#b89a12" stroke-width="0.64"/><ellipse cx="546.88" cy="592.25" rx="0.76" ry="1.21" transform="rotate(-6.1 546.88 592.25)" fill="#f0d21e" stroke="#5e4c06" stroke-width="0.25"/><ellipse cx="548.62" cy="592.75" rx="0.76" ry="1.21" transform="rotate(-6.1 548.62 592.75)" fill="#f0d21e" stroke="#5e4c06" stroke-width="0.25"/><ellipse cx="550.38" cy="593.25" rx="0.76" ry="1.21" transform="rotate(-6.1 550.38 593.25)" fill="#f0d21e" stroke="#5e4c06" stroke-width="0.25"/><ellipse cx="552.12" cy="593.75" rx="0.76" ry="1.21" transform="rotate(-6.1 552.12 593.75)" fill="#f0d21e" stroke="#5e4c06" stroke-width="0.25"/><ellipse cx="553.88" cy="594.25" rx="0.76" ry="1.21" transform="rotate(-6.1 553.88 594.25)" fill="#f0d21e" stroke="#5e4c06" stroke-width="0.25"/><ellipse cx="555.62" cy="594.75" rx="0.76" ry="1.21" transform="rotate(-6.1 555.62 594.75)" fill="#f0d21e" stroke="#5e4c06" stroke-width="0.25"/><ellipse cx="557.38" cy="595.25" rx="0.76" ry="1.21" transform="rotate(-6.1 557.38 595.25)" fill="#f0d21e" stroke="#5e4c06" stroke-width="0.25"/><ellipse cx="559.12" cy="595.75" rx="0.76" ry="1.21" transform="rotate(-6.1 559.12 595.75)" fill="#f0d21e" stroke="#5e4c06" stroke-width="0.25"/>
<line x1="533.48" y1="593.36" x2="535.16" y2="592.29" stroke="#b89a12" stroke-width="0.66"/><line x1="535.08" y1="594.36" x2="536.76" y2="593.29" stroke="#b89a12" stroke-width="0.66"/><line x1="536.68" y1="595.36" x2="538.36" y2="594.29" stroke="#b89a12" stroke-width="0.66"/><line x1="538.28" y1="596.36" x2="539.96" y2="595.29" stroke="#b89a12" stroke-width="0.66"/><line x1="539.88" y1="597.36" x2="541.56" y2="596.29" stroke="#b89a12" stroke-width="0.66"/><ellipse cx="533.80" cy="592.50" rx="0.79" ry="1.10" transform="rotate(10.0 533.80 592.50)" fill="#f0d21e" stroke="#5e4c06" stroke-width="0.25"/><ellipse cx="535.40" cy="593.50" rx="0.79" ry="1.10" transform="rotate(10.0 535.40 593.50)" fill="#f0d21e" stroke="#5e4c06" stroke-width="0.25"/><ellipse cx="537.00" cy="594.50" rx="0.79" ry="1.10" transform="rotate(10.0 537.00 594.50)" fill="#f0d21e" stroke="#5e4c06" stroke-width="0.25"/><ellipse cx="538.60" cy="595.50" rx="0.79" ry="1.10" transform="rotate(10.0 538.60 595.50)" fill="#f0d21e" stroke="#5e4c06" stroke-width="0.25"/><ellipse cx="540.20" cy="596.50" rx="0.79" ry="1.10" transform="rotate(10.0 540.20 596.50)" fill="#f0d21e" stroke="#5e4c06" stroke-width="0.25"/>
<line x1="549.36" y1="579.51" x2="551.23" y2="578.14" stroke="#b89a12" stroke-width="0.65"/><line x1="550.93" y1="580.51" x2="552.80" y2="579.14" stroke="#b89a12" stroke-width="0.65"/><line x1="552.51" y1="581.51" x2="554.37" y2="580.14" stroke="#b89a12" stroke-width="0.65"/><line x1="554.08" y1="582.51" x2="555.94" y2="581.14" stroke="#b89a12" stroke-width="0.65"/><line x1="555.65" y1="583.51" x2="557.52" y2="582.14" stroke="#b89a12" stroke-width="0.65"/><line x1="557.22" y1="584.51" x2="559.09" y2="583.14" stroke="#b89a12" stroke-width="0.65"/><line x1="558.79" y1="585.51" x2="560.66" y2="584.14" stroke="#b89a12" stroke-width="0.65"/><ellipse cx="549.79" cy="578.50" rx="0.78" ry="1.32" transform="rotate(10.5 549.79 578.50)" fill="#f0d21e" stroke="#5e4c06" stroke-width="0.25"/><ellipse cx="551.36" cy="579.50" rx="0.78" ry="1.32" transform="rotate(10.5 551.36 579.50)" fill="#f0d21e" stroke="#5e4c06" stroke-width="0.25"/><ellipse cx="552.93" cy="580.50" rx="0.78" ry="1.32" transform="rotate(10.5 552.93 580.50)" fill="#f0d21e" stroke="#5e4c06" stroke-width="0.25"/><ellipse cx="554.50" cy="581.50" rx="0.78" ry="1.32" transform="rotate(10.5 554.50 581.50)" fill="#f0d21e" stroke="#5e4c06" stroke-width="0.25"/><ellipse cx="556.07" cy="582.50" rx="0.78" ry="1.32" transform="rotate(10.5 556.07 582.50)" fill="#f0d21e" stroke="#5e4c06" stroke-width="0.25"/><ellipse cx="557.64" cy="583.50" rx="0.78" ry="1.32" transform="rotate(10.5 557.64 583.50)" fill="#f0d21e" stroke="#5e4c06" stroke-width="0.25"/><ellipse cx="559.21" cy="584.50" rx="0.78" ry="1.32" transform="rotate(10.5 559.21 584.50)" fill="#f0d21e" stroke="#5e4c06" stroke-width="0.25"/>
<path d="M533,588 C536,583 545,583 548,589 M539,594 C545,590 552,594 556,591 M543,579 C547,584 552,583 556,580" fill="none" stroke="#5e4c06" stroke-width="0.5"/>
<line x1="535.10" y1="560.79" x2="538.83" y2="558.51" stroke="#b89a12" stroke-width="1.09"/><line x1="537.49" y1="562.79" x2="541.22" y2="560.51" stroke="#b89a12" stroke-width="1.09"/><line x1="539.87" y1="564.79" x2="543.60" y2="562.51" stroke="#b89a12" stroke-width="1.09"/><line x1="542.25" y1="566.79" x2="545.99" y2="564.51" stroke="#b89a12" stroke-width="1.09"/><line x1="544.64" y1="568.79" x2="548.37" y2="566.51" stroke="#b89a12" stroke-width="1.09"/><line x1="547.02" y1="570.79" x2="550.76" y2="568.51" stroke="#b89a12" stroke-width="1.09"/><line x1="549.41" y1="572.79" x2="553.14" y2="570.51" stroke="#b89a12" stroke-width="1.09"/><line x1="551.79" y1="574.79" x2="555.53" y2="572.51" stroke="#b89a12" stroke-width="1.09"/><line x1="554.18" y1="576.79" x2="557.91" y2="574.51" stroke="#b89a12" stroke-width="1.09"/><line x1="556.56" y1="578.79" x2="560.30" y2="576.51" stroke="#b89a12" stroke-width="1.09"/><line x1="558.95" y1="580.79" x2="562.68" y2="578.51" stroke="#b89a12" stroke-width="1.09"/><line x1="561.33" y1="582.79" x2="565.06" y2="580.51" stroke="#b89a12" stroke-width="1.09"/><line x1="563.72" y1="584.79" x2="567.45" y2="582.51" stroke="#b89a12" stroke-width="1.09"/><ellipse cx="536.19" cy="559.00" rx="1.31" ry="2.53" transform="rotate(18.0 536.19 559.00)" fill="#f0d21e" stroke="#5e4c06" stroke-width="0.25"/><ellipse cx="538.58" cy="561.00" rx="1.31" ry="2.53" transform="rotate(18.0 538.58 561.00)" fill="#f0d21e" stroke="#5e4c06" stroke-width="0.25"/><ellipse cx="540.96" cy="563.00" rx="1.31" ry="2.53" transform="rotate(18.0 540.96 563.00)" fill="#f0d21e" stroke="#5e4c06" stroke-width="0.25"/><ellipse cx="543.35" cy="565.00" rx="1.31" ry="2.53" transform="rotate(18.0 543.35 565.00)" fill="#f0d21e" stroke="#5e4c06" stroke-width="0.25"/><ellipse cx="545.73" cy="567.00" rx="1.31" ry="2.53" transform="rotate(18.0 545.73 567.00)" fill="#f0d21e" stroke="#5e4c06" stroke-width="0.25"/><ellipse cx="548.12" cy="569.00" rx="1.31" ry="2.53" transform="rotate(18.0 548.12 569.00)" fill="#f0d21e" stroke="#5e4c06" stroke-width="0.25"/><ellipse cx="550.50" cy="571.00" rx="1.31" ry="2.53" transform="rotate(18.0 550.50 571.00)" fill="#f0d21e" stroke="#5e4c06" stroke-width="0.25"/><ellipse cx="552.88" cy="573.00" rx="1.31" ry="2.53" transform="rotate(18.0 552.88 573.00)" fill="#f0d21e" stroke="#5e4c06" stroke-width="0.25"/><ellipse cx="555.27" cy="575.00" rx="1.31" ry="2.53" transform="rotate(18.0 555.27 575.00)" fill="#f0d21e" stroke="#5e4c06" stroke-width="0.25"/><ellipse cx="557.65" cy="577.00" rx="1.31" ry="2.53" transform="rotate(18.0 557.65 577.00)" fill="#f0d21e" stroke="#5e4c06" stroke-width="0.25"/><ellipse cx="560.04" cy="579.00" rx="1.31" ry="2.53" transform="rotate(18.0 560.04 579.00)" fill="#f0d21e" stroke="#5e4c06" stroke-width="0.25"/><ellipse cx="562.42" cy="581.00" rx="1.31" ry="2.53" transform="rotate(18.0 562.42 581.00)" fill="#f0d21e" stroke="#5e4c06" stroke-width="0.25"/><ellipse cx="564.81" cy="583.00" rx="1.31" ry="2.53" transform="rotate(18.0 564.81 583.00)" fill="#f0d21e" stroke="#5e4c06" stroke-width="0.25"/>
<line x1="515.80" y1="523.78" x2="519.76" y2="521.93" stroke="#b89a12" stroke-width="1.09"/><line x1="517.96" y1="526.03" x2="521.91" y2="524.18" stroke="#b89a12" stroke-width="1.09"/><line x1="520.11" y1="528.28" x2="524.07" y2="526.43" stroke="#b89a12" stroke-width="1.09"/><line x1="522.27" y1="530.53" x2="526.23" y2="528.68" stroke="#b89a12" stroke-width="1.09"/><line x1="524.42" y1="532.78" x2="528.38" y2="530.93" stroke="#b89a12" stroke-width="1.09"/><line x1="526.58" y1="535.03" x2="530.54" y2="533.18" stroke="#b89a12" stroke-width="1.09"/><line x1="528.74" y1="537.28" x2="532.70" y2="535.43" stroke="#b89a12" stroke-width="1.09"/><line x1="530.89" y1="539.53" x2="534.85" y2="537.68" stroke="#b89a12" stroke-width="1.09"/><line x1="533.05" y1="541.78" x2="537.01" y2="539.93" stroke="#b89a12" stroke-width="1.09"/><line x1="535.21" y1="544.03" x2="539.16" y2="542.18" stroke="#b89a12" stroke-width="1.09"/><line x1="537.36" y1="546.28" x2="541.32" y2="544.43" stroke="#b89a12" stroke-width="1.09"/><line x1="539.52" y1="548.53" x2="543.48" y2="546.68" stroke="#b89a12" stroke-width="1.09"/><line x1="541.67" y1="550.78" x2="545.63" y2="548.93" stroke="#b89a12" stroke-width="1.09"/><line x1="543.83" y1="553.03" x2="547.79" y2="551.18" stroke="#b89a12" stroke-width="1.09"/><line x1="545.99" y1="555.28" x2="549.95" y2="553.43" stroke="#b89a12" stroke-width="1.09"/><line x1="548.14" y1="557.53" x2="552.10" y2="555.68" stroke="#b89a12" stroke-width="1.09"/><ellipse cx="517.08" cy="522.12" rx="1.31" ry="2.53" transform="rotate(24.2 517.08 522.12)" fill="#f0d21e" stroke="#5e4c06" stroke-width="0.25"/><ellipse cx="519.23" cy="524.38" rx="1.31" ry="2.53" transform="rotate(24.2 519.23 524.38)" fill="#f0d21e" stroke="#5e4c06" stroke-width="0.25"/><ellipse cx="521.39" cy="526.62" rx="1.31" ry="2.53" transform="rotate(24.2 521.39 526.62)" fill="#f0d21e" stroke="#5e4c06" stroke-width="0.25"/><ellipse cx="523.55" cy="528.88" rx="1.31" ry="2.53" transform="rotate(24.2 523.55 528.88)" fill="#f0d21e" stroke="#5e4c06" stroke-width="0.25"/><ellipse cx="525.70" cy="531.12" rx="1.31" ry="2.53" transform="rotate(24.2 525.70 531.12)" fill="#f0d21e" stroke="#5e4c06" stroke-width="0.25"/><ellipse cx="527.86" cy="533.38" rx="1.31" ry="2.53" transform="rotate(24.2 527.86 533.38)" fill="#f0d21e" stroke="#5e4c06" stroke-width="0.25"/><ellipse cx="530.02" cy="535.62" rx="1.31" ry="2.53" transform="rotate(24.2 530.02 535.62)" fill="#f0d21e" stroke="#5e4c06" stroke-width="0.25"/><ellipse cx="532.17" cy="537.88" rx="1.31" ry="2.53" transform="rotate(24.2 532.17 537.88)" fill="#f0d21e" stroke="#5e4c06" stroke-width="0.25"/><ellipse cx="534.33" cy="540.12" rx="1.31" ry="2.53" transform="rotate(24.2 534.33 540.12)" fill="#f0d21e" stroke="#5e4c06" stroke-width="0.25"/><ellipse cx="536.48" cy="542.38" rx="1.31" ry="2.53" transform="rotate(24.2 536.48 542.38)" fill="#f0d21e" stroke="#5e4c06" stroke-width="0.25"/><ellipse cx="538.64" cy="544.62" rx="1.31" ry="2.53" transform="rotate(24.2 538.64 544.62)" fill="#f0d21e" stroke="#5e4c06" stroke-width="0.25"/><ellipse cx="540.80" cy="546.88" rx="1.31" ry="2.53" transform="rotate(24.2 540.80 546.88)" fill="#f0d21e" stroke="#5e4c06" stroke-width="0.25"/><ellipse cx="542.95" cy="549.12" rx="1.31" ry="2.53" transform="rotate(24.2 542.95 549.12)" fill="#f0d21e" stroke="#5e4c06" stroke-width="0.25"/><ellipse cx="545.11" cy="551.38" rx="1.31" ry="2.53" transform="rotate(24.2 545.11 551.38)" fill="#f0d21e" stroke="#5e4c06" stroke-width="0.25"/><ellipse cx="547.27" cy="553.62" rx="1.31" ry="2.53" transform="rotate(24.2 547.27 553.62)" fill="#f0d21e" stroke="#5e4c06" stroke-width="0.25"/><ellipse cx="549.42" cy="555.88" rx="1.31" ry="2.53" transform="rotate(24.2 549.42 555.88)" fill="#f0d21e" stroke="#5e4c06" stroke-width="0.25"/>
<line x1="526.41" y1="518.73" x2="530.59" y2="517.45" stroke="#b89a12" stroke-width="1.09"/><line x1="528.24" y1="521.26" x2="532.42" y2="519.97" stroke="#b89a12" stroke-width="1.09"/><line x1="530.06" y1="523.79" x2="534.24" y2="522.50" stroke="#b89a12" stroke-width="1.09"/><line x1="531.89" y1="526.32" x2="536.06" y2="525.03" stroke="#b89a12" stroke-width="1.09"/><line x1="533.71" y1="528.85" x2="537.89" y2="527.56" stroke="#b89a12" stroke-width="1.09"/><line x1="535.53" y1="531.38" x2="539.71" y2="530.09" stroke="#b89a12" stroke-width="1.09"/><line x1="537.36" y1="533.90" x2="541.54" y2="532.62" stroke="#b89a12" stroke-width="1.09"/><line x1="539.18" y1="536.43" x2="543.36" y2="535.15" stroke="#b89a12" stroke-width="1.09"/><line x1="541.00" y1="538.96" x2="545.18" y2="537.68" stroke="#b89a12" stroke-width="1.09"/><line x1="542.83" y1="541.49" x2="547.01" y2="540.21" stroke="#b89a12" stroke-width="1.09"/><line x1="544.65" y1="544.02" x2="548.83" y2="542.74" stroke="#b89a12" stroke-width="1.09"/><line x1="546.47" y1="546.55" x2="550.65" y2="545.27" stroke="#b89a12" stroke-width="1.09"/><line x1="548.30" y1="549.08" x2="552.48" y2="547.80" stroke="#b89a12" stroke-width="1.09"/><line x1="550.12" y1="551.61" x2="554.30" y2="550.33" stroke="#b89a12" stroke-width="1.09"/><line x1="551.94" y1="554.14" x2="556.12" y2="552.86" stroke="#b89a12" stroke-width="1.09"/><line x1="553.77" y1="556.67" x2="557.95" y2="555.39" stroke="#b89a12" stroke-width="1.09"/><line x1="555.59" y1="559.20" x2="559.77" y2="557.92" stroke="#b89a12" stroke-width="1.09"/><ellipse cx="527.91" cy="517.26" rx="1.31" ry="2.53" transform="rotate(32.2 527.91 517.26)" fill="#f0d21e" stroke="#5e4c06" stroke-width="0.25"/><ellipse cx="529.74" cy="519.79" rx="1.31" ry="2.53" transform="rotate(32.2 529.74 519.79)" fill="#f0d21e" stroke="#5e4c06" stroke-width="0.25"/><ellipse cx="531.56" cy="522.32" rx="1.31" ry="2.53" transform="rotate(32.2 531.56 522.32)" fill="#f0d21e" stroke="#5e4c06" stroke-width="0.25"/><ellipse cx="533.38" cy="524.85" rx="1.31" ry="2.53" transform="rotate(32.2 533.38 524.85)" fill="#f0d21e" stroke="#5e4c06" stroke-width="0.25"/><ellipse cx="535.21" cy="527.38" rx="1.31" ry="2.53" transform="rotate(32.2 535.21 527.38)" fill="#f0d21e" stroke="#5e4c06" stroke-width="0.25"/><ellipse cx="537.03" cy="529.91" rx="1.31" ry="2.53" transform="rotate(32.2 537.03 529.91)" fill="#f0d21e" stroke="#5e4c06" stroke-width="0.25"/><ellipse cx="538.85" cy="532.44" rx="1.31" ry="2.53" transform="rotate(32.2 538.85 532.44)" fill="#f0d21e" stroke="#5e4c06" stroke-width="0.25"/><ellipse cx="540.68" cy="534.97" rx="1.31" ry="2.53" transform="rotate(32.2 540.68 534.97)" fill="#f0d21e" stroke="#5e4c06" stroke-width="0.25"/><ellipse cx="542.50" cy="537.50" rx="1.31" ry="2.53" transform="rotate(32.2 542.50 537.50)" fill="#f0d21e" stroke="#5e4c06" stroke-width="0.25"/><ellipse cx="544.32" cy="540.03" rx="1.31" ry="2.53" transform="rotate(32.2 544.32 540.03)" fill="#f0d21e" stroke="#5e4c06" stroke-width="0.25"/><ellipse cx="546.15" cy="542.56" rx="1.31" ry="2.53" transform="rotate(32.2 546.15 542.56)" fill="#f0d21e" stroke="#5e4c06" stroke-width="0.25"/><ellipse cx="547.97" cy="545.09" rx="1.31" ry="2.53" transform="rotate(32.2 547.97 545.09)" fill="#f0d21e" stroke="#5e4c06" stroke-width="0.25"/><ellipse cx="549.79" cy="547.62" rx="1.31" ry="2.53" transform="rotate(32.2 549.79 547.62)" fill="#f0d21e" stroke="#5e4c06" stroke-width="0.25"/><ellipse cx="551.62" cy="550.15" rx="1.31" ry="2.53" transform="rotate(32.2 551.62 550.15)" fill="#f0d21e" stroke="#5e4c06" stroke-width="0.25"/><ellipse cx="553.44" cy="552.68" rx="1.31" ry="2.53" transform="rotate(32.2 553.44 552.68)" fill="#f0d21e" stroke="#5e4c06" stroke-width="0.25"/><ellipse cx="555.26" cy="555.21" rx="1.31" ry="2.53" transform="rotate(32.2 555.26 555.21)" fill="#f0d21e" stroke="#5e4c06" stroke-width="0.25"/><ellipse cx="557.09" cy="557.74" rx="1.31" ry="2.53" transform="rotate(32.2 557.09 557.74)" fill="#f0d21e" stroke="#5e4c06" stroke-width="0.25"/>
<path d="M516,521 C515,514 520,513 524,515 C526,515 527,515 527,516" fill="none" stroke="#5e4c06" stroke-width="0.5"/>
<line x1="557.74" y1="539.91" x2="561.90" y2="539.79" stroke="#6f95c2" stroke-width="1.02"/><line x1="558.73" y1="542.64" x2="562.90" y2="542.51" stroke="#6f95c2" stroke-width="1.02"/><line x1="559.72" y1="545.37" x2="563.89" y2="545.24" stroke="#6f95c2" stroke-width="1.02"/><line x1="560.72" y1="548.09" x2="564.88" y2="547.97" stroke="#6f95c2" stroke-width="1.02"/><line x1="561.71" y1="550.82" x2="565.88" y2="550.69" stroke="#6f95c2" stroke-width="1.02"/><line x1="562.70" y1="553.55" x2="566.87" y2="553.42" stroke="#6f95c2" stroke-width="1.02"/><line x1="563.70" y1="556.27" x2="567.86" y2="556.15" stroke="#6f95c2" stroke-width="1.02"/><line x1="564.69" y1="559.00" x2="568.86" y2="558.87" stroke="#6f95c2" stroke-width="1.02"/><line x1="565.68" y1="561.73" x2="569.85" y2="561.60" stroke="#6f95c2" stroke-width="1.02"/><line x1="566.68" y1="564.45" x2="570.84" y2="564.33" stroke="#6f95c2" stroke-width="1.02"/><line x1="567.67" y1="567.18" x2="571.84" y2="567.05" stroke="#6f95c2" stroke-width="1.02"/><line x1="568.66" y1="569.91" x2="572.83" y2="569.78" stroke="#6f95c2" stroke-width="1.02"/><line x1="569.66" y1="572.63" x2="573.82" y2="572.51" stroke="#6f95c2" stroke-width="1.02"/><line x1="570.65" y1="575.36" x2="574.82" y2="575.23" stroke="#6f95c2" stroke-width="1.02"/><line x1="571.64" y1="578.09" x2="575.81" y2="577.96" stroke="#6f95c2" stroke-width="1.02"/><line x1="572.64" y1="580.81" x2="576.80" y2="580.69" stroke="#6f95c2" stroke-width="1.02"/><line x1="573.63" y1="583.54" x2="577.80" y2="583.41" stroke="#6f95c2" stroke-width="1.02"/><line x1="574.62" y1="586.27" x2="578.79" y2="586.14" stroke="#6f95c2" stroke-width="1.02"/><line x1="575.62" y1="588.99" x2="579.78" y2="588.87" stroke="#6f95c2" stroke-width="1.02"/><line x1="576.61" y1="591.72" x2="580.78" y2="591.59" stroke="#6f95c2" stroke-width="1.02"/><line x1="577.60" y1="594.45" x2="581.77" y2="594.32" stroke="#6f95c2" stroke-width="1.02"/><line x1="578.60" y1="597.17" x2="582.76" y2="597.05" stroke="#6f95c2" stroke-width="1.02"/><line x1="579.59" y1="599.90" x2="583.76" y2="599.77" stroke="#6f95c2" stroke-width="1.02"/><line x1="580.58" y1="602.63" x2="584.75" y2="602.50" stroke="#6f95c2" stroke-width="1.02"/><line x1="581.58" y1="605.35" x2="585.74" y2="605.23" stroke="#6f95c2" stroke-width="1.02"/><line x1="582.57" y1="608.08" x2="586.74" y2="607.95" stroke="#6f95c2" stroke-width="1.02"/><line x1="583.56" y1="610.81" x2="587.73" y2="610.68" stroke="#6f95c2" stroke-width="1.02"/><line x1="584.56" y1="613.53" x2="588.72" y2="613.41" stroke="#6f95c2" stroke-width="1.02"/><line x1="585.55" y1="616.26" x2="589.72" y2="616.13" stroke="#6f95c2" stroke-width="1.02"/><line x1="586.54" y1="618.99" x2="590.71" y2="618.86" stroke="#6f95c2" stroke-width="1.02"/><ellipse cx="559.50" cy="538.96" rx="1.22" ry="2.42" transform="rotate(48.0 559.50 538.96)" fill="#9cbfe4" stroke="#3d5f86" stroke-width="0.25"/><ellipse cx="560.49" cy="541.69" rx="1.22" ry="2.42" transform="rotate(48.0 560.49 541.69)" fill="#9cbfe4" stroke="#3d5f86" stroke-width="0.25"/><ellipse cx="561.48" cy="544.42" rx="1.22" ry="2.42" transform="rotate(48.0 561.48 544.42)" fill="#9cbfe4" stroke="#3d5f86" stroke-width="0.25"/><ellipse cx="562.48" cy="547.14" rx="1.22" ry="2.42" transform="rotate(48.0 562.48 547.14)" fill="#9cbfe4" stroke="#3d5f86" stroke-width="0.25"/><ellipse cx="563.47" cy="549.87" rx="1.22" ry="2.42" transform="rotate(48.0 563.47 549.87)" fill="#9cbfe4" stroke="#3d5f86" stroke-width="0.25"/><ellipse cx="564.46" cy="552.60" rx="1.22" ry="2.42" transform="rotate(48.0 564.46 552.60)" fill="#9cbfe4" stroke="#3d5f86" stroke-width="0.25"/><ellipse cx="565.46" cy="555.32" rx="1.22" ry="2.42" transform="rotate(48.0 565.46 555.32)" fill="#9cbfe4" stroke="#3d5f86" stroke-width="0.25"/><ellipse cx="566.45" cy="558.05" rx="1.22" ry="2.42" transform="rotate(48.0 566.45 558.05)" fill="#9cbfe4" stroke="#3d5f86" stroke-width="0.25"/><ellipse cx="567.44" cy="560.78" rx="1.22" ry="2.42" transform="rotate(48.0 567.44 560.78)" fill="#9cbfe4" stroke="#3d5f86" stroke-width="0.25"/><ellipse cx="568.44" cy="563.50" rx="1.22" ry="2.42" transform="rotate(48.0 568.44 563.50)" fill="#9cbfe4" stroke="#3d5f86" stroke-width="0.25"/><ellipse cx="569.43" cy="566.23" rx="1.22" ry="2.42" transform="rotate(48.0 569.43 566.23)" fill="#9cbfe4" stroke="#3d5f86" stroke-width="0.25"/><ellipse cx="570.42" cy="568.96" rx="1.22" ry="2.42" transform="rotate(48.0 570.42 568.96)" fill="#9cbfe4" stroke="#3d5f86" stroke-width="0.25"/><ellipse cx="571.42" cy="571.68" rx="1.22" ry="2.42" transform="rotate(48.0 571.42 571.68)" fill="#9cbfe4" stroke="#3d5f86" stroke-width="0.25"/><ellipse cx="572.41" cy="574.41" rx="1.22" ry="2.42" transform="rotate(48.0 572.41 574.41)" fill="#9cbfe4" stroke="#3d5f86" stroke-width="0.25"/><ellipse cx="573.40" cy="577.14" rx="1.22" ry="2.42" transform="rotate(48.0 573.40 577.14)" fill="#9cbfe4" stroke="#3d5f86" stroke-width="0.25"/><ellipse cx="574.40" cy="579.86" rx="1.22" ry="2.42" transform="rotate(48.0 574.40 579.86)" fill="#9cbfe4" stroke="#3d5f86" stroke-width="0.25"/><ellipse cx="575.39" cy="582.59" rx="1.22" ry="2.42" transform="rotate(48.0 575.39 582.59)" fill="#9cbfe4" stroke="#3d5f86" stroke-width="0.25"/><ellipse cx="576.38" cy="585.32" rx="1.22" ry="2.42" transform="rotate(48.0 576.38 585.32)" fill="#9cbfe4" stroke="#3d5f86" stroke-width="0.25"/><ellipse cx="577.38" cy="588.04" rx="1.22" ry="2.42" transform="rotate(48.0 577.38 588.04)" fill="#9cbfe4" stroke="#3d5f86" stroke-width="0.25"/><ellipse cx="578.37" cy="590.77" rx="1.22" ry="2.42" transform="rotate(48.0 578.37 590.77)" fill="#9cbfe4" stroke="#3d5f86" stroke-width="0.25"/><ellipse cx="579.36" cy="593.50" rx="1.22" ry="2.42" transform="rotate(48.0 579.36 593.50)" fill="#9cbfe4" stroke="#3d5f86" stroke-width="0.25"/><ellipse cx="580.36" cy="596.22" rx="1.22" ry="2.42" transform="rotate(48.0 580.36 596.22)" fill="#9cbfe4" stroke="#3d5f86" stroke-width="0.25"/><ellipse cx="581.35" cy="598.95" rx="1.22" ry="2.42" transform="rotate(48.0 581.35 598.95)" fill="#9cbfe4" stroke="#3d5f86" stroke-width="0.25"/><ellipse cx="582.34" cy="601.68" rx="1.22" ry="2.42" transform="rotate(48.0 582.34 601.68)" fill="#9cbfe4" stroke="#3d5f86" stroke-width="0.25"/><ellipse cx="583.34" cy="604.40" rx="1.22" ry="2.42" transform="rotate(48.0 583.34 604.40)" fill="#9cbfe4" stroke="#3d5f86" stroke-width="0.25"/><ellipse cx="584.33" cy="607.13" rx="1.22" ry="2.42" transform="rotate(48.0 584.33 607.13)" fill="#9cbfe4" stroke="#3d5f86" stroke-width="0.25"/><ellipse cx="585.32" cy="609.86" rx="1.22" ry="2.42" transform="rotate(48.0 585.32 609.86)" fill="#9cbfe4" stroke="#3d5f86" stroke-width="0.25"/><ellipse cx="586.32" cy="612.58" rx="1.22" ry="2.42" transform="rotate(48.0 586.32 612.58)" fill="#9cbfe4" stroke="#3d5f86" stroke-width="0.25"/><ellipse cx="587.31" cy="615.31" rx="1.22" ry="2.42" transform="rotate(48.0 587.31 615.31)" fill="#9cbfe4" stroke="#3d5f86" stroke-width="0.25"/><ellipse cx="588.30" cy="618.04" rx="1.22" ry="2.42" transform="rotate(48.0 588.30 618.04)" fill="#9cbfe4" stroke="#3d5f86" stroke-width="0.25"/>
<line x1="565.32" y1="538.37" x2="569.85" y2="538.85" stroke="#0e2230" stroke-width="1.14"/><line x1="566.03" y1="541.54" x2="570.56" y2="542.02" stroke="#0e2230" stroke-width="1.14"/><line x1="566.73" y1="544.70" x2="571.27" y2="545.19" stroke="#0e2230" stroke-width="1.14"/><line x1="567.44" y1="547.87" x2="571.98" y2="548.35" stroke="#0e2230" stroke-width="1.14"/><line x1="568.15" y1="551.04" x2="572.68" y2="551.52" stroke="#0e2230" stroke-width="1.14"/><line x1="568.86" y1="554.20" x2="573.39" y2="554.69" stroke="#0e2230" stroke-width="1.14"/><line x1="569.57" y1="557.37" x2="574.10" y2="557.85" stroke="#0e2230" stroke-width="1.14"/><line x1="570.28" y1="560.54" x2="574.81" y2="561.02" stroke="#0e2230" stroke-width="1.14"/><line x1="570.98" y1="563.70" x2="575.52" y2="564.19" stroke="#0e2230" stroke-width="1.14"/><line x1="571.69" y1="566.87" x2="576.23" y2="567.35" stroke="#0e2230" stroke-width="1.14"/><line x1="572.40" y1="570.04" x2="576.93" y2="570.52" stroke="#0e2230" stroke-width="1.14"/><line x1="573.11" y1="573.20" x2="577.64" y2="573.69" stroke="#0e2230" stroke-width="1.14"/><ellipse cx="567.35" cy="537.58" rx="1.36" ry="2.64" transform="rotate(55.4 567.35 537.58)" fill="#23445a" stroke="#08141c" stroke-width="0.25"/><ellipse cx="568.06" cy="540.75" rx="1.36" ry="2.64" transform="rotate(55.4 568.06 540.75)" fill="#23445a" stroke="#08141c" stroke-width="0.25"/><ellipse cx="568.77" cy="543.92" rx="1.36" ry="2.64" transform="rotate(55.4 568.77 543.92)" fill="#23445a" stroke="#08141c" stroke-width="0.25"/><ellipse cx="569.48" cy="547.08" rx="1.36" ry="2.64" transform="rotate(55.4 569.48 547.08)" fill="#23445a" stroke="#08141c" stroke-width="0.25"/><ellipse cx="570.19" cy="550.25" rx="1.36" ry="2.64" transform="rotate(55.4 570.19 550.25)" fill="#23445a" stroke="#08141c" stroke-width="0.25"/><ellipse cx="570.90" cy="553.42" rx="1.36" ry="2.64" transform="rotate(55.4 570.90 553.42)" fill="#23445a" stroke="#08141c" stroke-width="0.25"/><ellipse cx="571.60" cy="556.58" rx="1.36" ry="2.64" transform="rotate(55.4 571.60 556.58)" fill="#23445a" stroke="#08141c" stroke-width="0.25"/><ellipse cx="572.31" cy="559.75" rx="1.36" ry="2.64" transform="rotate(55.4 572.31 559.75)" fill="#23445a" stroke="#08141c" stroke-width="0.25"/><ellipse cx="573.02" cy="562.92" rx="1.36" ry="2.64" transform="rotate(55.4 573.02 562.92)" fill="#23445a" stroke="#08141c" stroke-width="0.25"/><ellipse cx="573.73" cy="566.08" rx="1.36" ry="2.64" transform="rotate(55.4 573.73 566.08)" fill="#23445a" stroke="#08141c" stroke-width="0.25"/><ellipse cx="574.44" cy="569.25" rx="1.36" ry="2.64" transform="rotate(55.4 574.44 569.25)" fill="#23445a" stroke="#08141c" stroke-width="0.25"/><ellipse cx="575.15" cy="572.42" rx="1.36" ry="2.64" transform="rotate(55.4 575.15 572.42)" fill="#23445a" stroke="#08141c" stroke-width="0.25"/>
<line x1="572.96" y1="575.23" x2="576.81" y2="577.61" stroke="#0e2230" stroke-width="1.06"/><line x1="572.21" y1="578.16" x2="576.06" y2="580.55" stroke="#0e2230" stroke-width="1.06"/><line x1="571.47" y1="581.09" x2="575.32" y2="583.48" stroke="#0e2230" stroke-width="1.06"/><line x1="570.72" y1="584.03" x2="574.57" y2="586.41" stroke="#0e2230" stroke-width="1.06"/><line x1="569.97" y1="586.96" x2="573.82" y2="589.35" stroke="#0e2230" stroke-width="1.06"/><line x1="569.23" y1="589.89" x2="573.08" y2="592.28" stroke="#0e2230" stroke-width="1.06"/><line x1="568.48" y1="592.83" x2="572.33" y2="595.21" stroke="#0e2230" stroke-width="1.06"/><line x1="567.73" y1="595.76" x2="571.58" y2="598.15" stroke="#0e2230" stroke-width="1.06"/><line x1="566.99" y1="598.69" x2="570.84" y2="601.08" stroke="#0e2230" stroke-width="1.06"/><line x1="566.24" y1="601.63" x2="570.09" y2="604.01" stroke="#0e2230" stroke-width="1.06"/><line x1="565.49" y1="604.56" x2="569.34" y2="606.95" stroke="#0e2230" stroke-width="1.06"/><line x1="564.75" y1="607.49" x2="568.60" y2="609.88" stroke="#0e2230" stroke-width="1.06"/><line x1="564.00" y1="610.43" x2="567.85" y2="612.81" stroke="#0e2230" stroke-width="1.06"/><line x1="563.25" y1="613.36" x2="567.10" y2="615.75" stroke="#0e2230" stroke-width="1.06"/><line x1="562.51" y1="616.29" x2="566.36" y2="618.68" stroke="#0e2230" stroke-width="1.06"/><ellipse cx="575.13" cy="575.47" rx="1.27" ry="2.64" transform="rotate(82.3 575.13 575.47)" fill="#23445a" stroke="#08141c" stroke-width="0.25"/><ellipse cx="574.38" cy="578.40" rx="1.27" ry="2.64" transform="rotate(82.3 574.38 578.40)" fill="#23445a" stroke="#08141c" stroke-width="0.25"/><ellipse cx="573.63" cy="581.33" rx="1.27" ry="2.64" transform="rotate(82.3 573.63 581.33)" fill="#23445a" stroke="#08141c" stroke-width="0.25"/><ellipse cx="572.89" cy="584.27" rx="1.27" ry="2.64" transform="rotate(82.3 572.89 584.27)" fill="#23445a" stroke="#08141c" stroke-width="0.25"/><ellipse cx="572.14" cy="587.20" rx="1.27" ry="2.64" transform="rotate(82.3 572.14 587.20)" fill="#23445a" stroke="#08141c" stroke-width="0.25"/><ellipse cx="571.39" cy="590.13" rx="1.27" ry="2.64" transform="rotate(82.3 571.39 590.13)" fill="#23445a" stroke="#08141c" stroke-width="0.25"/><ellipse cx="570.65" cy="593.07" rx="1.27" ry="2.64" transform="rotate(82.3 570.65 593.07)" fill="#23445a" stroke="#08141c" stroke-width="0.25"/><ellipse cx="569.90" cy="596.00" rx="1.27" ry="2.64" transform="rotate(82.3 569.90 596.00)" fill="#23445a" stroke="#08141c" stroke-width="0.25"/><ellipse cx="569.15" cy="598.93" rx="1.27" ry="2.64" transform="rotate(82.3 569.15 598.93)" fill="#23445a" stroke="#08141c" stroke-width="0.25"/><ellipse cx="568.41" cy="601.87" rx="1.27" ry="2.64" transform="rotate(82.3 568.41 601.87)" fill="#23445a" stroke="#08141c" stroke-width="0.25"/><ellipse cx="567.66" cy="604.80" rx="1.27" ry="2.64" transform="rotate(82.3 567.66 604.80)" fill="#23445a" stroke="#08141c" stroke-width="0.25"/><ellipse cx="566.91" cy="607.73" rx="1.27" ry="2.64" transform="rotate(82.3 566.91 607.73)" fill="#23445a" stroke="#08141c" stroke-width="0.25"/><ellipse cx="566.17" cy="610.67" rx="1.27" ry="2.64" transform="rotate(82.3 566.17 610.67)" fill="#23445a" stroke="#08141c" stroke-width="0.25"/><ellipse cx="565.42" cy="613.60" rx="1.27" ry="2.64" transform="rotate(82.3 565.42 613.60)" fill="#23445a" stroke="#08141c" stroke-width="0.25"/><ellipse cx="564.67" cy="616.53" rx="1.27" ry="2.64" transform="rotate(82.3 564.67 616.53)" fill="#23445a" stroke="#08141c" stroke-width="0.25"/>
<line x1="558.27" y1="546.69" x2="562.51" y2="545.64" stroke="#b89a12" stroke-width="1.09"/><line x1="559.96" y1="549.32" x2="564.20" y2="548.26" stroke="#b89a12" stroke-width="1.09"/><line x1="561.65" y1="551.94" x2="565.89" y2="550.89" stroke="#b89a12" stroke-width="1.09"/><line x1="563.33" y1="554.57" x2="567.58" y2="553.51" stroke="#b89a12" stroke-width="1.09"/><line x1="565.02" y1="557.19" x2="569.26" y2="556.14" stroke="#b89a12" stroke-width="1.09"/><line x1="566.71" y1="559.82" x2="570.95" y2="558.76" stroke="#b89a12" stroke-width="1.09"/><line x1="568.40" y1="562.44" x2="572.64" y2="561.39" stroke="#b89a12" stroke-width="1.09"/><line x1="570.08" y1="565.07" x2="574.33" y2="564.01" stroke="#b89a12" stroke-width="1.09"/><line x1="571.77" y1="567.69" x2="576.01" y2="566.64" stroke="#b89a12" stroke-width="1.09"/><line x1="573.46" y1="570.32" x2="577.70" y2="569.26" stroke="#b89a12" stroke-width="1.09"/><line x1="575.15" y1="572.94" x2="579.39" y2="571.89" stroke="#b89a12" stroke-width="1.09"/><line x1="576.83" y1="575.57" x2="581.08" y2="574.51" stroke="#b89a12" stroke-width="1.09"/><line x1="578.52" y1="578.19" x2="582.76" y2="577.14" stroke="#b89a12" stroke-width="1.09"/><line x1="580.21" y1="580.82" x2="584.45" y2="579.76" stroke="#b89a12" stroke-width="1.09"/><line x1="581.90" y1="583.44" x2="586.14" y2="582.39" stroke="#b89a12" stroke-width="1.09"/><line x1="583.58" y1="586.07" x2="587.83" y2="585.01" stroke="#b89a12" stroke-width="1.09"/><ellipse cx="559.84" cy="545.31" rx="1.31" ry="2.53" transform="rotate(35.3 559.84 545.31)" fill="#f0d21e" stroke="#5e4c06" stroke-width="0.25"/><ellipse cx="561.53" cy="547.94" rx="1.31" ry="2.53" transform="rotate(35.3 561.53 547.94)" fill="#f0d21e" stroke="#5e4c06" stroke-width="0.25"/><ellipse cx="563.22" cy="550.56" rx="1.31" ry="2.53" transform="rotate(35.3 563.22 550.56)" fill="#f0d21e" stroke="#5e4c06" stroke-width="0.25"/><ellipse cx="564.91" cy="553.19" rx="1.31" ry="2.53" transform="rotate(35.3 564.91 553.19)" fill="#f0d21e" stroke="#5e4c06" stroke-width="0.25"/><ellipse cx="566.59" cy="555.81" rx="1.31" ry="2.53" transform="rotate(35.3 566.59 555.81)" fill="#f0d21e" stroke="#5e4c06" stroke-width="0.25"/><ellipse cx="568.28" cy="558.44" rx="1.31" ry="2.53" transform="rotate(35.3 568.28 558.44)" fill="#f0d21e" stroke="#5e4c06" stroke-width="0.25"/><ellipse cx="569.97" cy="561.06" rx="1.31" ry="2.53" transform="rotate(35.3 569.97 561.06)" fill="#f0d21e" stroke="#5e4c06" stroke-width="0.25"/><ellipse cx="571.66" cy="563.69" rx="1.31" ry="2.53" transform="rotate(35.3 571.66 563.69)" fill="#f0d21e" stroke="#5e4c06" stroke-width="0.25"/><ellipse cx="573.34" cy="566.31" rx="1.31" ry="2.53" transform="rotate(35.3 573.34 566.31)" fill="#f0d21e" stroke="#5e4c06" stroke-width="0.25"/><ellipse cx="575.03" cy="568.94" rx="1.31" ry="2.53" transform="rotate(35.3 575.03 568.94)" fill="#f0d21e" stroke="#5e4c06" stroke-width="0.25"/><ellipse cx="576.72" cy="571.56" rx="1.31" ry="2.53" transform="rotate(35.3 576.72 571.56)" fill="#f0d21e" stroke="#5e4c06" stroke-width="0.25"/><ellipse cx="578.41" cy="574.19" rx="1.31" ry="2.53" transform="rotate(35.3 578.41 574.19)" fill="#f0d21e" stroke="#5e4c06" stroke-width="0.25"/><ellipse cx="580.09" cy="576.81" rx="1.31" ry="2.53" transform="rotate(35.3 580.09 576.81)" fill="#f0d21e" stroke="#5e4c06" stroke-width="0.25"/><ellipse cx="581.78" cy="579.44" rx="1.31" ry="2.53" transform="rotate(35.3 581.78 579.44)" fill="#f0d21e" stroke="#5e4c06" stroke-width="0.25"/><ellipse cx="583.47" cy="582.06" rx="1.31" ry="2.53" transform="rotate(35.3 583.47 582.06)" fill="#f0d21e" stroke="#5e4c06" stroke-width="0.25"/><ellipse cx="585.16" cy="584.69" rx="1.31" ry="2.53" transform="rotate(35.3 585.16 584.69)" fill="#f0d21e" stroke="#5e4c06" stroke-width="0.25"/>
<line x1="537.00" y1="609.00" x2="531.00" y2="621.00" stroke="#333" stroke-width="0.5"/>
<line x1="554.00" y1="608.00" x2="560.00" y2="621.00" stroke="#333" stroke-width="0.5"/>
<line x1="565.00" y1="612.00" x2="566.00" y2="621.00" stroke="#333" stroke-width="0.5"/>
<line x1="589.00" y1="610.00" x2="597.00" y2="621.00" stroke="#333" stroke-width="0.5"/>
<text transform="translate(530.50,632.80) scale(0.655,1.201)" font-size="10.0" font-weight="bold" fill="#e04a74">T</text>
<text transform="translate(534.70,632.80) scale(0.554,1.201)" font-size="10.0" font-weight="bold" fill="#5bb547">A</text>
<text transform="translate(538.90,632.80) scale(0.655,1.201)" font-size="10.0" font-weight="bold" fill="#e04a74">T</text>
<text transform="translate(543.10,632.80) scale(0.655,1.201)" font-size="10.0" font-weight="bold" fill="#e04a74">T</text>
<text transform="translate(547.30,632.80) scale(0.655,1.201)" font-size="10.0" font-weight="bold" fill="#e04a74">T</text>
<text transform="translate(551.50,632.80) scale(0.554,1.201)" font-size="10.0" font-weight="bold" fill="#5bb547">A</text>
<text transform="translate(555.70,632.80) scale(0.554,1.201)" font-size="10.0" font-weight="bold" fill="#2f7fd0">C</text>
<text transform="translate(565.70,632.80) scale(0.760,1.201)" font-size="10.0" font-weight="bold" fill="#e04a74">T</text>
<text transform="translate(570.54,632.80) scale(0.597,1.201)" font-size="10.0" font-weight="bold" fill="#f5b90f">G</text>
<text transform="translate(575.39,632.80) scale(0.643,1.201)" font-size="10.0" font-weight="bold" fill="#5bb547">A</text>
<text transform="translate(580.23,632.80) scale(0.643,1.201)" font-size="10.0" font-weight="bold" fill="#2f7fd0">C</text>
<text transform="translate(585.07,632.80) scale(0.760,1.201)" font-size="10.0" font-weight="bold" fill="#e04a74">T</text>
<text transform="translate(589.91,632.80) scale(0.643,1.201)" font-size="10.0" font-weight="bold" fill="#2f7fd0">C</text>
<text transform="translate(594.76,632.80) scale(0.643,1.201)" font-size="10.0" font-weight="bold" fill="#5bb547">A</text>
<text x="555.00" y="524.50" text-anchor="middle">FOS</text>
<line x1="559.00" y1="526.00" x2="561.50" y2="536.00" stroke="#333" stroke-width="0.5"/>
<text x="584.00" y="533.00" text-anchor="middle">JUN</text>
<line x1="578.00" y1="534.00" x2="569.00" y2="541.00" stroke="#333" stroke-width="0.5"/>
<text x="519.00" y="559.00" text-anchor="middle">FOXP1</text>
<line x1="530.00" y1="556.50" x2="535.00" y2="553.00" stroke="#333" stroke-width="0.5"/>
<path d="M614.00,601.99 L614.00,605.98 M616.10,605.75 L616.10,602.27 M618.20,608.55 L618.20,598.18 M620.30,609.91 L620.30,594.39 M622.40,609.61 L622.40,591.54 M624.50,607.71 L624.50,590.11 M626.60,604.51 L626.60,590.34 M628.70,600.55 L628.70,592.19 M630.80,596.50 L630.80,595.34 M632.90,593.04 L632.90,599.28 M635.00,590.75 L635.00,603.34 M637.10,590.00 L637.10,606.83 M639.20,590.93 L639.20,609.19 M641.30,593.38 L641.30,610.00 M643.40,596.94 L643.40,609.14 M645.50,601.02 L645.50,606.74 M647.60,604.92 L647.60,603.22 M649.70,608.00 L649.70,599.15 M651.80,609.73 L651.80,595.23 M653.90,609.84 L653.90,592.11 M656.00,608.29 L656.00,590.31 M658.10,605.36 L658.10,590.13 M660.20,601.53 L660.20,591.61 M662.30,597.44 L662.30,594.50 M664.40,593.78 L664.40,598.30 M666.50,591.16 L666.50,602.40 M668.60,590.03 L668.60,606.09 " stroke="#8a8a8a" stroke-width="0.35" fill="none"/>
<polyline points="614.00,601.99 614.70,603.31 615.40,604.57 616.10,605.75 616.80,606.81 617.50,607.75 618.20,608.55 618.90,609.18 619.60,609.63 620.30,609.91 621.00,610.00 621.70,609.90 622.40,609.61 623.10,609.15 623.80,608.51 624.50,607.71 625.20,606.76 625.90,605.69 626.60,604.51 627.30,603.24 628.00,601.92 628.70,600.55 629.40,599.18 630.10,597.82 630.80,596.50 631.50,595.25 632.20,594.09 632.90,593.04 633.60,592.12 634.30,591.35 635.00,590.75 635.70,590.31 636.40,590.07 637.10,590.00 637.80,590.13 638.50,590.44 639.20,590.93 639.90,591.60 640.60,592.42 641.30,593.38 642.00,594.47 642.70,595.67 643.40,596.94 644.10,598.28 644.80,599.64 645.50,601.02 646.20,602.37 646.90,603.68 647.60,604.92 648.30,606.06 649.00,607.10 649.70,608.00 650.40,608.74 651.10,609.33 651.80,609.73 652.50,609.96 653.20,609.99 653.90,609.84 654.60,609.50 655.30,608.98 656.00,608.29 656.70,607.45 657.40,606.47 658.10,605.36 658.80,604.15 659.50,602.87 660.20,601.53 660.90,600.16 661.60,598.79 662.30,597.44 663.00,596.14 663.70,594.91 664.40,593.78 665.10,592.77 665.80,591.89 666.50,591.16 667.20,590.61 667.90,590.22 668.60,590.03 669.30,590.02 670.00,590.20" fill="none" stroke="#2a2a2a" stroke-width="1.0"/>
<polyline points="614.00,605.98 614.70,604.83 615.40,603.59 616.10,602.27 616.80,600.92 617.50,599.54 618.20,598.18 618.90,596.85 619.60,595.58 620.30,594.39 621.00,593.31 621.70,592.35 622.40,591.54 623.10,590.89 623.80,590.41 624.50,590.11 625.20,590.00 625.90,590.08 626.60,590.34 627.30,590.79 628.00,591.40 628.70,592.19 629.40,593.12 630.10,594.17 630.80,595.34 631.50,596.60 632.20,597.92 632.90,599.28 633.60,600.65 634.30,602.01 635.00,603.34 635.70,604.60 636.40,605.77 637.10,606.83 637.80,607.77 638.50,608.56 639.20,609.19 639.90,609.64 640.60,609.91 641.30,610.00 642.00,609.90 642.70,609.61 643.40,609.14 644.10,608.49 644.80,607.69 645.50,606.74 646.20,605.67 646.90,604.48 647.60,603.22 648.30,601.89 649.00,600.53 649.70,599.15 650.40,597.79 651.10,596.48 651.80,595.23 652.50,594.07 653.20,593.02 653.90,592.11 654.60,591.34 655.30,590.74 656.00,590.31 656.70,590.06 657.40,590.00 658.10,590.13 658.80,590.45 659.50,590.95 660.20,591.61 660.90,592.44 661.60,593.41 662.30,594.50 663.00,595.69 663.70,596.97 664.40,598.30 665.10,599.67 665.80,601.04 666.50,602.40 667.20,603.70 667.90,604.94 668.60,606.09 669.30,607.12 670.00,608.01" fill="none" stroke="#2a2a2a" stroke-width="1.0"/>
<path d="M611,580 C613,574 622,572 630,574 C638,573 644,577 643,583 C645,589 641,593 634,592 C627,595 618,594 613,590 C610,587 610,583 611,580 Z" fill="#f0d850" stroke="#5e4c06" stroke-width="0.3" fill-opacity="0.5" stroke-opacity="0.5"/>
<line x1="613.27" y1="579.97" x2="613.70" y2="577.53" stroke="#b89a12" stroke-width="0.64"/><line x1="615.07" y1="579.67" x2="615.50" y2="577.23" stroke="#b89a12" stroke-width="0.64"/><line x1="616.87" y1="579.37" x2="617.30" y2="576.93" stroke="#b89a12" stroke-width="0.64"/><line x1="618.67" y1="579.07" x2="619.10" y2="576.63" stroke="#b89a12" stroke-width="0.64"/><line x1="620.47" y1="578.77" x2="620.90" y2="576.33" stroke="#b89a12" stroke-width="0.64"/><line x1="622.27" y1="578.47" x2="622.70" y2="576.03" stroke="#b89a12" stroke-width="0.64"/><line x1="624.07" y1="578.17" x2="624.50" y2="575.73" stroke="#b89a12" stroke-width="0.64"/><line x1="625.87" y1="577.87" x2="626.30" y2="575.43" stroke="#b89a12" stroke-width="0.64"/><line x1="627.67" y1="577.57" x2="628.10" y2="575.13" stroke="#b89a12" stroke-width="0.64"/><line x1="629.47" y1="577.27" x2="629.90" y2="574.83" stroke="#b89a12" stroke-width="0.64"/><ellipse cx="612.90" cy="578.85" rx="0.77" ry="1.43" transform="rotate(-31.5 612.90 578.85)" fill="#f0d21e" stroke="#5e4c06" stroke-width="0.25"/><ellipse cx="614.70" cy="578.55" rx="0.77" ry="1.43" transform="rotate(-31.5 614.70 578.55)" fill="#f0d21e" stroke="#5e4c06" stroke-width="0.25"/><ellipse cx="616.50" cy="578.25" rx="0.77" ry="1.43" transform="rotate(-31.5 616.50 578.25)" fill="#f0d21e" stroke="#5e4c06" stroke-width="0.25"/><ellipse cx="618.30" cy="577.95" rx="0.77" ry="1.43" transform="rotate(-31.5 618.30 577.95)" fill="#f0d21e" stroke="#5e4c06" stroke-width="0.25"/><ellipse cx="620.10" cy="577.65" rx="0.77" ry="1.43" transform="rotate(-31.5 620.10 577.65)" fill="#f0d21e" stroke="#5e4c06" stroke-width="0.25"/><ellipse cx="621.90" cy="577.35" rx="0.77" ry="1.43" transform="rotate(-31.5 621.90 577.35)" fill="#f0d21e" stroke="#5e4c06" stroke-width="0.25"/><ellipse cx="623.70" cy="577.05" rx="0.77" ry="1.43" transform="rotate(-31.5 623.70 577.05)" fill="#f0d21e" stroke="#5e4c06" stroke-width="0.25"/><ellipse cx="625.50" cy="576.75" rx="0.77" ry="1.43" transform="rotate(-31.5 625.50 576.75)" fill="#f0d21e" stroke="#5e4c06" stroke-width="0.25"/><ellipse cx="627.30" cy="576.45" rx="0.77" ry="1.43" transform="rotate(-31.5 627.30 576.45)" fill="#f0d21e" stroke="#5e4c06" stroke-width="0.25"/><ellipse cx="629.10" cy="576.15" rx="0.77" ry="1.43" transform="rotate(-31.5 629.10 576.15)" fill="#f0d21e" stroke="#5e4c06" stroke-width="0.25"/>
<line x1="617.21" y1="587.06" x2="617.79" y2="584.64" stroke="#b89a12" stroke-width="0.64"/><line x1="619.03" y1="586.87" x2="619.61" y2="584.46" stroke="#b89a12" stroke-width="0.64"/><line x1="620.84" y1="586.69" x2="621.43" y2="584.28" stroke="#b89a12" stroke-width="0.64"/><line x1="622.66" y1="586.51" x2="623.25" y2="584.10" stroke="#b89a12" stroke-width="0.64"/><line x1="624.48" y1="586.33" x2="625.07" y2="583.92" stroke="#b89a12" stroke-width="0.64"/><line x1="626.30" y1="586.15" x2="626.88" y2="583.74" stroke="#b89a12" stroke-width="0.64"/><line x1="628.12" y1="585.96" x2="628.70" y2="583.55" stroke="#b89a12" stroke-width="0.64"/><line x1="629.93" y1="585.78" x2="630.52" y2="583.37" stroke="#b89a12" stroke-width="0.64"/><line x1="631.75" y1="585.60" x2="632.34" y2="583.19" stroke="#b89a12" stroke-width="0.64"/><line x1="633.57" y1="585.42" x2="634.16" y2="583.01" stroke="#b89a12" stroke-width="0.64"/><line x1="635.39" y1="585.24" x2="635.97" y2="582.83" stroke="#b89a12" stroke-width="0.64"/><ellipse cx="616.91" cy="585.91" rx="0.77" ry="1.43" transform="rotate(-27.7 616.91 585.91)" fill="#f0d21e" stroke="#5e4c06" stroke-width="0.25"/><ellipse cx="618.73" cy="585.73" rx="0.77" ry="1.43" transform="rotate(-27.7 618.73 585.73)" fill="#f0d21e" stroke="#5e4c06" stroke-width="0.25"/><ellipse cx="620.55" cy="585.55" rx="0.77" ry="1.43" transform="rotate(-27.7 620.55 585.55)" fill="#f0d21e" stroke="#5e4c06" stroke-width="0.25"/><ellipse cx="622.36" cy="585.36" rx="0.77" ry="1.43" transform="rotate(-27.7 622.36 585.36)" fill="#f0d21e" stroke="#5e4c06" stroke-width="0.25"/><ellipse cx="624.18" cy="585.18" rx="0.77" ry="1.43" transform="rotate(-27.7 624.18 585.18)" fill="#f0d21e" stroke="#5e4c06" stroke-width="0.25"/><ellipse cx="626.00" cy="585.00" rx="0.77" ry="1.43" transform="rotate(-27.7 626.00 585.00)" fill="#f0d21e" stroke="#5e4c06" stroke-width="0.25"/><ellipse cx="627.82" cy="584.82" rx="0.77" ry="1.43" transform="rotate(-27.7 627.82 584.82)" fill="#f0d21e" stroke="#5e4c06" stroke-width="0.25"/><ellipse cx="629.64" cy="584.64" rx="0.77" ry="1.43" transform="rotate(-27.7 629.64 584.64)" fill="#f0d21e" stroke="#5e4c06" stroke-width="0.25"/><ellipse cx="631.45" cy="584.45" rx="0.77" ry="1.43" transform="rotate(-27.7 631.45 584.45)" fill="#f0d21e" stroke="#5e4c06" stroke-width="0.25"/><ellipse cx="633.27" cy="584.27" rx="0.77" ry="1.43" transform="rotate(-27.7 633.27 584.27)" fill="#f0d21e" stroke="#5e4c06" stroke-width="0.25"/><ellipse cx="635.09" cy="584.09" rx="0.77" ry="1.43" transform="rotate(-27.7 635.09 584.09)" fill="#f0d21e" stroke="#5e4c06" stroke-width="0.25"/>
<line x1="621.14" y1="591.93" x2="621.86" y2="589.92" stroke="#b89a12" stroke-width="0.64"/><line x1="622.96" y1="591.84" x2="623.68" y2="589.82" stroke="#b89a12" stroke-width="0.64"/><line x1="624.78" y1="591.75" x2="625.50" y2="589.73" stroke="#b89a12" stroke-width="0.64"/><line x1="626.59" y1="591.66" x2="627.31" y2="589.64" stroke="#b89a12" stroke-width="0.64"/><line x1="628.41" y1="591.57" x2="629.13" y2="589.55" stroke="#b89a12" stroke-width="0.64"/><line x1="630.23" y1="591.48" x2="630.95" y2="589.46" stroke="#b89a12" stroke-width="0.64"/><line x1="632.05" y1="591.39" x2="632.77" y2="589.37" stroke="#b89a12" stroke-width="0.64"/><line x1="633.87" y1="591.30" x2="634.59" y2="589.28" stroke="#b89a12" stroke-width="0.64"/><line x1="635.69" y1="591.21" x2="636.41" y2="589.19" stroke="#b89a12" stroke-width="0.64"/><line x1="637.50" y1="591.12" x2="638.22" y2="589.10" stroke="#b89a12" stroke-width="0.64"/><line x1="639.32" y1="591.03" x2="640.04" y2="589.01" stroke="#b89a12" stroke-width="0.64"/><ellipse cx="620.91" cy="590.95" rx="0.76" ry="1.21" transform="rotate(-24.9 620.91 590.95)" fill="#f0d21e" stroke="#5e4c06" stroke-width="0.25"/><ellipse cx="622.73" cy="590.86" rx="0.76" ry="1.21" transform="rotate(-24.9 622.73 590.86)" fill="#f0d21e" stroke="#5e4c06" stroke-width="0.25"/><ellipse cx="624.55" cy="590.77" rx="0.76" ry="1.21" transform="rotate(-24.9 624.55 590.77)" fill="#f0d21e" stroke="#5e4c06" stroke-width="0.25"/><ellipse cx="626.36" cy="590.68" rx="0.76" ry="1.21" transform="rotate(-24.9 626.36 590.68)" fill="#f0d21e" stroke="#5e4c06" stroke-width="0.25"/><ellipse cx="628.18" cy="590.59" rx="0.76" ry="1.21" transform="rotate(-24.9 628.18 590.59)" fill="#f0d21e" stroke="#5e4c06" stroke-width="0.25"/><ellipse cx="630.00" cy="590.50" rx="0.76" ry="1.21" transform="rotate(-24.9 630.00 590.50)" fill="#f0d21e" stroke="#5e4c06" stroke-width="0.25"/><ellipse cx="631.82" cy="590.41" rx="0.76" ry="1.21" transform="rotate(-24.9 631.82 590.41)" fill="#f0d21e" stroke="#5e4c06" stroke-width="0.25"/><ellipse cx="633.64" cy="590.32" rx="0.76" ry="1.21" transform="rotate(-24.9 633.64 590.32)" fill="#f0d21e" stroke="#5e4c06" stroke-width="0.25"/><ellipse cx="635.45" cy="590.23" rx="0.76" ry="1.21" transform="rotate(-24.9 635.45 590.23)" fill="#f0d21e" stroke="#5e4c06" stroke-width="0.25"/><ellipse cx="637.27" cy="590.14" rx="0.76" ry="1.21" transform="rotate(-24.9 637.27 590.14)" fill="#f0d21e" stroke="#5e4c06" stroke-width="0.25"/><ellipse cx="639.09" cy="590.05" rx="0.76" ry="1.21" transform="rotate(-24.9 639.09 590.05)" fill="#f0d21e" stroke="#5e4c06" stroke-width="0.25"/>
<line x1="628.75" y1="579.34" x2="630.13" y2="577.49" stroke="#b89a12" stroke-width="0.64"/><line x1="630.50" y1="579.84" x2="631.88" y2="577.99" stroke="#b89a12" stroke-width="0.64"/><line x1="632.25" y1="580.34" x2="633.63" y2="578.49" stroke="#b89a12" stroke-width="0.64"/><line x1="634.00" y1="580.84" x2="635.38" y2="578.99" stroke="#b89a12" stroke-width="0.64"/><line x1="635.75" y1="581.34" x2="637.13" y2="579.49" stroke="#b89a12" stroke-width="0.64"/><line x1="637.50" y1="581.84" x2="638.88" y2="579.99" stroke="#b89a12" stroke-width="0.64"/><line x1="639.25" y1="582.34" x2="640.63" y2="580.49" stroke="#b89a12" stroke-width="0.64"/><line x1="641.00" y1="582.84" x2="642.38" y2="580.99" stroke="#b89a12" stroke-width="0.64"/><ellipse cx="628.88" cy="578.25" rx="0.76" ry="1.32" transform="rotate(-6.1 628.88 578.25)" fill="#f0d21e" stroke="#5e4c06" stroke-width="0.25"/><ellipse cx="630.62" cy="578.75" rx="0.76" ry="1.32" transform="rotate(-6.1 630.62 578.75)" fill="#f0d21e" stroke="#5e4c06" stroke-width="0.25"/><ellipse cx="632.38" cy="579.25" rx="0.76" ry="1.32" transform="rotate(-6.1 632.38 579.25)" fill="#f0d21e" stroke="#5e4c06" stroke-width="0.25"/><ellipse cx="634.12" cy="579.75" rx="0.76" ry="1.32" transform="rotate(-6.1 634.12 579.75)" fill="#f0d21e" stroke="#5e4c06" stroke-width="0.25"/><ellipse cx="635.88" cy="580.25" rx="0.76" ry="1.32" transform="rotate(-6.1 635.88 580.25)" fill="#f0d21e" stroke="#5e4c06" stroke-width="0.25"/><ellipse cx="637.62" cy="580.75" rx="0.76" ry="1.32" transform="rotate(-6.1 637.62 580.75)" fill="#f0d21e" stroke="#5e4c06" stroke-width="0.25"/><ellipse cx="639.38" cy="581.25" rx="0.76" ry="1.32" transform="rotate(-6.1 639.38 581.25)" fill="#f0d21e" stroke="#5e4c06" stroke-width="0.25"/><ellipse cx="641.12" cy="581.75" rx="0.76" ry="1.32" transform="rotate(-6.1 641.12 581.75)" fill="#f0d21e" stroke="#5e4c06" stroke-width="0.25"/>
<line x1="612.00" y1="585.50" x2="613.98" y2="585.14" stroke="#b89a12" stroke-width="0.70"/><line x1="613.20" y1="587.10" x2="615.18" y2="586.74" stroke="#b89a12" stroke-width="0.70"/><line x1="614.40" y1="588.70" x2="616.38" y2="588.34" stroke="#b89a12" stroke-width="0.70"/><line x1="615.60" y1="590.30" x2="617.58" y2="589.94" stroke="#b89a12" stroke-width="0.70"/><line x1="616.80" y1="591.90" x2="618.78" y2="591.54" stroke="#b89a12" stroke-width="0.70"/><ellipse cx="612.60" cy="584.80" rx="0.84" ry="1.10" transform="rotate(31.1 612.60 584.80)" fill="#f0d21e" stroke="#5e4c06" stroke-width="0.25"/><ellipse cx="613.80" cy="586.40" rx="0.84" ry="1.10" transform="rotate(31.1 613.80 586.40)" fill="#f0d21e" stroke="#5e4c06" stroke-width="0.25"/><ellipse cx="615.00" cy="588.00" rx="0.84" ry="1.10" transform="rotate(31.1 615.00 588.00)" fill="#f0d21e" stroke="#5e4c06" stroke-width="0.25"/><ellipse cx="616.20" cy="589.60" rx="0.84" ry="1.10" transform="rotate(31.1 616.20 589.60)" fill="#f0d21e" stroke="#5e4c06" stroke-width="0.25"/><ellipse cx="617.40" cy="591.20" rx="0.84" ry="1.10" transform="rotate(31.1 617.40 591.20)" fill="#f0d21e" stroke="#5e4c06" stroke-width="0.25"/>
<path d="M611,580 C614,575 622,574 626,578 M618,592 C624,588 632,592 638,589 M626,574 C630,578 636,576 640,574" fill="none" stroke="#5e4c06" stroke-width="0.5"/>
<line x1="637.25" y1="583.47" x2="638.53" y2="580.88" stroke="#b89a12" stroke-width="0.80"/><line x1="639.53" y1="583.69" x2="640.81" y2="581.10" stroke="#b89a12" stroke-width="0.80"/><line x1="641.82" y1="583.90" x2="643.10" y2="581.31" stroke="#b89a12" stroke-width="0.80"/><line x1="644.10" y1="584.12" x2="645.38" y2="581.52" stroke="#b89a12" stroke-width="0.80"/><line x1="646.39" y1="584.33" x2="647.67" y2="581.74" stroke="#b89a12" stroke-width="0.80"/><line x1="648.67" y1="584.54" x2="649.95" y2="581.95" stroke="#b89a12" stroke-width="0.80"/><line x1="650.96" y1="584.76" x2="652.24" y2="582.17" stroke="#b89a12" stroke-width="0.80"/><line x1="653.25" y1="584.97" x2="654.53" y2="582.38" stroke="#b89a12" stroke-width="0.80"/><line x1="655.53" y1="585.19" x2="656.81" y2="582.60" stroke="#b89a12" stroke-width="0.80"/><line x1="657.82" y1="585.40" x2="659.10" y2="582.81" stroke="#b89a12" stroke-width="0.80"/><line x1="660.10" y1="585.62" x2="661.38" y2="583.02" stroke="#b89a12" stroke-width="0.80"/><line x1="662.39" y1="585.83" x2="663.67" y2="583.24" stroke="#b89a12" stroke-width="0.80"/><line x1="664.67" y1="586.04" x2="665.95" y2="583.45" stroke="#b89a12" stroke-width="0.80"/><line x1="666.96" y1="586.26" x2="668.24" y2="583.67" stroke="#b89a12" stroke-width="0.80"/><ellipse cx="637.14" cy="582.11" rx="0.96" ry="1.65" transform="rotate(-16.6 637.14 582.11)" fill="#f0d21e" stroke="#5e4c06" stroke-width="0.25"/><ellipse cx="639.43" cy="582.32" rx="0.96" ry="1.65" transform="rotate(-16.6 639.43 582.32)" fill="#f0d21e" stroke="#5e4c06" stroke-width="0.25"/><ellipse cx="641.71" cy="582.54" rx="0.96" ry="1.65" transform="rotate(-16.6 641.71 582.54)" fill="#f0d21e" stroke="#5e4c06" stroke-width="0.25"/><ellipse cx="644.00" cy="582.75" rx="0.96" ry="1.65" transform="rotate(-16.6 644.00 582.75)" fill="#f0d21e" stroke="#5e4c06" stroke-width="0.25"/><ellipse cx="646.29" cy="582.96" rx="0.96" ry="1.65" transform="rotate(-16.6 646.29 582.96)" fill="#f0d21e" stroke="#5e4c06" stroke-width="0.25"/><ellipse cx="648.57" cy="583.18" rx="0.96" ry="1.65" transform="rotate(-16.6 648.57 583.18)" fill="#f0d21e" stroke="#5e4c06" stroke-width="0.25"/><ellipse cx="650.86" cy="583.39" rx="0.96" ry="1.65" transform="rotate(-16.6 650.86 583.39)" fill="#f0d21e" stroke="#5e4c06" stroke-width="0.25"/><ellipse cx="653.14" cy="583.61" rx="0.96" ry="1.65" transform="rotate(-16.6 653.14 583.61)" fill="#f0d21e" stroke="#5e4c06" stroke-width="0.25"/><ellipse cx="655.43" cy="583.82" rx="0.96" ry="1.65" transform="rotate(-16.6 655.43 583.82)" fill="#f0d21e" stroke="#5e4c06" stroke-width="0.25"/><ellipse cx="657.71" cy="584.04" rx="0.96" ry="1.65" transform="rotate(-16.6 657.71 584.04)" fill="#f0d21e" stroke="#5e4c06" stroke-width="0.25"/><ellipse cx="660.00" cy="584.25" rx="0.96" ry="1.65" transform="rotate(-16.6 660.00 584.25)" fill="#f0d21e" stroke="#5e4c06" stroke-width="0.25"/><ellipse cx="662.29" cy="584.46" rx="0.96" ry="1.65" transform="rotate(-16.6 662.29 584.46)" fill="#f0d21e" stroke="#5e4c06" stroke-width="0.25"/><ellipse cx="664.57" cy="584.68" rx="0.96" ry="1.65" transform="rotate(-16.6 664.57 584.68)" fill="#f0d21e" stroke="#5e4c06" stroke-width="0.25"/><ellipse cx="666.86" cy="584.89" rx="0.96" ry="1.65" transform="rotate(-16.6 666.86 584.89)" fill="#f0d21e" stroke="#5e4c06" stroke-width="0.25"/>
<line x1="606.14" y1="544.75" x2="609.78" y2="542.34" stroke="#b89a12" stroke-width="1.06"/><line x1="608.52" y1="546.62" x2="612.15" y2="544.22" stroke="#b89a12" stroke-width="1.06"/><line x1="610.89" y1="548.50" x2="614.53" y2="546.09" stroke="#b89a12" stroke-width="1.06"/><line x1="613.27" y1="550.37" x2="616.90" y2="547.97" stroke="#b89a12" stroke-width="1.06"/><line x1="615.64" y1="552.25" x2="619.28" y2="549.84" stroke="#b89a12" stroke-width="1.06"/><line x1="618.02" y1="554.12" x2="621.65" y2="551.72" stroke="#b89a12" stroke-width="1.06"/><line x1="620.39" y1="556.00" x2="624.03" y2="553.59" stroke="#b89a12" stroke-width="1.06"/><line x1="622.77" y1="557.87" x2="626.40" y2="555.47" stroke="#b89a12" stroke-width="1.06"/><line x1="625.14" y1="559.75" x2="628.78" y2="557.34" stroke="#b89a12" stroke-width="1.06"/><line x1="627.52" y1="561.62" x2="631.15" y2="559.22" stroke="#b89a12" stroke-width="1.06"/><line x1="629.89" y1="563.50" x2="633.53" y2="561.09" stroke="#b89a12" stroke-width="1.06"/><line x1="632.27" y1="565.37" x2="635.90" y2="562.97" stroke="#b89a12" stroke-width="1.06"/><line x1="634.64" y1="567.25" x2="638.28" y2="564.84" stroke="#b89a12" stroke-width="1.06"/><line x1="637.02" y1="569.12" x2="640.65" y2="566.72" stroke="#b89a12" stroke-width="1.06"/><line x1="639.39" y1="571.00" x2="643.03" y2="568.59" stroke="#b89a12" stroke-width="1.06"/><line x1="641.77" y1="572.87" x2="645.40" y2="570.47" stroke="#b89a12" stroke-width="1.06"/><ellipse cx="607.19" cy="542.94" rx="1.27" ry="2.53" transform="rotate(16.3 607.19 542.94)" fill="#f0d21e" stroke="#5e4c06" stroke-width="0.25"/><ellipse cx="609.56" cy="544.81" rx="1.27" ry="2.53" transform="rotate(16.3 609.56 544.81)" fill="#f0d21e" stroke="#5e4c06" stroke-width="0.25"/><ellipse cx="611.94" cy="546.69" rx="1.27" ry="2.53" transform="rotate(16.3 611.94 546.69)" fill="#f0d21e" stroke="#5e4c06" stroke-width="0.25"/><ellipse cx="614.31" cy="548.56" rx="1.27" ry="2.53" transform="rotate(16.3 614.31 548.56)" fill="#f0d21e" stroke="#5e4c06" stroke-width="0.25"/><ellipse cx="616.69" cy="550.44" rx="1.27" ry="2.53" transform="rotate(16.3 616.69 550.44)" fill="#f0d21e" stroke="#5e4c06" stroke-width="0.25"/><ellipse cx="619.06" cy="552.31" rx="1.27" ry="2.53" transform="rotate(16.3 619.06 552.31)" fill="#f0d21e" stroke="#5e4c06" stroke-width="0.25"/><ellipse cx="621.44" cy="554.19" rx="1.27" ry="2.53" transform="rotate(16.3 621.44 554.19)" fill="#f0d21e" stroke="#5e4c06" stroke-width="0.25"/><ellipse cx="623.81" cy="556.06" rx="1.27" ry="2.53" transform="rotate(16.3 623.81 556.06)" fill="#f0d21e" stroke="#5e4c06" stroke-width="0.25"/><ellipse cx="626.19" cy="557.94" rx="1.27" ry="2.53" transform="rotate(16.3 626.19 557.94)" fill="#f0d21e" stroke="#5e4c06" stroke-width="0.25"/><ellipse cx="628.56" cy="559.81" rx="1.27" ry="2.53" transform="rotate(16.3 628.56 559.81)" fill="#f0d21e" stroke="#5e4c06" stroke-width="0.25"/><ellipse cx="630.94" cy="561.69" rx="1.27" ry="2.53" transform="rotate(16.3 630.94 561.69)" fill="#f0d21e" stroke="#5e4c06" stroke-width="0.25"/><ellipse cx="633.31" cy="563.56" rx="1.27" ry="2.53" transform="rotate(16.3 633.31 563.56)" fill="#f0d21e" stroke="#5e4c06" stroke-width="0.25"/><ellipse cx="635.69" cy="565.44" rx="1.27" ry="2.53" transform="rotate(16.3 635.69 565.44)" fill="#f0d21e" stroke="#5e4c06" stroke-width="0.25"/><ellipse cx="638.06" cy="567.31" rx="1.27" ry="2.53" transform="rotate(16.3 638.06 567.31)" fill="#f0d21e" stroke="#5e4c06" stroke-width="0.25"/><ellipse cx="640.44" cy="569.19" rx="1.27" ry="2.53" transform="rotate(16.3 640.44 569.19)" fill="#f0d21e" stroke="#5e4c06" stroke-width="0.25"/><ellipse cx="642.81" cy="571.06" rx="1.27" ry="2.53" transform="rotate(16.3 642.81 571.06)" fill="#f0d21e" stroke="#5e4c06" stroke-width="0.25"/>
<line x1="626.60" y1="544.78" x2="630.70" y2="543.25" stroke="#b89a12" stroke-width="1.10"/><line x1="628.60" y1="547.21" x2="632.70" y2="545.68" stroke="#b89a12" stroke-width="1.10"/><line x1="630.60" y1="549.65" x2="634.70" y2="548.12" stroke="#b89a12" stroke-width="1.10"/><line x1="632.60" y1="552.09" x2="636.70" y2="550.56" stroke="#b89a12" stroke-width="1.10"/><line x1="634.60" y1="554.53" x2="638.70" y2="553.00" stroke="#b89a12" stroke-width="1.10"/><line x1="636.60" y1="556.96" x2="640.70" y2="555.43" stroke="#b89a12" stroke-width="1.10"/><line x1="638.60" y1="559.40" x2="642.70" y2="557.87" stroke="#b89a12" stroke-width="1.10"/><line x1="640.60" y1="561.84" x2="644.70" y2="560.31" stroke="#b89a12" stroke-width="1.10"/><line x1="642.60" y1="564.28" x2="646.70" y2="562.75" stroke="#b89a12" stroke-width="1.10"/><line x1="644.60" y1="566.71" x2="648.70" y2="565.18" stroke="#b89a12" stroke-width="1.10"/><line x1="646.60" y1="569.15" x2="650.70" y2="567.62" stroke="#b89a12" stroke-width="1.10"/><line x1="648.60" y1="571.59" x2="652.70" y2="570.06" stroke="#b89a12" stroke-width="1.10"/><line x1="650.60" y1="574.03" x2="654.70" y2="572.50" stroke="#b89a12" stroke-width="1.10"/><line x1="652.60" y1="576.46" x2="656.70" y2="574.93" stroke="#b89a12" stroke-width="1.10"/><line x1="654.60" y1="578.90" x2="658.70" y2="577.37" stroke="#b89a12" stroke-width="1.10"/><line x1="656.60" y1="581.34" x2="660.70" y2="579.81" stroke="#b89a12" stroke-width="1.10"/><ellipse cx="628.00" cy="543.22" rx="1.32" ry="2.53" transform="rotate(28.6 628.00 543.22)" fill="#f0d21e" stroke="#5e4c06" stroke-width="0.25"/><ellipse cx="630.00" cy="545.66" rx="1.32" ry="2.53" transform="rotate(28.6 630.00 545.66)" fill="#f0d21e" stroke="#5e4c06" stroke-width="0.25"/><ellipse cx="632.00" cy="548.09" rx="1.32" ry="2.53" transform="rotate(28.6 632.00 548.09)" fill="#f0d21e" stroke="#5e4c06" stroke-width="0.25"/><ellipse cx="634.00" cy="550.53" rx="1.32" ry="2.53" transform="rotate(28.6 634.00 550.53)" fill="#f0d21e" stroke="#5e4c06" stroke-width="0.25"/><ellipse cx="636.00" cy="552.97" rx="1.32" ry="2.53" transform="rotate(28.6 636.00 552.97)" fill="#f0d21e" stroke="#5e4c06" stroke-width="0.25"/><ellipse cx="638.00" cy="555.41" rx="1.32" ry="2.53" transform="rotate(28.6 638.00 555.41)" fill="#f0d21e" stroke="#5e4c06" stroke-width="0.25"/><ellipse cx="640.00" cy="557.84" rx="1.32" ry="2.53" transform="rotate(28.6 640.00 557.84)" fill="#f0d21e" stroke="#5e4c06" stroke-width="0.25"/><ellipse cx="642.00" cy="560.28" rx="1.32" ry="2.53" transform="rotate(28.6 642.00 560.28)" fill="#f0d21e" stroke="#5e4c06" stroke-width="0.25"/><ellipse cx="644.00" cy="562.72" rx="1.32" ry="2.53" transform="rotate(28.6 644.00 562.72)" fill="#f0d21e" stroke="#5e4c06" stroke-width="0.25"/><ellipse cx="646.00" cy="565.16" rx="1.32" ry="2.53" transform="rotate(28.6 646.00 565.16)" fill="#f0d21e" stroke="#5e4c06" stroke-width="0.25"/><ellipse cx="648.00" cy="567.59" rx="1.32" ry="2.53" transform="rotate(28.6 648.00 567.59)" fill="#f0d21e" stroke="#5e4c06" stroke-width="0.25"/><ellipse cx="650.00" cy="570.03" rx="1.32" ry="2.53" transform="rotate(28.6 650.00 570.03)" fill="#f0d21e" stroke="#5e4c06" stroke-width="0.25"/><ellipse cx="652.00" cy="572.47" rx="1.32" ry="2.53" transform="rotate(28.6 652.00 572.47)" fill="#f0d21e" stroke="#5e4c06" stroke-width="0.25"/><ellipse cx="654.00" cy="574.91" rx="1.32" ry="2.53" transform="rotate(28.6 654.00 574.91)" fill="#f0d21e" stroke="#5e4c06" stroke-width="0.25"/><ellipse cx="656.00" cy="577.34" rx="1.32" ry="2.53" transform="rotate(28.6 656.00 577.34)" fill="#f0d21e" stroke="#5e4c06" stroke-width="0.25"/><ellipse cx="658.00" cy="579.78" rx="1.32" ry="2.53" transform="rotate(28.6 658.00 579.78)" fill="#f0d21e" stroke="#5e4c06" stroke-width="0.25"/>
<line x1="647.75" y1="527.68" x2="651.99" y2="529.27" stroke="#0e2230" stroke-width="1.05"/><line x1="647.59" y1="530.68" x2="651.83" y2="532.27" stroke="#0e2230" stroke-width="1.05"/><line x1="647.42" y1="533.68" x2="651.66" y2="535.27" stroke="#0e2230" stroke-width="1.05"/><line x1="647.26" y1="536.68" x2="651.50" y2="538.27" stroke="#0e2230" stroke-width="1.05"/><line x1="647.10" y1="539.68" x2="651.34" y2="541.27" stroke="#0e2230" stroke-width="1.05"/><line x1="646.94" y1="542.68" x2="651.18" y2="544.27" stroke="#0e2230" stroke-width="1.05"/><line x1="646.78" y1="545.68" x2="651.02" y2="547.27" stroke="#0e2230" stroke-width="1.05"/><line x1="646.62" y1="548.68" x2="650.86" y2="550.27" stroke="#0e2230" stroke-width="1.05"/><line x1="646.46" y1="551.68" x2="650.70" y2="553.27" stroke="#0e2230" stroke-width="1.05"/><line x1="646.29" y1="554.68" x2="650.54" y2="556.27" stroke="#0e2230" stroke-width="1.05"/><line x1="646.13" y1="557.68" x2="650.37" y2="559.27" stroke="#0e2230" stroke-width="1.05"/><line x1="645.97" y1="560.68" x2="650.21" y2="562.27" stroke="#0e2230" stroke-width="1.05"/><line x1="645.81" y1="563.68" x2="650.05" y2="565.27" stroke="#0e2230" stroke-width="1.05"/><line x1="645.65" y1="566.68" x2="649.89" y2="568.27" stroke="#0e2230" stroke-width="1.05"/><line x1="645.49" y1="569.68" x2="649.73" y2="571.27" stroke="#0e2230" stroke-width="1.05"/><line x1="645.33" y1="572.68" x2="649.57" y2="574.27" stroke="#0e2230" stroke-width="1.05"/><line x1="645.17" y1="575.68" x2="649.41" y2="577.27" stroke="#0e2230" stroke-width="1.05"/><line x1="645.00" y1="578.68" x2="649.25" y2="580.27" stroke="#0e2230" stroke-width="1.05"/><line x1="644.84" y1="581.68" x2="649.08" y2="583.27" stroke="#0e2230" stroke-width="1.05"/><line x1="644.68" y1="584.68" x2="648.92" y2="586.27" stroke="#0e2230" stroke-width="1.05"/><line x1="644.52" y1="587.68" x2="648.76" y2="589.27" stroke="#0e2230" stroke-width="1.05"/><line x1="644.36" y1="590.68" x2="648.60" y2="592.27" stroke="#0e2230" stroke-width="1.05"/><line x1="644.20" y1="593.68" x2="648.44" y2="595.27" stroke="#0e2230" stroke-width="1.05"/><line x1="644.04" y1="596.68" x2="648.28" y2="598.27" stroke="#0e2230" stroke-width="1.05"/><line x1="643.88" y1="599.68" x2="648.12" y2="601.27" stroke="#0e2230" stroke-width="1.05"/><line x1="643.71" y1="602.68" x2="647.96" y2="604.27" stroke="#0e2230" stroke-width="1.05"/><line x1="643.55" y1="605.68" x2="647.79" y2="607.27" stroke="#0e2230" stroke-width="1.05"/><line x1="643.39" y1="608.68" x2="647.63" y2="610.27" stroke="#0e2230" stroke-width="1.05"/><line x1="643.23" y1="611.68" x2="647.47" y2="613.27" stroke="#0e2230" stroke-width="1.05"/><line x1="643.07" y1="614.68" x2="647.31" y2="616.27" stroke="#0e2230" stroke-width="1.05"/><line x1="642.91" y1="617.68" x2="647.15" y2="619.27" stroke="#0e2230" stroke-width="1.05"/><ellipse cx="649.92" cy="527.50" rx="1.26" ry="2.64" transform="rotate(71.1 649.92 527.50)" fill="#23445a" stroke="#08141c" stroke-width="0.25"/><ellipse cx="649.76" cy="530.50" rx="1.26" ry="2.64" transform="rotate(71.1 649.76 530.50)" fill="#23445a" stroke="#08141c" stroke-width="0.25"/><ellipse cx="649.60" cy="533.50" rx="1.26" ry="2.64" transform="rotate(71.1 649.60 533.50)" fill="#23445a" stroke="#08141c" stroke-width="0.25"/><ellipse cx="649.44" cy="536.50" rx="1.26" ry="2.64" transform="rotate(71.1 649.44 536.50)" fill="#23445a" stroke="#08141c" stroke-width="0.25"/><ellipse cx="649.27" cy="539.50" rx="1.26" ry="2.64" transform="rotate(71.1 649.27 539.50)" fill="#23445a" stroke="#08141c" stroke-width="0.25"/><ellipse cx="649.11" cy="542.50" rx="1.26" ry="2.64" transform="rotate(71.1 649.11 542.50)" fill="#23445a" stroke="#08141c" stroke-width="0.25"/><ellipse cx="648.95" cy="545.50" rx="1.26" ry="2.64" transform="rotate(71.1 648.95 545.50)" fill="#23445a" stroke="#08141c" stroke-width="0.25"/><ellipse cx="648.79" cy="548.50" rx="1.26" ry="2.64" transform="rotate(71.1 648.79 548.50)" fill="#23445a" stroke="#08141c" stroke-width="0.25"/><ellipse cx="648.63" cy="551.50" rx="1.26" ry="2.64" transform="rotate(71.1 648.63 551.50)" fill="#23445a" stroke="#08141c" stroke-width="0.25"/><ellipse cx="648.47" cy="554.50" rx="1.26" ry="2.64" transform="rotate(71.1 648.47 554.50)" fill="#23445a" stroke="#08141c" stroke-width="0.25"/><ellipse cx="648.31" cy="557.50" rx="1.26" ry="2.64" transform="rotate(71.1 648.31 557.50)" fill="#23445a" stroke="#08141c" stroke-width="0.25"/><ellipse cx="648.15" cy="560.50" rx="1.26" ry="2.64" transform="rotate(71.1 648.15 560.50)" fill="#23445a" stroke="#08141c" stroke-width="0.25"/><ellipse cx="647.98" cy="563.50" rx="1.26" ry="2.64" transform="rotate(71.1 647.98 563.50)" fill="#23445a" stroke="#08141c" stroke-width="0.25"/><ellipse cx="647.82" cy="566.50" rx="1.26" ry="2.64" transform="rotate(71.1 647.82 566.50)" fill="#23445a" stroke="#08141c" stroke-width="0.25"/><ellipse cx="647.66" cy="569.50" rx="1.26" ry="2.64" transform="rotate(71.1 647.66 569.50)" fill="#23445a" stroke="#08141c" stroke-width="0.25"/><ellipse cx="647.50" cy="572.50" rx="1.26" ry="2.64" transform="rotate(71.1 647.50 572.50)" fill="#23445a" stroke="#08141c" stroke-width="0.25"/><ellipse cx="647.34" cy="575.50" rx="1.26" ry="2.64" transform="rotate(71.1 647.34 575.50)" fill="#23445a" stroke="#08141c" stroke-width="0.25"/><ellipse cx="647.18" cy="578.50" rx="1.26" ry="2.64" transform="rotate(71.1 647.18 578.50)" fill="#23445a" stroke="#08141c" stroke-width="0.25"/><ellipse cx="647.02" cy="581.50" rx="1.26" ry="2.64" transform="rotate(71.1 647.02 581.50)" fill="#23445a" stroke="#08141c" stroke-width="0.25"/><ellipse cx="646.85" cy="584.50" rx="1.26" ry="2.64" transform="rotate(71.1 646.85 584.50)" fill="#23445a" stroke="#08141c" stroke-width="0.25"/><ellipse cx="646.69" cy="587.50" rx="1.26" ry="2.64" transform="rotate(71.1 646.69 587.50)" fill="#23445a" stroke="#08141c" stroke-width="0.25"/><ellipse cx="646.53" cy="590.50" rx="1.26" ry="2.64" transform="rotate(71.1 646.53 590.50)" fill="#23445a" stroke="#08141c" stroke-width="0.25"/><ellipse cx="646.37" cy="593.50" rx="1.26" ry="2.64" transform="rotate(71.1 646.37 593.50)" fill="#23445a" stroke="#08141c" stroke-width="0.25"/><ellipse cx="646.21" cy="596.50" rx="1.26" ry="2.64" transform="rotate(71.1 646.21 596.50)" fill="#23445a" stroke="#08141c" stroke-width="0.25"/><ellipse cx="646.05" cy="599.50" rx="1.26" ry="2.64" transform="rotate(71.1 646.05 599.50)" fill="#23445a" stroke="#08141c" stroke-width="0.25"/><ellipse cx="645.89" cy="602.50" rx="1.26" ry="2.64" transform="rotate(71.1 645.89 602.50)" fill="#23445a" stroke="#08141c" stroke-width="0.25"/><ellipse cx="645.73" cy="605.50" rx="1.26" ry="2.64" transform="rotate(71.1 645.73 605.50)" fill="#23445a" stroke="#08141c" stroke-width="0.25"/><ellipse cx="645.56" cy="608.50" rx="1.26" ry="2.64" transform="rotate(71.1 645.56 608.50)" fill="#23445a" stroke="#08141c" stroke-width="0.25"/><ellipse cx="645.40" cy="611.50" rx="1.26" ry="2.64" transform="rotate(71.1 645.40 611.50)" fill="#23445a" stroke="#08141c" stroke-width="0.25"/><ellipse cx="645.24" cy="614.50" rx="1.26" ry="2.64" transform="rotate(71.1 645.24 614.50)" fill="#23445a" stroke="#08141c" stroke-width="0.25"/><ellipse cx="645.08" cy="617.50" rx="1.26" ry="2.64" transform="rotate(71.1 645.08 617.50)" fill="#23445a" stroke="#08141c" stroke-width="0.25"/>
<path d="M650,526 C649,522 647,522 645,523" fill="none" stroke="#08141c" stroke-width="0.6"/>
<line x1="615.00" y1="609.00" x2="608.00" y2="621.00" stroke="#333" stroke-width="0.5"/>
<line x1="633.00" y1="610.00" x2="639.00" y2="621.00" stroke="#333" stroke-width="0.5"/>
<line x1="670.00" y1="608.00" x2="682.00" y2="621.00" stroke="#333" stroke-width="0.5"/>
<text transform="translate(609.10,632.80) scale(0.669,1.201)" font-size="10.0" font-weight="bold" fill="#e04a74">T</text>
<text transform="translate(613.39,632.80) scale(0.566,1.201)" font-size="10.0" font-weight="bold" fill="#5bb547">A</text>
<text transform="translate(617.67,632.80) scale(0.669,1.201)" font-size="10.0" font-weight="bold" fill="#e04a74">T</text>
<text transform="translate(621.96,632.80) scale(0.669,1.201)" font-size="10.0" font-weight="bold" fill="#e04a74">T</text>
<text transform="translate(626.24,632.80) scale(0.669,1.201)" font-size="10.0" font-weight="bold" fill="#e04a74">T</text>
<text transform="translate(630.53,632.80) scale(0.566,1.201)" font-size="10.0" font-weight="bold" fill="#5bb547">A</text>
<text transform="translate(634.81,632.80) scale(0.566,1.201)" font-size="10.0" font-weight="bold" fill="#2f7fd0">C</text>
<text transform="translate(650.10,632.80) scale(0.797,1.201)" font-size="10.0" font-weight="bold" fill="#e04a74">T</text>
<text transform="translate(655.17,632.80) scale(0.626,1.201)" font-size="10.0" font-weight="bold" fill="#f5b90f">G</text>
<text transform="translate(660.24,632.80) scale(0.675,1.201)" font-size="10.0" font-weight="bold" fill="#5bb547">A</text>
<text transform="translate(665.31,632.80) scale(0.675,1.201)" font-size="10.0" font-weight="bold" fill="#2f7fd0">C</text>
<text transform="translate(670.39,632.80) scale(0.797,1.201)" font-size="10.0" font-weight="bold" fill="#e04a74">T</text>
<text transform="translate(675.46,632.80) scale(0.675,1.201)" font-size="10.0" font-weight="bold" fill="#2f7fd0">C</text>
<text transform="translate(680.53,632.80) scale(0.675,1.201)" font-size="10.0" font-weight="bold" fill="#5bb547">A</text>
<text x="672.50" y="537.50" text-anchor="middle">JUN</text>
<line x1="655.00" y1="544.00" x2="666.00" y2="538.50" stroke="#333" stroke-width="0.5"/>
<text x="603.80" y="566.00" text-anchor="middle">FOXP1</text>
<line x1="613.50" y1="562.00" x2="620.00" y2="558.50" stroke="#333" stroke-width="0.5"/>
</svg></body></html>
